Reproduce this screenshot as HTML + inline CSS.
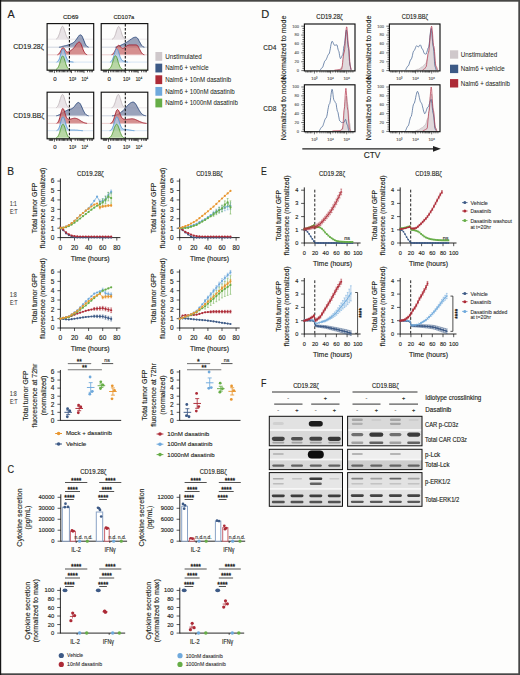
<!DOCTYPE html>
<html><head><meta charset="utf-8"><style>
html,body{margin:0;padding:0;background:#fdfdfc;}
svg{display:block;}
text{font-family:"Liberation Sans", sans-serif;}
</style></head><body>
<svg width="520" height="675" viewBox="0 0 520 675">
<rect width="520" height="675" fill="#fdfdfc"/>
<rect x="0.00" y="0.00" width="520.00" height="1.70" fill="#474745" />
<rect x="0.00" y="673.30" width="520.00" height="1.70" fill="#474747" />
<rect x="0.00" y="0.00" width="1.20" height="675.00" fill="#161616" />
<rect x="518.30" y="0.00" width="1.70" height="675.00" fill="#474747" />
<text x="7.60" y="17.80" font-size="11.2" text-anchor="start" fill="#231f20" stroke="#231f20" stroke-width="0.14" textLength="7.2" lengthAdjust="spacingAndGlyphs" >A</text>
<text x="70.70" y="19.10" font-size="6.0" text-anchor="middle" fill="#231f20" stroke="#231f20" stroke-width="0.14" textLength="15.6" lengthAdjust="spacingAndGlyphs" >CD69</text>
<text x="123.85" y="19.10" font-size="6.0" text-anchor="middle" fill="#231f20" stroke="#231f20" stroke-width="0.14" textLength="20.9" lengthAdjust="spacingAndGlyphs" >CD107a</text>
<text x="13.30" y="48.80" font-size="7.0" text-anchor="start" fill="#231f20" stroke="#231f20" stroke-width="0.14" textLength="30.5" lengthAdjust="spacingAndGlyphs" >CD19.28ζ</text>
<text x="13.30" y="117.60" font-size="7.0" text-anchor="start" fill="#231f20" stroke="#231f20" stroke-width="0.14" textLength="31" lengthAdjust="spacingAndGlyphs" >CD19.BBζ</text>
<rect x="155.40" y="52.00" width="6.80" height="8.80" fill="#cfc8cb" />
<text x="165.20" y="58.70" font-size="6.5" text-anchor="start" fill="#231f20" stroke="#231f20" stroke-width="0.04" textLength="36.5" lengthAdjust="spacingAndGlyphs" >Unstimulated</text>
<rect x="155.40" y="63.65" width="6.80" height="8.80" fill="#3d5a86" />
<text x="165.20" y="70.35" font-size="6.5" text-anchor="start" fill="#231f20" stroke="#231f20" stroke-width="0.04" textLength="43.5" lengthAdjust="spacingAndGlyphs" >Nalm6 + vehicle</text>
<rect x="155.40" y="75.30" width="6.80" height="8.80" fill="#ad2b37" />
<text x="165.20" y="82.00" font-size="6.5" text-anchor="start" fill="#231f20" stroke="#231f20" stroke-width="0.04" textLength="66" lengthAdjust="spacingAndGlyphs" >Nalm6 + 10nM dasatinib</text>
<rect x="155.40" y="86.95" width="6.80" height="8.80" fill="#6fa9dc" />
<text x="165.20" y="93.65" font-size="6.5" text-anchor="start" fill="#231f20" stroke="#231f20" stroke-width="0.04" textLength="69.5" lengthAdjust="spacingAndGlyphs" >Nalm6 + 100nM dasatinib</text>
<rect x="155.40" y="98.60" width="6.80" height="8.80" fill="#66ad47" />
<text x="165.20" y="105.30" font-size="6.5" text-anchor="start" fill="#231f20" stroke="#231f20" stroke-width="0.04" textLength="72.6" lengthAdjust="spacingAndGlyphs" >Nalm6 + 1000nM dasatinib</text>
<path d="M47.6,39.5 L47.6,39.5 L48.0,39.5 L48.4,39.5 L48.7,39.5 L49.1,39.5 L49.5,39.5 L49.9,39.5 L50.3,39.5 L50.6,39.5 L51.0,39.5 L51.4,39.5 L51.8,39.5 L52.2,39.5 L52.5,39.5 L52.9,39.5 L53.3,39.5 L53.7,39.5 L54.1,39.5 L54.4,39.5 L54.8,39.4 L55.2,39.4 L55.6,39.3 L56.0,39.2 L56.3,39.0 L56.7,38.8 L57.1,38.4 L57.5,38.0 L57.9,37.5 L58.2,36.8 L58.6,35.9 L59.0,34.9 L59.4,33.8 L59.8,32.6 L60.1,31.4 L60.5,30.1 L60.9,28.9 L61.3,27.9 L61.7,27.1 L62.0,26.5 L62.4,26.3 L62.8,26.4 L63.2,26.8 L63.6,27.5 L63.9,28.5 L64.3,29.6 L64.7,30.8 L65.1,32.1 L65.5,33.3 L65.8,34.5 L66.2,35.5 L66.6,36.4 L67.0,37.2 L67.4,37.8 L67.7,38.3 L68.1,38.6 L68.5,38.9 L68.9,39.1 L69.3,39.3 L69.6,39.3 L70.0,39.4 L70.4,39.4 L70.8,39.5 L71.2,39.5 L71.5,39.5 L71.9,39.5 L72.3,39.5 L72.7,39.5 L73.1,39.5 L73.4,39.5 L73.8,39.5 L74.2,39.5 L74.6,39.5 L75.0,39.5 L75.3,39.5 L75.7,39.5 L76.1,39.5 L76.5,39.5 L76.9,39.5 L77.2,39.5 L77.6,39.5 L78.0,39.5 L78.4,39.5 L78.8,39.5 L79.1,39.5 L79.5,39.5 L79.9,39.5 L80.3,39.5 L80.7,39.5 L81.0,39.5 L81.4,39.5 L81.8,39.5 L82.2,39.5 L82.6,39.5 L82.9,39.5 L83.3,39.5 L83.7,39.5 L84.1,39.5 L84.5,39.5 L84.8,39.5 L85.2,39.5 L85.6,39.5 L86.0,39.5 L86.4,39.5 L86.7,39.5 L87.1,39.5 L87.5,39.5 L87.9,39.5 L88.3,39.5 L88.6,39.5 L89.0,39.5 L89.4,39.5 L89.8,39.5 L90.2,39.5 L90.5,39.5 L90.9,39.5 L91.3,39.5 L91.7,39.5 L92.1,39.5 L92.4,39.5 L92.8,39.5 L93.2,39.5 L93.2,39.5Z" fill="#e3dde0" fill-opacity="0.78"/>
<line x1="47.60" y1="39.20" x2="93.20" y2="39.20" stroke="#ebe7e9" stroke-width="0.9" />
<path d="M56.0,39.2 L56.3,39.0 L56.7,38.8 L57.1,38.4 L57.5,38.0 L57.9,37.5 L58.2,36.8 L58.6,35.9 L59.0,34.9 L59.4,33.8 L59.8,32.6 L60.1,31.4 L60.5,30.1 L60.9,28.9 L61.3,27.9 L61.7,27.1 L62.0,26.5 L62.4,26.3 L62.8,26.4 L63.2,26.8 L63.6,27.5 L63.9,28.5 L64.3,29.6 L64.7,30.8 L65.1,32.1 L65.5,33.3 L65.8,34.5 L66.2,35.5 L66.6,36.4 L67.0,37.2 L67.4,37.8 L67.7,38.3 L68.1,38.6 L68.5,38.9 L68.9,39.1" fill="none" stroke="#c4bbbf" stroke-width="0.95" stroke-linejoin="round"/>
<path d="M47.6,47.5 L47.6,47.5 L48.0,47.5 L48.4,47.5 L48.7,47.5 L49.1,47.5 L49.5,47.5 L49.9,47.5 L50.3,47.5 L50.6,47.5 L51.0,47.5 L51.4,47.5 L51.8,47.5 L52.2,47.5 L52.5,47.5 L52.9,47.5 L53.3,47.5 L53.7,47.5 L54.1,47.5 L54.4,47.5 L54.8,47.5 L55.2,47.5 L55.6,47.5 L56.0,47.5 L56.3,47.5 L56.7,47.4 L57.1,47.4 L57.5,47.4 L57.9,47.4 L58.2,47.3 L58.6,47.3 L59.0,47.2 L59.4,47.2 L59.8,47.1 L60.1,47.0 L60.5,47.0 L60.9,46.9 L61.3,46.8 L61.7,46.7 L62.0,46.6 L62.4,46.4 L62.8,46.3 L63.2,46.2 L63.6,46.1 L63.9,46.0 L64.3,45.9 L64.7,45.8 L65.1,45.7 L65.5,45.7 L65.8,45.6 L66.2,45.5 L66.6,45.4 L67.0,45.3 L67.4,45.2 L67.7,45.1 L68.1,45.0 L68.5,44.8 L68.9,44.7 L69.3,44.6 L69.6,44.4 L70.0,44.3 L70.4,44.1 L70.8,44.0 L71.2,43.8 L71.5,43.6 L71.9,43.5 L72.3,43.3 L72.7,43.1 L73.1,42.8 L73.4,42.6 L73.8,42.3 L74.2,41.9 L74.6,41.6 L75.0,41.2 L75.3,40.8 L75.7,40.3 L76.1,39.8 L76.5,39.2 L76.9,38.7 L77.2,38.1 L77.6,37.5 L78.0,37.0 L78.4,36.4 L78.8,36.0 L79.1,35.6 L79.5,35.2 L79.9,35.0 L80.3,34.9 L80.7,34.9 L81.0,35.0 L81.4,35.3 L81.8,35.8 L82.2,36.4 L82.6,37.3 L82.9,38.2 L83.3,39.1 L83.7,40.1 L84.1,41.1 L84.5,42.1 L84.8,43.0 L85.2,43.8 L85.6,44.5 L86.0,45.2 L86.4,45.7 L86.7,46.1 L87.1,46.5 L87.5,46.7 L87.9,46.9 L88.3,47.1 L88.6,47.2 L89.0,47.3 L89.4,47.4 L89.8,47.4 L90.2,47.4 L90.5,47.5 L90.9,47.5 L91.3,47.5 L91.7,47.5 L92.1,47.5 L92.4,47.5 L92.8,47.5 L93.2,47.5 L93.2,47.5Z" fill="#7d89a8" fill-opacity="0.78"/>
<line x1="47.60" y1="47.20" x2="93.20" y2="47.20" stroke="#c9d0dc" stroke-width="0.9" />
<path d="M59.0,47.2 L59.4,47.2 L59.8,47.1 L60.1,47.0 L60.5,47.0 L60.9,46.9 L61.3,46.8 L61.7,46.7 L62.0,46.6 L62.4,46.4 L62.8,46.3 L63.2,46.2 L63.6,46.1 L63.9,46.0 L64.3,45.9 L64.7,45.8 L65.1,45.7 L65.5,45.7 L65.8,45.6 L66.2,45.5 L66.6,45.4 L67.0,45.3 L67.4,45.2 L67.7,45.1 L68.1,45.0 L68.5,44.8 L68.9,44.7 L69.3,44.6 L69.6,44.4 L70.0,44.3 L70.4,44.1 L70.8,44.0 L71.2,43.8 L71.5,43.6 L71.9,43.5 L72.3,43.3 L72.7,43.1 L73.1,42.8 L73.4,42.6 L73.8,42.3 L74.2,41.9 L74.6,41.6 L75.0,41.2 L75.3,40.8 L75.7,40.3 L76.1,39.8 L76.5,39.2 L76.9,38.7 L77.2,38.1 L77.6,37.5 L78.0,37.0 L78.4,36.4 L78.8,36.0 L79.1,35.6 L79.5,35.2 L79.9,35.0 L80.3,34.9 L80.7,34.9 L81.0,35.0 L81.4,35.3 L81.8,35.8 L82.2,36.4 L82.6,37.3 L82.9,38.2 L83.3,39.1 L83.7,40.1 L84.1,41.1 L84.5,42.1 L84.8,43.0 L85.2,43.8 L85.6,44.5 L86.0,45.2 L86.4,45.7 L86.7,46.1 L87.1,46.5 L87.5,46.7 L87.9,46.9 L88.3,47.1 L88.6,47.2" fill="none" stroke="#2d4a7c" stroke-width="0.95" stroke-linejoin="round"/>
<path d="M47.6,55.1 L47.6,55.1 L48.0,55.1 L48.4,55.1 L48.7,55.1 L49.1,55.1 L49.5,55.1 L49.9,55.1 L50.3,55.1 L50.6,55.1 L51.0,55.1 L51.4,55.1 L51.8,55.1 L52.2,55.1 L52.5,55.1 L52.9,55.1 L53.3,55.1 L53.7,55.1 L54.1,55.1 L54.4,55.1 L54.8,55.1 L55.2,55.1 L55.6,55.1 L56.0,55.1 L56.3,55.0 L56.7,55.0 L57.1,54.9 L57.5,54.8 L57.9,54.6 L58.2,54.4 L58.6,54.1 L59.0,53.7 L59.4,53.2 L59.8,52.7 L60.1,52.0 L60.5,51.3 L60.9,50.5 L61.3,49.8 L61.7,49.1 L62.0,48.5 L62.4,48.0 L62.8,47.8 L63.2,47.7 L63.6,47.9 L63.9,48.2 L64.3,48.6 L64.7,49.2 L65.1,49.8 L65.5,50.4 L65.8,50.9 L66.2,51.3 L66.6,51.7 L67.0,51.9 L67.4,52.0 L67.7,52.1 L68.1,52.0 L68.5,51.9 L68.9,51.7 L69.3,51.5 L69.6,51.3 L70.0,51.1 L70.4,50.8 L70.8,50.6 L71.2,50.3 L71.5,50.0 L71.9,49.8 L72.3,49.4 L72.7,49.1 L73.1,48.7 L73.4,48.3 L73.8,47.9 L74.2,47.4 L74.6,46.9 L75.0,46.4 L75.3,45.9 L75.7,45.3 L76.1,44.8 L76.5,44.2 L76.9,43.7 L77.2,43.3 L77.6,42.9 L78.0,42.6 L78.4,42.3 L78.8,42.2 L79.1,42.1 L79.5,42.1 L79.9,42.4 L80.3,42.8 L80.7,43.4 L81.0,44.2 L81.4,45.1 L81.8,46.1 L82.2,47.2 L82.6,48.2 L82.9,49.2 L83.3,50.1 L83.7,51.0 L84.1,51.8 L84.5,52.4 L84.8,53.0 L85.2,53.5 L85.6,53.9 L86.0,54.2 L86.4,54.4 L86.7,54.6 L87.1,54.8 L87.5,54.9 L87.9,54.9 L88.3,55.0 L88.6,55.0 L89.0,55.1 L89.4,55.1 L89.8,55.1 L90.2,55.1 L90.5,55.1 L90.9,55.1 L91.3,55.1 L91.7,55.1 L92.1,55.1 L92.4,55.1 L92.8,55.1 L93.2,55.1 L93.2,55.1Z" fill="#c9706f" fill-opacity="0.78"/>
<line x1="47.60" y1="54.80" x2="93.20" y2="54.80" stroke="#ebc9c9" stroke-width="0.9" />
<path d="M57.5,54.8 L57.9,54.6 L58.2,54.4 L58.6,54.1 L59.0,53.7 L59.4,53.2 L59.8,52.7 L60.1,52.0 L60.5,51.3 L60.9,50.5 L61.3,49.8 L61.7,49.1 L62.0,48.5 L62.4,48.0 L62.8,47.8 L63.2,47.7 L63.6,47.9 L63.9,48.2 L64.3,48.6 L64.7,49.2 L65.1,49.8 L65.5,50.4 L65.8,50.9 L66.2,51.3 L66.6,51.7 L67.0,51.9 L67.4,52.0 L67.7,52.1 L68.1,52.0 L68.5,51.9 L68.9,51.7 L69.3,51.5 L69.6,51.3 L70.0,51.1 L70.4,50.8 L70.8,50.6 L71.2,50.3 L71.5,50.0 L71.9,49.8 L72.3,49.4 L72.7,49.1 L73.1,48.7 L73.4,48.3 L73.8,47.9 L74.2,47.4 L74.6,46.9 L75.0,46.4 L75.3,45.9 L75.7,45.3 L76.1,44.8 L76.5,44.2 L76.9,43.7 L77.2,43.3 L77.6,42.9 L78.0,42.6 L78.4,42.3 L78.8,42.2 L79.1,42.1 L79.5,42.1 L79.9,42.4 L80.3,42.8 L80.7,43.4 L81.0,44.2 L81.4,45.1 L81.8,46.1 L82.2,47.2 L82.6,48.2 L82.9,49.2 L83.3,50.1 L83.7,51.0 L84.1,51.8 L84.5,52.4 L84.8,53.0 L85.2,53.5 L85.6,53.9 L86.0,54.2 L86.4,54.4 L86.7,54.6 L87.1,54.8" fill="none" stroke="#a3202f" stroke-width="0.95" stroke-linejoin="round"/>
<path d="M47.6,62.4 L47.6,62.4 L48.0,62.4 L48.4,62.4 L48.7,62.4 L49.1,62.4 L49.5,62.4 L49.9,62.4 L50.3,62.4 L50.6,62.4 L51.0,62.4 L51.4,62.4 L51.8,62.4 L52.2,62.4 L52.5,62.4 L52.9,62.4 L53.3,62.4 L53.7,62.4 L54.1,62.4 L54.4,62.4 L54.8,62.4 L55.2,62.4 L55.6,62.3 L56.0,62.3 L56.3,62.2 L56.7,62.1 L57.1,61.9 L57.5,61.7 L57.9,61.3 L58.2,60.8 L58.6,60.2 L59.0,59.5 L59.4,58.6 L59.8,57.5 L60.1,56.3 L60.5,55.0 L60.9,53.7 L61.3,52.4 L61.7,51.2 L62.0,50.3 L62.4,49.5 L62.8,49.2 L63.2,49.1 L63.6,49.4 L63.9,50.1 L64.3,51.0 L64.7,52.1 L65.1,53.3 L65.5,54.6 L65.8,55.8 L66.2,56.9 L66.6,58.0 L67.0,58.8 L67.4,59.5 L67.7,60.1 L68.1,60.5 L68.5,60.9 L68.9,61.1 L69.3,61.3 L69.6,61.4 L70.0,61.5 L70.4,61.6 L70.8,61.7 L71.2,61.7 L71.5,61.8 L71.9,61.9 L72.3,61.9 L72.7,62.0 L73.1,62.1 L73.4,62.1 L73.8,62.2 L74.2,62.2 L74.6,62.2 L75.0,62.3 L75.3,62.3 L75.7,62.3 L76.1,62.3 L76.5,62.4 L76.9,62.4 L77.2,62.4 L77.6,62.4 L78.0,62.4 L78.4,62.4 L78.8,62.4 L79.1,62.4 L79.5,62.4 L79.9,62.4 L80.3,62.4 L80.7,62.4 L81.0,62.4 L81.4,62.4 L81.8,62.4 L82.2,62.4 L82.6,62.4 L82.9,62.4 L83.3,62.4 L83.7,62.4 L84.1,62.4 L84.5,62.4 L84.8,62.4 L85.2,62.4 L85.6,62.4 L86.0,62.4 L86.4,62.4 L86.7,62.4 L87.1,62.4 L87.5,62.4 L87.9,62.4 L88.3,62.4 L88.6,62.4 L89.0,62.4 L89.4,62.4 L89.8,62.4 L90.2,62.4 L90.5,62.4 L90.9,62.4 L91.3,62.4 L91.7,62.4 L92.1,62.4 L92.4,62.4 L92.8,62.4 L93.2,62.4 L93.2,62.4Z" fill="#a9c8e8" fill-opacity="0.78"/>
<line x1="47.60" y1="62.10" x2="93.20" y2="62.10" stroke="#d3e3f3" stroke-width="0.9" />
<path d="M56.7,62.1 L57.1,61.9 L57.5,61.7 L57.9,61.3 L58.2,60.8 L58.6,60.2 L59.0,59.5 L59.4,58.6 L59.8,57.5 L60.1,56.3 L60.5,55.0 L60.9,53.7 L61.3,52.4 L61.7,51.2 L62.0,50.3 L62.4,49.5 L62.8,49.2 L63.2,49.1 L63.6,49.4 L63.9,50.1 L64.3,51.0 L64.7,52.1 L65.1,53.3 L65.5,54.6 L65.8,55.8 L66.2,56.9 L66.6,58.0 L67.0,58.8 L67.4,59.5 L67.7,60.1 L68.1,60.5 L68.5,60.9 L68.9,61.1 L69.3,61.3 L69.6,61.4 L70.0,61.5 L70.4,61.6 L70.8,61.7 L71.2,61.7 L71.5,61.8 L71.9,61.9 L72.3,61.9 L72.7,62.0 L73.1,62.1 L73.4,62.1" fill="none" stroke="#5b9bd5" stroke-width="0.95" stroke-linejoin="round"/>
<path d="M47.6,69.6 L47.6,69.6 L48.0,69.6 L48.4,69.6 L48.7,69.6 L49.1,69.6 L49.5,69.6 L49.9,69.6 L50.3,69.6 L50.6,69.6 L51.0,69.6 L51.4,69.6 L51.8,69.6 L52.2,69.6 L52.5,69.6 L52.9,69.6 L53.3,69.6 L53.7,69.6 L54.1,69.6 L54.4,69.6 L54.8,69.5 L55.2,69.5 L55.6,69.4 L56.0,69.3 L56.3,69.2 L56.7,69.0 L57.1,68.7 L57.5,68.3 L57.9,67.8 L58.2,67.2 L58.6,66.4 L59.0,65.5 L59.4,64.4 L59.8,63.2 L60.1,61.9 L60.5,60.6 L60.9,59.3 L61.3,58.2 L61.7,57.2 L62.0,56.5 L62.4,56.1 L62.8,56.0 L63.2,56.3 L63.6,56.8 L63.9,57.7 L64.3,58.8 L64.7,60.0 L65.1,61.3 L65.5,62.6 L65.8,63.8 L66.2,65.0 L66.6,66.0 L67.0,66.8 L67.4,67.5 L67.7,68.1 L68.1,68.5 L68.5,68.9 L68.9,69.1 L69.3,69.3 L69.6,69.4 L70.0,69.5 L70.4,69.5 L70.8,69.6 L71.2,69.6 L71.5,69.6 L71.9,69.6 L72.3,69.6 L72.7,69.6 L73.1,69.6 L73.4,69.6 L73.8,69.6 L74.2,69.6 L74.6,69.6 L75.0,69.6 L75.3,69.6 L75.7,69.6 L76.1,69.6 L76.5,69.6 L76.9,69.6 L77.2,69.6 L77.6,69.6 L78.0,69.6 L78.4,69.6 L78.8,69.6 L79.1,69.6 L79.5,69.6 L79.9,69.6 L80.3,69.6 L80.7,69.6 L81.0,69.6 L81.4,69.6 L81.8,69.6 L82.2,69.6 L82.6,69.6 L82.9,69.6 L83.3,69.6 L83.7,69.6 L84.1,69.6 L84.5,69.6 L84.8,69.6 L85.2,69.6 L85.6,69.6 L86.0,69.6 L86.4,69.6 L86.7,69.6 L87.1,69.6 L87.5,69.6 L87.9,69.6 L88.3,69.6 L88.6,69.6 L89.0,69.6 L89.4,69.6 L89.8,69.6 L90.2,69.6 L90.5,69.6 L90.9,69.6 L91.3,69.6 L91.7,69.6 L92.1,69.6 L92.4,69.6 L92.8,69.6 L93.2,69.6 L93.2,69.6Z" fill="#a4cc8c" fill-opacity="0.78"/>
<line x1="47.60" y1="69.30" x2="93.20" y2="69.30" stroke="#d3e8c6" stroke-width="0.9" />
<path d="M56.0,69.3 L56.3,69.2 L56.7,69.0 L57.1,68.7 L57.5,68.3 L57.9,67.8 L58.2,67.2 L58.6,66.4 L59.0,65.5 L59.4,64.4 L59.8,63.2 L60.1,61.9 L60.5,60.6 L60.9,59.3 L61.3,58.2 L61.7,57.2 L62.0,56.5 L62.4,56.1 L62.8,56.0 L63.2,56.3 L63.6,56.8 L63.9,57.7 L64.3,58.8 L64.7,60.0 L65.1,61.3 L65.5,62.6 L65.8,63.8 L66.2,65.0 L66.6,66.0 L67.0,66.8 L67.4,67.5 L67.7,68.1 L68.1,68.5 L68.5,68.9 L68.9,69.1 L69.3,69.3" fill="none" stroke="#5a9e3a" stroke-width="0.95" stroke-linejoin="round"/>
<line x1="69.40" y1="24.10" x2="69.40" y2="70.20" stroke="#111" stroke-width="1.05" stroke-dasharray="2.5,1.5"/>
<rect x="47.10" y="23.60" width="46.60" height="46.60" fill="none" stroke="#111" stroke-width="1.15" />
<line x1="49.30" y1="70.20" x2="49.30" y2="72.30" stroke="#111" stroke-width="0.7" />
<line x1="50.50" y1="70.20" x2="50.50" y2="72.30" stroke="#111" stroke-width="0.7" />
<line x1="51.50" y1="70.20" x2="51.50" y2="72.30" stroke="#111" stroke-width="0.7" />
<line x1="52.50" y1="70.20" x2="52.50" y2="72.30" stroke="#111" stroke-width="0.7" />
<line x1="54.40" y1="70.20" x2="54.40" y2="73.10" stroke="#111" stroke-width="0.7" />
<line x1="56.50" y1="70.20" x2="56.50" y2="72.30" stroke="#111" stroke-width="0.7" />
<line x1="58.00" y1="70.20" x2="58.00" y2="72.30" stroke="#111" stroke-width="0.7" />
<line x1="59.50" y1="70.20" x2="59.50" y2="72.30" stroke="#111" stroke-width="0.7" />
<line x1="61.00" y1="70.20" x2="61.00" y2="72.30" stroke="#111" stroke-width="0.7" />
<line x1="62.30" y1="70.20" x2="62.30" y2="72.30" stroke="#111" stroke-width="0.7" />
<line x1="63.50" y1="70.20" x2="63.50" y2="72.30" stroke="#111" stroke-width="0.7" />
<line x1="64.60" y1="70.20" x2="64.60" y2="72.30" stroke="#111" stroke-width="0.7" />
<line x1="66.00" y1="70.20" x2="66.00" y2="72.30" stroke="#111" stroke-width="0.7" />
<line x1="67.50" y1="70.20" x2="67.50" y2="72.30" stroke="#111" stroke-width="0.7" />
<line x1="69.00" y1="70.20" x2="69.00" y2="72.30" stroke="#111" stroke-width="0.7" />
<line x1="70.50" y1="70.20" x2="70.50" y2="72.30" stroke="#111" stroke-width="0.7" />
<line x1="71.50" y1="70.20" x2="71.50" y2="73.10" stroke="#111" stroke-width="0.7" />
<line x1="75.20" y1="70.20" x2="75.20" y2="72.30" stroke="#111" stroke-width="0.7" />
<line x1="77.40" y1="70.20" x2="77.40" y2="72.30" stroke="#111" stroke-width="0.7" />
<line x1="79.00" y1="70.20" x2="79.00" y2="72.30" stroke="#111" stroke-width="0.7" />
<line x1="80.20" y1="70.20" x2="80.20" y2="72.30" stroke="#111" stroke-width="0.7" />
<line x1="81.20" y1="70.20" x2="81.20" y2="72.30" stroke="#111" stroke-width="0.7" />
<line x1="82.10" y1="70.20" x2="82.10" y2="72.30" stroke="#111" stroke-width="0.7" />
<line x1="83.00" y1="70.20" x2="83.00" y2="72.30" stroke="#111" stroke-width="0.7" />
<line x1="84.00" y1="70.20" x2="84.00" y2="73.10" stroke="#111" stroke-width="0.7" />
<line x1="87.50" y1="70.20" x2="87.50" y2="72.30" stroke="#111" stroke-width="0.7" />
<line x1="89.70" y1="70.20" x2="89.70" y2="72.30" stroke="#111" stroke-width="0.7" />
<line x1="91.20" y1="70.20" x2="91.20" y2="72.30" stroke="#111" stroke-width="0.7" />
<line x1="92.40" y1="70.20" x2="92.40" y2="72.30" stroke="#111" stroke-width="0.7" />
<text x="55.00" y="80.60" font-size="6.1" text-anchor="middle" fill="#231f20" stroke="#231f20" stroke-width="0.14" >0</text>
<text x="72.50" y="80.60" font-size="6.1" text-anchor="middle" fill="#231f20" stroke="#231f20" stroke-width="0.14" textLength="7.0" lengthAdjust="spacingAndGlyphs" >10³</text>
<text x="84.90" y="80.60" font-size="6.1" text-anchor="middle" fill="#231f20" stroke="#231f20" stroke-width="0.14" textLength="6.6" lengthAdjust="spacingAndGlyphs" >10⁴</text>
<path d="M101.7,39.5 L101.7,39.5 L102.1,39.5 L102.5,39.5 L102.8,39.5 L103.2,39.5 L103.6,39.5 L104.0,39.5 L104.4,39.5 L104.7,39.5 L105.1,39.5 L105.5,39.5 L105.9,39.5 L106.3,39.5 L106.6,39.5 L107.0,39.5 L107.4,39.5 L107.8,39.5 L108.2,39.5 L108.5,39.5 L108.9,39.5 L109.3,39.5 L109.7,39.5 L110.1,39.5 L110.4,39.5 L110.8,39.4 L111.2,39.4 L111.6,39.3 L112.0,39.2 L112.3,39.1 L112.7,38.9 L113.1,38.6 L113.5,38.3 L113.9,37.8 L114.2,37.2 L114.6,36.4 L115.0,35.5 L115.4,34.5 L115.8,33.4 L116.1,32.1 L116.5,30.9 L116.9,29.7 L117.3,28.6 L117.7,27.7 L118.0,27.0 L118.4,26.6 L118.8,26.5 L119.2,26.8 L119.6,27.3 L119.9,28.1 L120.3,29.1 L120.7,30.3 L121.1,31.5 L121.5,32.8 L121.8,34.0 L122.2,35.1 L122.6,36.0 L123.0,36.8 L123.4,37.5 L123.7,38.1 L124.1,38.5 L124.5,38.8 L124.9,39.0 L125.3,39.2 L125.6,39.3 L126.0,39.4 L126.4,39.4 L126.8,39.5 L127.2,39.5 L127.5,39.5 L127.9,39.5 L128.3,39.5 L128.7,39.5 L129.1,39.5 L129.4,39.5 L129.8,39.5 L130.2,39.5 L130.6,39.5 L131.0,39.5 L131.3,39.5 L131.7,39.5 L132.1,39.5 L132.5,39.5 L132.9,39.5 L133.2,39.5 L133.6,39.5 L134.0,39.5 L134.4,39.5 L134.8,39.5 L135.1,39.5 L135.5,39.5 L135.9,39.5 L136.3,39.5 L136.7,39.5 L137.0,39.5 L137.4,39.5 L137.8,39.5 L138.2,39.5 L138.6,39.5 L138.9,39.5 L139.3,39.5 L139.7,39.5 L140.1,39.5 L140.5,39.5 L140.8,39.5 L141.2,39.5 L141.6,39.5 L142.0,39.5 L142.4,39.5 L142.7,39.5 L143.1,39.5 L143.5,39.5 L143.9,39.5 L144.3,39.5 L144.6,39.5 L145.0,39.5 L145.4,39.5 L145.8,39.5 L146.2,39.5 L146.5,39.5 L146.9,39.5 L147.3,39.5 L147.3,39.5Z" fill="#e3dde0" fill-opacity="0.78"/>
<line x1="101.70" y1="39.20" x2="147.30" y2="39.20" stroke="#ebe7e9" stroke-width="0.9" />
<path d="M112.0,39.2 L112.3,39.1 L112.7,38.9 L113.1,38.6 L113.5,38.3 L113.9,37.8 L114.2,37.2 L114.6,36.4 L115.0,35.5 L115.4,34.5 L115.8,33.4 L116.1,32.1 L116.5,30.9 L116.9,29.7 L117.3,28.6 L117.7,27.7 L118.0,27.0 L118.4,26.6 L118.8,26.5 L119.2,26.8 L119.6,27.3 L119.9,28.1 L120.3,29.1 L120.7,30.3 L121.1,31.5 L121.5,32.8 L121.8,34.0 L122.2,35.1 L122.6,36.0 L123.0,36.8 L123.4,37.5 L123.7,38.1 L124.1,38.5 L124.5,38.8 L124.9,39.0 L125.3,39.2" fill="none" stroke="#c4bbbf" stroke-width="0.95" stroke-linejoin="round"/>
<path d="M101.7,47.5 L101.7,47.5 L102.1,47.5 L102.5,47.5 L102.8,47.5 L103.2,47.5 L103.6,47.5 L104.0,47.5 L104.4,47.5 L104.7,47.5 L105.1,47.5 L105.5,47.5 L105.9,47.5 L106.3,47.5 L106.6,47.5 L107.0,47.5 L107.4,47.5 L107.8,47.5 L108.2,47.5 L108.5,47.5 L108.9,47.5 L109.3,47.5 L109.7,47.5 L110.1,47.5 L110.4,47.5 L110.8,47.5 L111.2,47.5 L111.6,47.5 L112.0,47.5 L112.3,47.5 L112.7,47.5 L113.1,47.4 L113.5,47.4 L113.9,47.4 L114.2,47.4 L114.6,47.3 L115.0,47.3 L115.4,47.2 L115.8,47.2 L116.1,47.1 L116.5,47.0 L116.9,46.9 L117.3,46.8 L117.7,46.6 L118.0,46.5 L118.4,46.4 L118.8,46.2 L119.2,46.0 L119.6,45.8 L119.9,45.7 L120.3,45.5 L120.7,45.3 L121.1,45.1 L121.5,44.9 L121.8,44.8 L122.2,44.6 L122.6,44.4 L123.0,44.2 L123.4,44.0 L123.7,43.9 L124.1,43.7 L124.5,43.5 L124.9,43.3 L125.3,43.1 L125.6,42.9 L126.0,42.6 L126.4,42.4 L126.8,42.2 L127.2,41.9 L127.5,41.7 L127.9,41.4 L128.3,41.2 L128.7,40.9 L129.1,40.6 L129.4,40.4 L129.8,40.1 L130.2,39.8 L130.6,39.5 L131.0,39.3 L131.3,39.0 L131.7,38.7 L132.1,38.5 L132.5,38.2 L132.9,38.0 L133.2,37.8 L133.6,37.6 L134.0,37.5 L134.4,37.4 L134.8,37.3 L135.1,37.3 L135.5,37.2 L135.9,37.3 L136.3,37.4 L136.7,37.5 L137.0,37.8 L137.4,38.1 L137.8,38.6 L138.2,39.2 L138.6,39.9 L138.9,40.6 L139.3,41.4 L139.7,42.1 L140.1,42.8 L140.5,43.5 L140.8,44.2 L141.2,44.7 L141.6,45.3 L142.0,45.7 L142.4,46.1 L142.7,46.4 L143.1,46.7 L143.5,46.9 L143.9,47.0 L144.3,47.2 L144.6,47.3 L145.0,47.3 L145.4,47.4 L145.8,47.4 L146.2,47.4 L146.5,47.5 L146.9,47.5 L147.3,47.5 L147.3,47.5Z" fill="#7d89a8" fill-opacity="0.78"/>
<line x1="101.70" y1="47.20" x2="147.30" y2="47.20" stroke="#c9d0dc" stroke-width="0.9" />
<path d="M115.4,47.2 L115.8,47.2 L116.1,47.1 L116.5,47.0 L116.9,46.9 L117.3,46.8 L117.7,46.6 L118.0,46.5 L118.4,46.4 L118.8,46.2 L119.2,46.0 L119.6,45.8 L119.9,45.7 L120.3,45.5 L120.7,45.3 L121.1,45.1 L121.5,44.9 L121.8,44.8 L122.2,44.6 L122.6,44.4 L123.0,44.2 L123.4,44.0 L123.7,43.9 L124.1,43.7 L124.5,43.5 L124.9,43.3 L125.3,43.1 L125.6,42.9 L126.0,42.6 L126.4,42.4 L126.8,42.2 L127.2,41.9 L127.5,41.7 L127.9,41.4 L128.3,41.2 L128.7,40.9 L129.1,40.6 L129.4,40.4 L129.8,40.1 L130.2,39.8 L130.6,39.5 L131.0,39.3 L131.3,39.0 L131.7,38.7 L132.1,38.5 L132.5,38.2 L132.9,38.0 L133.2,37.8 L133.6,37.6 L134.0,37.5 L134.4,37.4 L134.8,37.3 L135.1,37.3 L135.5,37.2 L135.9,37.3 L136.3,37.4 L136.7,37.5 L137.0,37.8 L137.4,38.1 L137.8,38.6 L138.2,39.2 L138.6,39.9 L138.9,40.6 L139.3,41.4 L139.7,42.1 L140.1,42.8 L140.5,43.5 L140.8,44.2 L141.2,44.7 L141.6,45.3 L142.0,45.7 L142.4,46.1 L142.7,46.4 L143.1,46.7 L143.5,46.9 L143.9,47.0 L144.3,47.2" fill="none" stroke="#2d4a7c" stroke-width="0.95" stroke-linejoin="round"/>
<path d="M101.7,55.1 L101.7,55.1 L102.1,55.1 L102.5,55.1 L102.8,55.1 L103.2,55.1 L103.6,55.1 L104.0,55.1 L104.4,55.1 L104.7,55.1 L105.1,55.1 L105.5,55.1 L105.9,55.1 L106.3,55.1 L106.6,55.1 L107.0,55.1 L107.4,55.1 L107.8,55.1 L108.2,55.1 L108.5,55.1 L108.9,55.1 L109.3,55.1 L109.7,55.1 L110.1,55.0 L110.4,55.0 L110.8,54.9 L111.2,54.9 L111.6,54.7 L112.0,54.6 L112.3,54.4 L112.7,54.1 L113.1,53.8 L113.5,53.4 L113.9,52.8 L114.2,52.2 L114.6,51.6 L115.0,50.8 L115.4,50.0 L115.8,49.2 L116.1,48.4 L116.5,47.6 L116.9,46.9 L117.3,46.3 L117.7,45.8 L118.0,45.5 L118.4,45.4 L118.8,45.4 L119.2,45.6 L119.6,45.8 L119.9,46.2 L120.3,46.6 L120.7,47.0 L121.1,47.4 L121.5,47.8 L121.8,48.1 L122.2,48.2 L122.6,48.3 L123.0,48.3 L123.4,48.2 L123.7,48.1 L124.1,47.9 L124.5,47.6 L124.9,47.3 L125.3,47.0 L125.6,46.7 L126.0,46.4 L126.4,46.2 L126.8,45.9 L127.2,45.7 L127.5,45.5 L127.9,45.3 L128.3,45.2 L128.7,45.1 L129.1,45.0 L129.4,44.9 L129.8,44.9 L130.2,44.9 L130.6,44.9 L131.0,44.9 L131.3,44.9 L131.7,44.9 L132.1,44.9 L132.5,44.9 L132.9,44.9 L133.2,44.9 L133.6,44.9 L134.0,44.9 L134.4,44.9 L134.8,44.9 L135.1,44.9 L135.5,44.9 L135.9,44.9 L136.3,45.0 L136.7,45.1 L137.0,45.2 L137.4,45.5 L137.8,46.0 L138.2,46.5 L138.6,47.2 L138.9,47.9 L139.3,48.7 L139.7,49.4 L140.1,50.2 L140.5,50.9 L140.8,51.6 L141.2,52.2 L141.6,52.8 L142.0,53.3 L142.4,53.7 L142.7,54.0 L143.1,54.3 L143.5,54.5 L143.9,54.7 L144.3,54.8 L144.6,54.9 L145.0,54.9 L145.4,55.0 L145.8,55.0 L146.2,55.1 L146.5,55.1 L146.9,55.1 L147.3,55.1 L147.3,55.1Z" fill="#c9706f" fill-opacity="0.78"/>
<line x1="101.70" y1="54.80" x2="147.30" y2="54.80" stroke="#ebc9c9" stroke-width="0.9" />
<path d="M111.6,54.7 L112.0,54.6 L112.3,54.4 L112.7,54.1 L113.1,53.8 L113.5,53.4 L113.9,52.8 L114.2,52.2 L114.6,51.6 L115.0,50.8 L115.4,50.0 L115.8,49.2 L116.1,48.4 L116.5,47.6 L116.9,46.9 L117.3,46.3 L117.7,45.8 L118.0,45.5 L118.4,45.4 L118.8,45.4 L119.2,45.6 L119.6,45.8 L119.9,46.2 L120.3,46.6 L120.7,47.0 L121.1,47.4 L121.5,47.8 L121.8,48.1 L122.2,48.2 L122.6,48.3 L123.0,48.3 L123.4,48.2 L123.7,48.1 L124.1,47.9 L124.5,47.6 L124.9,47.3 L125.3,47.0 L125.6,46.7 L126.0,46.4 L126.4,46.2 L126.8,45.9 L127.2,45.7 L127.5,45.5 L127.9,45.3 L128.3,45.2 L128.7,45.1 L129.1,45.0 L129.4,44.9 L129.8,44.9 L130.2,44.9 L130.6,44.9 L131.0,44.9 L131.3,44.9 L131.7,44.9 L132.1,44.9 L132.5,44.9 L132.9,44.9 L133.2,44.9 L133.6,44.9 L134.0,44.9 L134.4,44.9 L134.8,44.9 L135.1,44.9 L135.5,44.9 L135.9,44.9 L136.3,45.0 L136.7,45.1 L137.0,45.2 L137.4,45.5 L137.8,46.0 L138.2,46.5 L138.6,47.2 L138.9,47.9 L139.3,48.7 L139.7,49.4 L140.1,50.2 L140.5,50.9 L140.8,51.6 L141.2,52.2 L141.6,52.8 L142.0,53.3 L142.4,53.7 L142.7,54.0 L143.1,54.3 L143.5,54.5 L143.9,54.7 L144.3,54.8" fill="none" stroke="#a3202f" stroke-width="0.95" stroke-linejoin="round"/>
<path d="M101.7,62.4 L101.7,62.4 L102.1,62.4 L102.5,62.4 L102.8,62.4 L103.2,62.4 L103.6,62.4 L104.0,62.4 L104.4,62.4 L104.7,62.4 L105.1,62.4 L105.5,62.4 L105.9,62.4 L106.3,62.4 L106.6,62.4 L107.0,62.4 L107.4,62.4 L107.8,62.4 L108.2,62.4 L108.5,62.4 L108.9,62.3 L109.3,62.3 L109.7,62.2 L110.1,62.1 L110.4,61.9 L110.8,61.7 L111.2,61.4 L111.6,61.0 L112.0,60.5 L112.3,59.8 L112.7,59.0 L113.1,58.0 L113.5,56.9 L113.9,55.6 L114.2,54.3 L114.6,53.0 L115.0,51.8 L115.4,50.7 L115.8,49.8 L116.1,49.1 L116.5,48.8 L116.9,48.7 L117.3,49.0 L117.7,49.7 L118.0,50.5 L118.4,51.6 L118.8,52.8 L119.2,54.0 L119.6,55.2 L119.9,56.4 L120.3,57.4 L120.7,58.3 L121.1,59.0 L121.5,59.7 L121.8,60.1 L122.2,60.5 L122.6,60.8 L123.0,61.0 L123.4,61.1 L123.7,61.2 L124.1,61.3 L124.5,61.4 L124.9,61.5 L125.3,61.6 L125.6,61.7 L126.0,61.7 L126.4,61.8 L126.8,61.9 L127.2,62.0 L127.5,62.0 L127.9,62.1 L128.3,62.2 L128.7,62.2 L129.1,62.3 L129.4,62.3 L129.8,62.3 L130.2,62.3 L130.6,62.4 L131.0,62.4 L131.3,62.4 L131.7,62.4 L132.1,62.4 L132.5,62.4 L132.9,62.4 L133.2,62.4 L133.6,62.4 L134.0,62.4 L134.4,62.4 L134.8,62.4 L135.1,62.4 L135.5,62.4 L135.9,62.4 L136.3,62.4 L136.7,62.4 L137.0,62.4 L137.4,62.4 L137.8,62.4 L138.2,62.4 L138.6,62.4 L138.9,62.4 L139.3,62.4 L139.7,62.4 L140.1,62.4 L140.5,62.4 L140.8,62.4 L141.2,62.4 L141.6,62.4 L142.0,62.4 L142.4,62.4 L142.7,62.4 L143.1,62.4 L143.5,62.4 L143.9,62.4 L144.3,62.4 L144.6,62.4 L145.0,62.4 L145.4,62.4 L145.8,62.4 L146.2,62.4 L146.5,62.4 L146.9,62.4 L147.3,62.4 L147.3,62.4Z" fill="#a9c8e8" fill-opacity="0.78"/>
<line x1="101.70" y1="62.10" x2="147.30" y2="62.10" stroke="#d3e3f3" stroke-width="0.9" />
<path d="M110.1,62.1 L110.4,61.9 L110.8,61.7 L111.2,61.4 L111.6,61.0 L112.0,60.5 L112.3,59.8 L112.7,59.0 L113.1,58.0 L113.5,56.9 L113.9,55.6 L114.2,54.3 L114.6,53.0 L115.0,51.8 L115.4,50.7 L115.8,49.8 L116.1,49.1 L116.5,48.8 L116.9,48.7 L117.3,49.0 L117.7,49.7 L118.0,50.5 L118.4,51.6 L118.8,52.8 L119.2,54.0 L119.6,55.2 L119.9,56.4 L120.3,57.4 L120.7,58.3 L121.1,59.0 L121.5,59.7 L121.8,60.1 L122.2,60.5 L122.6,60.8 L123.0,61.0 L123.4,61.1 L123.7,61.2 L124.1,61.3 L124.5,61.4 L124.9,61.5 L125.3,61.6 L125.6,61.7 L126.0,61.7 L126.4,61.8 L126.8,61.9 L127.2,62.0 L127.5,62.0 L127.9,62.1" fill="none" stroke="#5b9bd5" stroke-width="0.95" stroke-linejoin="round"/>
<path d="M101.7,69.6 L101.7,69.6 L102.1,69.6 L102.5,69.6 L102.8,69.6 L103.2,69.6 L103.6,69.6 L104.0,69.6 L104.4,69.6 L104.7,69.6 L105.1,69.6 L105.5,69.6 L105.9,69.6 L106.3,69.6 L106.6,69.6 L107.0,69.6 L107.4,69.5 L107.8,69.5 L108.2,69.4 L108.5,69.3 L108.9,69.2 L109.3,69.0 L109.7,68.7 L110.1,68.3 L110.4,67.8 L110.8,67.2 L111.2,66.5 L111.6,65.6 L112.0,64.5 L112.3,63.4 L112.7,62.2 L113.1,60.9 L113.5,59.6 L113.9,58.5 L114.2,57.4 L114.6,56.6 L115.0,56.1 L115.4,55.8 L115.8,55.9 L116.1,56.2 L116.5,56.9 L116.9,57.8 L117.3,58.9 L117.7,60.1 L118.0,61.4 L118.4,62.6 L118.8,63.8 L119.2,64.9 L119.6,65.9 L119.9,66.7 L120.3,67.4 L120.7,68.0 L121.1,68.5 L121.5,68.8 L121.8,69.0 L122.2,69.2 L122.6,69.4 L123.0,69.4 L123.4,69.5 L123.7,69.5 L124.1,69.6 L124.5,69.6 L124.9,69.6 L125.3,69.6 L125.6,69.6 L126.0,69.6 L126.4,69.6 L126.8,69.6 L127.2,69.6 L127.5,69.6 L127.9,69.6 L128.3,69.6 L128.7,69.6 L129.1,69.6 L129.4,69.6 L129.8,69.6 L130.2,69.6 L130.6,69.6 L131.0,69.6 L131.3,69.6 L131.7,69.6 L132.1,69.6 L132.5,69.6 L132.9,69.6 L133.2,69.6 L133.6,69.6 L134.0,69.6 L134.4,69.6 L134.8,69.6 L135.1,69.6 L135.5,69.6 L135.9,69.6 L136.3,69.6 L136.7,69.6 L137.0,69.6 L137.4,69.6 L137.8,69.6 L138.2,69.6 L138.6,69.6 L138.9,69.6 L139.3,69.6 L139.7,69.6 L140.1,69.6 L140.5,69.6 L140.8,69.6 L141.2,69.6 L141.6,69.6 L142.0,69.6 L142.4,69.6 L142.7,69.6 L143.1,69.6 L143.5,69.6 L143.9,69.6 L144.3,69.6 L144.6,69.6 L145.0,69.6 L145.4,69.6 L145.8,69.6 L146.2,69.6 L146.5,69.6 L146.9,69.6 L147.3,69.6 L147.3,69.6Z" fill="#a4cc8c" fill-opacity="0.78"/>
<line x1="101.70" y1="69.30" x2="147.30" y2="69.30" stroke="#d3e8c6" stroke-width="0.9" />
<path d="M108.5,69.3 L108.9,69.2 L109.3,69.0 L109.7,68.7 L110.1,68.3 L110.4,67.8 L110.8,67.2 L111.2,66.5 L111.6,65.6 L112.0,64.5 L112.3,63.4 L112.7,62.2 L113.1,60.9 L113.5,59.6 L113.9,58.5 L114.2,57.4 L114.6,56.6 L115.0,56.1 L115.4,55.8 L115.8,55.9 L116.1,56.2 L116.5,56.9 L116.9,57.8 L117.3,58.9 L117.7,60.1 L118.0,61.4 L118.4,62.6 L118.8,63.8 L119.2,64.9 L119.6,65.9 L119.9,66.7 L120.3,67.4 L120.7,68.0 L121.1,68.5 L121.5,68.8 L121.8,69.0 L122.2,69.2" fill="none" stroke="#5a9e3a" stroke-width="0.95" stroke-linejoin="round"/>
<line x1="125.30" y1="24.10" x2="125.30" y2="70.20" stroke="#111" stroke-width="1.05" stroke-dasharray="2.5,1.5"/>
<rect x="101.20" y="23.60" width="46.60" height="46.60" fill="none" stroke="#111" stroke-width="1.15" />
<line x1="103.40" y1="70.20" x2="103.40" y2="72.30" stroke="#111" stroke-width="0.7" />
<line x1="104.60" y1="70.20" x2="104.60" y2="72.30" stroke="#111" stroke-width="0.7" />
<line x1="105.60" y1="70.20" x2="105.60" y2="72.30" stroke="#111" stroke-width="0.7" />
<line x1="106.60" y1="70.20" x2="106.60" y2="72.30" stroke="#111" stroke-width="0.7" />
<line x1="108.50" y1="70.20" x2="108.50" y2="73.10" stroke="#111" stroke-width="0.7" />
<line x1="110.60" y1="70.20" x2="110.60" y2="72.30" stroke="#111" stroke-width="0.7" />
<line x1="112.10" y1="70.20" x2="112.10" y2="72.30" stroke="#111" stroke-width="0.7" />
<line x1="113.60" y1="70.20" x2="113.60" y2="72.30" stroke="#111" stroke-width="0.7" />
<line x1="115.10" y1="70.20" x2="115.10" y2="72.30" stroke="#111" stroke-width="0.7" />
<line x1="116.40" y1="70.20" x2="116.40" y2="72.30" stroke="#111" stroke-width="0.7" />
<line x1="117.60" y1="70.20" x2="117.60" y2="72.30" stroke="#111" stroke-width="0.7" />
<line x1="118.70" y1="70.20" x2="118.70" y2="72.30" stroke="#111" stroke-width="0.7" />
<line x1="120.10" y1="70.20" x2="120.10" y2="72.30" stroke="#111" stroke-width="0.7" />
<line x1="121.60" y1="70.20" x2="121.60" y2="72.30" stroke="#111" stroke-width="0.7" />
<line x1="123.10" y1="70.20" x2="123.10" y2="72.30" stroke="#111" stroke-width="0.7" />
<line x1="124.60" y1="70.20" x2="124.60" y2="72.30" stroke="#111" stroke-width="0.7" />
<line x1="125.60" y1="70.20" x2="125.60" y2="73.10" stroke="#111" stroke-width="0.7" />
<line x1="129.30" y1="70.20" x2="129.30" y2="72.30" stroke="#111" stroke-width="0.7" />
<line x1="131.50" y1="70.20" x2="131.50" y2="72.30" stroke="#111" stroke-width="0.7" />
<line x1="133.10" y1="70.20" x2="133.10" y2="72.30" stroke="#111" stroke-width="0.7" />
<line x1="134.30" y1="70.20" x2="134.30" y2="72.30" stroke="#111" stroke-width="0.7" />
<line x1="135.30" y1="70.20" x2="135.30" y2="72.30" stroke="#111" stroke-width="0.7" />
<line x1="136.20" y1="70.20" x2="136.20" y2="72.30" stroke="#111" stroke-width="0.7" />
<line x1="137.10" y1="70.20" x2="137.10" y2="72.30" stroke="#111" stroke-width="0.7" />
<line x1="138.10" y1="70.20" x2="138.10" y2="73.10" stroke="#111" stroke-width="0.7" />
<line x1="141.60" y1="70.20" x2="141.60" y2="72.30" stroke="#111" stroke-width="0.7" />
<line x1="143.80" y1="70.20" x2="143.80" y2="72.30" stroke="#111" stroke-width="0.7" />
<line x1="145.30" y1="70.20" x2="145.30" y2="72.30" stroke="#111" stroke-width="0.7" />
<line x1="146.50" y1="70.20" x2="146.50" y2="72.30" stroke="#111" stroke-width="0.7" />
<text x="109.10" y="80.60" font-size="6.1" text-anchor="middle" fill="#231f20" stroke="#231f20" stroke-width="0.14" >0</text>
<text x="126.60" y="80.60" font-size="6.1" text-anchor="middle" fill="#231f20" stroke="#231f20" stroke-width="0.14" textLength="7.0" lengthAdjust="spacingAndGlyphs" >10³</text>
<text x="139.00" y="80.60" font-size="6.1" text-anchor="middle" fill="#231f20" stroke="#231f20" stroke-width="0.14" textLength="6.6" lengthAdjust="spacingAndGlyphs" >10⁴</text>
<path d="M47.6,108.1 L47.6,108.1 L48.0,108.1 L48.4,108.1 L48.7,108.1 L49.1,108.1 L49.5,108.1 L49.9,108.1 L50.3,108.1 L50.6,108.1 L51.0,108.1 L51.4,108.1 L51.8,108.1 L52.2,108.1 L52.5,108.1 L52.9,108.1 L53.3,108.1 L53.7,108.1 L54.1,108.1 L54.4,108.1 L54.8,108.0 L55.2,108.0 L55.6,107.9 L56.0,107.8 L56.3,107.6 L56.7,107.4 L57.1,107.0 L57.5,106.6 L57.9,106.0 L58.2,105.3 L58.6,104.4 L59.0,103.4 L59.4,102.3 L59.8,101.0 L60.1,99.7 L60.5,98.4 L60.9,97.2 L61.3,96.1 L61.7,95.3 L62.0,94.7 L62.4,94.5 L62.8,94.6 L63.2,95.0 L63.6,95.8 L63.9,96.7 L64.3,97.9 L64.7,99.2 L65.1,100.5 L65.5,101.7 L65.8,102.9 L66.2,104.0 L66.6,104.9 L67.0,105.7 L67.4,106.3 L67.7,106.8 L68.1,107.2 L68.5,107.5 L68.9,107.7 L69.3,107.8 L69.6,107.9 L70.0,108.0 L70.4,108.0 L70.8,108.1 L71.2,108.1 L71.5,108.1 L71.9,108.1 L72.3,108.1 L72.7,108.1 L73.1,108.1 L73.4,108.1 L73.8,108.1 L74.2,108.1 L74.6,108.1 L75.0,108.1 L75.3,108.1 L75.7,108.1 L76.1,108.1 L76.5,108.1 L76.9,108.1 L77.2,108.1 L77.6,108.1 L78.0,108.1 L78.4,108.1 L78.8,108.1 L79.1,108.1 L79.5,108.1 L79.9,108.1 L80.3,108.1 L80.7,108.1 L81.0,108.1 L81.4,108.1 L81.8,108.1 L82.2,108.1 L82.6,108.1 L82.9,108.1 L83.3,108.1 L83.7,108.1 L84.1,108.1 L84.5,108.1 L84.8,108.1 L85.2,108.1 L85.6,108.1 L86.0,108.1 L86.4,108.1 L86.7,108.1 L87.1,108.1 L87.5,108.1 L87.9,108.1 L88.3,108.1 L88.6,108.1 L89.0,108.1 L89.4,108.1 L89.8,108.1 L90.2,108.1 L90.5,108.1 L90.9,108.1 L91.3,108.1 L91.7,108.1 L92.1,108.1 L92.4,108.1 L92.8,108.1 L93.2,108.1 L93.2,108.1Z" fill="#e3dde0" fill-opacity="0.78"/>
<line x1="47.60" y1="107.80" x2="93.20" y2="107.80" stroke="#ebe7e9" stroke-width="0.9" />
<path d="M56.0,107.8 L56.3,107.6 L56.7,107.4 L57.1,107.0 L57.5,106.6 L57.9,106.0 L58.2,105.3 L58.6,104.4 L59.0,103.4 L59.4,102.3 L59.8,101.0 L60.1,99.7 L60.5,98.4 L60.9,97.2 L61.3,96.1 L61.7,95.3 L62.0,94.7 L62.4,94.5 L62.8,94.6 L63.2,95.0 L63.6,95.8 L63.9,96.7 L64.3,97.9 L64.7,99.2 L65.1,100.5 L65.5,101.7 L65.8,102.9 L66.2,104.0 L66.6,104.9 L67.0,105.7 L67.4,106.3 L67.7,106.8 L68.1,107.2 L68.5,107.5 L68.9,107.7 L69.3,107.8" fill="none" stroke="#c4bbbf" stroke-width="0.95" stroke-linejoin="round"/>
<path d="M47.6,116.1 L47.6,116.1 L48.0,116.1 L48.4,116.1 L48.7,116.1 L49.1,116.1 L49.5,116.1 L49.9,116.1 L50.3,116.1 L50.6,116.1 L51.0,116.1 L51.4,116.1 L51.8,116.1 L52.2,116.1 L52.5,116.1 L52.9,116.1 L53.3,116.1 L53.7,116.1 L54.1,116.0 L54.4,116.0 L54.8,116.0 L55.2,116.0 L55.6,115.9 L56.0,115.9 L56.3,115.8 L56.7,115.7 L57.1,115.6 L57.5,115.5 L57.9,115.4 L58.2,115.2 L58.6,115.1 L59.0,114.9 L59.4,114.7 L59.8,114.5 L60.1,114.3 L60.5,114.1 L60.9,113.9 L61.3,113.6 L61.7,113.4 L62.0,113.1 L62.4,112.9 L62.8,112.7 L63.2,112.4 L63.6,112.2 L63.9,112.0 L64.3,111.8 L64.7,111.5 L65.1,111.3 L65.5,111.1 L65.8,110.9 L66.2,110.7 L66.6,110.5 L67.0,110.3 L67.4,110.1 L67.7,110.0 L68.1,109.8 L68.5,109.7 L68.9,109.6 L69.3,109.5 L69.6,109.4 L70.0,109.3 L70.4,109.2 L70.8,109.1 L71.2,109.0 L71.5,108.8 L71.9,108.6 L72.3,108.4 L72.7,108.2 L73.1,107.9 L73.4,107.5 L73.8,107.1 L74.2,106.7 L74.6,106.2 L75.0,105.7 L75.3,105.2 L75.7,104.7 L76.1,104.2 L76.5,103.7 L76.9,103.3 L77.2,103.0 L77.6,102.7 L78.0,102.5 L78.4,102.5 L78.8,102.5 L79.1,102.7 L79.5,103.0 L79.9,103.4 L80.3,103.9 L80.7,104.6 L81.0,105.3 L81.4,106.1 L81.8,107.0 L82.2,107.9 L82.6,108.7 L82.9,109.6 L83.3,110.4 L83.7,111.2 L84.1,111.9 L84.5,112.6 L84.8,113.2 L85.2,113.7 L85.6,114.1 L86.0,114.5 L86.4,114.8 L86.7,115.1 L87.1,115.3 L87.5,115.5 L87.9,115.6 L88.3,115.8 L88.6,115.8 L89.0,115.9 L89.4,116.0 L89.8,116.0 L90.2,116.0 L90.5,116.1 L90.9,116.1 L91.3,116.1 L91.7,116.1 L92.1,116.1 L92.4,116.1 L92.8,116.1 L93.2,116.1 L93.2,116.1Z" fill="#7d89a8" fill-opacity="0.78"/>
<line x1="47.60" y1="115.80" x2="93.20" y2="115.80" stroke="#c9d0dc" stroke-width="0.9" />
<path d="M56.3,115.8 L56.7,115.7 L57.1,115.6 L57.5,115.5 L57.9,115.4 L58.2,115.2 L58.6,115.1 L59.0,114.9 L59.4,114.7 L59.8,114.5 L60.1,114.3 L60.5,114.1 L60.9,113.9 L61.3,113.6 L61.7,113.4 L62.0,113.1 L62.4,112.9 L62.8,112.7 L63.2,112.4 L63.6,112.2 L63.9,112.0 L64.3,111.8 L64.7,111.5 L65.1,111.3 L65.5,111.1 L65.8,110.9 L66.2,110.7 L66.6,110.5 L67.0,110.3 L67.4,110.1 L67.7,110.0 L68.1,109.8 L68.5,109.7 L68.9,109.6 L69.3,109.5 L69.6,109.4 L70.0,109.3 L70.4,109.2 L70.8,109.1 L71.2,109.0 L71.5,108.8 L71.9,108.6 L72.3,108.4 L72.7,108.2 L73.1,107.9 L73.4,107.5 L73.8,107.1 L74.2,106.7 L74.6,106.2 L75.0,105.7 L75.3,105.2 L75.7,104.7 L76.1,104.2 L76.5,103.7 L76.9,103.3 L77.2,103.0 L77.6,102.7 L78.0,102.5 L78.4,102.5 L78.8,102.5 L79.1,102.7 L79.5,103.0 L79.9,103.4 L80.3,103.9 L80.7,104.6 L81.0,105.3 L81.4,106.1 L81.8,107.0 L82.2,107.9 L82.6,108.7 L82.9,109.6 L83.3,110.4 L83.7,111.2 L84.1,111.9 L84.5,112.6 L84.8,113.2 L85.2,113.7 L85.6,114.1 L86.0,114.5 L86.4,114.8 L86.7,115.1 L87.1,115.3 L87.5,115.5 L87.9,115.6 L88.3,115.8 L88.6,115.8" fill="none" stroke="#2d4a7c" stroke-width="0.95" stroke-linejoin="round"/>
<path d="M47.6,123.7 L47.6,123.7 L48.0,123.7 L48.4,123.7 L48.7,123.7 L49.1,123.7 L49.5,123.7 L49.9,123.7 L50.3,123.7 L50.6,123.7 L51.0,123.7 L51.4,123.7 L51.8,123.7 L52.2,123.7 L52.5,123.7 L52.9,123.7 L53.3,123.7 L53.7,123.7 L54.1,123.7 L54.4,123.7 L54.8,123.7 L55.2,123.7 L55.6,123.6 L56.0,123.6 L56.3,123.5 L56.7,123.3 L57.1,123.1 L57.5,122.8 L57.9,122.4 L58.2,121.8 L58.6,121.1 L59.0,120.2 L59.4,119.0 L59.8,117.7 L60.1,116.3 L60.5,114.8 L60.9,113.2 L61.3,111.7 L61.7,110.5 L62.0,109.5 L62.4,108.8 L62.8,108.5 L63.2,108.7 L63.6,109.2 L63.9,110.0 L64.3,111.0 L64.7,112.2 L65.1,113.5 L65.5,114.7 L65.8,115.8 L66.2,116.7 L66.6,117.5 L67.0,118.1 L67.4,118.6 L67.7,118.9 L68.1,119.1 L68.5,119.2 L68.9,119.3 L69.3,119.3 L69.6,119.2 L70.0,119.2 L70.4,119.1 L70.8,119.0 L71.2,118.9 L71.5,118.8 L71.9,118.7 L72.3,118.6 L72.7,118.5 L73.1,118.5 L73.4,118.4 L73.8,118.3 L74.2,118.3 L74.6,118.2 L75.0,118.2 L75.3,118.3 L75.7,118.3 L76.1,118.4 L76.5,118.5 L76.9,118.6 L77.2,118.8 L77.6,118.9 L78.0,119.1 L78.4,119.3 L78.8,119.6 L79.1,119.8 L79.5,120.0 L79.9,120.3 L80.3,120.5 L80.7,120.8 L81.0,121.0 L81.4,121.3 L81.8,121.5 L82.2,121.7 L82.6,121.9 L82.9,122.1 L83.3,122.3 L83.7,122.5 L84.1,122.6 L84.5,122.8 L84.8,122.9 L85.2,123.0 L85.6,123.1 L86.0,123.2 L86.4,123.3 L86.7,123.3 L87.1,123.4 L87.5,123.5 L87.9,123.5 L88.3,123.5 L88.6,123.6 L89.0,123.6 L89.4,123.6 L89.8,123.6 L90.2,123.6 L90.5,123.7 L90.9,123.7 L91.3,123.7 L91.7,123.7 L92.1,123.7 L92.4,123.7 L92.8,123.7 L93.2,123.7 L93.2,123.7Z" fill="#c9706f" fill-opacity="0.78"/>
<line x1="47.60" y1="123.40" x2="93.20" y2="123.40" stroke="#ebc9c9" stroke-width="0.9" />
<path d="M56.7,123.3 L57.1,123.1 L57.5,122.8 L57.9,122.4 L58.2,121.8 L58.6,121.1 L59.0,120.2 L59.4,119.0 L59.8,117.7 L60.1,116.3 L60.5,114.8 L60.9,113.2 L61.3,111.7 L61.7,110.5 L62.0,109.5 L62.4,108.8 L62.8,108.5 L63.2,108.7 L63.6,109.2 L63.9,110.0 L64.3,111.0 L64.7,112.2 L65.1,113.5 L65.5,114.7 L65.8,115.8 L66.2,116.7 L66.6,117.5 L67.0,118.1 L67.4,118.6 L67.7,118.9 L68.1,119.1 L68.5,119.2 L68.9,119.3 L69.3,119.3 L69.6,119.2 L70.0,119.2 L70.4,119.1 L70.8,119.0 L71.2,118.9 L71.5,118.8 L71.9,118.7 L72.3,118.6 L72.7,118.5 L73.1,118.5 L73.4,118.4 L73.8,118.3 L74.2,118.3 L74.6,118.2 L75.0,118.2 L75.3,118.3 L75.7,118.3 L76.1,118.4 L76.5,118.5 L76.9,118.6 L77.2,118.8 L77.6,118.9 L78.0,119.1 L78.4,119.3 L78.8,119.6 L79.1,119.8 L79.5,120.0 L79.9,120.3 L80.3,120.5 L80.7,120.8 L81.0,121.0 L81.4,121.3 L81.8,121.5 L82.2,121.7 L82.6,121.9 L82.9,122.1 L83.3,122.3 L83.7,122.5 L84.1,122.6 L84.5,122.8 L84.8,122.9 L85.2,123.0 L85.6,123.1 L86.0,123.2 L86.4,123.3 L86.7,123.3 L87.1,123.4" fill="none" stroke="#a3202f" stroke-width="0.95" stroke-linejoin="round"/>
<path d="M47.6,131.0 L47.6,131.0 L48.0,131.0 L48.4,131.0 L48.7,131.0 L49.1,131.0 L49.5,131.0 L49.9,131.0 L50.3,131.0 L50.6,131.0 L51.0,131.0 L51.4,131.0 L51.8,131.0 L52.2,131.0 L52.5,131.0 L52.9,131.0 L53.3,131.0 L53.7,131.0 L54.1,131.0 L54.4,131.0 L54.8,131.0 L55.2,130.9 L55.6,130.9 L56.0,130.9 L56.3,130.8 L56.7,130.6 L57.1,130.4 L57.5,130.2 L57.9,129.8 L58.2,129.3 L58.6,128.7 L59.0,127.9 L59.4,126.9 L59.8,125.7 L60.1,124.4 L60.5,123.1 L60.9,121.6 L61.3,120.3 L61.7,119.0 L62.0,118.0 L62.4,117.2 L62.8,116.8 L63.2,116.8 L63.6,117.1 L63.9,117.8 L64.3,118.8 L64.7,120.0 L65.1,121.3 L65.5,122.7 L65.8,124.0 L66.2,125.2 L66.6,126.3 L67.0,127.3 L67.4,128.0 L67.7,128.7 L68.1,129.1 L68.5,129.5 L68.9,129.7 L69.3,129.8 L69.6,129.9 L70.0,130.0 L70.4,130.0 L70.8,130.0 L71.2,130.0 L71.5,130.0 L71.9,130.0 L72.3,130.0 L72.7,130.0 L73.1,130.0 L73.4,130.0 L73.8,130.0 L74.2,130.0 L74.6,130.0 L75.0,130.0 L75.3,130.1 L75.7,130.1 L76.1,130.1 L76.5,130.1 L76.9,130.2 L77.2,130.2 L77.6,130.2 L78.0,130.3 L78.4,130.3 L78.8,130.4 L79.1,130.4 L79.5,130.4 L79.9,130.5 L80.3,130.5 L80.7,130.5 L81.0,130.6 L81.4,130.6 L81.8,130.7 L82.2,130.7 L82.6,130.7 L82.9,130.7 L83.3,130.8 L83.7,130.8 L84.1,130.8 L84.5,130.8 L84.8,130.9 L85.2,130.9 L85.6,130.9 L86.0,130.9 L86.4,130.9 L86.7,130.9 L87.1,130.9 L87.5,130.9 L87.9,131.0 L88.3,131.0 L88.6,131.0 L89.0,131.0 L89.4,131.0 L89.8,131.0 L90.2,131.0 L90.5,131.0 L90.9,131.0 L91.3,131.0 L91.7,131.0 L92.1,131.0 L92.4,131.0 L92.8,131.0 L93.2,131.0 L93.2,131.0Z" fill="#a9c8e8" fill-opacity="0.78"/>
<line x1="47.60" y1="130.70" x2="93.20" y2="130.70" stroke="#d3e3f3" stroke-width="0.9" />
<path d="M56.7,130.6 L57.1,130.4 L57.5,130.2 L57.9,129.8 L58.2,129.3 L58.6,128.7 L59.0,127.9 L59.4,126.9 L59.8,125.7 L60.1,124.4 L60.5,123.1 L60.9,121.6 L61.3,120.3 L61.7,119.0 L62.0,118.0 L62.4,117.2 L62.8,116.8 L63.2,116.8 L63.6,117.1 L63.9,117.8 L64.3,118.8 L64.7,120.0 L65.1,121.3 L65.5,122.7 L65.8,124.0 L66.2,125.2 L66.6,126.3 L67.0,127.3 L67.4,128.0 L67.7,128.7 L68.1,129.1 L68.5,129.5 L68.9,129.7 L69.3,129.8 L69.6,129.9 L70.0,130.0 L70.4,130.0 L70.8,130.0 L71.2,130.0 L71.5,130.0 L71.9,130.0 L72.3,130.0 L72.7,130.0 L73.1,130.0 L73.4,130.0 L73.8,130.0 L74.2,130.0 L74.6,130.0 L75.0,130.0 L75.3,130.1 L75.7,130.1 L76.1,130.1 L76.5,130.1 L76.9,130.2 L77.2,130.2 L77.6,130.2 L78.0,130.3 L78.4,130.3 L78.8,130.4 L79.1,130.4 L79.5,130.4 L79.9,130.5 L80.3,130.5 L80.7,130.5 L81.0,130.6 L81.4,130.6 L81.8,130.7 L82.2,130.7 L82.6,130.7 L82.9,130.7" fill="none" stroke="#5b9bd5" stroke-width="0.95" stroke-linejoin="round"/>
<path d="M47.6,138.2 L47.6,138.2 L48.0,138.2 L48.4,138.2 L48.7,138.2 L49.1,138.2 L49.5,138.2 L49.9,138.2 L50.3,138.2 L50.6,138.2 L51.0,138.2 L51.4,138.2 L51.8,138.2 L52.2,138.2 L52.5,138.2 L52.9,138.2 L53.3,138.2 L53.7,138.2 L54.1,138.2 L54.4,138.2 L54.8,138.1 L55.2,138.1 L55.6,138.0 L56.0,137.9 L56.3,137.8 L56.7,137.6 L57.1,137.3 L57.5,137.0 L57.9,136.5 L58.2,135.9 L58.6,135.2 L59.0,134.3 L59.4,133.3 L59.8,132.2 L60.1,130.9 L60.5,129.6 L60.9,128.4 L61.3,127.2 L61.7,126.1 L62.0,125.2 L62.4,124.6 L62.8,124.2 L63.2,124.2 L63.6,124.5 L63.9,125.2 L64.3,126.0 L64.7,127.1 L65.1,128.3 L65.5,129.6 L65.8,130.9 L66.2,132.1 L66.6,133.2 L67.0,134.3 L67.4,135.1 L67.7,135.9 L68.1,136.5 L68.5,137.0 L68.9,137.3 L69.3,137.6 L69.6,137.8 L70.0,137.9 L70.4,138.0 L70.8,138.1 L71.2,138.1 L71.5,138.2 L71.9,138.2 L72.3,138.2 L72.7,138.2 L73.1,138.2 L73.4,138.2 L73.8,138.2 L74.2,138.2 L74.6,138.2 L75.0,138.2 L75.3,138.2 L75.7,138.2 L76.1,138.2 L76.5,138.2 L76.9,138.2 L77.2,138.2 L77.6,138.2 L78.0,138.2 L78.4,138.2 L78.8,138.2 L79.1,138.2 L79.5,138.2 L79.9,138.2 L80.3,138.2 L80.7,138.2 L81.0,138.2 L81.4,138.2 L81.8,138.2 L82.2,138.2 L82.6,138.2 L82.9,138.2 L83.3,138.2 L83.7,138.2 L84.1,138.2 L84.5,138.2 L84.8,138.2 L85.2,138.2 L85.6,138.2 L86.0,138.2 L86.4,138.2 L86.7,138.2 L87.1,138.2 L87.5,138.2 L87.9,138.2 L88.3,138.2 L88.6,138.2 L89.0,138.2 L89.4,138.2 L89.8,138.2 L90.2,138.2 L90.5,138.2 L90.9,138.2 L91.3,138.2 L91.7,138.2 L92.1,138.2 L92.4,138.2 L92.8,138.2 L93.2,138.2 L93.2,138.2Z" fill="#a4cc8c" fill-opacity="0.78"/>
<line x1="47.60" y1="137.90" x2="93.20" y2="137.90" stroke="#d3e8c6" stroke-width="0.9" />
<path d="M56.0,137.9 L56.3,137.8 L56.7,137.6 L57.1,137.3 L57.5,137.0 L57.9,136.5 L58.2,135.9 L58.6,135.2 L59.0,134.3 L59.4,133.3 L59.8,132.2 L60.1,130.9 L60.5,129.6 L60.9,128.4 L61.3,127.2 L61.7,126.1 L62.0,125.2 L62.4,124.6 L62.8,124.2 L63.2,124.2 L63.6,124.5 L63.9,125.2 L64.3,126.0 L64.7,127.1 L65.1,128.3 L65.5,129.6 L65.8,130.9 L66.2,132.1 L66.6,133.2 L67.0,134.3 L67.4,135.1 L67.7,135.9 L68.1,136.5 L68.5,137.0 L68.9,137.3 L69.3,137.6 L69.6,137.8 L70.0,137.9" fill="none" stroke="#5a9e3a" stroke-width="0.95" stroke-linejoin="round"/>
<line x1="69.40" y1="92.70" x2="69.40" y2="138.80" stroke="#111" stroke-width="1.05" stroke-dasharray="2.5,1.5"/>
<rect x="47.10" y="92.20" width="46.60" height="46.60" fill="none" stroke="#111" stroke-width="1.15" />
<line x1="49.30" y1="138.80" x2="49.30" y2="140.90" stroke="#111" stroke-width="0.7" />
<line x1="50.50" y1="138.80" x2="50.50" y2="140.90" stroke="#111" stroke-width="0.7" />
<line x1="51.50" y1="138.80" x2="51.50" y2="140.90" stroke="#111" stroke-width="0.7" />
<line x1="52.50" y1="138.80" x2="52.50" y2="140.90" stroke="#111" stroke-width="0.7" />
<line x1="54.40" y1="138.80" x2="54.40" y2="141.70" stroke="#111" stroke-width="0.7" />
<line x1="56.50" y1="138.80" x2="56.50" y2="140.90" stroke="#111" stroke-width="0.7" />
<line x1="58.00" y1="138.80" x2="58.00" y2="140.90" stroke="#111" stroke-width="0.7" />
<line x1="59.50" y1="138.80" x2="59.50" y2="140.90" stroke="#111" stroke-width="0.7" />
<line x1="61.00" y1="138.80" x2="61.00" y2="140.90" stroke="#111" stroke-width="0.7" />
<line x1="62.30" y1="138.80" x2="62.30" y2="140.90" stroke="#111" stroke-width="0.7" />
<line x1="63.50" y1="138.80" x2="63.50" y2="140.90" stroke="#111" stroke-width="0.7" />
<line x1="64.60" y1="138.80" x2="64.60" y2="140.90" stroke="#111" stroke-width="0.7" />
<line x1="66.00" y1="138.80" x2="66.00" y2="140.90" stroke="#111" stroke-width="0.7" />
<line x1="67.50" y1="138.80" x2="67.50" y2="140.90" stroke="#111" stroke-width="0.7" />
<line x1="69.00" y1="138.80" x2="69.00" y2="140.90" stroke="#111" stroke-width="0.7" />
<line x1="70.50" y1="138.80" x2="70.50" y2="140.90" stroke="#111" stroke-width="0.7" />
<line x1="71.50" y1="138.80" x2="71.50" y2="141.70" stroke="#111" stroke-width="0.7" />
<line x1="75.20" y1="138.80" x2="75.20" y2="140.90" stroke="#111" stroke-width="0.7" />
<line x1="77.40" y1="138.80" x2="77.40" y2="140.90" stroke="#111" stroke-width="0.7" />
<line x1="79.00" y1="138.80" x2="79.00" y2="140.90" stroke="#111" stroke-width="0.7" />
<line x1="80.20" y1="138.80" x2="80.20" y2="140.90" stroke="#111" stroke-width="0.7" />
<line x1="81.20" y1="138.80" x2="81.20" y2="140.90" stroke="#111" stroke-width="0.7" />
<line x1="82.10" y1="138.80" x2="82.10" y2="140.90" stroke="#111" stroke-width="0.7" />
<line x1="83.00" y1="138.80" x2="83.00" y2="140.90" stroke="#111" stroke-width="0.7" />
<line x1="84.00" y1="138.80" x2="84.00" y2="141.70" stroke="#111" stroke-width="0.7" />
<line x1="87.50" y1="138.80" x2="87.50" y2="140.90" stroke="#111" stroke-width="0.7" />
<line x1="89.70" y1="138.80" x2="89.70" y2="140.90" stroke="#111" stroke-width="0.7" />
<line x1="91.20" y1="138.80" x2="91.20" y2="140.90" stroke="#111" stroke-width="0.7" />
<line x1="92.40" y1="138.80" x2="92.40" y2="140.90" stroke="#111" stroke-width="0.7" />
<text x="55.00" y="149.20" font-size="6.1" text-anchor="middle" fill="#231f20" stroke="#231f20" stroke-width="0.14" >0</text>
<text x="72.50" y="149.20" font-size="6.1" text-anchor="middle" fill="#231f20" stroke="#231f20" stroke-width="0.14" textLength="7.0" lengthAdjust="spacingAndGlyphs" >10³</text>
<text x="84.90" y="149.20" font-size="6.1" text-anchor="middle" fill="#231f20" stroke="#231f20" stroke-width="0.14" textLength="6.6" lengthAdjust="spacingAndGlyphs" >10⁴</text>
<path d="M101.7,108.1 L101.7,108.1 L102.1,108.1 L102.5,108.1 L102.8,108.1 L103.2,108.1 L103.6,108.1 L104.0,108.1 L104.4,108.1 L104.7,108.1 L105.1,108.1 L105.5,108.1 L105.9,108.1 L106.3,108.1 L106.6,108.1 L107.0,108.1 L107.4,108.1 L107.8,108.1 L108.2,108.1 L108.5,108.1 L108.9,108.1 L109.3,108.1 L109.7,108.1 L110.1,108.1 L110.4,108.0 L110.8,108.0 L111.2,107.9 L111.6,107.8 L112.0,107.7 L112.3,107.5 L112.7,107.2 L113.1,106.8 L113.5,106.3 L113.9,105.6 L114.2,104.8 L114.6,103.9 L115.0,102.8 L115.4,101.6 L115.8,100.3 L116.1,99.0 L116.5,97.8 L116.9,96.6 L117.3,95.7 L117.7,95.0 L118.0,94.6 L118.4,94.5 L118.8,94.8 L119.2,95.4 L119.6,96.3 L119.9,97.3 L120.3,98.6 L120.7,99.9 L121.1,101.1 L121.5,102.4 L121.8,103.5 L122.2,104.5 L122.6,105.4 L123.0,106.1 L123.4,106.6 L123.7,107.1 L124.1,107.4 L124.5,107.6 L124.9,107.8 L125.3,107.9 L125.6,108.0 L126.0,108.0 L126.4,108.1 L126.8,108.1 L127.2,108.1 L127.5,108.1 L127.9,108.1 L128.3,108.1 L128.7,108.1 L129.1,108.1 L129.4,108.1 L129.8,108.1 L130.2,108.1 L130.6,108.1 L131.0,108.1 L131.3,108.1 L131.7,108.1 L132.1,108.1 L132.5,108.1 L132.9,108.1 L133.2,108.1 L133.6,108.1 L134.0,108.1 L134.4,108.1 L134.8,108.1 L135.1,108.1 L135.5,108.1 L135.9,108.1 L136.3,108.1 L136.7,108.1 L137.0,108.1 L137.4,108.1 L137.8,108.1 L138.2,108.1 L138.6,108.1 L138.9,108.1 L139.3,108.1 L139.7,108.1 L140.1,108.1 L140.5,108.1 L140.8,108.1 L141.2,108.1 L141.6,108.1 L142.0,108.1 L142.4,108.1 L142.7,108.1 L143.1,108.1 L143.5,108.1 L143.9,108.1 L144.3,108.1 L144.6,108.1 L145.0,108.1 L145.4,108.1 L145.8,108.1 L146.2,108.1 L146.5,108.1 L146.9,108.1 L147.3,108.1 L147.3,108.1Z" fill="#e3dde0" fill-opacity="0.78"/>
<line x1="101.70" y1="107.80" x2="147.30" y2="107.80" stroke="#ebe7e9" stroke-width="0.9" />
<path d="M111.6,107.8 L112.0,107.7 L112.3,107.5 L112.7,107.2 L113.1,106.8 L113.5,106.3 L113.9,105.6 L114.2,104.8 L114.6,103.9 L115.0,102.8 L115.4,101.6 L115.8,100.3 L116.1,99.0 L116.5,97.8 L116.9,96.6 L117.3,95.7 L117.7,95.0 L118.0,94.6 L118.4,94.5 L118.8,94.8 L119.2,95.4 L119.6,96.3 L119.9,97.3 L120.3,98.6 L120.7,99.9 L121.1,101.1 L121.5,102.4 L121.8,103.5 L122.2,104.5 L122.6,105.4 L123.0,106.1 L123.4,106.6 L123.7,107.1 L124.1,107.4 L124.5,107.6 L124.9,107.8" fill="none" stroke="#c4bbbf" stroke-width="0.95" stroke-linejoin="round"/>
<path d="M101.7,116.1 L101.7,116.1 L102.1,116.1 L102.5,116.1 L102.8,116.1 L103.2,116.1 L103.6,116.1 L104.0,116.1 L104.4,116.1 L104.7,116.1 L105.1,116.1 L105.5,116.1 L105.9,116.1 L106.3,116.1 L106.6,116.1 L107.0,116.1 L107.4,116.1 L107.8,116.1 L108.2,116.0 L108.5,116.0 L108.9,116.0 L109.3,116.0 L109.7,116.0 L110.1,116.0 L110.4,116.0 L110.8,115.9 L111.2,115.9 L111.6,115.9 L112.0,115.8 L112.3,115.8 L112.7,115.8 L113.1,115.7 L113.5,115.7 L113.9,115.6 L114.2,115.5 L114.6,115.4 L115.0,115.4 L115.4,115.3 L115.8,115.2 L116.1,115.0 L116.5,114.9 L116.9,114.8 L117.3,114.6 L117.7,114.5 L118.0,114.3 L118.4,114.1 L118.8,113.9 L119.2,113.7 L119.6,113.4 L119.9,113.2 L120.3,112.9 L120.7,112.6 L121.1,112.3 L121.5,112.0 L121.8,111.7 L122.2,111.3 L122.6,110.9 L123.0,110.6 L123.4,110.2 L123.7,109.8 L124.1,109.4 L124.5,109.0 L124.9,108.5 L125.3,108.1 L125.6,107.7 L126.0,107.2 L126.4,106.8 L126.8,106.4 L127.2,106.0 L127.5,105.6 L127.9,105.2 L128.3,104.8 L128.7,104.4 L129.1,104.1 L129.4,103.8 L129.8,103.5 L130.2,103.2 L130.6,102.9 L131.0,102.7 L131.3,102.5 L131.7,102.4 L132.1,102.2 L132.5,102.2 L132.9,102.1 L133.2,102.1 L133.6,102.2 L134.0,102.3 L134.4,102.6 L134.8,102.9 L135.1,103.3 L135.5,103.8 L135.9,104.4 L136.3,105.0 L136.7,105.7 L137.0,106.4 L137.4,107.1 L137.8,107.8 L138.2,108.5 L138.6,109.2 L138.9,109.9 L139.3,110.5 L139.7,111.2 L140.1,111.7 L140.5,112.3 L140.8,112.8 L141.2,113.2 L141.6,113.6 L142.0,114.0 L142.4,114.3 L142.7,114.6 L143.1,114.9 L143.5,115.1 L143.9,115.3 L144.3,115.4 L144.6,115.5 L145.0,115.7 L145.4,115.7 L145.8,115.8 L146.2,115.9 L146.5,115.9 L146.9,116.0 L147.3,116.0 L147.3,116.1Z" fill="#7d89a8" fill-opacity="0.78"/>
<line x1="101.70" y1="115.80" x2="147.30" y2="115.80" stroke="#c9d0dc" stroke-width="0.9" />
<path d="M112.0,115.8 L112.3,115.8 L112.7,115.8 L113.1,115.7 L113.5,115.7 L113.9,115.6 L114.2,115.5 L114.6,115.4 L115.0,115.4 L115.4,115.3 L115.8,115.2 L116.1,115.0 L116.5,114.9 L116.9,114.8 L117.3,114.6 L117.7,114.5 L118.0,114.3 L118.4,114.1 L118.8,113.9 L119.2,113.7 L119.6,113.4 L119.9,113.2 L120.3,112.9 L120.7,112.6 L121.1,112.3 L121.5,112.0 L121.8,111.7 L122.2,111.3 L122.6,110.9 L123.0,110.6 L123.4,110.2 L123.7,109.8 L124.1,109.4 L124.5,109.0 L124.9,108.5 L125.3,108.1 L125.6,107.7 L126.0,107.2 L126.4,106.8 L126.8,106.4 L127.2,106.0 L127.5,105.6 L127.9,105.2 L128.3,104.8 L128.7,104.4 L129.1,104.1 L129.4,103.8 L129.8,103.5 L130.2,103.2 L130.6,102.9 L131.0,102.7 L131.3,102.5 L131.7,102.4 L132.1,102.2 L132.5,102.2 L132.9,102.1 L133.2,102.1 L133.6,102.2 L134.0,102.3 L134.4,102.6 L134.8,102.9 L135.1,103.3 L135.5,103.8 L135.9,104.4 L136.3,105.0 L136.7,105.7 L137.0,106.4 L137.4,107.1 L137.8,107.8 L138.2,108.5 L138.6,109.2 L138.9,109.9 L139.3,110.5 L139.7,111.2 L140.1,111.7 L140.5,112.3 L140.8,112.8 L141.2,113.2 L141.6,113.6 L142.0,114.0 L142.4,114.3 L142.7,114.6 L143.1,114.9 L143.5,115.1 L143.9,115.3 L144.3,115.4 L144.6,115.5 L145.0,115.7 L145.4,115.7 L145.8,115.8" fill="none" stroke="#2d4a7c" stroke-width="0.95" stroke-linejoin="round"/>
<path d="M101.7,123.7 L101.7,123.7 L102.1,123.7 L102.5,123.7 L102.8,123.7 L103.2,123.7 L103.6,123.7 L104.0,123.7 L104.4,123.7 L104.7,123.7 L105.1,123.7 L105.5,123.7 L105.9,123.7 L106.3,123.7 L106.6,123.7 L107.0,123.7 L107.4,123.7 L107.8,123.7 L108.2,123.7 L108.5,123.7 L108.9,123.6 L109.3,123.6 L109.7,123.6 L110.1,123.5 L110.4,123.4 L110.8,123.3 L111.2,123.1 L111.6,122.8 L112.0,122.5 L112.3,122.0 L112.7,121.4 L113.1,120.7 L113.5,119.8 L113.9,118.8 L114.2,117.7 L114.6,116.4 L115.0,115.1 L115.4,113.9 L115.8,112.6 L116.1,111.5 L116.5,110.6 L116.9,110.0 L117.3,109.6 L117.7,109.6 L118.0,109.8 L118.4,110.2 L118.8,110.9 L119.2,111.8 L119.6,112.7 L119.9,113.7 L120.3,114.7 L120.7,115.6 L121.1,116.4 L121.5,117.1 L121.8,117.7 L122.2,118.1 L122.6,118.5 L123.0,118.8 L123.4,119.0 L123.7,119.1 L124.1,119.3 L124.5,119.3 L124.9,119.4 L125.3,119.4 L125.6,119.4 L126.0,119.4 L126.4,119.4 L126.8,119.4 L127.2,119.3 L127.5,119.3 L127.9,119.2 L128.3,119.2 L128.7,119.1 L129.1,119.1 L129.4,119.0 L129.8,119.0 L130.2,118.9 L130.6,118.9 L131.0,118.8 L131.3,118.8 L131.7,118.8 L132.1,118.8 L132.5,118.8 L132.9,118.9 L133.2,118.9 L133.6,119.0 L134.0,119.1 L134.4,119.2 L134.8,119.3 L135.1,119.4 L135.5,119.6 L135.9,119.7 L136.3,119.9 L136.7,120.1 L137.0,120.2 L137.4,120.4 L137.8,120.6 L138.2,120.8 L138.6,121.0 L138.9,121.1 L139.3,121.3 L139.7,121.5 L140.1,121.7 L140.5,121.8 L140.8,122.0 L141.2,122.1 L141.6,122.3 L142.0,122.4 L142.4,122.6 L142.7,122.7 L143.1,122.8 L143.5,122.9 L143.9,123.0 L144.3,123.1 L144.6,123.1 L145.0,123.2 L145.4,123.3 L145.8,123.3 L146.2,123.4 L146.5,123.4 L146.9,123.5 L147.3,123.5 L147.3,123.7Z" fill="#c9706f" fill-opacity="0.78"/>
<line x1="101.70" y1="123.40" x2="147.30" y2="123.40" stroke="#ebc9c9" stroke-width="0.9" />
<path d="M110.4,123.4 L110.8,123.3 L111.2,123.1 L111.6,122.8 L112.0,122.5 L112.3,122.0 L112.7,121.4 L113.1,120.7 L113.5,119.8 L113.9,118.8 L114.2,117.7 L114.6,116.4 L115.0,115.1 L115.4,113.9 L115.8,112.6 L116.1,111.5 L116.5,110.6 L116.9,110.0 L117.3,109.6 L117.7,109.6 L118.0,109.8 L118.4,110.2 L118.8,110.9 L119.2,111.8 L119.6,112.7 L119.9,113.7 L120.3,114.7 L120.7,115.6 L121.1,116.4 L121.5,117.1 L121.8,117.7 L122.2,118.1 L122.6,118.5 L123.0,118.8 L123.4,119.0 L123.7,119.1 L124.1,119.3 L124.5,119.3 L124.9,119.4 L125.3,119.4 L125.6,119.4 L126.0,119.4 L126.4,119.4 L126.8,119.4 L127.2,119.3 L127.5,119.3 L127.9,119.2 L128.3,119.2 L128.7,119.1 L129.1,119.1 L129.4,119.0 L129.8,119.0 L130.2,118.9 L130.6,118.9 L131.0,118.8 L131.3,118.8 L131.7,118.8 L132.1,118.8 L132.5,118.8 L132.9,118.9 L133.2,118.9 L133.6,119.0 L134.0,119.1 L134.4,119.2 L134.8,119.3 L135.1,119.4 L135.5,119.6 L135.9,119.7 L136.3,119.9 L136.7,120.1 L137.0,120.2 L137.4,120.4 L137.8,120.6 L138.2,120.8 L138.6,121.0 L138.9,121.1 L139.3,121.3 L139.7,121.5 L140.1,121.7 L140.5,121.8 L140.8,122.0 L141.2,122.1 L141.6,122.3 L142.0,122.4 L142.4,122.6 L142.7,122.7 L143.1,122.8 L143.5,122.9 L143.9,123.0 L144.3,123.1 L144.6,123.1 L145.0,123.2 L145.4,123.3 L145.8,123.3 L146.2,123.4 L146.5,123.4" fill="none" stroke="#a3202f" stroke-width="0.95" stroke-linejoin="round"/>
<path d="M101.7,131.0 L101.7,131.0 L102.1,131.0 L102.5,131.0 L102.8,131.0 L103.2,131.0 L103.6,131.0 L104.0,131.0 L104.4,131.0 L104.7,131.0 L105.1,131.0 L105.5,131.0 L105.9,131.0 L106.3,131.0 L106.6,131.0 L107.0,131.0 L107.4,131.0 L107.8,131.0 L108.2,131.0 L108.5,130.9 L108.9,130.9 L109.3,130.8 L109.7,130.7 L110.1,130.6 L110.4,130.4 L110.8,130.2 L111.2,129.8 L111.6,129.4 L112.0,128.8 L112.3,128.1 L112.7,127.3 L113.1,126.3 L113.5,125.2 L113.9,124.0 L114.2,122.7 L114.6,121.4 L115.0,120.2 L115.4,119.0 L115.8,118.1 L116.1,117.4 L116.5,117.0 L116.9,116.8 L117.3,117.0 L117.7,117.5 L118.0,118.3 L118.4,119.2 L118.8,120.3 L119.2,121.5 L119.6,122.7 L119.9,123.9 L120.3,124.9 L120.7,125.9 L121.1,126.7 L121.5,127.4 L121.8,128.0 L122.2,128.4 L122.6,128.8 L123.0,129.0 L123.4,129.2 L123.7,129.3 L124.1,129.3 L124.5,129.4 L124.9,129.4 L125.3,129.5 L125.6,129.5 L126.0,129.5 L126.4,129.5 L126.8,129.6 L127.2,129.6 L127.5,129.7 L127.9,129.7 L128.3,129.8 L128.7,129.8 L129.1,129.9 L129.4,130.0 L129.8,130.0 L130.2,130.1 L130.6,130.2 L131.0,130.2 L131.3,130.3 L131.7,130.4 L132.1,130.4 L132.5,130.5 L132.9,130.5 L133.2,130.6 L133.6,130.6 L134.0,130.7 L134.4,130.7 L134.8,130.8 L135.1,130.8 L135.5,130.8 L135.9,130.8 L136.3,130.9 L136.7,130.9 L137.0,130.9 L137.4,130.9 L137.8,130.9 L138.2,130.9 L138.6,131.0 L138.9,131.0 L139.3,131.0 L139.7,131.0 L140.1,131.0 L140.5,131.0 L140.8,131.0 L141.2,131.0 L141.6,131.0 L142.0,131.0 L142.4,131.0 L142.7,131.0 L143.1,131.0 L143.5,131.0 L143.9,131.0 L144.3,131.0 L144.6,131.0 L145.0,131.0 L145.4,131.0 L145.8,131.0 L146.2,131.0 L146.5,131.0 L146.9,131.0 L147.3,131.0 L147.3,131.0Z" fill="#a9c8e8" fill-opacity="0.78"/>
<line x1="101.70" y1="130.70" x2="147.30" y2="130.70" stroke="#d3e3f3" stroke-width="0.9" />
<path d="M109.7,130.7 L110.1,130.6 L110.4,130.4 L110.8,130.2 L111.2,129.8 L111.6,129.4 L112.0,128.8 L112.3,128.1 L112.7,127.3 L113.1,126.3 L113.5,125.2 L113.9,124.0 L114.2,122.7 L114.6,121.4 L115.0,120.2 L115.4,119.0 L115.8,118.1 L116.1,117.4 L116.5,117.0 L116.9,116.8 L117.3,117.0 L117.7,117.5 L118.0,118.3 L118.4,119.2 L118.8,120.3 L119.2,121.5 L119.6,122.7 L119.9,123.9 L120.3,124.9 L120.7,125.9 L121.1,126.7 L121.5,127.4 L121.8,128.0 L122.2,128.4 L122.6,128.8 L123.0,129.0 L123.4,129.2 L123.7,129.3 L124.1,129.3 L124.5,129.4 L124.9,129.4 L125.3,129.5 L125.6,129.5 L126.0,129.5 L126.4,129.5 L126.8,129.6 L127.2,129.6 L127.5,129.7 L127.9,129.7 L128.3,129.8 L128.7,129.8 L129.1,129.9 L129.4,130.0 L129.8,130.0 L130.2,130.1 L130.6,130.2 L131.0,130.2 L131.3,130.3 L131.7,130.4 L132.1,130.4 L132.5,130.5 L132.9,130.5 L133.2,130.6 L133.6,130.6 L134.0,130.7 L134.4,130.7" fill="none" stroke="#5b9bd5" stroke-width="0.95" stroke-linejoin="round"/>
<path d="M101.7,138.2 L101.7,138.2 L102.1,138.2 L102.5,138.2 L102.8,138.2 L103.2,138.2 L103.6,138.2 L104.0,138.2 L104.4,138.2 L104.7,138.2 L105.1,138.2 L105.5,138.2 L105.9,138.2 L106.3,138.2 L106.6,138.2 L107.0,138.2 L107.4,138.1 L107.8,138.1 L108.2,138.1 L108.5,138.0 L108.9,137.9 L109.3,137.7 L109.7,137.5 L110.1,137.3 L110.4,137.0 L110.8,136.5 L111.2,136.0 L111.6,135.4 L112.0,134.7 L112.3,133.8 L112.7,132.8 L113.1,131.8 L113.5,130.7 L113.9,129.5 L114.2,128.4 L114.6,127.3 L115.0,126.3 L115.4,125.5 L115.8,124.8 L116.1,124.4 L116.5,124.2 L116.9,124.3 L117.3,124.6 L117.7,125.2 L118.0,125.9 L118.4,126.9 L118.8,127.9 L119.2,129.0 L119.6,130.2 L119.9,131.3 L120.3,132.4 L120.7,133.4 L121.1,134.3 L121.5,135.1 L121.8,135.8 L122.2,136.3 L122.6,136.8 L123.0,137.2 L123.4,137.4 L123.7,137.7 L124.1,137.8 L124.5,137.9 L124.9,138.0 L125.3,138.1 L125.6,138.1 L126.0,138.2 L126.4,138.2 L126.8,138.2 L127.2,138.2 L127.5,138.2 L127.9,138.2 L128.3,138.2 L128.7,138.2 L129.1,138.2 L129.4,138.2 L129.8,138.2 L130.2,138.2 L130.6,138.2 L131.0,138.2 L131.3,138.2 L131.7,138.2 L132.1,138.2 L132.5,138.2 L132.9,138.2 L133.2,138.2 L133.6,138.2 L134.0,138.2 L134.4,138.2 L134.8,138.2 L135.1,138.2 L135.5,138.2 L135.9,138.2 L136.3,138.2 L136.7,138.2 L137.0,138.2 L137.4,138.2 L137.8,138.2 L138.2,138.2 L138.6,138.2 L138.9,138.2 L139.3,138.2 L139.7,138.2 L140.1,138.2 L140.5,138.2 L140.8,138.2 L141.2,138.2 L141.6,138.2 L142.0,138.2 L142.4,138.2 L142.7,138.2 L143.1,138.2 L143.5,138.2 L143.9,138.2 L144.3,138.2 L144.6,138.2 L145.0,138.2 L145.4,138.2 L145.8,138.2 L146.2,138.2 L146.5,138.2 L146.9,138.2 L147.3,138.2 L147.3,138.2Z" fill="#a4cc8c" fill-opacity="0.78"/>
<line x1="101.70" y1="137.90" x2="147.30" y2="137.90" stroke="#d3e8c6" stroke-width="0.9" />
<path d="M108.9,137.9 L109.3,137.7 L109.7,137.5 L110.1,137.3 L110.4,137.0 L110.8,136.5 L111.2,136.0 L111.6,135.4 L112.0,134.7 L112.3,133.8 L112.7,132.8 L113.1,131.8 L113.5,130.7 L113.9,129.5 L114.2,128.4 L114.6,127.3 L115.0,126.3 L115.4,125.5 L115.8,124.8 L116.1,124.4 L116.5,124.2 L116.9,124.3 L117.3,124.6 L117.7,125.2 L118.0,125.9 L118.4,126.9 L118.8,127.9 L119.2,129.0 L119.6,130.2 L119.9,131.3 L120.3,132.4 L120.7,133.4 L121.1,134.3 L121.5,135.1 L121.8,135.8 L122.2,136.3 L122.6,136.8 L123.0,137.2 L123.4,137.4 L123.7,137.7 L124.1,137.8 L124.5,137.9" fill="none" stroke="#5a9e3a" stroke-width="0.95" stroke-linejoin="round"/>
<line x1="125.30" y1="92.70" x2="125.30" y2="138.80" stroke="#111" stroke-width="1.05" stroke-dasharray="2.5,1.5"/>
<rect x="101.20" y="92.20" width="46.60" height="46.60" fill="none" stroke="#111" stroke-width="1.15" />
<line x1="103.40" y1="138.80" x2="103.40" y2="140.90" stroke="#111" stroke-width="0.7" />
<line x1="104.60" y1="138.80" x2="104.60" y2="140.90" stroke="#111" stroke-width="0.7" />
<line x1="105.60" y1="138.80" x2="105.60" y2="140.90" stroke="#111" stroke-width="0.7" />
<line x1="106.60" y1="138.80" x2="106.60" y2="140.90" stroke="#111" stroke-width="0.7" />
<line x1="108.50" y1="138.80" x2="108.50" y2="141.70" stroke="#111" stroke-width="0.7" />
<line x1="110.60" y1="138.80" x2="110.60" y2="140.90" stroke="#111" stroke-width="0.7" />
<line x1="112.10" y1="138.80" x2="112.10" y2="140.90" stroke="#111" stroke-width="0.7" />
<line x1="113.60" y1="138.80" x2="113.60" y2="140.90" stroke="#111" stroke-width="0.7" />
<line x1="115.10" y1="138.80" x2="115.10" y2="140.90" stroke="#111" stroke-width="0.7" />
<line x1="116.40" y1="138.80" x2="116.40" y2="140.90" stroke="#111" stroke-width="0.7" />
<line x1="117.60" y1="138.80" x2="117.60" y2="140.90" stroke="#111" stroke-width="0.7" />
<line x1="118.70" y1="138.80" x2="118.70" y2="140.90" stroke="#111" stroke-width="0.7" />
<line x1="120.10" y1="138.80" x2="120.10" y2="140.90" stroke="#111" stroke-width="0.7" />
<line x1="121.60" y1="138.80" x2="121.60" y2="140.90" stroke="#111" stroke-width="0.7" />
<line x1="123.10" y1="138.80" x2="123.10" y2="140.90" stroke="#111" stroke-width="0.7" />
<line x1="124.60" y1="138.80" x2="124.60" y2="140.90" stroke="#111" stroke-width="0.7" />
<line x1="125.60" y1="138.80" x2="125.60" y2="141.70" stroke="#111" stroke-width="0.7" />
<line x1="129.30" y1="138.80" x2="129.30" y2="140.90" stroke="#111" stroke-width="0.7" />
<line x1="131.50" y1="138.80" x2="131.50" y2="140.90" stroke="#111" stroke-width="0.7" />
<line x1="133.10" y1="138.80" x2="133.10" y2="140.90" stroke="#111" stroke-width="0.7" />
<line x1="134.30" y1="138.80" x2="134.30" y2="140.90" stroke="#111" stroke-width="0.7" />
<line x1="135.30" y1="138.80" x2="135.30" y2="140.90" stroke="#111" stroke-width="0.7" />
<line x1="136.20" y1="138.80" x2="136.20" y2="140.90" stroke="#111" stroke-width="0.7" />
<line x1="137.10" y1="138.80" x2="137.10" y2="140.90" stroke="#111" stroke-width="0.7" />
<line x1="138.10" y1="138.80" x2="138.10" y2="141.70" stroke="#111" stroke-width="0.7" />
<line x1="141.60" y1="138.80" x2="141.60" y2="140.90" stroke="#111" stroke-width="0.7" />
<line x1="143.80" y1="138.80" x2="143.80" y2="140.90" stroke="#111" stroke-width="0.7" />
<line x1="145.30" y1="138.80" x2="145.30" y2="140.90" stroke="#111" stroke-width="0.7" />
<line x1="146.50" y1="138.80" x2="146.50" y2="140.90" stroke="#111" stroke-width="0.7" />
<text x="109.10" y="149.20" font-size="6.1" text-anchor="middle" fill="#231f20" stroke="#231f20" stroke-width="0.14" >0</text>
<text x="126.60" y="149.20" font-size="6.1" text-anchor="middle" fill="#231f20" stroke="#231f20" stroke-width="0.14" textLength="7.0" lengthAdjust="spacingAndGlyphs" >10³</text>
<text x="139.00" y="149.20" font-size="6.1" text-anchor="middle" fill="#231f20" stroke="#231f20" stroke-width="0.14" textLength="6.6" lengthAdjust="spacingAndGlyphs" >10⁴</text>
<text x="261.20" y="17.70" font-size="10.8" text-anchor="start" fill="#231f20" stroke="#231f20" stroke-width="0.14" textLength="8.0" lengthAdjust="spacingAndGlyphs" >D</text>
<text x="329.50" y="18.80" font-size="6.6" text-anchor="middle" fill="#231f20" stroke="#231f20" stroke-width="0.14" textLength="26.4" lengthAdjust="spacingAndGlyphs" >CD19.28ζ</text>
<text x="415.00" y="18.80" font-size="6.6" text-anchor="middle" fill="#231f20" stroke="#231f20" stroke-width="0.14" textLength="26.3" lengthAdjust="spacingAndGlyphs" >CD19.BBζ</text>
<text x="263.30" y="49.70" font-size="7.3" text-anchor="start" fill="#231f20" stroke="#231f20" stroke-width="0.14" textLength="13.0" lengthAdjust="spacingAndGlyphs" >CD4</text>
<text x="263.30" y="110.60" font-size="7.3" text-anchor="start" fill="#231f20" stroke="#231f20" stroke-width="0.14" textLength="13.0" lengthAdjust="spacingAndGlyphs" >CD8</text>
<rect x="450.00" y="50.30" width="8.20" height="8.40" fill="#cfc8cb" />
<text x="460.80" y="56.70" font-size="6.5" text-anchor="start" fill="#231f20" stroke="#231f20" stroke-width="0.04" textLength="36.5" lengthAdjust="spacingAndGlyphs" >Unstimulated</text>
<rect x="450.00" y="64.70" width="8.20" height="8.40" fill="#3d5a86" />
<text x="460.80" y="71.10" font-size="6.5" text-anchor="start" fill="#231f20" stroke="#231f20" stroke-width="0.04" textLength="44" lengthAdjust="spacingAndGlyphs" >Nalm6 + vehicle</text>
<rect x="450.00" y="79.10" width="8.20" height="8.40" fill="#ad2b37" />
<text x="460.80" y="85.50" font-size="6.5" text-anchor="start" fill="#231f20" stroke="#231f20" stroke-width="0.04" textLength="49.2" lengthAdjust="spacingAndGlyphs" >Nalm6 + dasatinib</text>
<text x="286.40" y="47.45" font-size="7.5" text-anchor="middle" fill="#231f20" stroke="#231f20" stroke-width="0.14" textLength="64" lengthAdjust="spacingAndGlyphs" transform="rotate(-90 286.40 47.45)" >Normalized to mode</text>
<text x="299.00" y="27.60" font-size="4.0" text-anchor="end" fill="#555" stroke="#555" stroke-width="0.1" >100</text>
<text x="299.00" y="36.48" font-size="4.0" text-anchor="end" fill="#555" stroke="#555" stroke-width="0.1" >80</text>
<text x="299.00" y="45.36" font-size="4.0" text-anchor="end" fill="#555" stroke="#555" stroke-width="0.1" >60</text>
<text x="299.00" y="54.24" font-size="4.0" text-anchor="end" fill="#555" stroke="#555" stroke-width="0.1" >40</text>
<text x="299.00" y="63.12" font-size="4.0" text-anchor="end" fill="#555" stroke="#555" stroke-width="0.1" >20</text>
<text x="299.00" y="72.00" font-size="4.0" text-anchor="end" fill="#555" stroke="#555" stroke-width="0.1" >0</text>
<line x1="301.30" y1="70.60" x2="304.40" y2="70.60" stroke="#111" stroke-width="0.6" />
<line x1="302.40" y1="68.38" x2="304.40" y2="68.38" stroke="#111" stroke-width="0.6" />
<line x1="302.40" y1="66.16" x2="304.40" y2="66.16" stroke="#111" stroke-width="0.6" />
<line x1="302.40" y1="63.94" x2="304.40" y2="63.94" stroke="#111" stroke-width="0.6" />
<line x1="301.30" y1="61.72" x2="304.40" y2="61.72" stroke="#111" stroke-width="0.6" />
<line x1="302.40" y1="59.50" x2="304.40" y2="59.50" stroke="#111" stroke-width="0.6" />
<line x1="302.40" y1="57.28" x2="304.40" y2="57.28" stroke="#111" stroke-width="0.6" />
<line x1="302.40" y1="55.06" x2="304.40" y2="55.06" stroke="#111" stroke-width="0.6" />
<line x1="301.30" y1="52.84" x2="304.40" y2="52.84" stroke="#111" stroke-width="0.6" />
<line x1="302.40" y1="50.62" x2="304.40" y2="50.62" stroke="#111" stroke-width="0.6" />
<line x1="302.40" y1="48.40" x2="304.40" y2="48.40" stroke="#111" stroke-width="0.6" />
<line x1="302.40" y1="46.18" x2="304.40" y2="46.18" stroke="#111" stroke-width="0.6" />
<line x1="301.30" y1="43.96" x2="304.40" y2="43.96" stroke="#111" stroke-width="0.6" />
<line x1="302.40" y1="41.74" x2="304.40" y2="41.74" stroke="#111" stroke-width="0.6" />
<line x1="302.40" y1="39.52" x2="304.40" y2="39.52" stroke="#111" stroke-width="0.6" />
<line x1="302.40" y1="37.30" x2="304.40" y2="37.30" stroke="#111" stroke-width="0.6" />
<line x1="301.30" y1="35.08" x2="304.40" y2="35.08" stroke="#111" stroke-width="0.6" />
<line x1="302.40" y1="32.86" x2="304.40" y2="32.86" stroke="#111" stroke-width="0.6" />
<line x1="302.40" y1="30.64" x2="304.40" y2="30.64" stroke="#111" stroke-width="0.6" />
<line x1="302.40" y1="28.42" x2="304.40" y2="28.42" stroke="#111" stroke-width="0.6" />
<line x1="301.30" y1="26.20" x2="304.40" y2="26.20" stroke="#111" stroke-width="0.6" />
<path d="M304.9,70.6 L304.9,70.6 L305.2,70.6 L305.6,70.6 L305.9,70.6 L306.2,70.6 L306.6,70.6 L306.9,70.6 L307.2,70.6 L307.5,70.6 L307.9,70.6 L308.2,70.6 L308.5,70.6 L308.9,70.6 L309.2,70.6 L309.5,70.6 L309.9,70.6 L310.2,70.6 L310.5,70.6 L310.9,70.6 L311.2,70.6 L311.5,70.6 L311.8,70.6 L312.2,70.6 L312.5,70.6 L312.8,70.6 L313.2,70.6 L313.5,70.6 L313.8,70.6 L314.2,70.6 L314.5,70.6 L314.8,70.6 L315.2,70.6 L315.5,70.6 L315.8,70.6 L316.1,70.6 L316.5,70.6 L316.8,70.6 L317.1,70.6 L317.5,70.6 L317.8,70.6 L318.1,70.6 L318.5,70.6 L318.8,70.6 L319.1,70.6 L319.4,70.6 L319.8,70.6 L320.1,70.6 L320.4,70.6 L320.8,70.6 L321.1,70.6 L321.4,70.6 L321.8,70.6 L322.1,70.6 L322.4,70.6 L322.8,70.6 L323.1,70.6 L323.4,70.6 L323.7,70.6 L324.1,70.6 L324.4,70.6 L324.7,70.6 L325.1,70.6 L325.4,70.6 L325.7,70.6 L326.1,70.6 L326.4,70.6 L326.7,70.6 L327.1,70.6 L327.4,70.6 L327.7,70.6 L328.0,70.6 L328.4,70.6 L328.7,70.6 L329.0,70.6 L329.4,70.6 L329.7,70.6 L330.0,70.6 L330.4,70.6 L330.7,70.6 L331.0,70.6 L331.4,70.6 L331.7,70.6 L332.0,70.6 L332.3,70.6 L332.7,70.6 L333.0,70.6 L333.3,70.6 L333.7,70.6 L334.0,70.6 L334.3,70.6 L334.7,70.6 L335.0,70.6 L335.3,70.6 L335.7,70.6 L336.0,70.6 L336.3,70.6 L336.6,70.5 L337.0,70.4 L337.3,70.2 L337.6,70.1 L338.0,70.0 L338.3,69.8 L338.6,69.7 L339.0,69.7 L339.3,69.6 L339.6,69.4 L340.0,69.1 L340.3,68.7 L340.6,68.2 L340.9,67.8 L341.3,67.4 L341.6,67.2 L341.9,67.1 L342.3,66.5 L342.6,64.7 L342.9,61.9 L343.3,58.8 L343.6,55.6 L343.9,52.9 L344.2,51.1 L344.6,50.5 L344.9,48.1 L345.2,43.6 L345.6,38.4 L345.9,33.9 L346.2,31.6 L346.6,32.3 L346.9,35.0 L347.2,38.6 L347.6,41.9 L347.9,43.8 L348.2,45.0 L348.5,49.3 L348.9,55.1 L349.2,60.0 L349.5,61.7 L349.9,62.9 L350.2,65.3 L350.5,67.9 L350.9,69.5 L351.2,69.8 L351.5,70.2 L351.9,70.5 L352.2,70.6 L352.5,70.6 L352.8,70.6 L353.2,70.6 L353.5,70.6 L353.8,70.6 L354.2,70.6 L354.5,70.6 L354.5,70.6Z" fill="#ddd5d8" fill-opacity="0.9"/>
<path d="M337.0,70.4 L337.3,70.2 L337.6,70.1 L338.0,70.0 L338.3,69.8 L338.6,69.7 L339.0,69.7 L339.3,69.6 L339.6,69.4 L340.0,69.1 L340.3,68.7 L340.6,68.2 L340.9,67.8 L341.3,67.4 L341.6,67.2 L341.9,67.1 L342.3,66.5 L342.6,64.7 L342.9,61.9 L343.3,58.8 L343.6,55.6 L343.9,52.9 L344.2,51.1 L344.6,50.5 L344.9,48.1 L345.2,43.6 L345.6,38.4 L345.9,33.9 L346.2,31.6 L346.6,32.3 L346.9,35.0 L347.2,38.6 L347.6,41.9 L347.9,43.8 L348.2,45.0 L348.5,49.3 L348.9,55.1 L349.2,60.0 L349.5,61.7 L349.9,62.9 L350.2,65.3 L350.5,67.9 L350.9,69.5 L351.2,69.8 L351.5,70.2" fill="none" stroke="#b9aeb3" stroke-width="0.6" stroke-linejoin="round"/>
<path d="M320.1,70.2 L320.4,69.8 L320.8,69.2 L321.1,68.7 L321.4,68.3 L321.8,68.0 L322.1,67.9 L322.4,67.6 L322.8,67.0 L323.1,66.1 L323.4,65.1 L323.7,64.0 L324.1,62.9 L324.4,61.9 L324.7,61.1 L325.1,60.6 L325.4,60.4 L325.7,60.2 L326.1,59.8 L326.4,59.1 L326.7,58.3 L327.1,57.4 L327.4,56.5 L327.7,55.7 L328.0,55.0 L328.4,54.4 L328.7,54.2 L329.0,54.0 L329.4,53.2 L329.7,51.8 L330.0,50.1 L330.4,48.3 L330.7,46.3 L331.0,44.5 L331.4,43.0 L331.7,41.9 L332.0,41.3 L332.3,41.4 L332.7,41.8 L333.0,42.5 L333.3,43.3 L333.7,44.0 L334.0,44.7 L334.3,45.2 L334.7,45.3 L335.0,45.3 L335.3,45.2 L335.7,45.1 L336.0,45.0 L336.3,44.9 L336.6,44.9 L337.0,44.9 L337.3,45.8 L337.6,47.4 L338.0,49.1 L338.3,50.4 L338.6,50.7 L339.0,51.8 L339.3,53.6 L339.6,55.7 L340.0,57.5 L340.3,58.5 L340.6,58.5 L340.9,58.1 L341.3,57.5 L341.6,56.7 L341.9,56.0 L342.3,55.4 L342.6,55.1 L342.9,54.3 L343.3,51.6 L343.6,48.3 L343.9,46.3 L344.2,45.7 L344.6,43.8 L344.9,40.9 L345.2,37.5 L345.6,34.3 L345.9,31.6 L346.2,30.0 L346.6,30.1 L346.9,32.4 L347.2,36.1 L347.6,40.5 L347.9,44.6 L348.2,47.5 L348.5,48.5 L348.9,51.1 L349.2,56.2 L349.5,61.5 L349.9,64.9 L350.2,65.7 L350.5,67.5 L350.9,69.6" fill="none" stroke="#3b5b8c" stroke-width="0.7" stroke-linejoin="round"/>
<path d="M334.3,70.3 L334.7,70.2 L335.0,70.1 L335.3,70.0 L335.7,70.0 L336.0,69.9 L336.3,69.9 L336.6,69.9 L337.0,69.9 L337.3,69.8 L337.6,69.8 L338.0,69.8 L338.3,69.7 L338.6,69.7 L339.0,69.7 L339.3,69.7 L339.6,69.6 L340.0,69.6 L340.3,69.5 L340.6,69.4 L340.9,69.3 L341.3,69.3 L341.6,69.2 L341.9,68.0 L342.3,65.6 L342.6,62.6 L342.9,59.3 L343.3,56.3 L343.6,54.0 L343.9,52.9 L344.2,52.2 L344.6,49.7 L344.9,45.9 L345.2,41.3 L345.6,36.5 L345.9,32.1 L346.2,28.7 L346.6,26.8 L346.9,27.2 L347.2,30.3 L347.6,35.0 L347.9,40.0 L348.2,44.1 L348.5,46.1 L348.9,47.6 L349.2,52.0 L349.5,57.8 L349.9,63.0 L350.2,66.0 L350.5,66.6 L350.9,68.2 L351.2,69.9" fill="none" stroke="#b3344a" stroke-width="0.7" stroke-linejoin="round"/>
<rect x="304.40" y="24.00" width="50.60" height="46.90" fill="none" stroke="#111" stroke-width="1.15" />
<line x1="305.90" y1="70.90" x2="305.90" y2="72.60" stroke="#111" stroke-width="0.6" />
<line x1="307.40" y1="70.90" x2="307.40" y2="72.60" stroke="#111" stroke-width="0.6" />
<line x1="308.90" y1="70.90" x2="308.90" y2="72.60" stroke="#111" stroke-width="0.6" />
<line x1="310.40" y1="70.90" x2="310.40" y2="72.60" stroke="#111" stroke-width="0.6" />
<line x1="311.90" y1="70.90" x2="311.90" y2="72.60" stroke="#111" stroke-width="0.6" />
<line x1="314.40" y1="70.90" x2="314.40" y2="73.50" stroke="#111" stroke-width="0.6" />
<line x1="316.90" y1="70.90" x2="316.90" y2="72.60" stroke="#111" stroke-width="0.6" />
<line x1="319.90" y1="70.90" x2="319.90" y2="72.60" stroke="#111" stroke-width="0.6" />
<line x1="321.90" y1="70.90" x2="321.90" y2="72.60" stroke="#111" stroke-width="0.6" />
<line x1="323.90" y1="70.90" x2="323.90" y2="72.60" stroke="#111" stroke-width="0.6" />
<line x1="325.90" y1="70.90" x2="325.90" y2="72.60" stroke="#111" stroke-width="0.6" />
<line x1="327.40" y1="70.90" x2="327.40" y2="72.60" stroke="#111" stroke-width="0.6" />
<line x1="328.70" y1="70.90" x2="328.70" y2="72.60" stroke="#111" stroke-width="0.6" />
<line x1="329.80" y1="70.90" x2="329.80" y2="72.60" stroke="#111" stroke-width="0.6" />
<line x1="330.60" y1="70.90" x2="330.60" y2="73.50" stroke="#111" stroke-width="0.6" />
<line x1="332.90" y1="70.90" x2="332.90" y2="72.60" stroke="#111" stroke-width="0.6" />
<line x1="335.40" y1="70.90" x2="335.40" y2="72.60" stroke="#111" stroke-width="0.6" />
<line x1="337.40" y1="70.90" x2="337.40" y2="72.60" stroke="#111" stroke-width="0.6" />
<line x1="339.00" y1="70.90" x2="339.00" y2="72.60" stroke="#111" stroke-width="0.6" />
<line x1="340.40" y1="70.90" x2="340.40" y2="72.60" stroke="#111" stroke-width="0.6" />
<line x1="341.80" y1="70.90" x2="341.80" y2="72.60" stroke="#111" stroke-width="0.6" />
<line x1="343.00" y1="70.90" x2="343.00" y2="72.60" stroke="#111" stroke-width="0.6" />
<line x1="344.00" y1="70.90" x2="344.00" y2="72.60" stroke="#111" stroke-width="0.6" />
<line x1="344.80" y1="70.90" x2="344.80" y2="72.60" stroke="#111" stroke-width="0.6" />
<line x1="346.70" y1="70.90" x2="346.70" y2="73.50" stroke="#111" stroke-width="0.6" />
<line x1="348.90" y1="70.90" x2="348.90" y2="72.60" stroke="#111" stroke-width="0.6" />
<line x1="350.90" y1="70.90" x2="350.90" y2="72.60" stroke="#111" stroke-width="0.6" />
<line x1="352.90" y1="70.90" x2="352.90" y2="72.60" stroke="#111" stroke-width="0.6" />
<text x="314.40" y="80.10" font-size="4.2" text-anchor="middle" fill="#555" stroke="#555" stroke-width="0.14" >10³</text>
<text x="330.60" y="80.10" font-size="4.2" text-anchor="middle" fill="#555" stroke="#555" stroke-width="0.14" >10⁴</text>
<text x="346.70" y="80.10" font-size="4.2" text-anchor="middle" fill="#555" stroke="#555" stroke-width="0.14" >10⁵</text>
<text x="371.40" y="47.45" font-size="7.5" text-anchor="middle" fill="#231f20" stroke="#231f20" stroke-width="0.14" textLength="64" lengthAdjust="spacingAndGlyphs" transform="rotate(-90 371.40 47.45)" >Normalized to mode</text>
<text x="384.00" y="27.60" font-size="4.0" text-anchor="end" fill="#555" stroke="#555" stroke-width="0.1" >100</text>
<text x="384.00" y="36.48" font-size="4.0" text-anchor="end" fill="#555" stroke="#555" stroke-width="0.1" >80</text>
<text x="384.00" y="45.36" font-size="4.0" text-anchor="end" fill="#555" stroke="#555" stroke-width="0.1" >60</text>
<text x="384.00" y="54.24" font-size="4.0" text-anchor="end" fill="#555" stroke="#555" stroke-width="0.1" >40</text>
<text x="384.00" y="63.12" font-size="4.0" text-anchor="end" fill="#555" stroke="#555" stroke-width="0.1" >20</text>
<text x="384.00" y="72.00" font-size="4.0" text-anchor="end" fill="#555" stroke="#555" stroke-width="0.1" >0</text>
<line x1="386.30" y1="70.60" x2="389.40" y2="70.60" stroke="#111" stroke-width="0.6" />
<line x1="387.40" y1="68.38" x2="389.40" y2="68.38" stroke="#111" stroke-width="0.6" />
<line x1="387.40" y1="66.16" x2="389.40" y2="66.16" stroke="#111" stroke-width="0.6" />
<line x1="387.40" y1="63.94" x2="389.40" y2="63.94" stroke="#111" stroke-width="0.6" />
<line x1="386.30" y1="61.72" x2="389.40" y2="61.72" stroke="#111" stroke-width="0.6" />
<line x1="387.40" y1="59.50" x2="389.40" y2="59.50" stroke="#111" stroke-width="0.6" />
<line x1="387.40" y1="57.28" x2="389.40" y2="57.28" stroke="#111" stroke-width="0.6" />
<line x1="387.40" y1="55.06" x2="389.40" y2="55.06" stroke="#111" stroke-width="0.6" />
<line x1="386.30" y1="52.84" x2="389.40" y2="52.84" stroke="#111" stroke-width="0.6" />
<line x1="387.40" y1="50.62" x2="389.40" y2="50.62" stroke="#111" stroke-width="0.6" />
<line x1="387.40" y1="48.40" x2="389.40" y2="48.40" stroke="#111" stroke-width="0.6" />
<line x1="387.40" y1="46.18" x2="389.40" y2="46.18" stroke="#111" stroke-width="0.6" />
<line x1="386.30" y1="43.96" x2="389.40" y2="43.96" stroke="#111" stroke-width="0.6" />
<line x1="387.40" y1="41.74" x2="389.40" y2="41.74" stroke="#111" stroke-width="0.6" />
<line x1="387.40" y1="39.52" x2="389.40" y2="39.52" stroke="#111" stroke-width="0.6" />
<line x1="387.40" y1="37.30" x2="389.40" y2="37.30" stroke="#111" stroke-width="0.6" />
<line x1="386.30" y1="35.08" x2="389.40" y2="35.08" stroke="#111" stroke-width="0.6" />
<line x1="387.40" y1="32.86" x2="389.40" y2="32.86" stroke="#111" stroke-width="0.6" />
<line x1="387.40" y1="30.64" x2="389.40" y2="30.64" stroke="#111" stroke-width="0.6" />
<line x1="387.40" y1="28.42" x2="389.40" y2="28.42" stroke="#111" stroke-width="0.6" />
<line x1="386.30" y1="26.20" x2="389.40" y2="26.20" stroke="#111" stroke-width="0.6" />
<path d="M389.9,70.6 L389.9,70.6 L390.2,70.6 L390.6,70.6 L390.9,70.6 L391.2,70.6 L391.6,70.6 L391.9,70.6 L392.2,70.6 L392.5,70.6 L392.9,70.6 L393.2,70.6 L393.5,70.6 L393.9,70.6 L394.2,70.6 L394.5,70.6 L394.9,70.6 L395.2,70.6 L395.5,70.6 L395.9,70.6 L396.2,70.6 L396.5,70.6 L396.8,70.6 L397.2,70.6 L397.5,70.6 L397.8,70.6 L398.2,70.6 L398.5,70.6 L398.8,70.6 L399.2,70.6 L399.5,70.6 L399.8,70.6 L400.2,70.6 L400.5,70.6 L400.8,70.6 L401.1,70.6 L401.5,70.6 L401.8,70.6 L402.1,70.6 L402.5,70.6 L402.8,70.6 L403.1,70.6 L403.5,70.6 L403.8,70.6 L404.1,70.6 L404.4,70.6 L404.8,70.6 L405.1,70.6 L405.4,70.6 L405.8,70.6 L406.1,70.6 L406.4,70.6 L406.8,70.6 L407.1,70.6 L407.4,70.6 L407.8,70.6 L408.1,70.6 L408.4,70.6 L408.7,70.6 L409.1,70.6 L409.4,70.6 L409.7,70.6 L410.1,70.6 L410.4,70.6 L410.7,70.6 L411.1,70.6 L411.4,70.6 L411.7,70.6 L412.1,70.6 L412.4,70.6 L412.7,70.6 L413.0,70.6 L413.4,70.6 L413.7,70.6 L414.0,70.6 L414.4,70.6 L414.7,70.5 L415.0,70.4 L415.4,70.2 L415.7,70.1 L416.0,69.9 L416.4,69.8 L416.7,69.6 L417.0,69.5 L417.3,69.4 L417.7,69.3 L418.0,69.3 L418.3,69.2 L418.7,69.1 L419.0,68.9 L419.3,68.7 L419.7,68.4 L420.0,68.2 L420.3,67.9 L420.7,67.6 L421.0,67.4 L421.3,67.2 L421.6,67.1 L422.0,67.0 L422.3,67.0 L422.6,66.8 L423.0,66.4 L423.3,66.0 L423.6,65.6 L424.0,65.1 L424.3,64.7 L424.6,64.4 L425.0,64.1 L425.3,64.0 L425.6,63.8 L425.9,63.2 L426.3,62.2 L426.6,61.0 L426.9,59.7 L427.3,58.6 L427.6,57.7 L427.9,57.3 L428.3,56.6 L428.6,54.2 L428.9,50.5 L429.2,46.2 L429.6,41.9 L429.9,38.2 L430.2,35.7 L430.6,35.0 L430.9,34.0 L431.2,32.4 L431.6,31.5 L431.9,32.6 L432.2,35.8 L432.6,40.0 L432.9,44.3 L433.2,47.4 L433.5,48.4 L433.9,50.1 L434.2,53.5 L434.5,57.8 L434.9,62.0 L435.2,65.1 L435.5,66.2 L435.9,66.5 L436.2,67.4 L436.5,68.5 L436.9,69.5 L437.2,70.3 L437.5,70.6 L437.8,70.6 L438.2,70.6 L438.5,70.6 L438.8,70.6 L439.2,70.6 L439.5,70.6 L439.5,70.6Z" fill="#ddd5d8" fill-opacity="0.9"/>
<path d="M415.0,70.4 L415.4,70.2 L415.7,70.1 L416.0,69.9 L416.4,69.8 L416.7,69.6 L417.0,69.5 L417.3,69.4 L417.7,69.3 L418.0,69.3 L418.3,69.2 L418.7,69.1 L419.0,68.9 L419.3,68.7 L419.7,68.4 L420.0,68.2 L420.3,67.9 L420.7,67.6 L421.0,67.4 L421.3,67.2 L421.6,67.1 L422.0,67.0 L422.3,67.0 L422.6,66.8 L423.0,66.4 L423.3,66.0 L423.6,65.6 L424.0,65.1 L424.3,64.7 L424.6,64.4 L425.0,64.1 L425.3,64.0 L425.6,63.8 L425.9,63.2 L426.3,62.2 L426.6,61.0 L426.9,59.7 L427.3,58.6 L427.6,57.7 L427.9,57.3 L428.3,56.6 L428.6,54.2 L428.9,50.5 L429.2,46.2 L429.6,41.9 L429.9,38.2 L430.2,35.7 L430.6,35.0 L430.9,34.0 L431.2,32.4 L431.6,31.5 L431.9,32.6 L432.2,35.8 L432.6,40.0 L432.9,44.3 L433.2,47.4 L433.5,48.4 L433.9,50.1 L434.2,53.5 L434.5,57.8 L434.9,62.0 L435.2,65.1 L435.5,66.2 L435.9,66.5 L436.2,67.4 L436.5,68.5 L436.9,69.5 L437.2,70.3" fill="none" stroke="#b9aeb3" stroke-width="0.6" stroke-linejoin="round"/>
<path d="M405.4,70.1 L405.8,69.6 L406.1,69.0 L406.4,68.3 L406.8,67.6 L407.1,67.0 L407.4,66.5 L407.8,66.2 L408.1,66.1 L408.4,65.8 L408.7,65.1 L409.1,64.2 L409.4,63.1 L409.7,62.0 L410.1,61.0 L410.4,60.2 L410.7,59.6 L411.1,59.5 L411.4,59.1 L411.7,58.2 L412.1,57.0 L412.4,55.6 L412.7,54.1 L413.0,52.7 L413.4,51.6 L413.7,50.9 L414.0,50.6 L414.4,50.4 L414.7,49.8 L415.0,49.0 L415.4,48.1 L415.7,47.3 L416.0,46.5 L416.4,46.0 L416.7,45.7 L417.0,45.9 L417.3,46.3 L417.7,46.7 L418.0,47.0 L418.3,47.0 L418.7,46.8 L419.0,46.3 L419.3,45.7 L419.7,45.2 L420.0,44.9 L420.3,44.9 L420.7,45.3 L421.0,46.0 L421.3,47.0 L421.6,47.9 L422.0,48.7 L422.3,49.2 L422.6,49.3 L423.0,49.9 L423.3,50.8 L423.6,51.9 L424.0,52.9 L424.3,53.6 L424.6,53.7 L425.0,53.8 L425.3,54.0 L425.6,54.1 L425.9,54.2 L426.3,54.0 L426.6,53.2 L426.9,52.1 L427.3,50.8 L427.6,49.5 L427.9,48.4 L428.3,47.7 L428.6,47.5 L428.9,46.3 L429.2,43.9 L429.6,40.8 L429.9,37.3 L430.2,33.9 L430.6,31.0 L430.9,29.1 L431.2,28.4 L431.6,30.0 L431.9,33.4 L432.2,37.6 L432.6,41.8 L432.9,45.0 L433.2,46.2 L433.5,47.9 L433.9,51.8 L434.2,56.8 L434.5,61.7 L434.9,65.5 L435.2,67.0 L435.5,67.7 L435.9,69.1 L436.2,70.3" fill="none" stroke="#3b5b8c" stroke-width="0.7" stroke-linejoin="round"/>
<path d="M422.6,70.3 L423.0,70.0 L423.3,69.7 L423.6,69.3 L424.0,69.0 L424.3,68.9 L424.6,68.8 L425.0,68.4 L425.3,67.9 L425.6,67.3 L425.9,67.1 L426.3,66.5 L426.6,64.6 L426.9,61.9 L427.3,58.9 L427.6,56.0 L427.9,53.8 L428.3,52.9 L428.6,52.3 L428.9,50.4 L429.2,47.5 L429.6,43.9 L429.9,40.0 L430.2,36.0 L430.6,32.3 L430.9,29.3 L431.2,27.1 L431.6,26.2 L431.9,27.2 L432.2,30.1 L432.6,34.2 L432.9,38.7 L433.2,42.7 L433.5,45.5 L433.9,46.3 L434.2,48.0 L434.5,51.4 L434.9,55.8 L435.2,60.2 L435.5,63.8 L435.9,65.9 L436.2,66.3 L436.5,66.9 L436.9,67.9 L437.2,69.0 L437.5,69.9" fill="none" stroke="#b3344a" stroke-width="0.7" stroke-linejoin="round"/>
<rect x="389.40" y="24.00" width="50.60" height="46.90" fill="none" stroke="#111" stroke-width="1.15" />
<line x1="390.90" y1="70.90" x2="390.90" y2="72.60" stroke="#111" stroke-width="0.6" />
<line x1="392.40" y1="70.90" x2="392.40" y2="72.60" stroke="#111" stroke-width="0.6" />
<line x1="393.90" y1="70.90" x2="393.90" y2="72.60" stroke="#111" stroke-width="0.6" />
<line x1="395.40" y1="70.90" x2="395.40" y2="72.60" stroke="#111" stroke-width="0.6" />
<line x1="396.90" y1="70.90" x2="396.90" y2="72.60" stroke="#111" stroke-width="0.6" />
<line x1="399.40" y1="70.90" x2="399.40" y2="73.50" stroke="#111" stroke-width="0.6" />
<line x1="401.90" y1="70.90" x2="401.90" y2="72.60" stroke="#111" stroke-width="0.6" />
<line x1="404.90" y1="70.90" x2="404.90" y2="72.60" stroke="#111" stroke-width="0.6" />
<line x1="406.90" y1="70.90" x2="406.90" y2="72.60" stroke="#111" stroke-width="0.6" />
<line x1="408.90" y1="70.90" x2="408.90" y2="72.60" stroke="#111" stroke-width="0.6" />
<line x1="410.90" y1="70.90" x2="410.90" y2="72.60" stroke="#111" stroke-width="0.6" />
<line x1="412.40" y1="70.90" x2="412.40" y2="72.60" stroke="#111" stroke-width="0.6" />
<line x1="413.70" y1="70.90" x2="413.70" y2="72.60" stroke="#111" stroke-width="0.6" />
<line x1="414.80" y1="70.90" x2="414.80" y2="72.60" stroke="#111" stroke-width="0.6" />
<line x1="415.60" y1="70.90" x2="415.60" y2="73.50" stroke="#111" stroke-width="0.6" />
<line x1="417.90" y1="70.90" x2="417.90" y2="72.60" stroke="#111" stroke-width="0.6" />
<line x1="420.40" y1="70.90" x2="420.40" y2="72.60" stroke="#111" stroke-width="0.6" />
<line x1="422.40" y1="70.90" x2="422.40" y2="72.60" stroke="#111" stroke-width="0.6" />
<line x1="424.00" y1="70.90" x2="424.00" y2="72.60" stroke="#111" stroke-width="0.6" />
<line x1="425.40" y1="70.90" x2="425.40" y2="72.60" stroke="#111" stroke-width="0.6" />
<line x1="426.80" y1="70.90" x2="426.80" y2="72.60" stroke="#111" stroke-width="0.6" />
<line x1="428.00" y1="70.90" x2="428.00" y2="72.60" stroke="#111" stroke-width="0.6" />
<line x1="429.00" y1="70.90" x2="429.00" y2="72.60" stroke="#111" stroke-width="0.6" />
<line x1="429.80" y1="70.90" x2="429.80" y2="72.60" stroke="#111" stroke-width="0.6" />
<line x1="431.70" y1="70.90" x2="431.70" y2="73.50" stroke="#111" stroke-width="0.6" />
<line x1="433.90" y1="70.90" x2="433.90" y2="72.60" stroke="#111" stroke-width="0.6" />
<line x1="435.90" y1="70.90" x2="435.90" y2="72.60" stroke="#111" stroke-width="0.6" />
<line x1="437.90" y1="70.90" x2="437.90" y2="72.60" stroke="#111" stroke-width="0.6" />
<text x="399.40" y="80.10" font-size="4.2" text-anchor="middle" fill="#555" stroke="#555" stroke-width="0.14" >10³</text>
<text x="415.60" y="80.10" font-size="4.2" text-anchor="middle" fill="#555" stroke="#555" stroke-width="0.14" >10⁴</text>
<text x="431.70" y="80.10" font-size="4.2" text-anchor="middle" fill="#555" stroke="#555" stroke-width="0.14" >10⁵</text>
<text x="286.40" y="108.25" font-size="7.5" text-anchor="middle" fill="#231f20" stroke="#231f20" stroke-width="0.14" textLength="64" lengthAdjust="spacingAndGlyphs" transform="rotate(-90 286.40 108.25)" >Normalized to mode</text>
<text x="299.00" y="88.40" font-size="4.0" text-anchor="end" fill="#555" stroke="#555" stroke-width="0.1" >100</text>
<text x="299.00" y="97.28" font-size="4.0" text-anchor="end" fill="#555" stroke="#555" stroke-width="0.1" >80</text>
<text x="299.00" y="106.16" font-size="4.0" text-anchor="end" fill="#555" stroke="#555" stroke-width="0.1" >60</text>
<text x="299.00" y="115.04" font-size="4.0" text-anchor="end" fill="#555" stroke="#555" stroke-width="0.1" >40</text>
<text x="299.00" y="123.92" font-size="4.0" text-anchor="end" fill="#555" stroke="#555" stroke-width="0.1" >20</text>
<text x="299.00" y="132.80" font-size="4.0" text-anchor="end" fill="#555" stroke="#555" stroke-width="0.1" >0</text>
<line x1="301.30" y1="131.40" x2="304.40" y2="131.40" stroke="#111" stroke-width="0.6" />
<line x1="302.40" y1="129.18" x2="304.40" y2="129.18" stroke="#111" stroke-width="0.6" />
<line x1="302.40" y1="126.96" x2="304.40" y2="126.96" stroke="#111" stroke-width="0.6" />
<line x1="302.40" y1="124.74" x2="304.40" y2="124.74" stroke="#111" stroke-width="0.6" />
<line x1="301.30" y1="122.52" x2="304.40" y2="122.52" stroke="#111" stroke-width="0.6" />
<line x1="302.40" y1="120.30" x2="304.40" y2="120.30" stroke="#111" stroke-width="0.6" />
<line x1="302.40" y1="118.08" x2="304.40" y2="118.08" stroke="#111" stroke-width="0.6" />
<line x1="302.40" y1="115.86" x2="304.40" y2="115.86" stroke="#111" stroke-width="0.6" />
<line x1="301.30" y1="113.64" x2="304.40" y2="113.64" stroke="#111" stroke-width="0.6" />
<line x1="302.40" y1="111.42" x2="304.40" y2="111.42" stroke="#111" stroke-width="0.6" />
<line x1="302.40" y1="109.20" x2="304.40" y2="109.20" stroke="#111" stroke-width="0.6" />
<line x1="302.40" y1="106.98" x2="304.40" y2="106.98" stroke="#111" stroke-width="0.6" />
<line x1="301.30" y1="104.76" x2="304.40" y2="104.76" stroke="#111" stroke-width="0.6" />
<line x1="302.40" y1="102.54" x2="304.40" y2="102.54" stroke="#111" stroke-width="0.6" />
<line x1="302.40" y1="100.32" x2="304.40" y2="100.32" stroke="#111" stroke-width="0.6" />
<line x1="302.40" y1="98.10" x2="304.40" y2="98.10" stroke="#111" stroke-width="0.6" />
<line x1="301.30" y1="95.88" x2="304.40" y2="95.88" stroke="#111" stroke-width="0.6" />
<line x1="302.40" y1="93.66" x2="304.40" y2="93.66" stroke="#111" stroke-width="0.6" />
<line x1="302.40" y1="91.44" x2="304.40" y2="91.44" stroke="#111" stroke-width="0.6" />
<line x1="302.40" y1="89.22" x2="304.40" y2="89.22" stroke="#111" stroke-width="0.6" />
<line x1="301.30" y1="87.00" x2="304.40" y2="87.00" stroke="#111" stroke-width="0.6" />
<path d="M304.9,131.4 L304.9,131.4 L305.2,131.4 L305.6,131.4 L305.9,131.4 L306.2,131.4 L306.6,131.4 L306.9,131.4 L307.2,131.4 L307.5,131.4 L307.9,131.4 L308.2,131.4 L308.5,131.4 L308.9,131.4 L309.2,131.4 L309.5,131.4 L309.9,131.4 L310.2,131.4 L310.5,131.4 L310.9,131.4 L311.2,131.4 L311.5,131.4 L311.8,131.4 L312.2,131.4 L312.5,131.4 L312.8,131.4 L313.2,131.4 L313.5,131.4 L313.8,131.4 L314.2,131.4 L314.5,131.4 L314.8,131.4 L315.2,131.4 L315.5,131.4 L315.8,131.4 L316.1,131.4 L316.5,131.4 L316.8,131.4 L317.1,131.4 L317.5,131.4 L317.8,131.4 L318.1,131.4 L318.5,131.4 L318.8,131.4 L319.1,131.4 L319.4,131.4 L319.8,131.4 L320.1,131.4 L320.4,131.4 L320.8,131.4 L321.1,131.4 L321.4,131.4 L321.8,131.4 L322.1,131.4 L322.4,131.4 L322.8,131.4 L323.1,131.4 L323.4,131.4 L323.7,131.4 L324.1,131.4 L324.4,131.4 L324.7,131.4 L325.1,131.4 L325.4,131.4 L325.7,131.4 L326.1,131.4 L326.4,131.4 L326.7,131.4 L327.1,131.4 L327.4,131.4 L327.7,131.4 L328.0,131.4 L328.4,131.4 L328.7,131.4 L329.0,131.4 L329.4,131.4 L329.7,131.4 L330.0,131.4 L330.4,131.4 L330.7,131.4 L331.0,131.4 L331.4,131.4 L331.7,131.4 L332.0,131.4 L332.3,131.4 L332.7,131.4 L333.0,131.4 L333.3,131.4 L333.7,131.4 L334.0,131.4 L334.3,131.4 L334.7,131.4 L335.0,131.4 L335.3,131.4 L335.7,131.4 L336.0,131.4 L336.3,131.4 L336.6,131.4 L337.0,131.4 L337.3,131.4 L337.6,131.4 L338.0,131.4 L338.3,131.4 L338.6,131.4 L339.0,131.4 L339.3,131.3 L339.6,131.1 L340.0,130.8 L340.3,130.5 L340.6,130.2 L340.9,130.1 L341.3,129.9 L341.6,129.5 L341.9,128.8 L342.3,128.0 L342.6,127.3 L342.9,126.6 L343.3,126.2 L343.6,125.9 L343.9,122.5 L344.2,116.4 L344.6,109.4 L344.9,103.4 L345.2,100.4 L345.6,99.6 L345.9,97.8 L346.2,96.2 L346.6,96.2 L346.9,98.4 L347.2,101.5 L347.6,104.0 L347.9,104.9 L348.2,107.4 L348.5,112.0 L348.9,117.1 L349.2,121.1 L349.5,122.5 L349.9,123.9 L350.2,126.5 L350.5,129.3 L350.9,131.2 L351.2,131.4 L351.5,131.4 L351.9,131.4 L352.2,131.4 L352.5,131.4 L352.8,131.4 L353.2,131.4 L353.5,131.4 L353.8,131.4 L354.2,131.4 L354.5,131.4 L354.5,131.4Z" fill="#ddd5d8" fill-opacity="0.9"/>
<path d="M339.6,131.1 L340.0,130.8 L340.3,130.5 L340.6,130.2 L340.9,130.1 L341.3,129.9 L341.6,129.5 L341.9,128.8 L342.3,128.0 L342.6,127.3 L342.9,126.6 L343.3,126.2 L343.6,125.9 L343.9,122.5 L344.2,116.4 L344.6,109.4 L344.9,103.4 L345.2,100.4 L345.6,99.6 L345.9,97.8 L346.2,96.2 L346.6,96.2 L346.9,98.4 L347.2,101.5 L347.6,104.0 L347.9,104.9 L348.2,107.4 L348.5,112.0 L348.9,117.1 L349.2,121.1 L349.5,122.5 L349.9,123.9 L350.2,126.5 L350.5,129.3 L350.9,131.2" fill="none" stroke="#b9aeb3" stroke-width="0.6" stroke-linejoin="round"/>
<path d="M319.1,131.0 L319.4,130.6 L319.8,130.1 L320.1,129.4 L320.4,128.8 L320.8,128.2 L321.1,127.7 L321.4,127.3 L321.8,127.0 L322.1,126.9 L322.4,126.7 L322.8,126.1 L323.1,125.3 L323.4,124.4 L323.7,123.4 L324.1,122.3 L324.4,121.2 L324.7,120.2 L325.1,119.3 L325.4,118.6 L325.7,118.2 L326.1,118.1 L326.4,117.6 L326.7,116.5 L327.1,115.0 L327.4,113.2 L327.7,111.2 L328.0,109.2 L328.4,107.3 L328.7,105.7 L329.0,104.5 L329.4,103.9 L329.7,103.6 L330.0,102.3 L330.4,100.1 L330.7,97.5 L331.0,94.7 L331.4,92.2 L331.7,90.2 L332.0,89.3 L332.3,89.7 L332.7,91.7 L333.0,94.4 L333.3,97.2 L333.7,99.4 L334.0,100.3 L334.3,100.6 L334.7,101.1 L335.0,101.9 L335.3,102.5 L335.7,102.9 L336.0,103.3 L336.3,104.8 L336.6,107.2 L337.0,109.5 L337.3,111.1 L337.6,111.5 L338.0,112.4 L338.3,114.0 L338.6,115.9 L339.0,117.9 L339.3,119.6 L339.6,120.6 L340.0,120.8 L340.3,121.1 L340.6,121.6 L340.9,122.1 L341.3,122.4 L341.6,122.5 L341.9,122.5 L342.3,122.5 L342.6,122.5 L342.9,122.5 L343.3,122.5 L343.6,122.5 L343.9,122.5 L344.2,122.0 L344.6,121.3 L344.9,120.4 L345.2,119.7 L345.6,119.4 L345.9,119.9 L346.2,121.3 L346.6,122.9 L346.9,124.2 L347.2,124.7 L347.6,125.3 L347.9,126.6 L348.2,128.2 L348.5,129.7 L348.9,130.9" fill="none" stroke="#3b5b8c" stroke-width="0.7" stroke-linejoin="round"/>
<path d="M332.3,131.1 L332.7,131.0 L333.0,130.9 L333.3,130.8 L333.7,130.8 L334.0,130.7 L334.3,130.7 L334.7,130.7 L335.0,130.7 L335.3,130.7 L335.7,130.7 L336.0,130.7 L336.3,130.7 L336.6,130.6 L337.0,130.6 L337.3,130.6 L337.6,130.6 L338.0,130.6 L338.3,130.6 L338.6,130.5 L339.0,130.5 L339.3,130.5 L339.6,130.5 L340.0,130.5 L340.3,130.5 L340.6,130.3 L340.9,130.1 L341.3,129.8 L341.6,129.6 L341.9,129.4 L342.3,129.2 L342.6,129.0 L342.9,126.0 L343.3,120.8 L343.6,115.1 L343.9,110.7 L344.2,109.1 L344.6,106.5 L344.9,101.3 L345.2,95.3 L345.6,90.4 L345.9,88.3 L346.2,90.4 L346.6,95.4 L346.9,101.4 L347.2,106.6 L347.6,109.2 L347.9,110.4 L348.2,114.0 L348.5,118.9 L348.9,123.8 L349.2,127.5 L349.5,128.7 L349.9,129.6 L350.2,130.8" fill="none" stroke="#b3344a" stroke-width="0.7" stroke-linejoin="round"/>
<rect x="304.40" y="84.80" width="50.60" height="46.90" fill="none" stroke="#111" stroke-width="1.15" />
<line x1="305.90" y1="131.70" x2="305.90" y2="133.40" stroke="#111" stroke-width="0.6" />
<line x1="307.40" y1="131.70" x2="307.40" y2="133.40" stroke="#111" stroke-width="0.6" />
<line x1="308.90" y1="131.70" x2="308.90" y2="133.40" stroke="#111" stroke-width="0.6" />
<line x1="310.40" y1="131.70" x2="310.40" y2="133.40" stroke="#111" stroke-width="0.6" />
<line x1="311.90" y1="131.70" x2="311.90" y2="133.40" stroke="#111" stroke-width="0.6" />
<line x1="314.40" y1="131.70" x2="314.40" y2="134.30" stroke="#111" stroke-width="0.6" />
<line x1="316.90" y1="131.70" x2="316.90" y2="133.40" stroke="#111" stroke-width="0.6" />
<line x1="319.90" y1="131.70" x2="319.90" y2="133.40" stroke="#111" stroke-width="0.6" />
<line x1="321.90" y1="131.70" x2="321.90" y2="133.40" stroke="#111" stroke-width="0.6" />
<line x1="323.90" y1="131.70" x2="323.90" y2="133.40" stroke="#111" stroke-width="0.6" />
<line x1="325.90" y1="131.70" x2="325.90" y2="133.40" stroke="#111" stroke-width="0.6" />
<line x1="327.40" y1="131.70" x2="327.40" y2="133.40" stroke="#111" stroke-width="0.6" />
<line x1="328.70" y1="131.70" x2="328.70" y2="133.40" stroke="#111" stroke-width="0.6" />
<line x1="329.80" y1="131.70" x2="329.80" y2="133.40" stroke="#111" stroke-width="0.6" />
<line x1="330.60" y1="131.70" x2="330.60" y2="134.30" stroke="#111" stroke-width="0.6" />
<line x1="332.90" y1="131.70" x2="332.90" y2="133.40" stroke="#111" stroke-width="0.6" />
<line x1="335.40" y1="131.70" x2="335.40" y2="133.40" stroke="#111" stroke-width="0.6" />
<line x1="337.40" y1="131.70" x2="337.40" y2="133.40" stroke="#111" stroke-width="0.6" />
<line x1="339.00" y1="131.70" x2="339.00" y2="133.40" stroke="#111" stroke-width="0.6" />
<line x1="340.40" y1="131.70" x2="340.40" y2="133.40" stroke="#111" stroke-width="0.6" />
<line x1="341.80" y1="131.70" x2="341.80" y2="133.40" stroke="#111" stroke-width="0.6" />
<line x1="343.00" y1="131.70" x2="343.00" y2="133.40" stroke="#111" stroke-width="0.6" />
<line x1="344.00" y1="131.70" x2="344.00" y2="133.40" stroke="#111" stroke-width="0.6" />
<line x1="344.80" y1="131.70" x2="344.80" y2="133.40" stroke="#111" stroke-width="0.6" />
<line x1="346.70" y1="131.70" x2="346.70" y2="134.30" stroke="#111" stroke-width="0.6" />
<line x1="348.90" y1="131.70" x2="348.90" y2="133.40" stroke="#111" stroke-width="0.6" />
<line x1="350.90" y1="131.70" x2="350.90" y2="133.40" stroke="#111" stroke-width="0.6" />
<line x1="352.90" y1="131.70" x2="352.90" y2="133.40" stroke="#111" stroke-width="0.6" />
<text x="314.40" y="140.90" font-size="4.2" text-anchor="middle" fill="#555" stroke="#555" stroke-width="0.14" >10³</text>
<text x="330.60" y="140.90" font-size="4.2" text-anchor="middle" fill="#555" stroke="#555" stroke-width="0.14" >10⁴</text>
<text x="346.70" y="140.90" font-size="4.2" text-anchor="middle" fill="#555" stroke="#555" stroke-width="0.14" >10⁵</text>
<text x="371.40" y="108.25" font-size="7.5" text-anchor="middle" fill="#231f20" stroke="#231f20" stroke-width="0.14" textLength="64" lengthAdjust="spacingAndGlyphs" transform="rotate(-90 371.40 108.25)" >Normalized to mode</text>
<text x="384.00" y="88.40" font-size="4.0" text-anchor="end" fill="#555" stroke="#555" stroke-width="0.1" >100</text>
<text x="384.00" y="97.28" font-size="4.0" text-anchor="end" fill="#555" stroke="#555" stroke-width="0.1" >80</text>
<text x="384.00" y="106.16" font-size="4.0" text-anchor="end" fill="#555" stroke="#555" stroke-width="0.1" >60</text>
<text x="384.00" y="115.04" font-size="4.0" text-anchor="end" fill="#555" stroke="#555" stroke-width="0.1" >40</text>
<text x="384.00" y="123.92" font-size="4.0" text-anchor="end" fill="#555" stroke="#555" stroke-width="0.1" >20</text>
<text x="384.00" y="132.80" font-size="4.0" text-anchor="end" fill="#555" stroke="#555" stroke-width="0.1" >0</text>
<line x1="386.30" y1="131.40" x2="389.40" y2="131.40" stroke="#111" stroke-width="0.6" />
<line x1="387.40" y1="129.18" x2="389.40" y2="129.18" stroke="#111" stroke-width="0.6" />
<line x1="387.40" y1="126.96" x2="389.40" y2="126.96" stroke="#111" stroke-width="0.6" />
<line x1="387.40" y1="124.74" x2="389.40" y2="124.74" stroke="#111" stroke-width="0.6" />
<line x1="386.30" y1="122.52" x2="389.40" y2="122.52" stroke="#111" stroke-width="0.6" />
<line x1="387.40" y1="120.30" x2="389.40" y2="120.30" stroke="#111" stroke-width="0.6" />
<line x1="387.40" y1="118.08" x2="389.40" y2="118.08" stroke="#111" stroke-width="0.6" />
<line x1="387.40" y1="115.86" x2="389.40" y2="115.86" stroke="#111" stroke-width="0.6" />
<line x1="386.30" y1="113.64" x2="389.40" y2="113.64" stroke="#111" stroke-width="0.6" />
<line x1="387.40" y1="111.42" x2="389.40" y2="111.42" stroke="#111" stroke-width="0.6" />
<line x1="387.40" y1="109.20" x2="389.40" y2="109.20" stroke="#111" stroke-width="0.6" />
<line x1="387.40" y1="106.98" x2="389.40" y2="106.98" stroke="#111" stroke-width="0.6" />
<line x1="386.30" y1="104.76" x2="389.40" y2="104.76" stroke="#111" stroke-width="0.6" />
<line x1="387.40" y1="102.54" x2="389.40" y2="102.54" stroke="#111" stroke-width="0.6" />
<line x1="387.40" y1="100.32" x2="389.40" y2="100.32" stroke="#111" stroke-width="0.6" />
<line x1="387.40" y1="98.10" x2="389.40" y2="98.10" stroke="#111" stroke-width="0.6" />
<line x1="386.30" y1="95.88" x2="389.40" y2="95.88" stroke="#111" stroke-width="0.6" />
<line x1="387.40" y1="93.66" x2="389.40" y2="93.66" stroke="#111" stroke-width="0.6" />
<line x1="387.40" y1="91.44" x2="389.40" y2="91.44" stroke="#111" stroke-width="0.6" />
<line x1="387.40" y1="89.22" x2="389.40" y2="89.22" stroke="#111" stroke-width="0.6" />
<line x1="386.30" y1="87.00" x2="389.40" y2="87.00" stroke="#111" stroke-width="0.6" />
<path d="M389.9,131.4 L389.9,131.4 L390.2,131.4 L390.6,131.4 L390.9,131.4 L391.2,131.4 L391.6,131.4 L391.9,131.4 L392.2,131.4 L392.5,131.4 L392.9,131.4 L393.2,131.4 L393.5,131.4 L393.9,131.4 L394.2,131.4 L394.5,131.4 L394.9,131.4 L395.2,131.4 L395.5,131.4 L395.9,131.4 L396.2,131.4 L396.5,131.4 L396.8,131.4 L397.2,131.4 L397.5,131.4 L397.8,131.4 L398.2,131.4 L398.5,131.4 L398.8,131.4 L399.2,131.4 L399.5,131.4 L399.8,131.4 L400.2,131.4 L400.5,131.4 L400.8,131.4 L401.1,131.4 L401.5,131.4 L401.8,131.4 L402.1,131.4 L402.5,131.4 L402.8,131.4 L403.1,131.4 L403.5,131.4 L403.8,131.4 L404.1,131.4 L404.4,131.4 L404.8,131.4 L405.1,131.4 L405.4,131.4 L405.8,131.4 L406.1,131.4 L406.4,131.4 L406.8,131.4 L407.1,131.4 L407.4,131.4 L407.8,131.4 L408.1,131.4 L408.4,131.4 L408.7,131.4 L409.1,131.4 L409.4,131.4 L409.7,131.4 L410.1,131.4 L410.4,131.4 L410.7,131.4 L411.1,131.4 L411.4,131.4 L411.7,131.4 L412.1,131.4 L412.4,131.4 L412.7,131.4 L413.0,131.4 L413.4,131.4 L413.7,131.4 L414.0,131.4 L414.4,131.4 L414.7,131.3 L415.0,131.2 L415.4,131.0 L415.7,130.9 L416.0,130.7 L416.4,130.6 L416.7,130.4 L417.0,130.3 L417.3,130.2 L417.7,130.1 L418.0,130.1 L418.3,130.0 L418.7,129.9 L419.0,129.7 L419.3,129.5 L419.7,129.2 L420.0,129.0 L420.3,128.7 L420.7,128.4 L421.0,128.2 L421.3,128.0 L421.6,127.9 L422.0,127.8 L422.3,127.8 L422.6,127.5 L423.0,127.2 L423.3,126.8 L423.6,126.3 L424.0,125.9 L424.3,125.6 L424.6,125.3 L425.0,125.2 L425.3,125.0 L425.6,124.4 L425.9,123.5 L426.3,122.4 L426.6,121.3 L426.9,120.1 L427.3,119.1 L427.6,118.4 L427.9,118.1 L428.3,117.4 L428.6,115.1 L428.9,111.6 L429.2,107.4 L429.6,103.3 L429.9,99.8 L430.2,97.4 L430.6,96.7 L430.9,95.5 L431.2,93.9 L431.6,94.1 L431.9,96.9 L432.2,101.4 L432.6,106.2 L432.9,110.0 L433.2,111.4 L433.5,112.6 L433.9,115.5 L434.2,119.2 L434.5,123.0 L434.9,126.1 L435.2,127.7 L435.5,128.0 L435.9,128.8 L436.2,129.8 L436.5,130.7 L436.9,131.3 L437.2,131.4 L437.5,131.4 L437.8,131.4 L438.2,131.4 L438.5,131.4 L438.8,131.4 L439.2,131.4 L439.5,131.4 L439.5,131.4Z" fill="#ddd5d8" fill-opacity="0.9"/>
<path d="M415.0,131.2 L415.4,131.0 L415.7,130.9 L416.0,130.7 L416.4,130.6 L416.7,130.4 L417.0,130.3 L417.3,130.2 L417.7,130.1 L418.0,130.1 L418.3,130.0 L418.7,129.9 L419.0,129.7 L419.3,129.5 L419.7,129.2 L420.0,129.0 L420.3,128.7 L420.7,128.4 L421.0,128.2 L421.3,128.0 L421.6,127.9 L422.0,127.8 L422.3,127.8 L422.6,127.5 L423.0,127.2 L423.3,126.8 L423.6,126.3 L424.0,125.9 L424.3,125.6 L424.6,125.3 L425.0,125.2 L425.3,125.0 L425.6,124.4 L425.9,123.5 L426.3,122.4 L426.6,121.3 L426.9,120.1 L427.3,119.1 L427.6,118.4 L427.9,118.1 L428.3,117.4 L428.6,115.1 L428.9,111.6 L429.2,107.4 L429.6,103.3 L429.9,99.8 L430.2,97.4 L430.6,96.7 L430.9,95.5 L431.2,93.9 L431.6,94.1 L431.9,96.9 L432.2,101.4 L432.6,106.2 L432.9,110.0 L433.2,111.4 L433.5,112.6 L433.9,115.5 L434.2,119.2 L434.5,123.0 L434.9,126.1 L435.2,127.7 L435.5,128.0 L435.9,128.8 L436.2,129.8 L436.5,130.7" fill="none" stroke="#b9aeb3" stroke-width="0.6" stroke-linejoin="round"/>
<path d="M405.4,130.8 L405.8,130.2 L406.1,129.5 L406.4,128.7 L406.8,127.8 L407.1,127.1 L407.4,126.5 L407.8,126.2 L408.1,126.0 L408.4,125.6 L408.7,124.6 L409.1,123.3 L409.4,121.8 L409.7,120.3 L410.1,118.9 L410.4,117.7 L410.7,117.0 L411.1,116.7 L411.4,116.1 L411.7,114.6 L412.1,112.6 L412.4,110.4 L412.7,108.2 L413.0,106.2 L413.4,104.7 L413.7,103.9 L414.0,103.7 L414.4,103.1 L414.7,102.0 L415.0,100.7 L415.4,99.1 L415.7,97.4 L416.0,95.8 L416.4,94.3 L416.7,93.0 L417.0,92.0 L417.3,91.5 L417.7,91.5 L418.0,92.1 L418.3,93.0 L418.7,94.3 L419.0,95.8 L419.3,97.4 L419.7,98.9 L420.0,100.3 L420.3,101.4 L420.7,102.2 L421.0,102.5 L421.3,102.8 L421.6,103.4 L422.0,104.4 L422.3,105.6 L422.6,106.9 L423.0,108.4 L423.3,109.8 L423.6,111.1 L424.0,112.2 L424.3,113.1 L424.6,113.6 L425.0,113.6 L425.3,113.2 L425.6,112.6 L425.9,111.7 L426.3,110.7 L426.6,109.7 L426.9,108.7 L427.3,107.9 L427.6,107.3 L427.9,107.0 L428.3,106.8 L428.6,106.3 L428.9,105.5 L429.2,104.4 L429.6,103.3 L429.9,102.1 L430.2,101.1 L430.6,100.2 L430.9,99.6 L431.2,99.4 L431.6,100.7 L431.9,103.4 L432.2,106.8 L432.6,110.2 L432.9,112.7 L433.2,113.6 L433.5,114.9 L433.9,117.8 L434.2,121.5 L434.5,125.2 L434.9,128.1 L435.2,129.2 L435.5,129.6 L435.9,130.5" fill="none" stroke="#3b5b8c" stroke-width="0.7" stroke-linejoin="round"/>
<path d="M422.6,131.2 L423.0,131.0 L423.3,130.7 L423.6,130.4 L424.0,130.2 L424.3,130.1 L424.6,130.1 L425.0,130.0 L425.3,129.8 L425.6,129.5 L425.9,129.2 L426.3,129.0 L426.6,128.8 L426.9,128.7 L427.3,127.9 L427.6,125.0 L427.9,121.0 L428.3,116.8 L428.6,113.3 L428.9,111.5 L429.2,110.6 L429.6,107.2 L429.9,102.3 L430.2,96.9 L430.6,91.8 L430.9,88.2 L431.2,87.0 L431.6,88.9 L431.9,93.2 L432.2,98.5 L432.6,103.8 L432.9,107.7 L433.2,109.2 L433.5,110.4 L433.9,113.1 L434.2,116.8 L434.5,120.8 L434.9,124.4 L435.2,127.0 L435.5,127.9 L435.9,128.2 L436.2,129.0 L436.5,130.0 L436.9,130.9" fill="none" stroke="#b3344a" stroke-width="0.7" stroke-linejoin="round"/>
<rect x="389.40" y="84.80" width="50.60" height="46.90" fill="none" stroke="#111" stroke-width="1.15" />
<line x1="390.90" y1="131.70" x2="390.90" y2="133.40" stroke="#111" stroke-width="0.6" />
<line x1="392.40" y1="131.70" x2="392.40" y2="133.40" stroke="#111" stroke-width="0.6" />
<line x1="393.90" y1="131.70" x2="393.90" y2="133.40" stroke="#111" stroke-width="0.6" />
<line x1="395.40" y1="131.70" x2="395.40" y2="133.40" stroke="#111" stroke-width="0.6" />
<line x1="396.90" y1="131.70" x2="396.90" y2="133.40" stroke="#111" stroke-width="0.6" />
<line x1="399.40" y1="131.70" x2="399.40" y2="134.30" stroke="#111" stroke-width="0.6" />
<line x1="401.90" y1="131.70" x2="401.90" y2="133.40" stroke="#111" stroke-width="0.6" />
<line x1="404.90" y1="131.70" x2="404.90" y2="133.40" stroke="#111" stroke-width="0.6" />
<line x1="406.90" y1="131.70" x2="406.90" y2="133.40" stroke="#111" stroke-width="0.6" />
<line x1="408.90" y1="131.70" x2="408.90" y2="133.40" stroke="#111" stroke-width="0.6" />
<line x1="410.90" y1="131.70" x2="410.90" y2="133.40" stroke="#111" stroke-width="0.6" />
<line x1="412.40" y1="131.70" x2="412.40" y2="133.40" stroke="#111" stroke-width="0.6" />
<line x1="413.70" y1="131.70" x2="413.70" y2="133.40" stroke="#111" stroke-width="0.6" />
<line x1="414.80" y1="131.70" x2="414.80" y2="133.40" stroke="#111" stroke-width="0.6" />
<line x1="415.60" y1="131.70" x2="415.60" y2="134.30" stroke="#111" stroke-width="0.6" />
<line x1="417.90" y1="131.70" x2="417.90" y2="133.40" stroke="#111" stroke-width="0.6" />
<line x1="420.40" y1="131.70" x2="420.40" y2="133.40" stroke="#111" stroke-width="0.6" />
<line x1="422.40" y1="131.70" x2="422.40" y2="133.40" stroke="#111" stroke-width="0.6" />
<line x1="424.00" y1="131.70" x2="424.00" y2="133.40" stroke="#111" stroke-width="0.6" />
<line x1="425.40" y1="131.70" x2="425.40" y2="133.40" stroke="#111" stroke-width="0.6" />
<line x1="426.80" y1="131.70" x2="426.80" y2="133.40" stroke="#111" stroke-width="0.6" />
<line x1="428.00" y1="131.70" x2="428.00" y2="133.40" stroke="#111" stroke-width="0.6" />
<line x1="429.00" y1="131.70" x2="429.00" y2="133.40" stroke="#111" stroke-width="0.6" />
<line x1="429.80" y1="131.70" x2="429.80" y2="133.40" stroke="#111" stroke-width="0.6" />
<line x1="431.70" y1="131.70" x2="431.70" y2="134.30" stroke="#111" stroke-width="0.6" />
<line x1="433.90" y1="131.70" x2="433.90" y2="133.40" stroke="#111" stroke-width="0.6" />
<line x1="435.90" y1="131.70" x2="435.90" y2="133.40" stroke="#111" stroke-width="0.6" />
<line x1="437.90" y1="131.70" x2="437.90" y2="133.40" stroke="#111" stroke-width="0.6" />
<text x="399.40" y="140.90" font-size="4.2" text-anchor="middle" fill="#555" stroke="#555" stroke-width="0.14" >10³</text>
<text x="415.60" y="140.90" font-size="4.2" text-anchor="middle" fill="#555" stroke="#555" stroke-width="0.14" >10⁴</text>
<text x="431.70" y="140.90" font-size="4.2" text-anchor="middle" fill="#555" stroke="#555" stroke-width="0.14" >10⁵</text>
<line x1="302.30" y1="148.80" x2="435.00" y2="148.80" stroke="#222" stroke-width="1.2" />
<path d="M433,145.9 L440.9,148.8 L433,151.7 Z" fill="#222" />
<text x="363.80" y="158.40" font-size="9.2" text-anchor="start" fill="#231f20" stroke="#231f20" stroke-width="0.14" textLength="16.6" lengthAdjust="spacingAndGlyphs" >CTV</text>
<text x="7.30" y="174.90" font-size="11" text-anchor="start" fill="#231f20" stroke="#231f20" stroke-width="0.14" textLength="6.8" lengthAdjust="spacingAndGlyphs" >B</text>
<text x="90.40" y="176.40" font-size="6.6" text-anchor="middle" fill="#231f20" stroke="#231f20" stroke-width="0.14" textLength="26.7" lengthAdjust="spacingAndGlyphs" >CD19.28ζ</text>
<text x="209.40" y="176.40" font-size="6.6" text-anchor="middle" fill="#231f20" stroke="#231f20" stroke-width="0.14" textLength="26.5" lengthAdjust="spacingAndGlyphs" >CD19.BBζ</text>
<text x="10.00" y="206.10" font-size="6.6" text-anchor="start" fill="#3a3a3a" stroke="#3a3a3a" stroke-width="0.14" textLength="6.6" lengthAdjust="spacingAndGlyphs" >1:1</text>
<text x="10.00" y="213.90" font-size="6.6" text-anchor="start" fill="#3a3a3a" stroke="#3a3a3a" stroke-width="0.14" textLength="7.4" lengthAdjust="spacingAndGlyphs" >E:T</text>
<text x="10.00" y="296.90" font-size="6.6" text-anchor="start" fill="#3a3a3a" stroke="#3a3a3a" stroke-width="0.14" textLength="6.6" lengthAdjust="spacingAndGlyphs" >1:8</text>
<text x="10.00" y="304.90" font-size="6.6" text-anchor="start" fill="#3a3a3a" stroke="#3a3a3a" stroke-width="0.14" textLength="7.4" lengthAdjust="spacingAndGlyphs" >E:T</text>
<text x="10.00" y="395.80" font-size="6.6" text-anchor="start" fill="#3a3a3a" stroke="#3a3a3a" stroke-width="0.14" textLength="6.6" lengthAdjust="spacingAndGlyphs" >1:8</text>
<text x="10.00" y="403.90" font-size="6.6" text-anchor="start" fill="#3a3a3a" stroke="#3a3a3a" stroke-width="0.14" textLength="7.4" lengthAdjust="spacingAndGlyphs" >E:T</text>
<line x1="60.40" y1="237.60" x2="120.40" y2="237.60" stroke="#111" stroke-width="0.9" />
<line x1="60.40" y1="238.05" x2="60.40" y2="178.58" stroke="#111" stroke-width="0.9" />
<line x1="57.40" y1="237.60" x2="60.40" y2="237.60" stroke="#111" stroke-width="0.7" />
<text x="54.40" y="239.94" font-size="6.5" text-anchor="end" fill="#231f20" stroke="#231f20" stroke-width="0.14" >0</text>
<line x1="57.40" y1="228.18" x2="60.40" y2="228.18" stroke="#111" stroke-width="0.7" />
<text x="54.40" y="230.52" font-size="6.5" text-anchor="end" fill="#231f20" stroke="#231f20" stroke-width="0.14" >1</text>
<line x1="57.40" y1="218.76" x2="60.40" y2="218.76" stroke="#111" stroke-width="0.7" />
<text x="54.40" y="221.10" font-size="6.5" text-anchor="end" fill="#231f20" stroke="#231f20" stroke-width="0.14" >2</text>
<line x1="57.40" y1="209.34" x2="60.40" y2="209.34" stroke="#111" stroke-width="0.7" />
<text x="54.40" y="211.68" font-size="6.5" text-anchor="end" fill="#231f20" stroke="#231f20" stroke-width="0.14" >3</text>
<line x1="57.40" y1="199.92" x2="60.40" y2="199.92" stroke="#111" stroke-width="0.7" />
<text x="54.40" y="202.26" font-size="6.5" text-anchor="end" fill="#231f20" stroke="#231f20" stroke-width="0.14" >4</text>
<line x1="57.40" y1="190.50" x2="60.40" y2="190.50" stroke="#111" stroke-width="0.7" />
<text x="54.40" y="192.84" font-size="6.5" text-anchor="end" fill="#231f20" stroke="#231f20" stroke-width="0.14" >5</text>
<line x1="57.40" y1="181.08" x2="60.40" y2="181.08" stroke="#111" stroke-width="0.7" />
<text x="54.40" y="183.42" font-size="6.5" text-anchor="end" fill="#231f20" stroke="#231f20" stroke-width="0.14" >6</text>
<line x1="60.40" y1="237.60" x2="60.40" y2="240.60" stroke="#111" stroke-width="0.7" />
<text x="60.40" y="249.80" font-size="6.5" text-anchor="middle" fill="#231f20" stroke="#231f20" stroke-width="0.14" >0</text>
<line x1="74.50" y1="237.60" x2="74.50" y2="240.60" stroke="#111" stroke-width="0.7" />
<text x="74.50" y="249.80" font-size="6.5" text-anchor="middle" fill="#231f20" stroke="#231f20" stroke-width="0.14" >20</text>
<line x1="88.60" y1="237.60" x2="88.60" y2="240.60" stroke="#111" stroke-width="0.7" />
<text x="88.60" y="249.80" font-size="6.5" text-anchor="middle" fill="#231f20" stroke="#231f20" stroke-width="0.14" >40</text>
<line x1="102.70" y1="237.60" x2="102.70" y2="240.60" stroke="#111" stroke-width="0.7" />
<text x="102.70" y="249.80" font-size="6.5" text-anchor="middle" fill="#231f20" stroke="#231f20" stroke-width="0.14" >60</text>
<line x1="116.80" y1="237.60" x2="116.80" y2="240.60" stroke="#111" stroke-width="0.7" />
<text x="116.80" y="249.80" font-size="6.5" text-anchor="middle" fill="#231f20" stroke="#231f20" stroke-width="0.14" >80</text>
<path d="M60.4,228.2 L63.2,230.3 L66.0,233.4 L68.9,235.2 L71.7,236.5 L74.5,237.1 L77.3,237.4 L80.1,237.4 L83.0,237.4 L85.8,237.5 L88.6,237.5 L91.4,237.5 L94.2,237.5 L97.1,237.5 L99.9,237.5 L102.7,237.6 L105.5,237.6 L108.3,237.6 L111.2,237.6" fill="none" stroke="#3d5a86" stroke-width="0.75" stroke-linejoin="round"/>
<circle cx="60.40" cy="228.18" r="1.1" fill="#3d5a86"/>
<circle cx="63.22" cy="230.25" r="1.1" fill="#3d5a86"/>
<circle cx="66.04" cy="233.36" r="1.1" fill="#3d5a86"/>
<circle cx="68.86" cy="235.25" r="1.1" fill="#3d5a86"/>
<circle cx="71.68" cy="236.47" r="1.1" fill="#3d5a86"/>
<circle cx="74.50" cy="237.13" r="1.1" fill="#3d5a86"/>
<circle cx="77.32" cy="237.41" r="1.1" fill="#3d5a86"/>
<circle cx="80.14" cy="237.43" r="1.1" fill="#3d5a86"/>
<circle cx="82.96" cy="237.44" r="1.1" fill="#3d5a86"/>
<circle cx="85.78" cy="237.46" r="1.1" fill="#3d5a86"/>
<circle cx="88.60" cy="237.47" r="1.1" fill="#3d5a86"/>
<circle cx="91.42" cy="237.49" r="1.1" fill="#3d5a86"/>
<circle cx="94.24" cy="237.51" r="1.1" fill="#3d5a86"/>
<circle cx="97.06" cy="237.52" r="1.1" fill="#3d5a86"/>
<circle cx="99.88" cy="237.54" r="1.1" fill="#3d5a86"/>
<circle cx="102.70" cy="237.55" r="1.1" fill="#3d5a86"/>
<circle cx="105.52" cy="237.57" r="1.1" fill="#3d5a86"/>
<circle cx="108.34" cy="237.58" r="1.1" fill="#3d5a86"/>
<circle cx="111.16" cy="237.60" r="1.1" fill="#3d5a86"/>
<path d="M60.4,227.2 L63.2,229.6 L66.0,232.4 L68.9,234.3 L71.7,235.5 L74.5,236.2 L77.3,236.5 L80.1,236.5 L83.0,236.5 L85.8,236.5 L88.6,236.5 L91.4,236.5 L94.2,236.6 L97.1,236.6 L99.9,236.6 L102.7,236.6 L105.5,236.6 L108.3,236.6 L111.2,236.7" fill="none" stroke="#ad2b37" stroke-width="0.75" stroke-linejoin="round"/>
<circle cx="60.40" cy="227.24" r="1.1" fill="#ad2b37"/>
<circle cx="63.22" cy="229.59" r="1.1" fill="#ad2b37"/>
<circle cx="66.04" cy="232.42" r="1.1" fill="#ad2b37"/>
<circle cx="68.86" cy="234.30" r="1.1" fill="#ad2b37"/>
<circle cx="71.68" cy="235.53" r="1.1" fill="#ad2b37"/>
<circle cx="74.50" cy="236.19" r="1.1" fill="#ad2b37"/>
<circle cx="77.32" cy="236.47" r="1.1" fill="#ad2b37"/>
<circle cx="80.14" cy="236.49" r="1.1" fill="#ad2b37"/>
<circle cx="82.96" cy="236.50" r="1.1" fill="#ad2b37"/>
<circle cx="85.78" cy="236.52" r="1.1" fill="#ad2b37"/>
<circle cx="88.60" cy="236.53" r="1.1" fill="#ad2b37"/>
<circle cx="91.42" cy="236.55" r="1.1" fill="#ad2b37"/>
<circle cx="94.24" cy="236.56" r="1.1" fill="#ad2b37"/>
<circle cx="97.06" cy="236.58" r="1.1" fill="#ad2b37"/>
<circle cx="99.88" cy="236.60" r="1.1" fill="#ad2b37"/>
<circle cx="102.70" cy="236.61" r="1.1" fill="#ad2b37"/>
<circle cx="105.52" cy="236.63" r="1.1" fill="#ad2b37"/>
<circle cx="108.34" cy="236.64" r="1.1" fill="#ad2b37"/>
<circle cx="111.16" cy="236.66" r="1.1" fill="#ad2b37"/>
<line x1="99.88" y1="199.92" x2="99.88" y2="203.69" stroke="#6fa9dc" stroke-width="0.55" />
<line x1="98.98" y1="199.92" x2="100.78" y2="199.92" stroke="#6fa9dc" stroke-width="0.5" />
<line x1="98.98" y1="203.69" x2="100.78" y2="203.69" stroke="#6fa9dc" stroke-width="0.5" />
<line x1="102.70" y1="198.51" x2="102.70" y2="203.22" stroke="#6fa9dc" stroke-width="0.55" />
<line x1="101.80" y1="198.51" x2="103.60" y2="198.51" stroke="#6fa9dc" stroke-width="0.5" />
<line x1="101.80" y1="203.22" x2="103.60" y2="203.22" stroke="#6fa9dc" stroke-width="0.5" />
<line x1="105.52" y1="196.15" x2="105.52" y2="201.80" stroke="#6fa9dc" stroke-width="0.55" />
<line x1="104.62" y1="196.15" x2="106.42" y2="196.15" stroke="#6fa9dc" stroke-width="0.5" />
<line x1="104.62" y1="201.80" x2="106.42" y2="201.80" stroke="#6fa9dc" stroke-width="0.5" />
<line x1="108.34" y1="192.38" x2="108.34" y2="198.04" stroke="#6fa9dc" stroke-width="0.55" />
<line x1="107.44" y1="192.38" x2="109.24" y2="192.38" stroke="#6fa9dc" stroke-width="0.5" />
<line x1="107.44" y1="198.04" x2="109.24" y2="198.04" stroke="#6fa9dc" stroke-width="0.5" />
<line x1="111.16" y1="190.03" x2="111.16" y2="193.80" stroke="#6fa9dc" stroke-width="0.55" />
<line x1="110.26" y1="190.03" x2="112.06" y2="190.03" stroke="#6fa9dc" stroke-width="0.5" />
<line x1="110.26" y1="193.80" x2="112.06" y2="193.80" stroke="#6fa9dc" stroke-width="0.5" />
<path d="M60.4,228.2 L63.2,227.8 L66.0,226.5 L68.9,225.1 L71.7,223.2 L74.5,220.8 L77.3,218.1 L80.1,215.5 L83.0,213.0 L85.8,210.7 L88.6,208.4 L91.4,204.6 L94.2,200.9 L97.1,196.6 L99.9,201.8 L102.7,200.9 L105.5,199.0 L108.3,195.2 L111.2,191.9" fill="none" stroke="#6fa9dc" stroke-width="0.75" stroke-linejoin="round"/>
<circle cx="60.40" cy="228.18" r="1.1" fill="#6fa9dc"/>
<circle cx="63.22" cy="227.80" r="1.1" fill="#6fa9dc"/>
<circle cx="66.04" cy="226.48" r="1.1" fill="#6fa9dc"/>
<circle cx="68.86" cy="225.07" r="1.1" fill="#6fa9dc"/>
<circle cx="71.68" cy="223.19" r="1.1" fill="#6fa9dc"/>
<circle cx="74.50" cy="220.83" r="1.1" fill="#6fa9dc"/>
<circle cx="77.32" cy="218.10" r="1.1" fill="#6fa9dc"/>
<circle cx="80.14" cy="215.46" r="1.1" fill="#6fa9dc"/>
<circle cx="82.96" cy="213.01" r="1.1" fill="#6fa9dc"/>
<circle cx="85.78" cy="210.66" r="1.1" fill="#6fa9dc"/>
<circle cx="88.60" cy="208.40" r="1.1" fill="#6fa9dc"/>
<circle cx="91.42" cy="204.63" r="1.1" fill="#6fa9dc"/>
<circle cx="94.24" cy="200.86" r="1.1" fill="#6fa9dc"/>
<circle cx="97.06" cy="196.62" r="1.1" fill="#6fa9dc"/>
<circle cx="99.88" cy="201.80" r="1.1" fill="#6fa9dc"/>
<circle cx="102.70" cy="200.86" r="1.1" fill="#6fa9dc"/>
<circle cx="105.52" cy="198.98" r="1.1" fill="#6fa9dc"/>
<circle cx="108.34" cy="195.21" r="1.1" fill="#6fa9dc"/>
<circle cx="111.16" cy="191.91" r="1.1" fill="#6fa9dc"/>
<line x1="99.88" y1="201.33" x2="99.88" y2="206.98" stroke="#66ad47" stroke-width="0.55" />
<line x1="98.98" y1="201.33" x2="100.78" y2="201.33" stroke="#66ad47" stroke-width="0.5" />
<line x1="98.98" y1="206.98" x2="100.78" y2="206.98" stroke="#66ad47" stroke-width="0.5" />
<line x1="102.70" y1="198.98" x2="102.70" y2="205.57" stroke="#66ad47" stroke-width="0.55" />
<line x1="101.80" y1="198.98" x2="103.60" y2="198.98" stroke="#66ad47" stroke-width="0.5" />
<line x1="101.80" y1="205.57" x2="103.60" y2="205.57" stroke="#66ad47" stroke-width="0.5" />
<line x1="105.52" y1="196.15" x2="105.52" y2="203.69" stroke="#66ad47" stroke-width="0.55" />
<line x1="104.62" y1="196.15" x2="106.42" y2="196.15" stroke="#66ad47" stroke-width="0.5" />
<line x1="104.62" y1="203.69" x2="106.42" y2="203.69" stroke="#66ad47" stroke-width="0.5" />
<line x1="108.34" y1="192.38" x2="108.34" y2="200.86" stroke="#66ad47" stroke-width="0.55" />
<line x1="107.44" y1="192.38" x2="109.24" y2="192.38" stroke="#66ad47" stroke-width="0.5" />
<line x1="107.44" y1="200.86" x2="109.24" y2="200.86" stroke="#66ad47" stroke-width="0.5" />
<line x1="111.16" y1="192.85" x2="111.16" y2="203.22" stroke="#66ad47" stroke-width="0.55" />
<line x1="110.26" y1="192.85" x2="112.06" y2="192.85" stroke="#66ad47" stroke-width="0.5" />
<line x1="110.26" y1="203.22" x2="112.06" y2="203.22" stroke="#66ad47" stroke-width="0.5" />
<path d="M60.4,228.2 L63.2,227.7 L66.0,227.2 L68.9,226.1 L71.7,224.6 L74.5,222.7 L77.3,220.6 L80.1,218.5 L83.0,216.2 L85.8,214.0 L88.6,211.9 L91.4,209.7 L94.2,207.6 L97.1,205.8 L99.9,204.2 L102.7,202.3 L105.5,199.9 L108.3,196.6 L111.2,198.0" fill="none" stroke="#66ad47" stroke-width="0.75" stroke-linejoin="round"/>
<circle cx="60.40" cy="228.18" r="1.1" fill="#66ad47"/>
<circle cx="63.22" cy="227.71" r="1.1" fill="#66ad47"/>
<circle cx="66.04" cy="227.24" r="1.1" fill="#66ad47"/>
<circle cx="68.86" cy="226.11" r="1.1" fill="#66ad47"/>
<circle cx="71.68" cy="224.60" r="1.1" fill="#66ad47"/>
<circle cx="74.50" cy="222.72" r="1.1" fill="#66ad47"/>
<circle cx="77.32" cy="220.64" r="1.1" fill="#66ad47"/>
<circle cx="80.14" cy="218.48" r="1.1" fill="#66ad47"/>
<circle cx="82.96" cy="216.22" r="1.1" fill="#66ad47"/>
<circle cx="85.78" cy="214.05" r="1.1" fill="#66ad47"/>
<circle cx="88.60" cy="211.88" r="1.1" fill="#66ad47"/>
<circle cx="91.42" cy="209.72" r="1.1" fill="#66ad47"/>
<circle cx="94.24" cy="207.64" r="1.1" fill="#66ad47"/>
<circle cx="97.06" cy="205.76" r="1.1" fill="#66ad47"/>
<circle cx="99.88" cy="204.16" r="1.1" fill="#66ad47"/>
<circle cx="102.70" cy="202.27" r="1.1" fill="#66ad47"/>
<circle cx="105.52" cy="199.92" r="1.1" fill="#66ad47"/>
<circle cx="108.34" cy="196.62" r="1.1" fill="#66ad47"/>
<circle cx="111.16" cy="198.04" r="1.1" fill="#66ad47"/>
<line x1="99.88" y1="206.04" x2="99.88" y2="208.87" stroke="#e8962f" stroke-width="0.55" />
<line x1="98.98" y1="206.04" x2="100.78" y2="206.04" stroke="#e8962f" stroke-width="0.5" />
<line x1="98.98" y1="208.87" x2="100.78" y2="208.87" stroke="#e8962f" stroke-width="0.5" />
<line x1="102.70" y1="205.57" x2="102.70" y2="207.46" stroke="#e8962f" stroke-width="0.55" />
<line x1="101.80" y1="205.57" x2="103.60" y2="205.57" stroke="#e8962f" stroke-width="0.5" />
<line x1="101.80" y1="207.46" x2="103.60" y2="207.46" stroke="#e8962f" stroke-width="0.5" />
<line x1="105.52" y1="205.10" x2="105.52" y2="206.99" stroke="#e8962f" stroke-width="0.55" />
<line x1="104.62" y1="205.10" x2="106.42" y2="205.10" stroke="#e8962f" stroke-width="0.5" />
<line x1="104.62" y1="206.99" x2="106.42" y2="206.99" stroke="#e8962f" stroke-width="0.5" />
<line x1="108.34" y1="204.63" x2="108.34" y2="206.51" stroke="#e8962f" stroke-width="0.55" />
<line x1="107.44" y1="204.63" x2="109.24" y2="204.63" stroke="#e8962f" stroke-width="0.5" />
<line x1="107.44" y1="206.51" x2="109.24" y2="206.51" stroke="#e8962f" stroke-width="0.5" />
<line x1="111.16" y1="204.44" x2="111.16" y2="206.33" stroke="#e8962f" stroke-width="0.55" />
<line x1="110.26" y1="204.44" x2="112.06" y2="204.44" stroke="#e8962f" stroke-width="0.5" />
<line x1="110.26" y1="206.33" x2="112.06" y2="206.33" stroke="#e8962f" stroke-width="0.5" />
<path d="M60.4,228.2 L63.2,227.8 L66.0,226.5 L68.9,225.1 L71.7,223.2 L74.5,220.8 L77.3,218.1 L80.1,215.5 L83.0,213.0 L85.8,210.7 L88.6,208.7 L91.4,206.5 L94.2,204.6 L97.1,203.5 L99.9,207.5 L102.7,206.5 L105.5,206.0 L108.3,205.6 L111.2,205.4" fill="none" stroke="#e8962f" stroke-width="0.75" stroke-linejoin="round"/>
<circle cx="60.40" cy="228.18" r="1.1" fill="#e8962f"/>
<circle cx="63.22" cy="227.80" r="1.1" fill="#e8962f"/>
<circle cx="66.04" cy="226.48" r="1.1" fill="#e8962f"/>
<circle cx="68.86" cy="225.07" r="1.1" fill="#e8962f"/>
<circle cx="71.68" cy="223.19" r="1.1" fill="#e8962f"/>
<circle cx="74.50" cy="220.83" r="1.1" fill="#e8962f"/>
<circle cx="77.32" cy="218.10" r="1.1" fill="#e8962f"/>
<circle cx="80.14" cy="215.46" r="1.1" fill="#e8962f"/>
<circle cx="82.96" cy="213.01" r="1.1" fill="#e8962f"/>
<circle cx="85.78" cy="210.66" r="1.1" fill="#e8962f"/>
<circle cx="88.60" cy="208.68" r="1.1" fill="#e8962f"/>
<circle cx="91.42" cy="206.51" r="1.1" fill="#e8962f"/>
<circle cx="94.24" cy="204.63" r="1.1" fill="#e8962f"/>
<circle cx="97.06" cy="203.50" r="1.1" fill="#e8962f"/>
<circle cx="99.88" cy="207.46" r="1.1" fill="#e8962f"/>
<circle cx="102.70" cy="206.51" r="1.1" fill="#e8962f"/>
<circle cx="105.52" cy="206.04" r="1.1" fill="#e8962f"/>
<circle cx="108.34" cy="205.57" r="1.1" fill="#e8962f"/>
<circle cx="111.16" cy="205.38" r="1.1" fill="#e8962f"/>
<text x="90.20" y="260.50" font-size="7.4" text-anchor="middle" fill="#231f20" stroke="#231f20" stroke-width="0.14" textLength="39" lengthAdjust="spacingAndGlyphs" >Time (hours)</text>
<text x="36.90" y="208.00" font-size="7.2" text-anchor="middle" fill="#231f20" stroke="#231f20" stroke-width="0.14" textLength="50.6" lengthAdjust="spacingAndGlyphs" transform="rotate(-90 36.90 208.00)" >Total tumor GFP</text>
<text x="45.30" y="208.00" font-size="7.2" text-anchor="middle" fill="#231f20" stroke="#231f20" stroke-width="0.14" textLength="80.5" lengthAdjust="spacingAndGlyphs" transform="rotate(-90 45.30 208.00)" >fluorescence (normalized)</text>
<line x1="179.70" y1="237.60" x2="239.70" y2="237.60" stroke="#111" stroke-width="0.9" />
<line x1="179.70" y1="238.05" x2="179.70" y2="178.58" stroke="#111" stroke-width="0.9" />
<line x1="176.70" y1="237.60" x2="179.70" y2="237.60" stroke="#111" stroke-width="0.7" />
<text x="173.70" y="239.94" font-size="6.5" text-anchor="end" fill="#231f20" stroke="#231f20" stroke-width="0.14" >0</text>
<line x1="176.70" y1="228.18" x2="179.70" y2="228.18" stroke="#111" stroke-width="0.7" />
<text x="173.70" y="230.52" font-size="6.5" text-anchor="end" fill="#231f20" stroke="#231f20" stroke-width="0.14" >1</text>
<line x1="176.70" y1="218.76" x2="179.70" y2="218.76" stroke="#111" stroke-width="0.7" />
<text x="173.70" y="221.10" font-size="6.5" text-anchor="end" fill="#231f20" stroke="#231f20" stroke-width="0.14" >2</text>
<line x1="176.70" y1="209.34" x2="179.70" y2="209.34" stroke="#111" stroke-width="0.7" />
<text x="173.70" y="211.68" font-size="6.5" text-anchor="end" fill="#231f20" stroke="#231f20" stroke-width="0.14" >3</text>
<line x1="176.70" y1="199.92" x2="179.70" y2="199.92" stroke="#111" stroke-width="0.7" />
<text x="173.70" y="202.26" font-size="6.5" text-anchor="end" fill="#231f20" stroke="#231f20" stroke-width="0.14" >4</text>
<line x1="176.70" y1="190.50" x2="179.70" y2="190.50" stroke="#111" stroke-width="0.7" />
<text x="173.70" y="192.84" font-size="6.5" text-anchor="end" fill="#231f20" stroke="#231f20" stroke-width="0.14" >5</text>
<line x1="176.70" y1="181.08" x2="179.70" y2="181.08" stroke="#111" stroke-width="0.7" />
<text x="173.70" y="183.42" font-size="6.5" text-anchor="end" fill="#231f20" stroke="#231f20" stroke-width="0.14" >6</text>
<line x1="179.70" y1="237.60" x2="179.70" y2="240.60" stroke="#111" stroke-width="0.7" />
<text x="179.70" y="249.80" font-size="6.5" text-anchor="middle" fill="#231f20" stroke="#231f20" stroke-width="0.14" >0</text>
<line x1="193.80" y1="237.60" x2="193.80" y2="240.60" stroke="#111" stroke-width="0.7" />
<text x="193.80" y="249.80" font-size="6.5" text-anchor="middle" fill="#231f20" stroke="#231f20" stroke-width="0.14" >20</text>
<line x1="207.90" y1="237.60" x2="207.90" y2="240.60" stroke="#111" stroke-width="0.7" />
<text x="207.90" y="249.80" font-size="6.5" text-anchor="middle" fill="#231f20" stroke="#231f20" stroke-width="0.14" >40</text>
<line x1="222.00" y1="237.60" x2="222.00" y2="240.60" stroke="#111" stroke-width="0.7" />
<text x="222.00" y="249.80" font-size="6.5" text-anchor="middle" fill="#231f20" stroke="#231f20" stroke-width="0.14" >60</text>
<line x1="236.10" y1="237.60" x2="236.10" y2="240.60" stroke="#111" stroke-width="0.7" />
<text x="236.10" y="249.80" font-size="6.5" text-anchor="middle" fill="#231f20" stroke="#231f20" stroke-width="0.14" >80</text>
<path d="M179.7,228.2 L182.5,230.1 L185.3,232.4 L188.2,234.5 L191.0,236.5 L193.8,237.3 L196.6,237.6 L199.4,237.6 L202.3,237.6 L205.1,237.6 L207.9,237.6 L210.7,237.6 L213.5,237.6 L216.4,237.6 L219.2,237.6 L222.0,237.6 L224.8,237.6 L227.6,237.6 L230.5,237.6" fill="none" stroke="#3d5a86" stroke-width="0.75" stroke-linejoin="round"/>
<circle cx="179.70" cy="228.18" r="1.1" fill="#3d5a86"/>
<circle cx="182.52" cy="230.06" r="1.1" fill="#3d5a86"/>
<circle cx="185.34" cy="232.42" r="1.1" fill="#3d5a86"/>
<circle cx="188.16" cy="234.49" r="1.1" fill="#3d5a86"/>
<circle cx="190.98" cy="236.47" r="1.1" fill="#3d5a86"/>
<circle cx="193.80" cy="237.32" r="1.1" fill="#3d5a86"/>
<circle cx="196.62" cy="237.60" r="1.1" fill="#3d5a86"/>
<circle cx="199.44" cy="237.60" r="1.1" fill="#3d5a86"/>
<circle cx="202.26" cy="237.60" r="1.1" fill="#3d5a86"/>
<circle cx="205.08" cy="237.60" r="1.1" fill="#3d5a86"/>
<circle cx="207.90" cy="237.60" r="1.1" fill="#3d5a86"/>
<circle cx="210.72" cy="237.60" r="1.1" fill="#3d5a86"/>
<circle cx="213.54" cy="237.60" r="1.1" fill="#3d5a86"/>
<circle cx="216.36" cy="237.60" r="1.1" fill="#3d5a86"/>
<circle cx="219.18" cy="237.60" r="1.1" fill="#3d5a86"/>
<circle cx="222.00" cy="237.60" r="1.1" fill="#3d5a86"/>
<circle cx="224.82" cy="237.60" r="1.1" fill="#3d5a86"/>
<circle cx="227.64" cy="237.60" r="1.1" fill="#3d5a86"/>
<circle cx="230.46" cy="237.60" r="1.1" fill="#3d5a86"/>
<path d="M179.7,228.2 L182.5,229.6 L185.3,231.9 L188.2,233.2 L191.0,234.5 L193.8,235.5 L196.6,236.2 L199.4,236.5 L202.3,236.5 L205.1,236.5 L207.9,236.5 L210.7,236.5 L213.5,236.6 L216.4,236.6 L219.2,236.6 L222.0,236.6 L224.8,236.6 L227.6,236.6 L230.5,236.7" fill="none" stroke="#ad2b37" stroke-width="0.75" stroke-linejoin="round"/>
<circle cx="179.70" cy="228.18" r="1.1" fill="#ad2b37"/>
<circle cx="182.52" cy="229.59" r="1.1" fill="#ad2b37"/>
<circle cx="185.34" cy="231.95" r="1.1" fill="#ad2b37"/>
<circle cx="188.16" cy="233.17" r="1.1" fill="#ad2b37"/>
<circle cx="190.98" cy="234.49" r="1.1" fill="#ad2b37"/>
<circle cx="193.80" cy="235.53" r="1.1" fill="#ad2b37"/>
<circle cx="196.62" cy="236.19" r="1.1" fill="#ad2b37"/>
<circle cx="199.44" cy="236.47" r="1.1" fill="#ad2b37"/>
<circle cx="202.26" cy="236.49" r="1.1" fill="#ad2b37"/>
<circle cx="205.08" cy="236.50" r="1.1" fill="#ad2b37"/>
<circle cx="207.90" cy="236.52" r="1.1" fill="#ad2b37"/>
<circle cx="210.72" cy="236.54" r="1.1" fill="#ad2b37"/>
<circle cx="213.54" cy="236.56" r="1.1" fill="#ad2b37"/>
<circle cx="216.36" cy="236.57" r="1.1" fill="#ad2b37"/>
<circle cx="219.18" cy="236.59" r="1.1" fill="#ad2b37"/>
<circle cx="222.00" cy="236.61" r="1.1" fill="#ad2b37"/>
<circle cx="224.82" cy="236.62" r="1.1" fill="#ad2b37"/>
<circle cx="227.64" cy="236.64" r="1.1" fill="#ad2b37"/>
<circle cx="230.46" cy="236.66" r="1.1" fill="#ad2b37"/>
<line x1="213.54" y1="211.22" x2="213.54" y2="214.99" stroke="#6fa9dc" stroke-width="0.55" />
<line x1="212.64" y1="211.22" x2="214.44" y2="211.22" stroke="#6fa9dc" stroke-width="0.5" />
<line x1="212.64" y1="214.99" x2="214.44" y2="214.99" stroke="#6fa9dc" stroke-width="0.5" />
<line x1="216.36" y1="209.10" x2="216.36" y2="213.81" stroke="#6fa9dc" stroke-width="0.55" />
<line x1="215.46" y1="209.10" x2="217.26" y2="209.10" stroke="#6fa9dc" stroke-width="0.5" />
<line x1="215.46" y1="213.81" x2="217.26" y2="213.81" stroke="#6fa9dc" stroke-width="0.5" />
<line x1="219.18" y1="206.98" x2="219.18" y2="212.64" stroke="#6fa9dc" stroke-width="0.55" />
<line x1="218.28" y1="206.98" x2="220.08" y2="206.98" stroke="#6fa9dc" stroke-width="0.5" />
<line x1="218.28" y1="212.64" x2="220.08" y2="212.64" stroke="#6fa9dc" stroke-width="0.5" />
<line x1="222.00" y1="205.71" x2="222.00" y2="211.84" stroke="#6fa9dc" stroke-width="0.55" />
<line x1="221.10" y1="205.71" x2="222.90" y2="205.71" stroke="#6fa9dc" stroke-width="0.5" />
<line x1="221.10" y1="211.84" x2="222.90" y2="211.84" stroke="#6fa9dc" stroke-width="0.5" />
<line x1="224.82" y1="204.16" x2="224.82" y2="210.75" stroke="#6fa9dc" stroke-width="0.55" />
<line x1="223.92" y1="204.16" x2="225.72" y2="204.16" stroke="#6fa9dc" stroke-width="0.5" />
<line x1="223.92" y1="210.75" x2="225.72" y2="210.75" stroke="#6fa9dc" stroke-width="0.5" />
<line x1="227.64" y1="203.22" x2="227.64" y2="209.81" stroke="#6fa9dc" stroke-width="0.55" />
<line x1="226.74" y1="203.22" x2="228.54" y2="203.22" stroke="#6fa9dc" stroke-width="0.5" />
<line x1="226.74" y1="209.81" x2="228.54" y2="209.81" stroke="#6fa9dc" stroke-width="0.5" />
<line x1="230.46" y1="202.75" x2="230.46" y2="209.34" stroke="#6fa9dc" stroke-width="0.55" />
<line x1="229.56" y1="202.75" x2="231.36" y2="202.75" stroke="#6fa9dc" stroke-width="0.5" />
<line x1="229.56" y1="209.34" x2="231.36" y2="209.34" stroke="#6fa9dc" stroke-width="0.5" />
<path d="M179.7,228.2 L182.5,227.8 L185.3,227.5 L188.2,227.1 L191.0,226.0 L193.8,224.9 L196.6,223.8 L199.4,222.2 L202.3,220.6 L205.1,219.0 L207.9,217.1 L210.7,215.1 L213.5,213.1 L216.4,211.5 L219.2,209.8 L222.0,208.8 L224.8,207.5 L227.6,206.5 L230.5,206.0" fill="none" stroke="#6fa9dc" stroke-width="0.75" stroke-linejoin="round"/>
<circle cx="179.70" cy="228.18" r="1.1" fill="#6fa9dc"/>
<circle cx="182.52" cy="227.83" r="1.1" fill="#6fa9dc"/>
<circle cx="185.34" cy="227.49" r="1.1" fill="#6fa9dc"/>
<circle cx="188.16" cy="227.14" r="1.1" fill="#6fa9dc"/>
<circle cx="190.98" cy="226.01" r="1.1" fill="#6fa9dc"/>
<circle cx="193.80" cy="224.88" r="1.1" fill="#6fa9dc"/>
<circle cx="196.62" cy="223.75" r="1.1" fill="#6fa9dc"/>
<circle cx="199.44" cy="222.18" r="1.1" fill="#6fa9dc"/>
<circle cx="202.26" cy="220.61" r="1.1" fill="#6fa9dc"/>
<circle cx="205.08" cy="219.04" r="1.1" fill="#6fa9dc"/>
<circle cx="207.90" cy="217.06" r="1.1" fill="#6fa9dc"/>
<circle cx="210.72" cy="215.09" r="1.1" fill="#6fa9dc"/>
<circle cx="213.54" cy="213.11" r="1.1" fill="#6fa9dc"/>
<circle cx="216.36" cy="211.46" r="1.1" fill="#6fa9dc"/>
<circle cx="219.18" cy="209.81" r="1.1" fill="#6fa9dc"/>
<circle cx="222.00" cy="208.77" r="1.1" fill="#6fa9dc"/>
<circle cx="224.82" cy="207.46" r="1.1" fill="#6fa9dc"/>
<circle cx="227.64" cy="206.51" r="1.1" fill="#6fa9dc"/>
<circle cx="230.46" cy="206.04" r="1.1" fill="#6fa9dc"/>
<line x1="213.54" y1="212.54" x2="213.54" y2="216.31" stroke="#66ad47" stroke-width="0.55" />
<line x1="212.64" y1="212.54" x2="214.44" y2="212.54" stroke="#66ad47" stroke-width="0.5" />
<line x1="212.64" y1="216.31" x2="214.44" y2="216.31" stroke="#66ad47" stroke-width="0.5" />
<line x1="216.36" y1="210.00" x2="216.36" y2="214.71" stroke="#66ad47" stroke-width="0.55" />
<line x1="215.46" y1="210.00" x2="217.26" y2="210.00" stroke="#66ad47" stroke-width="0.5" />
<line x1="215.46" y1="214.71" x2="217.26" y2="214.71" stroke="#66ad47" stroke-width="0.5" />
<line x1="219.18" y1="207.46" x2="219.18" y2="213.11" stroke="#66ad47" stroke-width="0.55" />
<line x1="218.28" y1="207.46" x2="220.08" y2="207.46" stroke="#66ad47" stroke-width="0.5" />
<line x1="218.28" y1="213.11" x2="220.08" y2="213.11" stroke="#66ad47" stroke-width="0.5" />
<line x1="222.00" y1="205.10" x2="222.00" y2="211.69" stroke="#66ad47" stroke-width="0.55" />
<line x1="221.10" y1="205.10" x2="222.90" y2="205.10" stroke="#66ad47" stroke-width="0.5" />
<line x1="221.10" y1="211.69" x2="222.90" y2="211.69" stroke="#66ad47" stroke-width="0.5" />
<line x1="224.82" y1="200.86" x2="224.82" y2="208.40" stroke="#66ad47" stroke-width="0.55" />
<line x1="223.92" y1="200.86" x2="225.72" y2="200.86" stroke="#66ad47" stroke-width="0.5" />
<line x1="223.92" y1="208.40" x2="225.72" y2="208.40" stroke="#66ad47" stroke-width="0.5" />
<line x1="227.64" y1="198.51" x2="227.64" y2="206.04" stroke="#66ad47" stroke-width="0.55" />
<line x1="226.74" y1="198.51" x2="228.54" y2="198.51" stroke="#66ad47" stroke-width="0.5" />
<line x1="226.74" y1="206.04" x2="228.54" y2="206.04" stroke="#66ad47" stroke-width="0.5" />
<line x1="230.46" y1="200.86" x2="230.46" y2="214.05" stroke="#66ad47" stroke-width="0.55" />
<line x1="229.56" y1="200.86" x2="231.36" y2="200.86" stroke="#66ad47" stroke-width="0.5" />
<line x1="229.56" y1="214.05" x2="231.36" y2="214.05" stroke="#66ad47" stroke-width="0.5" />
<path d="M179.7,228.2 L182.5,228.1 L185.3,227.9 L188.2,227.8 L191.0,226.8 L193.8,225.9 L196.6,224.9 L199.4,223.3 L202.3,221.6 L205.1,220.0 L207.9,218.1 L210.7,216.3 L213.5,214.4 L216.4,212.4 L219.2,210.3 L222.0,208.4 L224.8,204.6 L227.6,202.3 L230.5,207.5" fill="none" stroke="#66ad47" stroke-width="0.75" stroke-linejoin="round"/>
<circle cx="179.70" cy="228.18" r="1.1" fill="#66ad47"/>
<circle cx="182.52" cy="228.05" r="1.1" fill="#66ad47"/>
<circle cx="185.34" cy="227.93" r="1.1" fill="#66ad47"/>
<circle cx="188.16" cy="227.80" r="1.1" fill="#66ad47"/>
<circle cx="190.98" cy="226.83" r="1.1" fill="#66ad47"/>
<circle cx="193.80" cy="225.86" r="1.1" fill="#66ad47"/>
<circle cx="196.62" cy="224.88" r="1.1" fill="#66ad47"/>
<circle cx="199.44" cy="223.25" r="1.1" fill="#66ad47"/>
<circle cx="202.26" cy="221.62" r="1.1" fill="#66ad47"/>
<circle cx="205.08" cy="219.98" r="1.1" fill="#66ad47"/>
<circle cx="207.90" cy="218.13" r="1.1" fill="#66ad47"/>
<circle cx="210.72" cy="216.28" r="1.1" fill="#66ad47"/>
<circle cx="213.54" cy="214.43" r="1.1" fill="#66ad47"/>
<circle cx="216.36" cy="212.35" r="1.1" fill="#66ad47"/>
<circle cx="219.18" cy="210.28" r="1.1" fill="#66ad47"/>
<circle cx="222.00" cy="208.40" r="1.1" fill="#66ad47"/>
<circle cx="224.82" cy="204.63" r="1.1" fill="#66ad47"/>
<circle cx="227.64" cy="202.27" r="1.1" fill="#66ad47"/>
<circle cx="230.46" cy="207.46" r="1.1" fill="#66ad47"/>
<path d="M179.7,228.2 L182.5,227.2 L185.3,226.2 L188.2,225.2 L191.0,223.6 L193.8,222.0 L196.6,220.5 L199.4,218.2 L202.3,215.9 L205.1,213.7 L207.9,211.3 L210.7,209.0 L213.5,206.6 L216.4,203.9 L219.2,201.2 L222.0,198.5 L224.8,196.0 L227.6,193.4 L230.5,190.9" fill="none" stroke="#e8962f" stroke-width="0.75" stroke-linejoin="round"/>
<circle cx="179.70" cy="228.18" r="1.1" fill="#e8962f"/>
<circle cx="182.52" cy="227.18" r="1.1" fill="#e8962f"/>
<circle cx="185.34" cy="226.17" r="1.1" fill="#e8962f"/>
<circle cx="188.16" cy="225.17" r="1.1" fill="#e8962f"/>
<circle cx="190.98" cy="223.60" r="1.1" fill="#e8962f"/>
<circle cx="193.80" cy="222.03" r="1.1" fill="#e8962f"/>
<circle cx="196.62" cy="220.46" r="1.1" fill="#e8962f"/>
<circle cx="199.44" cy="218.19" r="1.1" fill="#e8962f"/>
<circle cx="202.26" cy="215.93" r="1.1" fill="#e8962f"/>
<circle cx="205.08" cy="213.67" r="1.1" fill="#e8962f"/>
<circle cx="207.90" cy="211.32" r="1.1" fill="#e8962f"/>
<circle cx="210.72" cy="208.96" r="1.1" fill="#e8962f"/>
<circle cx="213.54" cy="206.61" r="1.1" fill="#e8962f"/>
<circle cx="216.36" cy="203.91" r="1.1" fill="#e8962f"/>
<circle cx="219.18" cy="201.21" r="1.1" fill="#e8962f"/>
<circle cx="222.00" cy="198.51" r="1.1" fill="#e8962f"/>
<circle cx="224.82" cy="195.96" r="1.1" fill="#e8962f"/>
<circle cx="227.64" cy="193.42" r="1.1" fill="#e8962f"/>
<circle cx="230.46" cy="190.88" r="1.1" fill="#e8962f"/>
<text x="209.50" y="260.50" font-size="7.4" text-anchor="middle" fill="#231f20" stroke="#231f20" stroke-width="0.14" textLength="39" lengthAdjust="spacingAndGlyphs" >Time (hours)</text>
<text x="156.20" y="208.00" font-size="7.2" text-anchor="middle" fill="#231f20" stroke="#231f20" stroke-width="0.14" textLength="50.6" lengthAdjust="spacingAndGlyphs" transform="rotate(-90 156.20 208.00)" >Total tumor GFP</text>
<text x="164.60" y="208.00" font-size="7.2" text-anchor="middle" fill="#231f20" stroke="#231f20" stroke-width="0.14" textLength="80.5" lengthAdjust="spacingAndGlyphs" transform="rotate(-90 164.60 208.00)" >fluorescence (normalized)</text>
<line x1="60.40" y1="328.00" x2="120.40" y2="328.00" stroke="#111" stroke-width="0.9" />
<line x1="60.40" y1="328.45" x2="60.40" y2="269.52" stroke="#111" stroke-width="0.9" />
<line x1="57.40" y1="328.00" x2="60.40" y2="328.00" stroke="#111" stroke-width="0.7" />
<text x="54.40" y="330.34" font-size="6.5" text-anchor="end" fill="#231f20" stroke="#231f20" stroke-width="0.14" >0</text>
<line x1="57.40" y1="318.67" x2="60.40" y2="318.67" stroke="#111" stroke-width="0.7" />
<text x="54.40" y="321.01" font-size="6.5" text-anchor="end" fill="#231f20" stroke="#231f20" stroke-width="0.14" >1</text>
<line x1="57.40" y1="309.34" x2="60.40" y2="309.34" stroke="#111" stroke-width="0.7" />
<text x="54.40" y="311.68" font-size="6.5" text-anchor="end" fill="#231f20" stroke="#231f20" stroke-width="0.14" >2</text>
<line x1="57.40" y1="300.01" x2="60.40" y2="300.01" stroke="#111" stroke-width="0.7" />
<text x="54.40" y="302.35" font-size="6.5" text-anchor="end" fill="#231f20" stroke="#231f20" stroke-width="0.14" >3</text>
<line x1="57.40" y1="290.68" x2="60.40" y2="290.68" stroke="#111" stroke-width="0.7" />
<text x="54.40" y="293.02" font-size="6.5" text-anchor="end" fill="#231f20" stroke="#231f20" stroke-width="0.14" >4</text>
<line x1="57.40" y1="281.35" x2="60.40" y2="281.35" stroke="#111" stroke-width="0.7" />
<text x="54.40" y="283.69" font-size="6.5" text-anchor="end" fill="#231f20" stroke="#231f20" stroke-width="0.14" >5</text>
<line x1="57.40" y1="272.02" x2="60.40" y2="272.02" stroke="#111" stroke-width="0.7" />
<text x="54.40" y="274.36" font-size="6.5" text-anchor="end" fill="#231f20" stroke="#231f20" stroke-width="0.14" >6</text>
<line x1="60.40" y1="328.00" x2="60.40" y2="331.00" stroke="#111" stroke-width="0.7" />
<text x="60.40" y="340.20" font-size="6.5" text-anchor="middle" fill="#231f20" stroke="#231f20" stroke-width="0.14" >0</text>
<line x1="74.50" y1="328.00" x2="74.50" y2="331.00" stroke="#111" stroke-width="0.7" />
<text x="74.50" y="340.20" font-size="6.5" text-anchor="middle" fill="#231f20" stroke="#231f20" stroke-width="0.14" >20</text>
<line x1="88.60" y1="328.00" x2="88.60" y2="331.00" stroke="#111" stroke-width="0.7" />
<text x="88.60" y="340.20" font-size="6.5" text-anchor="middle" fill="#231f20" stroke="#231f20" stroke-width="0.14" >40</text>
<line x1="102.70" y1="328.00" x2="102.70" y2="331.00" stroke="#111" stroke-width="0.7" />
<text x="102.70" y="340.20" font-size="6.5" text-anchor="middle" fill="#231f20" stroke="#231f20" stroke-width="0.14" >60</text>
<line x1="116.80" y1="328.00" x2="116.80" y2="331.00" stroke="#111" stroke-width="0.7" />
<text x="116.80" y="340.20" font-size="6.5" text-anchor="middle" fill="#231f20" stroke="#231f20" stroke-width="0.14" >80</text>
<line x1="94.24" y1="315.12" x2="94.24" y2="317.36" stroke="#3d5a86" stroke-width="0.55" />
<line x1="93.34" y1="315.12" x2="95.14" y2="315.12" stroke="#3d5a86" stroke-width="0.5" />
<line x1="93.34" y1="317.36" x2="95.14" y2="317.36" stroke="#3d5a86" stroke-width="0.5" />
<line x1="97.06" y1="315.08" x2="97.06" y2="317.60" stroke="#3d5a86" stroke-width="0.55" />
<line x1="96.16" y1="315.08" x2="97.96" y2="315.08" stroke="#3d5a86" stroke-width="0.5" />
<line x1="96.16" y1="317.60" x2="97.96" y2="317.60" stroke="#3d5a86" stroke-width="0.5" />
<line x1="99.88" y1="315.03" x2="99.88" y2="317.83" stroke="#3d5a86" stroke-width="0.55" />
<line x1="98.98" y1="315.03" x2="100.78" y2="315.03" stroke="#3d5a86" stroke-width="0.5" />
<line x1="98.98" y1="317.83" x2="100.78" y2="317.83" stroke="#3d5a86" stroke-width="0.5" />
<line x1="102.70" y1="314.94" x2="102.70" y2="318.11" stroke="#3d5a86" stroke-width="0.55" />
<line x1="101.80" y1="314.94" x2="103.60" y2="314.94" stroke="#3d5a86" stroke-width="0.5" />
<line x1="101.80" y1="318.11" x2="103.60" y2="318.11" stroke="#3d5a86" stroke-width="0.5" />
<line x1="105.52" y1="315.47" x2="105.52" y2="319.20" stroke="#3d5a86" stroke-width="0.55" />
<line x1="104.62" y1="315.47" x2="106.42" y2="315.47" stroke="#3d5a86" stroke-width="0.5" />
<line x1="104.62" y1="319.20" x2="106.42" y2="319.20" stroke="#3d5a86" stroke-width="0.5" />
<line x1="108.34" y1="316.28" x2="108.34" y2="320.01" stroke="#3d5a86" stroke-width="0.55" />
<line x1="107.44" y1="316.28" x2="109.24" y2="316.28" stroke="#3d5a86" stroke-width="0.5" />
<line x1="107.44" y1="320.01" x2="109.24" y2="320.01" stroke="#3d5a86" stroke-width="0.5" />
<line x1="111.16" y1="316.90" x2="111.16" y2="321.00" stroke="#3d5a86" stroke-width="0.55" />
<line x1="110.26" y1="316.90" x2="112.06" y2="316.90" stroke="#3d5a86" stroke-width="0.5" />
<line x1="110.26" y1="321.00" x2="112.06" y2="321.00" stroke="#3d5a86" stroke-width="0.5" />
<path d="M60.4,318.7 L63.2,319.0 L66.0,319.3 L68.9,319.6 L71.7,319.2 L74.5,318.7 L77.3,318.3 L80.1,317.9 L83.0,317.4 L85.8,317.0 L88.6,316.7 L91.4,316.5 L94.2,316.2 L97.1,316.3 L99.9,316.4 L102.7,316.5 L105.5,317.3 L108.3,318.1 L111.2,318.9" fill="none" stroke="#3d5a86" stroke-width="0.75" stroke-linejoin="round"/>
<circle cx="60.40" cy="318.67" r="1.1" fill="#3d5a86"/>
<circle cx="63.22" cy="318.98" r="1.1" fill="#3d5a86"/>
<circle cx="66.04" cy="319.29" r="1.1" fill="#3d5a86"/>
<circle cx="68.86" cy="319.60" r="1.1" fill="#3d5a86"/>
<circle cx="71.68" cy="319.17" r="1.1" fill="#3d5a86"/>
<circle cx="74.50" cy="318.73" r="1.1" fill="#3d5a86"/>
<circle cx="77.32" cy="318.30" r="1.1" fill="#3d5a86"/>
<circle cx="80.14" cy="317.86" r="1.1" fill="#3d5a86"/>
<circle cx="82.96" cy="317.43" r="1.1" fill="#3d5a86"/>
<circle cx="85.78" cy="316.99" r="1.1" fill="#3d5a86"/>
<circle cx="88.60" cy="316.74" r="1.1" fill="#3d5a86"/>
<circle cx="91.42" cy="316.49" r="1.1" fill="#3d5a86"/>
<circle cx="94.24" cy="316.24" r="1.1" fill="#3d5a86"/>
<circle cx="97.06" cy="316.34" r="1.1" fill="#3d5a86"/>
<circle cx="99.88" cy="316.43" r="1.1" fill="#3d5a86"/>
<circle cx="102.70" cy="316.52" r="1.1" fill="#3d5a86"/>
<circle cx="105.52" cy="317.33" r="1.1" fill="#3d5a86"/>
<circle cx="108.34" cy="318.14" r="1.1" fill="#3d5a86"/>
<circle cx="111.16" cy="318.95" r="1.1" fill="#3d5a86"/>
<line x1="94.24" y1="307.47" x2="94.24" y2="310.27" stroke="#ad2b37" stroke-width="0.55" />
<line x1="93.34" y1="307.47" x2="95.14" y2="307.47" stroke="#ad2b37" stroke-width="0.5" />
<line x1="93.34" y1="310.27" x2="95.14" y2="310.27" stroke="#ad2b37" stroke-width="0.5" />
<line x1="97.06" y1="307.10" x2="97.06" y2="310.21" stroke="#ad2b37" stroke-width="0.55" />
<line x1="96.16" y1="307.10" x2="97.96" y2="307.10" stroke="#ad2b37" stroke-width="0.5" />
<line x1="96.16" y1="310.21" x2="97.96" y2="310.21" stroke="#ad2b37" stroke-width="0.5" />
<line x1="99.88" y1="306.73" x2="99.88" y2="310.15" stroke="#ad2b37" stroke-width="0.55" />
<line x1="98.98" y1="306.73" x2="100.78" y2="306.73" stroke="#ad2b37" stroke-width="0.5" />
<line x1="98.98" y1="310.15" x2="100.78" y2="310.15" stroke="#ad2b37" stroke-width="0.5" />
<line x1="102.70" y1="306.35" x2="102.70" y2="310.09" stroke="#ad2b37" stroke-width="0.55" />
<line x1="101.80" y1="306.35" x2="103.60" y2="306.35" stroke="#ad2b37" stroke-width="0.5" />
<line x1="101.80" y1="310.09" x2="103.60" y2="310.09" stroke="#ad2b37" stroke-width="0.5" />
<line x1="105.52" y1="307.04" x2="105.52" y2="310.77" stroke="#ad2b37" stroke-width="0.55" />
<line x1="104.62" y1="307.04" x2="106.42" y2="307.04" stroke="#ad2b37" stroke-width="0.5" />
<line x1="104.62" y1="310.77" x2="106.42" y2="310.77" stroke="#ad2b37" stroke-width="0.5" />
<line x1="108.34" y1="307.72" x2="108.34" y2="311.45" stroke="#ad2b37" stroke-width="0.55" />
<line x1="107.44" y1="307.72" x2="109.24" y2="307.72" stroke="#ad2b37" stroke-width="0.5" />
<line x1="107.44" y1="311.45" x2="109.24" y2="311.45" stroke="#ad2b37" stroke-width="0.5" />
<line x1="111.16" y1="307.94" x2="111.16" y2="312.61" stroke="#ad2b37" stroke-width="0.55" />
<line x1="110.26" y1="307.94" x2="112.06" y2="307.94" stroke="#ad2b37" stroke-width="0.5" />
<line x1="110.26" y1="312.61" x2="112.06" y2="312.61" stroke="#ad2b37" stroke-width="0.5" />
<path d="M60.4,318.7 L63.2,318.1 L66.0,317.6 L68.9,317.0 L71.7,315.8 L74.5,314.7 L77.3,313.5 L80.1,312.6 L83.0,311.7 L85.8,310.8 L88.6,310.2 L91.4,309.5 L94.2,308.9 L97.1,308.7 L99.9,308.4 L102.7,308.2 L105.5,308.9 L108.3,309.6 L111.2,310.3" fill="none" stroke="#ad2b37" stroke-width="0.75" stroke-linejoin="round"/>
<circle cx="60.40" cy="318.67" r="1.1" fill="#ad2b37"/>
<circle cx="63.22" cy="318.11" r="1.1" fill="#ad2b37"/>
<circle cx="66.04" cy="317.55" r="1.1" fill="#ad2b37"/>
<circle cx="68.86" cy="316.99" r="1.1" fill="#ad2b37"/>
<circle cx="71.68" cy="315.84" r="1.1" fill="#ad2b37"/>
<circle cx="74.50" cy="314.69" r="1.1" fill="#ad2b37"/>
<circle cx="77.32" cy="313.54" r="1.1" fill="#ad2b37"/>
<circle cx="80.14" cy="312.64" r="1.1" fill="#ad2b37"/>
<circle cx="82.96" cy="311.73" r="1.1" fill="#ad2b37"/>
<circle cx="85.78" cy="310.83" r="1.1" fill="#ad2b37"/>
<circle cx="88.60" cy="310.18" r="1.1" fill="#ad2b37"/>
<circle cx="91.42" cy="309.53" r="1.1" fill="#ad2b37"/>
<circle cx="94.24" cy="308.87" r="1.1" fill="#ad2b37"/>
<circle cx="97.06" cy="308.66" r="1.1" fill="#ad2b37"/>
<circle cx="99.88" cy="308.44" r="1.1" fill="#ad2b37"/>
<circle cx="102.70" cy="308.22" r="1.1" fill="#ad2b37"/>
<circle cx="105.52" cy="308.90" r="1.1" fill="#ad2b37"/>
<circle cx="108.34" cy="309.59" r="1.1" fill="#ad2b37"/>
<circle cx="111.16" cy="310.27" r="1.1" fill="#ad2b37"/>
<line x1="102.70" y1="288.16" x2="102.70" y2="291.89" stroke="#6fa9dc" stroke-width="0.55" />
<line x1="101.80" y1="288.16" x2="103.60" y2="288.16" stroke="#6fa9dc" stroke-width="0.5" />
<line x1="101.80" y1="291.89" x2="103.60" y2="291.89" stroke="#6fa9dc" stroke-width="0.5" />
<line x1="105.52" y1="291.05" x2="105.52" y2="295.72" stroke="#6fa9dc" stroke-width="0.55" />
<line x1="104.62" y1="291.05" x2="106.42" y2="291.05" stroke="#6fa9dc" stroke-width="0.5" />
<line x1="104.62" y1="295.72" x2="106.42" y2="295.72" stroke="#6fa9dc" stroke-width="0.5" />
<line x1="108.34" y1="292.17" x2="108.34" y2="295.90" stroke="#6fa9dc" stroke-width="0.55" />
<line x1="107.44" y1="292.17" x2="109.24" y2="292.17" stroke="#6fa9dc" stroke-width="0.5" />
<line x1="107.44" y1="295.90" x2="109.24" y2="295.90" stroke="#6fa9dc" stroke-width="0.5" />
<line x1="111.16" y1="292.83" x2="111.16" y2="296.56" stroke="#6fa9dc" stroke-width="0.55" />
<line x1="110.26" y1="292.83" x2="112.06" y2="292.83" stroke="#6fa9dc" stroke-width="0.5" />
<line x1="110.26" y1="296.56" x2="112.06" y2="296.56" stroke="#6fa9dc" stroke-width="0.5" />
<path d="M60.4,318.7 L63.2,317.9 L66.0,317.1 L68.9,316.3 L71.7,314.3 L74.5,312.3 L77.3,310.3 L80.1,307.3 L83.0,304.4 L85.8,301.4 L88.6,298.8 L91.4,296.2 L94.2,293.7 L97.1,292.5 L99.9,291.3 L102.7,290.0 L105.5,293.4 L108.3,294.0 L111.2,294.7" fill="none" stroke="#6fa9dc" stroke-width="0.75" stroke-linejoin="round"/>
<circle cx="60.40" cy="318.67" r="1.1" fill="#6fa9dc"/>
<circle cx="63.22" cy="317.89" r="1.1" fill="#6fa9dc"/>
<circle cx="66.04" cy="317.12" r="1.1" fill="#6fa9dc"/>
<circle cx="68.86" cy="316.34" r="1.1" fill="#6fa9dc"/>
<circle cx="71.68" cy="314.32" r="1.1" fill="#6fa9dc"/>
<circle cx="74.50" cy="312.29" r="1.1" fill="#6fa9dc"/>
<circle cx="77.32" cy="310.27" r="1.1" fill="#6fa9dc"/>
<circle cx="80.14" cy="307.32" r="1.1" fill="#6fa9dc"/>
<circle cx="82.96" cy="304.36" r="1.1" fill="#6fa9dc"/>
<circle cx="85.78" cy="301.41" r="1.1" fill="#6fa9dc"/>
<circle cx="88.60" cy="298.83" r="1.1" fill="#6fa9dc"/>
<circle cx="91.42" cy="296.25" r="1.1" fill="#6fa9dc"/>
<circle cx="94.24" cy="293.67" r="1.1" fill="#6fa9dc"/>
<circle cx="97.06" cy="292.50" r="1.1" fill="#6fa9dc"/>
<circle cx="99.88" cy="291.33" r="1.1" fill="#6fa9dc"/>
<circle cx="102.70" cy="290.03" r="1.1" fill="#6fa9dc"/>
<circle cx="105.52" cy="293.39" r="1.1" fill="#6fa9dc"/>
<circle cx="108.34" cy="294.04" r="1.1" fill="#6fa9dc"/>
<circle cx="111.16" cy="294.69" r="1.1" fill="#6fa9dc"/>
<path d="M60.4,318.7 L63.2,318.2 L66.0,317.7 L68.9,317.3 L71.7,315.5 L74.5,313.7 L77.3,312.0 L80.1,309.8 L83.0,307.7 L85.8,305.5 L88.6,303.0 L91.4,300.5 L94.2,298.1 L97.1,295.6 L99.9,293.1 L102.7,290.7 L105.5,289.6 L108.3,288.4 L111.2,287.3" fill="none" stroke="#66ad47" stroke-width="0.75" stroke-linejoin="round"/>
<circle cx="60.40" cy="318.67" r="1.1" fill="#66ad47"/>
<circle cx="63.22" cy="318.20" r="1.1" fill="#66ad47"/>
<circle cx="66.04" cy="317.74" r="1.1" fill="#66ad47"/>
<circle cx="68.86" cy="317.27" r="1.1" fill="#66ad47"/>
<circle cx="71.68" cy="315.50" r="1.1" fill="#66ad47"/>
<circle cx="74.50" cy="313.73" r="1.1" fill="#66ad47"/>
<circle cx="77.32" cy="311.95" r="1.1" fill="#66ad47"/>
<circle cx="80.14" cy="309.81" r="1.1" fill="#66ad47"/>
<circle cx="82.96" cy="307.66" r="1.1" fill="#66ad47"/>
<circle cx="85.78" cy="305.51" r="1.1" fill="#66ad47"/>
<circle cx="88.60" cy="303.03" r="1.1" fill="#66ad47"/>
<circle cx="91.42" cy="300.54" r="1.1" fill="#66ad47"/>
<circle cx="94.24" cy="298.05" r="1.1" fill="#66ad47"/>
<circle cx="97.06" cy="295.59" r="1.1" fill="#66ad47"/>
<circle cx="99.88" cy="293.14" r="1.1" fill="#66ad47"/>
<circle cx="102.70" cy="290.68" r="1.1" fill="#66ad47"/>
<circle cx="105.52" cy="289.56" r="1.1" fill="#66ad47"/>
<circle cx="108.34" cy="288.44" r="1.1" fill="#66ad47"/>
<circle cx="111.16" cy="287.32" r="1.1" fill="#66ad47"/>
<line x1="102.70" y1="296.00" x2="102.70" y2="298.80" stroke="#e8962f" stroke-width="0.55" />
<line x1="101.80" y1="296.00" x2="103.60" y2="296.00" stroke="#e8962f" stroke-width="0.5" />
<line x1="101.80" y1="298.80" x2="103.60" y2="298.80" stroke="#e8962f" stroke-width="0.5" />
<line x1="105.52" y1="295.35" x2="105.52" y2="298.14" stroke="#e8962f" stroke-width="0.55" />
<line x1="104.62" y1="295.35" x2="106.42" y2="295.35" stroke="#e8962f" stroke-width="0.5" />
<line x1="104.62" y1="298.14" x2="106.42" y2="298.14" stroke="#e8962f" stroke-width="0.5" />
<line x1="108.34" y1="295.21" x2="108.34" y2="298.00" stroke="#e8962f" stroke-width="0.55" />
<line x1="107.44" y1="295.21" x2="109.24" y2="295.21" stroke="#e8962f" stroke-width="0.5" />
<line x1="107.44" y1="298.00" x2="109.24" y2="298.00" stroke="#e8962f" stroke-width="0.5" />
<line x1="111.16" y1="295.07" x2="111.16" y2="297.86" stroke="#e8962f" stroke-width="0.55" />
<line x1="110.26" y1="295.07" x2="112.06" y2="295.07" stroke="#e8962f" stroke-width="0.5" />
<line x1="110.26" y1="297.86" x2="112.06" y2="297.86" stroke="#e8962f" stroke-width="0.5" />
<path d="M60.4,318.7 L63.2,318.0 L66.0,317.2 L68.9,316.5 L71.7,314.6 L74.5,312.7 L77.3,310.8 L80.1,308.4 L83.0,305.9 L85.8,303.5 L88.6,301.2 L91.4,299.0 L94.2,296.7 L97.1,295.3 L99.9,293.8 L102.7,297.4 L105.5,296.7 L108.3,296.6 L111.2,296.5" fill="none" stroke="#e8962f" stroke-width="0.75" stroke-linejoin="round"/>
<circle cx="60.40" cy="318.67" r="1.1" fill="#e8962f"/>
<circle cx="63.22" cy="317.95" r="1.1" fill="#e8962f"/>
<circle cx="66.04" cy="317.24" r="1.1" fill="#e8962f"/>
<circle cx="68.86" cy="316.52" r="1.1" fill="#e8962f"/>
<circle cx="71.68" cy="314.63" r="1.1" fill="#e8962f"/>
<circle cx="74.50" cy="312.73" r="1.1" fill="#e8962f"/>
<circle cx="77.32" cy="310.83" r="1.1" fill="#e8962f"/>
<circle cx="80.14" cy="308.38" r="1.1" fill="#e8962f"/>
<circle cx="82.96" cy="305.92" r="1.1" fill="#e8962f"/>
<circle cx="85.78" cy="303.46" r="1.1" fill="#e8962f"/>
<circle cx="88.60" cy="301.22" r="1.1" fill="#e8962f"/>
<circle cx="91.42" cy="298.98" r="1.1" fill="#e8962f"/>
<circle cx="94.24" cy="296.74" r="1.1" fill="#e8962f"/>
<circle cx="97.06" cy="295.35" r="1.1" fill="#e8962f"/>
<circle cx="99.88" cy="293.76" r="1.1" fill="#e8962f"/>
<circle cx="102.70" cy="297.40" r="1.1" fill="#e8962f"/>
<circle cx="105.52" cy="296.74" r="1.1" fill="#e8962f"/>
<circle cx="108.34" cy="296.60" r="1.1" fill="#e8962f"/>
<circle cx="111.16" cy="296.46" r="1.1" fill="#e8962f"/>
<text x="90.20" y="350.90" font-size="7.4" text-anchor="middle" fill="#231f20" stroke="#231f20" stroke-width="0.14" textLength="39" lengthAdjust="spacingAndGlyphs" >Time (hours)</text>
<text x="36.90" y="298.40" font-size="7.2" text-anchor="middle" fill="#231f20" stroke="#231f20" stroke-width="0.14" textLength="50.6" lengthAdjust="spacingAndGlyphs" transform="rotate(-90 36.90 298.40)" >Total tumor GFP</text>
<text x="45.30" y="298.40" font-size="7.2" text-anchor="middle" fill="#231f20" stroke="#231f20" stroke-width="0.14" textLength="80.5" lengthAdjust="spacingAndGlyphs" transform="rotate(-90 45.30 298.40)" >fluorescence (normalized)</text>
<line x1="179.70" y1="328.00" x2="239.70" y2="328.00" stroke="#111" stroke-width="0.9" />
<line x1="179.70" y1="328.45" x2="179.70" y2="269.52" stroke="#111" stroke-width="0.9" />
<line x1="176.70" y1="328.00" x2="179.70" y2="328.00" stroke="#111" stroke-width="0.7" />
<text x="173.70" y="330.34" font-size="6.5" text-anchor="end" fill="#231f20" stroke="#231f20" stroke-width="0.14" >0</text>
<line x1="176.70" y1="318.67" x2="179.70" y2="318.67" stroke="#111" stroke-width="0.7" />
<text x="173.70" y="321.01" font-size="6.5" text-anchor="end" fill="#231f20" stroke="#231f20" stroke-width="0.14" >1</text>
<line x1="176.70" y1="309.34" x2="179.70" y2="309.34" stroke="#111" stroke-width="0.7" />
<text x="173.70" y="311.68" font-size="6.5" text-anchor="end" fill="#231f20" stroke="#231f20" stroke-width="0.14" >2</text>
<line x1="176.70" y1="300.01" x2="179.70" y2="300.01" stroke="#111" stroke-width="0.7" />
<text x="173.70" y="302.35" font-size="6.5" text-anchor="end" fill="#231f20" stroke="#231f20" stroke-width="0.14" >3</text>
<line x1="176.70" y1="290.68" x2="179.70" y2="290.68" stroke="#111" stroke-width="0.7" />
<text x="173.70" y="293.02" font-size="6.5" text-anchor="end" fill="#231f20" stroke="#231f20" stroke-width="0.14" >4</text>
<line x1="176.70" y1="281.35" x2="179.70" y2="281.35" stroke="#111" stroke-width="0.7" />
<text x="173.70" y="283.69" font-size="6.5" text-anchor="end" fill="#231f20" stroke="#231f20" stroke-width="0.14" >5</text>
<line x1="176.70" y1="272.02" x2="179.70" y2="272.02" stroke="#111" stroke-width="0.7" />
<text x="173.70" y="274.36" font-size="6.5" text-anchor="end" fill="#231f20" stroke="#231f20" stroke-width="0.14" >6</text>
<line x1="179.70" y1="328.00" x2="179.70" y2="331.00" stroke="#111" stroke-width="0.7" />
<text x="179.70" y="340.20" font-size="6.5" text-anchor="middle" fill="#231f20" stroke="#231f20" stroke-width="0.14" >0</text>
<line x1="193.80" y1="328.00" x2="193.80" y2="331.00" stroke="#111" stroke-width="0.7" />
<text x="193.80" y="340.20" font-size="6.5" text-anchor="middle" fill="#231f20" stroke="#231f20" stroke-width="0.14" >20</text>
<line x1="207.90" y1="328.00" x2="207.90" y2="331.00" stroke="#111" stroke-width="0.7" />
<text x="207.90" y="340.20" font-size="6.5" text-anchor="middle" fill="#231f20" stroke="#231f20" stroke-width="0.14" >40</text>
<line x1="222.00" y1="328.00" x2="222.00" y2="331.00" stroke="#111" stroke-width="0.7" />
<text x="222.00" y="340.20" font-size="6.5" text-anchor="middle" fill="#231f20" stroke="#231f20" stroke-width="0.14" >60</text>
<line x1="236.10" y1="328.00" x2="236.10" y2="331.00" stroke="#111" stroke-width="0.7" />
<text x="236.10" y="340.20" font-size="6.5" text-anchor="middle" fill="#231f20" stroke="#231f20" stroke-width="0.14" >80</text>
<path d="M179.7,318.3 L182.5,318.4 L185.3,318.5 L188.2,318.7 L191.0,319.0 L193.8,319.3 L196.6,319.6 L199.4,319.8 L202.3,320.0 L205.1,320.3 L207.9,320.6 L210.7,321.0 L213.5,321.4 L216.4,321.8 L219.2,322.3 L222.0,322.8 L224.8,323.2 L227.6,323.6 L230.5,324.0" fill="none" stroke="#3d5a86" stroke-width="0.75" stroke-linejoin="round"/>
<circle cx="179.70" cy="318.30" r="1.1" fill="#3d5a86"/>
<circle cx="182.52" cy="318.42" r="1.1" fill="#3d5a86"/>
<circle cx="185.34" cy="318.55" r="1.1" fill="#3d5a86"/>
<circle cx="188.16" cy="318.67" r="1.1" fill="#3d5a86"/>
<circle cx="190.98" cy="318.98" r="1.1" fill="#3d5a86"/>
<circle cx="193.80" cy="319.29" r="1.1" fill="#3d5a86"/>
<circle cx="196.62" cy="319.60" r="1.1" fill="#3d5a86"/>
<circle cx="199.44" cy="319.82" r="1.1" fill="#3d5a86"/>
<circle cx="202.26" cy="320.04" r="1.1" fill="#3d5a86"/>
<circle cx="205.08" cy="320.26" r="1.1" fill="#3d5a86"/>
<circle cx="207.90" cy="320.63" r="1.1" fill="#3d5a86"/>
<circle cx="210.72" cy="321.00" r="1.1" fill="#3d5a86"/>
<circle cx="213.54" cy="321.38" r="1.1" fill="#3d5a86"/>
<circle cx="216.36" cy="321.84" r="1.1" fill="#3d5a86"/>
<circle cx="219.18" cy="322.31" r="1.1" fill="#3d5a86"/>
<circle cx="222.00" cy="322.78" r="1.1" fill="#3d5a86"/>
<circle cx="224.82" cy="323.18" r="1.1" fill="#3d5a86"/>
<circle cx="227.64" cy="323.58" r="1.1" fill="#3d5a86"/>
<circle cx="230.46" cy="323.99" r="1.1" fill="#3d5a86"/>
<line x1="210.72" y1="310.77" x2="210.72" y2="313.01" stroke="#ad2b37" stroke-width="0.55" />
<line x1="209.82" y1="310.77" x2="211.62" y2="310.77" stroke="#ad2b37" stroke-width="0.5" />
<line x1="209.82" y1="313.01" x2="211.62" y2="313.01" stroke="#ad2b37" stroke-width="0.5" />
<line x1="213.54" y1="310.51" x2="213.54" y2="312.83" stroke="#ad2b37" stroke-width="0.55" />
<line x1="212.64" y1="310.51" x2="214.44" y2="310.51" stroke="#ad2b37" stroke-width="0.5" />
<line x1="212.64" y1="312.83" x2="214.44" y2="312.83" stroke="#ad2b37" stroke-width="0.5" />
<line x1="216.36" y1="310.47" x2="216.36" y2="312.87" stroke="#ad2b37" stroke-width="0.55" />
<line x1="215.46" y1="310.47" x2="217.26" y2="310.47" stroke="#ad2b37" stroke-width="0.5" />
<line x1="215.46" y1="312.87" x2="217.26" y2="312.87" stroke="#ad2b37" stroke-width="0.5" />
<line x1="219.18" y1="310.43" x2="219.18" y2="312.91" stroke="#ad2b37" stroke-width="0.55" />
<line x1="218.28" y1="310.43" x2="220.08" y2="310.43" stroke="#ad2b37" stroke-width="0.5" />
<line x1="218.28" y1="312.91" x2="220.08" y2="312.91" stroke="#ad2b37" stroke-width="0.5" />
<line x1="222.00" y1="310.39" x2="222.00" y2="312.95" stroke="#ad2b37" stroke-width="0.55" />
<line x1="221.10" y1="310.39" x2="222.90" y2="310.39" stroke="#ad2b37" stroke-width="0.5" />
<line x1="221.10" y1="312.95" x2="222.90" y2="312.95" stroke="#ad2b37" stroke-width="0.5" />
<line x1="224.82" y1="310.35" x2="224.82" y2="312.99" stroke="#ad2b37" stroke-width="0.55" />
<line x1="223.92" y1="310.35" x2="225.72" y2="310.35" stroke="#ad2b37" stroke-width="0.5" />
<line x1="223.92" y1="312.99" x2="225.72" y2="312.99" stroke="#ad2b37" stroke-width="0.5" />
<line x1="227.64" y1="310.31" x2="227.64" y2="313.03" stroke="#ad2b37" stroke-width="0.55" />
<line x1="226.74" y1="310.31" x2="228.54" y2="310.31" stroke="#ad2b37" stroke-width="0.5" />
<line x1="226.74" y1="313.03" x2="228.54" y2="313.03" stroke="#ad2b37" stroke-width="0.5" />
<line x1="230.46" y1="310.27" x2="230.46" y2="313.07" stroke="#ad2b37" stroke-width="0.55" />
<line x1="229.56" y1="310.27" x2="231.36" y2="310.27" stroke="#ad2b37" stroke-width="0.5" />
<line x1="229.56" y1="313.07" x2="231.36" y2="313.07" stroke="#ad2b37" stroke-width="0.5" />
<path d="M179.7,318.3 L182.5,315.6 L185.3,315.2 L188.2,315.4 L191.0,315.2 L193.8,314.9 L196.6,314.7 L199.4,313.9 L202.3,313.1 L205.1,312.3 L207.9,312.1 L210.7,311.9 L213.5,311.7 L216.4,311.7 L219.2,311.7 L222.0,311.7 L224.8,311.7 L227.6,311.7 L230.5,311.7" fill="none" stroke="#ad2b37" stroke-width="0.75" stroke-linejoin="round"/>
<circle cx="179.70" cy="318.30" r="1.1" fill="#ad2b37"/>
<circle cx="182.52" cy="315.59" r="1.1" fill="#ad2b37"/>
<circle cx="185.34" cy="315.22" r="1.1" fill="#ad2b37"/>
<circle cx="188.16" cy="315.40" r="1.1" fill="#ad2b37"/>
<circle cx="190.98" cy="315.16" r="1.1" fill="#ad2b37"/>
<circle cx="193.80" cy="314.91" r="1.1" fill="#ad2b37"/>
<circle cx="196.62" cy="314.66" r="1.1" fill="#ad2b37"/>
<circle cx="199.44" cy="313.88" r="1.1" fill="#ad2b37"/>
<circle cx="202.26" cy="313.10" r="1.1" fill="#ad2b37"/>
<circle cx="205.08" cy="312.33" r="1.1" fill="#ad2b37"/>
<circle cx="207.90" cy="312.11" r="1.1" fill="#ad2b37"/>
<circle cx="210.72" cy="311.89" r="1.1" fill="#ad2b37"/>
<circle cx="213.54" cy="311.67" r="1.1" fill="#ad2b37"/>
<circle cx="216.36" cy="311.67" r="1.1" fill="#ad2b37"/>
<circle cx="219.18" cy="311.67" r="1.1" fill="#ad2b37"/>
<circle cx="222.00" cy="311.67" r="1.1" fill="#ad2b37"/>
<circle cx="224.82" cy="311.67" r="1.1" fill="#ad2b37"/>
<circle cx="227.64" cy="311.67" r="1.1" fill="#ad2b37"/>
<circle cx="230.46" cy="311.67" r="1.1" fill="#ad2b37"/>
<line x1="205.08" y1="303.46" x2="205.08" y2="309.06" stroke="#66ad47" stroke-width="0.55" />
<line x1="204.18" y1="303.46" x2="205.98" y2="303.46" stroke="#66ad47" stroke-width="0.5" />
<line x1="204.18" y1="309.06" x2="205.98" y2="309.06" stroke="#66ad47" stroke-width="0.5" />
<line x1="207.90" y1="300.01" x2="207.90" y2="307.47" stroke="#66ad47" stroke-width="0.55" />
<line x1="207.00" y1="300.01" x2="208.80" y2="300.01" stroke="#66ad47" stroke-width="0.5" />
<line x1="207.00" y1="307.47" x2="208.80" y2="307.47" stroke="#66ad47" stroke-width="0.5" />
<line x1="210.72" y1="297.02" x2="210.72" y2="305.42" stroke="#66ad47" stroke-width="0.55" />
<line x1="209.82" y1="297.02" x2="211.62" y2="297.02" stroke="#66ad47" stroke-width="0.5" />
<line x1="209.82" y1="305.42" x2="211.62" y2="305.42" stroke="#66ad47" stroke-width="0.5" />
<line x1="213.54" y1="294.04" x2="213.54" y2="303.37" stroke="#66ad47" stroke-width="0.55" />
<line x1="212.64" y1="294.04" x2="214.44" y2="294.04" stroke="#66ad47" stroke-width="0.5" />
<line x1="212.64" y1="303.37" x2="214.44" y2="303.37" stroke="#66ad47" stroke-width="0.5" />
<line x1="216.36" y1="290.52" x2="216.36" y2="301.72" stroke="#66ad47" stroke-width="0.55" />
<line x1="215.46" y1="290.52" x2="217.26" y2="290.52" stroke="#66ad47" stroke-width="0.5" />
<line x1="215.46" y1="301.72" x2="217.26" y2="301.72" stroke="#66ad47" stroke-width="0.5" />
<line x1="219.18" y1="287.01" x2="219.18" y2="300.07" stroke="#66ad47" stroke-width="0.55" />
<line x1="218.28" y1="287.01" x2="220.08" y2="287.01" stroke="#66ad47" stroke-width="0.5" />
<line x1="218.28" y1="300.07" x2="220.08" y2="300.07" stroke="#66ad47" stroke-width="0.5" />
<line x1="222.00" y1="283.96" x2="222.00" y2="297.96" stroke="#66ad47" stroke-width="0.55" />
<line x1="221.10" y1="283.96" x2="222.90" y2="283.96" stroke="#66ad47" stroke-width="0.5" />
<line x1="221.10" y1="297.96" x2="222.90" y2="297.96" stroke="#66ad47" stroke-width="0.5" />
<line x1="224.82" y1="281.51" x2="224.82" y2="296.43" stroke="#66ad47" stroke-width="0.55" />
<line x1="223.92" y1="281.51" x2="225.72" y2="281.51" stroke="#66ad47" stroke-width="0.5" />
<line x1="223.92" y1="296.43" x2="225.72" y2="296.43" stroke="#66ad47" stroke-width="0.5" />
<line x1="227.64" y1="278.58" x2="227.64" y2="295.38" stroke="#66ad47" stroke-width="0.55" />
<line x1="226.74" y1="278.58" x2="228.54" y2="278.58" stroke="#66ad47" stroke-width="0.5" />
<line x1="226.74" y1="295.38" x2="228.54" y2="295.38" stroke="#66ad47" stroke-width="0.5" />
<line x1="230.46" y1="275.66" x2="230.46" y2="294.32" stroke="#66ad47" stroke-width="0.55" />
<line x1="229.56" y1="275.66" x2="231.36" y2="275.66" stroke="#66ad47" stroke-width="0.5" />
<line x1="229.56" y1="294.32" x2="231.36" y2="294.32" stroke="#66ad47" stroke-width="0.5" />
<path d="M179.7,318.7 L182.5,317.9 L185.3,317.1 L188.2,316.3 L191.0,315.0 L193.8,313.6 L196.6,312.2 L199.4,310.2 L202.3,308.3 L205.1,306.3 L207.9,303.7 L210.7,301.2 L213.5,298.7 L216.4,296.1 L219.2,293.5 L222.0,291.0 L224.8,289.0 L227.6,287.0 L230.5,285.0" fill="none" stroke="#66ad47" stroke-width="0.75" stroke-linejoin="round"/>
<circle cx="179.70" cy="318.67" r="1.1" fill="#66ad47"/>
<circle cx="182.52" cy="317.89" r="1.1" fill="#66ad47"/>
<circle cx="185.34" cy="317.12" r="1.1" fill="#66ad47"/>
<circle cx="188.16" cy="316.34" r="1.1" fill="#66ad47"/>
<circle cx="190.98" cy="314.97" r="1.1" fill="#66ad47"/>
<circle cx="193.80" cy="313.60" r="1.1" fill="#66ad47"/>
<circle cx="196.62" cy="312.23" r="1.1" fill="#66ad47"/>
<circle cx="199.44" cy="310.24" r="1.1" fill="#66ad47"/>
<circle cx="202.26" cy="308.25" r="1.1" fill="#66ad47"/>
<circle cx="205.08" cy="306.26" r="1.1" fill="#66ad47"/>
<circle cx="207.90" cy="303.74" r="1.1" fill="#66ad47"/>
<circle cx="210.72" cy="301.22" r="1.1" fill="#66ad47"/>
<circle cx="213.54" cy="298.70" r="1.1" fill="#66ad47"/>
<circle cx="216.36" cy="296.12" r="1.1" fill="#66ad47"/>
<circle cx="219.18" cy="293.54" r="1.1" fill="#66ad47"/>
<circle cx="222.00" cy="290.96" r="1.1" fill="#66ad47"/>
<circle cx="224.82" cy="288.97" r="1.1" fill="#66ad47"/>
<circle cx="227.64" cy="286.98" r="1.1" fill="#66ad47"/>
<circle cx="230.46" cy="284.99" r="1.1" fill="#66ad47"/>
<line x1="205.08" y1="299.54" x2="205.08" y2="302.34" stroke="#6fa9dc" stroke-width="0.55" />
<line x1="204.18" y1="299.54" x2="205.98" y2="299.54" stroke="#6fa9dc" stroke-width="0.5" />
<line x1="204.18" y1="302.34" x2="205.98" y2="302.34" stroke="#6fa9dc" stroke-width="0.5" />
<line x1="207.90" y1="296.06" x2="207.90" y2="299.17" stroke="#6fa9dc" stroke-width="0.55" />
<line x1="207.00" y1="296.06" x2="208.80" y2="296.06" stroke="#6fa9dc" stroke-width="0.5" />
<line x1="207.00" y1="299.17" x2="208.80" y2="299.17" stroke="#6fa9dc" stroke-width="0.5" />
<line x1="210.72" y1="292.58" x2="210.72" y2="296.00" stroke="#6fa9dc" stroke-width="0.55" />
<line x1="209.82" y1="292.58" x2="211.62" y2="292.58" stroke="#6fa9dc" stroke-width="0.5" />
<line x1="209.82" y1="296.00" x2="211.62" y2="296.00" stroke="#6fa9dc" stroke-width="0.5" />
<line x1="213.54" y1="289.09" x2="213.54" y2="292.83" stroke="#6fa9dc" stroke-width="0.55" />
<line x1="212.64" y1="289.09" x2="214.44" y2="289.09" stroke="#6fa9dc" stroke-width="0.5" />
<line x1="212.64" y1="292.83" x2="214.44" y2="292.83" stroke="#6fa9dc" stroke-width="0.5" />
<line x1="216.36" y1="285.61" x2="216.36" y2="289.65" stroke="#6fa9dc" stroke-width="0.55" />
<line x1="215.46" y1="285.61" x2="217.26" y2="285.61" stroke="#6fa9dc" stroke-width="0.5" />
<line x1="215.46" y1="289.65" x2="217.26" y2="289.65" stroke="#6fa9dc" stroke-width="0.5" />
<line x1="219.18" y1="282.13" x2="219.18" y2="286.48" stroke="#6fa9dc" stroke-width="0.55" />
<line x1="218.28" y1="282.13" x2="220.08" y2="282.13" stroke="#6fa9dc" stroke-width="0.5" />
<line x1="218.28" y1="286.48" x2="220.08" y2="286.48" stroke="#6fa9dc" stroke-width="0.5" />
<line x1="222.00" y1="278.64" x2="222.00" y2="283.31" stroke="#6fa9dc" stroke-width="0.55" />
<line x1="221.10" y1="278.64" x2="222.90" y2="278.64" stroke="#6fa9dc" stroke-width="0.5" />
<line x1="221.10" y1="283.31" x2="222.90" y2="283.31" stroke="#6fa9dc" stroke-width="0.5" />
<line x1="224.82" y1="275.91" x2="224.82" y2="280.26" stroke="#6fa9dc" stroke-width="0.55" />
<line x1="223.92" y1="275.91" x2="225.72" y2="275.91" stroke="#6fa9dc" stroke-width="0.5" />
<line x1="223.92" y1="280.26" x2="225.72" y2="280.26" stroke="#6fa9dc" stroke-width="0.5" />
<line x1="227.64" y1="273.17" x2="227.64" y2="277.21" stroke="#6fa9dc" stroke-width="0.55" />
<line x1="226.74" y1="273.17" x2="228.54" y2="273.17" stroke="#6fa9dc" stroke-width="0.5" />
<line x1="226.74" y1="277.21" x2="228.54" y2="277.21" stroke="#6fa9dc" stroke-width="0.5" />
<line x1="230.46" y1="270.43" x2="230.46" y2="274.17" stroke="#6fa9dc" stroke-width="0.55" />
<line x1="229.56" y1="270.43" x2="231.36" y2="270.43" stroke="#6fa9dc" stroke-width="0.5" />
<line x1="229.56" y1="274.17" x2="231.36" y2="274.17" stroke="#6fa9dc" stroke-width="0.5" />
<path d="M179.7,318.7 L182.5,317.7 L185.3,316.8 L188.2,315.9 L191.0,314.2 L193.8,312.6 L196.6,310.9 L199.4,307.6 L202.3,304.3 L205.1,300.9 L207.9,297.6 L210.7,294.3 L213.5,291.0 L216.4,287.6 L219.2,284.3 L222.0,281.0 L224.8,278.1 L227.6,275.2 L230.5,272.3" fill="none" stroke="#6fa9dc" stroke-width="0.75" stroke-linejoin="round"/>
<circle cx="179.70" cy="318.67" r="1.1" fill="#6fa9dc"/>
<circle cx="182.52" cy="317.74" r="1.1" fill="#6fa9dc"/>
<circle cx="185.34" cy="316.80" r="1.1" fill="#6fa9dc"/>
<circle cx="188.16" cy="315.87" r="1.1" fill="#6fa9dc"/>
<circle cx="190.98" cy="314.22" r="1.1" fill="#6fa9dc"/>
<circle cx="193.80" cy="312.57" r="1.1" fill="#6fa9dc"/>
<circle cx="196.62" cy="310.93" r="1.1" fill="#6fa9dc"/>
<circle cx="199.44" cy="307.60" r="1.1" fill="#6fa9dc"/>
<circle cx="202.26" cy="304.27" r="1.1" fill="#6fa9dc"/>
<circle cx="205.08" cy="300.94" r="1.1" fill="#6fa9dc"/>
<circle cx="207.90" cy="297.62" r="1.1" fill="#6fa9dc"/>
<circle cx="210.72" cy="294.29" r="1.1" fill="#6fa9dc"/>
<circle cx="213.54" cy="290.96" r="1.1" fill="#6fa9dc"/>
<circle cx="216.36" cy="287.63" r="1.1" fill="#6fa9dc"/>
<circle cx="219.18" cy="284.30" r="1.1" fill="#6fa9dc"/>
<circle cx="222.00" cy="280.98" r="1.1" fill="#6fa9dc"/>
<circle cx="224.82" cy="278.08" r="1.1" fill="#6fa9dc"/>
<circle cx="227.64" cy="275.19" r="1.1" fill="#6fa9dc"/>
<circle cx="230.46" cy="272.30" r="1.1" fill="#6fa9dc"/>
<line x1="222.00" y1="286.76" x2="222.00" y2="289.56" stroke="#e8962f" stroke-width="0.55" />
<line x1="221.10" y1="286.76" x2="222.90" y2="286.76" stroke="#e8962f" stroke-width="0.5" />
<line x1="221.10" y1="289.56" x2="222.90" y2="289.56" stroke="#e8962f" stroke-width="0.5" />
<line x1="224.82" y1="284.34" x2="224.82" y2="287.45" stroke="#e8962f" stroke-width="0.55" />
<line x1="223.92" y1="284.34" x2="225.72" y2="284.34" stroke="#e8962f" stroke-width="0.5" />
<line x1="223.92" y1="287.45" x2="225.72" y2="287.45" stroke="#e8962f" stroke-width="0.5" />
<line x1="227.64" y1="281.91" x2="227.64" y2="285.33" stroke="#e8962f" stroke-width="0.55" />
<line x1="226.74" y1="281.91" x2="228.54" y2="281.91" stroke="#e8962f" stroke-width="0.5" />
<line x1="226.74" y1="285.33" x2="228.54" y2="285.33" stroke="#e8962f" stroke-width="0.5" />
<line x1="230.46" y1="279.48" x2="230.46" y2="283.22" stroke="#e8962f" stroke-width="0.55" />
<line x1="229.56" y1="279.48" x2="231.36" y2="279.48" stroke="#e8962f" stroke-width="0.5" />
<line x1="229.56" y1="283.22" x2="231.36" y2="283.22" stroke="#e8962f" stroke-width="0.5" />
<path d="M179.7,318.9 L182.5,317.8 L185.3,316.7 L188.2,315.6 L191.0,314.3 L193.8,312.9 L196.6,311.6 L199.4,309.1 L202.3,306.7 L205.1,304.2 L207.9,301.6 L210.7,299.0 L213.5,296.5 L216.4,293.7 L219.2,290.9 L222.0,288.2 L224.8,285.9 L227.6,283.6 L230.5,281.4" fill="none" stroke="#e8962f" stroke-width="0.75" stroke-linejoin="round"/>
<circle cx="179.70" cy="318.95" r="1.1" fill="#e8962f"/>
<circle cx="182.52" cy="317.83" r="1.1" fill="#e8962f"/>
<circle cx="185.34" cy="316.71" r="1.1" fill="#e8962f"/>
<circle cx="188.16" cy="315.59" r="1.1" fill="#e8962f"/>
<circle cx="190.98" cy="314.25" r="1.1" fill="#e8962f"/>
<circle cx="193.80" cy="312.92" r="1.1" fill="#e8962f"/>
<circle cx="196.62" cy="311.58" r="1.1" fill="#e8962f"/>
<circle cx="199.44" cy="309.12" r="1.1" fill="#e8962f"/>
<circle cx="202.26" cy="306.67" r="1.1" fill="#e8962f"/>
<circle cx="205.08" cy="304.21" r="1.1" fill="#e8962f"/>
<circle cx="207.90" cy="301.63" r="1.1" fill="#e8962f"/>
<circle cx="210.72" cy="299.05" r="1.1" fill="#e8962f"/>
<circle cx="213.54" cy="296.46" r="1.1" fill="#e8962f"/>
<circle cx="216.36" cy="293.70" r="1.1" fill="#e8962f"/>
<circle cx="219.18" cy="290.93" r="1.1" fill="#e8962f"/>
<circle cx="222.00" cy="288.16" r="1.1" fill="#e8962f"/>
<circle cx="224.82" cy="285.89" r="1.1" fill="#e8962f"/>
<circle cx="227.64" cy="283.62" r="1.1" fill="#e8962f"/>
<circle cx="230.46" cy="281.35" r="1.1" fill="#e8962f"/>
<text x="209.50" y="350.90" font-size="7.4" text-anchor="middle" fill="#231f20" stroke="#231f20" stroke-width="0.14" textLength="39" lengthAdjust="spacingAndGlyphs" >Time (hours)</text>
<text x="156.20" y="298.40" font-size="7.2" text-anchor="middle" fill="#231f20" stroke="#231f20" stroke-width="0.14" textLength="50.6" lengthAdjust="spacingAndGlyphs" transform="rotate(-90 156.20 298.40)" >Total tumor GFP</text>
<text x="164.60" y="298.40" font-size="7.2" text-anchor="middle" fill="#231f20" stroke="#231f20" stroke-width="0.14" textLength="80.5" lengthAdjust="spacingAndGlyphs" transform="rotate(-90 164.60 298.40)" >fluorescence (normalized)</text>
<line x1="60.40" y1="420.40" x2="121.20" y2="420.40" stroke="#111" stroke-width="0.9" />
<line x1="60.40" y1="420.85" x2="60.40" y2="369.98" stroke="#111" stroke-width="0.9" />
<line x1="57.40" y1="420.40" x2="60.40" y2="420.40" stroke="#111" stroke-width="0.7" />
<text x="54.40" y="422.74" font-size="6.5" text-anchor="end" fill="#231f20" stroke="#231f20" stroke-width="0.14" >0</text>
<line x1="57.40" y1="412.33" x2="60.40" y2="412.33" stroke="#111" stroke-width="0.7" />
<text x="54.40" y="414.67" font-size="6.5" text-anchor="end" fill="#231f20" stroke="#231f20" stroke-width="0.14" >1</text>
<line x1="57.40" y1="404.26" x2="60.40" y2="404.26" stroke="#111" stroke-width="0.7" />
<text x="54.40" y="406.60" font-size="6.5" text-anchor="end" fill="#231f20" stroke="#231f20" stroke-width="0.14" >2</text>
<line x1="57.40" y1="396.19" x2="60.40" y2="396.19" stroke="#111" stroke-width="0.7" />
<text x="54.40" y="398.53" font-size="6.5" text-anchor="end" fill="#231f20" stroke="#231f20" stroke-width="0.14" >3</text>
<line x1="57.40" y1="388.12" x2="60.40" y2="388.12" stroke="#111" stroke-width="0.7" />
<text x="54.40" y="390.46" font-size="6.5" text-anchor="end" fill="#231f20" stroke="#231f20" stroke-width="0.14" >4</text>
<line x1="57.40" y1="380.05" x2="60.40" y2="380.05" stroke="#111" stroke-width="0.7" />
<text x="54.40" y="382.39" font-size="6.5" text-anchor="end" fill="#231f20" stroke="#231f20" stroke-width="0.14" >5</text>
<line x1="57.40" y1="371.98" x2="60.40" y2="371.98" stroke="#111" stroke-width="0.7" />
<text x="54.40" y="374.32" font-size="6.5" text-anchor="end" fill="#231f20" stroke="#231f20" stroke-width="0.14" >6</text>
<circle cx="67.60" cy="408.70" r="1.4" fill="#3d5a86"/>
<circle cx="69.80" cy="410.96" r="1.4" fill="#3d5a86"/>
<circle cx="67.30" cy="416.77" r="1.4" fill="#3d5a86"/>
<line x1="64.40" y1="412.33" x2="72.00" y2="412.33" stroke="#3d5a86" stroke-width="0.95" />
<line x1="68.20" y1="414.59" x2="68.20" y2="410.07" stroke="#3d5a86" stroke-width="0.85" />
<line x1="66.20" y1="410.07" x2="70.20" y2="410.07" stroke="#3d5a86" stroke-width="0.85" />
<line x1="66.20" y1="414.59" x2="70.20" y2="414.59" stroke="#3d5a86" stroke-width="0.85" />
<circle cx="78.60" cy="405.07" r="1.4" fill="#ad2b37"/>
<circle cx="80.80" cy="406.92" r="1.4" fill="#ad2b37"/>
<circle cx="78.30" cy="412.73" r="1.4" fill="#ad2b37"/>
<line x1="75.40" y1="408.46" x2="83.00" y2="408.46" stroke="#ad2b37" stroke-width="0.95" />
<line x1="79.20" y1="410.72" x2="79.20" y2="406.20" stroke="#ad2b37" stroke-width="0.85" />
<line x1="77.20" y1="406.20" x2="81.20" y2="406.20" stroke="#ad2b37" stroke-width="0.85" />
<line x1="77.20" y1="410.72" x2="81.20" y2="410.72" stroke="#ad2b37" stroke-width="0.85" />
<circle cx="90.10" cy="376.98" r="1.4" fill="#6fa9dc"/>
<circle cx="92.30" cy="391.35" r="1.4" fill="#6fa9dc"/>
<circle cx="89.80" cy="394.17" r="1.4" fill="#6fa9dc"/>
<line x1="86.90" y1="387.47" x2="94.50" y2="387.47" stroke="#6fa9dc" stroke-width="0.95" />
<line x1="90.70" y1="392.32" x2="90.70" y2="382.63" stroke="#6fa9dc" stroke-width="0.85" />
<line x1="88.70" y1="382.63" x2="92.70" y2="382.63" stroke="#6fa9dc" stroke-width="0.85" />
<line x1="88.70" y1="392.32" x2="92.70" y2="392.32" stroke="#6fa9dc" stroke-width="0.85" />
<circle cx="100.80" cy="381.83" r="1.4" fill="#66ad47"/>
<circle cx="103.00" cy="385.05" r="1.4" fill="#66ad47"/>
<circle cx="100.50" cy="388.52" r="1.4" fill="#66ad47"/>
<line x1="97.60" y1="385.70" x2="105.20" y2="385.70" stroke="#66ad47" stroke-width="0.95" />
<line x1="101.40" y1="387.47" x2="101.40" y2="383.92" stroke="#66ad47" stroke-width="0.85" />
<line x1="99.40" y1="383.92" x2="103.40" y2="383.92" stroke="#66ad47" stroke-width="0.85" />
<line x1="99.40" y1="387.47" x2="103.40" y2="387.47" stroke="#66ad47" stroke-width="0.85" />
<circle cx="112.30" cy="385.86" r="1.4" fill="#e8962f"/>
<circle cx="114.50" cy="390.38" r="1.4" fill="#e8962f"/>
<circle cx="112.00" cy="398.85" r="1.4" fill="#e8962f"/>
<line x1="109.10" y1="391.51" x2="116.70" y2="391.51" stroke="#e8962f" stroke-width="0.95" />
<line x1="112.90" y1="395.14" x2="112.90" y2="387.88" stroke="#e8962f" stroke-width="0.85" />
<line x1="110.90" y1="387.88" x2="114.90" y2="387.88" stroke="#e8962f" stroke-width="0.85" />
<line x1="110.90" y1="395.14" x2="114.90" y2="395.14" stroke="#e8962f" stroke-width="0.85" />
<line x1="67.80" y1="363.60" x2="91.20" y2="363.60" stroke="#777" stroke-width="1.1" />
<line x1="67.80" y1="369.80" x2="101.90" y2="369.80" stroke="#777" stroke-width="1.1" />
<line x1="101.80" y1="363.60" x2="113.20" y2="363.60" stroke="#333" stroke-width="0.85" />
<text x="79.25" y="364.00" font-size="7.0" text-anchor="middle" fill="#231f20" stroke="#231f20" stroke-width="0.3" textLength="5.0" lengthAdjust="spacingAndGlyphs" >**</text>
<text x="84.60" y="370.30" font-size="7.0" text-anchor="middle" fill="#231f20" stroke="#231f20" stroke-width="0.3" textLength="5.0" lengthAdjust="spacingAndGlyphs" >**</text>
<text x="107.15" y="361.90" font-size="6.0" text-anchor="middle" fill="#231f20" stroke="#231f20" stroke-width="0.14" textLength="5.6" lengthAdjust="spacingAndGlyphs" >ns</text>
<line x1="179.70" y1="420.40" x2="240.50" y2="420.40" stroke="#111" stroke-width="0.9" />
<line x1="179.70" y1="420.85" x2="179.70" y2="369.98" stroke="#111" stroke-width="0.9" />
<line x1="176.70" y1="420.40" x2="179.70" y2="420.40" stroke="#111" stroke-width="0.7" />
<text x="173.70" y="422.74" font-size="6.5" text-anchor="end" fill="#231f20" stroke="#231f20" stroke-width="0.14" >0</text>
<line x1="176.70" y1="412.33" x2="179.70" y2="412.33" stroke="#111" stroke-width="0.7" />
<text x="173.70" y="414.67" font-size="6.5" text-anchor="end" fill="#231f20" stroke="#231f20" stroke-width="0.14" >1</text>
<line x1="176.70" y1="404.26" x2="179.70" y2="404.26" stroke="#111" stroke-width="0.7" />
<text x="173.70" y="406.60" font-size="6.5" text-anchor="end" fill="#231f20" stroke="#231f20" stroke-width="0.14" >2</text>
<line x1="176.70" y1="396.19" x2="179.70" y2="396.19" stroke="#111" stroke-width="0.7" />
<text x="173.70" y="398.53" font-size="6.5" text-anchor="end" fill="#231f20" stroke="#231f20" stroke-width="0.14" >3</text>
<line x1="176.70" y1="388.12" x2="179.70" y2="388.12" stroke="#111" stroke-width="0.7" />
<text x="173.70" y="390.46" font-size="6.5" text-anchor="end" fill="#231f20" stroke="#231f20" stroke-width="0.14" >4</text>
<line x1="176.70" y1="380.05" x2="179.70" y2="380.05" stroke="#111" stroke-width="0.7" />
<text x="173.70" y="382.39" font-size="6.5" text-anchor="end" fill="#231f20" stroke="#231f20" stroke-width="0.14" >5</text>
<line x1="176.70" y1="371.98" x2="179.70" y2="371.98" stroke="#111" stroke-width="0.7" />
<text x="173.70" y="374.32" font-size="6.5" text-anchor="end" fill="#231f20" stroke="#231f20" stroke-width="0.14" >6</text>
<circle cx="186.80" cy="404.50" r="1.4" fill="#3d5a86"/>
<circle cx="189.00" cy="416.77" r="1.4" fill="#3d5a86"/>
<circle cx="186.50" cy="415.64" r="1.4" fill="#3d5a86"/>
<line x1="183.60" y1="412.33" x2="191.20" y2="412.33" stroke="#3d5a86" stroke-width="0.95" />
<line x1="187.40" y1="415.96" x2="187.40" y2="408.70" stroke="#3d5a86" stroke-width="0.85" />
<line x1="185.40" y1="408.70" x2="189.40" y2="408.70" stroke="#3d5a86" stroke-width="0.85" />
<line x1="185.40" y1="415.96" x2="189.40" y2="415.96" stroke="#3d5a86" stroke-width="0.85" />
<circle cx="196.60" cy="393.45" r="1.4" fill="#ad2b37"/>
<circle cx="198.80" cy="406.60" r="1.4" fill="#ad2b37"/>
<circle cx="196.30" cy="411.04" r="1.4" fill="#ad2b37"/>
<line x1="193.40" y1="403.45" x2="201.00" y2="403.45" stroke="#ad2b37" stroke-width="0.95" />
<line x1="197.20" y1="408.29" x2="197.20" y2="398.61" stroke="#ad2b37" stroke-width="0.85" />
<line x1="195.20" y1="398.61" x2="199.20" y2="398.61" stroke="#ad2b37" stroke-width="0.85" />
<line x1="195.20" y1="408.29" x2="199.20" y2="408.29" stroke="#ad2b37" stroke-width="0.85" />
<circle cx="209.10" cy="371.98" r="1.4" fill="#6fa9dc"/>
<circle cx="211.30" cy="387.56" r="1.4" fill="#6fa9dc"/>
<circle cx="208.80" cy="388.28" r="1.4" fill="#6fa9dc"/>
<line x1="205.90" y1="382.79" x2="213.50" y2="382.79" stroke="#6fa9dc" stroke-width="0.95" />
<line x1="209.70" y1="387.64" x2="209.70" y2="377.95" stroke="#6fa9dc" stroke-width="0.85" />
<line x1="207.70" y1="377.95" x2="211.70" y2="377.95" stroke="#6fa9dc" stroke-width="0.85" />
<line x1="207.70" y1="387.64" x2="211.70" y2="387.64" stroke="#6fa9dc" stroke-width="0.85" />
<circle cx="220.20" cy="383.20" r="1.4" fill="#66ad47"/>
<circle cx="222.40" cy="388.68" r="1.4" fill="#66ad47"/>
<circle cx="219.90" cy="392.15" r="1.4" fill="#66ad47"/>
<line x1="217.00" y1="388.68" x2="224.60" y2="388.68" stroke="#66ad47" stroke-width="0.95" />
<line x1="220.80" y1="391.11" x2="220.80" y2="386.26" stroke="#66ad47" stroke-width="0.85" />
<line x1="218.80" y1="386.26" x2="222.80" y2="386.26" stroke="#66ad47" stroke-width="0.85" />
<line x1="218.80" y1="391.11" x2="222.80" y2="391.11" stroke="#66ad47" stroke-width="0.85" />
<circle cx="231.60" cy="385.94" r="1.4" fill="#e8962f"/>
<circle cx="233.80" cy="390.54" r="1.4" fill="#e8962f"/>
<circle cx="231.30" cy="399.42" r="1.4" fill="#e8962f"/>
<line x1="228.40" y1="391.35" x2="236.00" y2="391.35" stroke="#e8962f" stroke-width="0.95" />
<line x1="232.20" y1="394.98" x2="232.20" y2="387.72" stroke="#e8962f" stroke-width="0.85" />
<line x1="230.20" y1="387.72" x2="234.20" y2="387.72" stroke="#e8962f" stroke-width="0.85" />
<line x1="230.20" y1="394.98" x2="234.20" y2="394.98" stroke="#e8962f" stroke-width="0.85" />
<line x1="187.00" y1="363.60" x2="210.20" y2="363.60" stroke="#777" stroke-width="1.1" />
<line x1="187.00" y1="369.80" x2="221.30" y2="369.80" stroke="#777" stroke-width="1.1" />
<line x1="221.20" y1="363.60" x2="232.50" y2="363.60" stroke="#333" stroke-width="0.85" />
<text x="198.35" y="364.00" font-size="7.0" text-anchor="middle" fill="#231f20" stroke="#231f20" stroke-width="0.3" >*</text>
<text x="203.90" y="370.30" font-size="7.0" text-anchor="middle" fill="#231f20" stroke="#231f20" stroke-width="0.3" textLength="5.0" lengthAdjust="spacingAndGlyphs" >**</text>
<text x="226.50" y="361.90" font-size="6.0" text-anchor="middle" fill="#231f20" stroke="#231f20" stroke-width="0.14" textLength="5.6" lengthAdjust="spacingAndGlyphs" >ns</text>
<text x="28.40" y="395.50" font-size="7.2" text-anchor="middle" fill="#231f20" stroke="#231f20" stroke-width="0.14" textLength="50.3" lengthAdjust="spacingAndGlyphs" transform="rotate(-90 28.40 395.50)" >Total tumor GFP</text>
<text x="37.10" y="395.50" font-size="7.2" text-anchor="middle" fill="#231f20" stroke="#231f20" stroke-width="0.14" textLength="63.8" lengthAdjust="spacingAndGlyphs" transform="rotate(-90 37.10 395.50)" >fluorescence at 72hr</text>
<text x="45.80" y="395.50" font-size="7.2" text-anchor="middle" fill="#231f20" stroke="#231f20" stroke-width="0.14" textLength="40" lengthAdjust="spacingAndGlyphs" transform="rotate(-90 45.80 395.50)" >(normalized)</text>
<text x="147.30" y="395.00" font-size="7.2" text-anchor="middle" fill="#231f20" stroke="#231f20" stroke-width="0.14" textLength="50.8" lengthAdjust="spacingAndGlyphs" transform="rotate(-90 147.30 395.00)" >Total tumor GFP</text>
<text x="155.95" y="395.00" font-size="7.2" text-anchor="middle" fill="#231f20" stroke="#231f20" stroke-width="0.14" textLength="63.7" lengthAdjust="spacingAndGlyphs" transform="rotate(-90 155.95 395.00)" >fluorescence at 72hr</text>
<text x="164.60" y="395.00" font-size="7.2" text-anchor="middle" fill="#231f20" stroke="#231f20" stroke-width="0.14" textLength="39.4" lengthAdjust="spacingAndGlyphs" transform="rotate(-90 164.60 395.00)" >(normalized)</text>
<line x1="55.20" y1="433.50" x2="62.00" y2="433.50" stroke="#e8962f" stroke-width="1.0" />
<circle cx="58.60" cy="433.50" r="1.8" fill="#e8962f"/>
<text x="65.90" y="435.40" font-size="6.2" text-anchor="start" fill="#231f20" stroke="#231f20" stroke-width="0.12" textLength="46" lengthAdjust="spacingAndGlyphs" >Mock + dasatinib</text>
<line x1="55.20" y1="444.00" x2="62.00" y2="444.00" stroke="#3d5a86" stroke-width="1.0" />
<circle cx="58.60" cy="444.00" r="1.8" fill="#3d5a86"/>
<text x="65.90" y="445.90" font-size="6.2" text-anchor="start" fill="#231f20" stroke="#231f20" stroke-width="0.12" textLength="20.5" lengthAdjust="spacingAndGlyphs" >Vehicle</text>
<line x1="156.60" y1="434.00" x2="163.40" y2="434.00" stroke="#ad2b37" stroke-width="1.0" />
<circle cx="160.00" cy="434.00" r="1.8" fill="#ad2b37"/>
<text x="167.30" y="435.90" font-size="6.2" text-anchor="start" fill="#231f20" stroke="#231f20" stroke-width="0.12" textLength="42" lengthAdjust="spacingAndGlyphs" >10nM dasatinib</text>
<line x1="156.60" y1="444.20" x2="163.40" y2="444.20" stroke="#6fa9dc" stroke-width="1.0" />
<circle cx="160.00" cy="444.20" r="1.8" fill="#6fa9dc"/>
<text x="167.30" y="446.10" font-size="6.2" text-anchor="start" fill="#231f20" stroke="#231f20" stroke-width="0.12" textLength="45" lengthAdjust="spacingAndGlyphs" >100nM dasatinib</text>
<line x1="156.60" y1="454.60" x2="163.40" y2="454.60" stroke="#66ad47" stroke-width="1.0" />
<circle cx="160.00" cy="454.60" r="1.8" fill="#66ad47"/>
<text x="167.30" y="456.50" font-size="6.2" text-anchor="start" fill="#231f20" stroke="#231f20" stroke-width="0.12" textLength="47.4" lengthAdjust="spacingAndGlyphs" >1000nM dasatinib</text>
<text x="261.00" y="174.90" font-size="11" text-anchor="start" fill="#231f20" stroke="#231f20" stroke-width="0.14" textLength="5.8" lengthAdjust="spacingAndGlyphs" >E</text>
<text x="332.00" y="176.40" font-size="6.6" text-anchor="middle" fill="#231f20" stroke="#231f20" stroke-width="0.14" textLength="26.0" lengthAdjust="spacingAndGlyphs" >CD19.28ζ</text>
<text x="428.60" y="176.40" font-size="6.6" text-anchor="middle" fill="#231f20" stroke="#231f20" stroke-width="0.14" textLength="26.5" lengthAdjust="spacingAndGlyphs" >CD19.BBζ</text>
<line x1="304.30" y1="243.00" x2="360.60" y2="243.00" stroke="#111" stroke-width="0.9" />
<line x1="304.30" y1="243.45" x2="304.30" y2="187.40" stroke="#111" stroke-width="0.9" />
<line x1="301.10" y1="243.00" x2="304.30" y2="243.00" stroke="#111" stroke-width="0.7" />
<text x="298.30" y="245.02" font-size="5.6" text-anchor="end" fill="#231f20" stroke="#231f20" stroke-width="0.14" >0</text>
<line x1="301.10" y1="229.80" x2="304.30" y2="229.80" stroke="#111" stroke-width="0.7" />
<text x="298.30" y="231.82" font-size="5.6" text-anchor="end" fill="#231f20" stroke="#231f20" stroke-width="0.14" >1</text>
<line x1="301.10" y1="216.60" x2="304.30" y2="216.60" stroke="#111" stroke-width="0.7" />
<text x="298.30" y="218.62" font-size="5.6" text-anchor="end" fill="#231f20" stroke="#231f20" stroke-width="0.14" >2</text>
<line x1="301.10" y1="203.40" x2="304.30" y2="203.40" stroke="#111" stroke-width="0.7" />
<text x="298.30" y="205.42" font-size="5.6" text-anchor="end" fill="#231f20" stroke="#231f20" stroke-width="0.14" >3</text>
<line x1="301.10" y1="190.20" x2="304.30" y2="190.20" stroke="#111" stroke-width="0.7" />
<text x="298.30" y="192.22" font-size="5.6" text-anchor="end" fill="#231f20" stroke="#231f20" stroke-width="0.14" >4</text>
<line x1="304.30" y1="243.00" x2="304.30" y2="246.20" stroke="#111" stroke-width="0.7" />
<text x="304.30" y="255.20" font-size="5.6" text-anchor="middle" fill="#231f20" stroke="#231f20" stroke-width="0.14" >0</text>
<line x1="315.00" y1="243.00" x2="315.00" y2="246.20" stroke="#111" stroke-width="0.7" />
<text x="315.00" y="255.20" font-size="5.6" text-anchor="middle" fill="#231f20" stroke="#231f20" stroke-width="0.14" >20</text>
<line x1="325.70" y1="243.00" x2="325.70" y2="246.20" stroke="#111" stroke-width="0.7" />
<text x="325.70" y="255.20" font-size="5.6" text-anchor="middle" fill="#231f20" stroke="#231f20" stroke-width="0.14" >40</text>
<line x1="336.40" y1="243.00" x2="336.40" y2="246.20" stroke="#111" stroke-width="0.7" />
<text x="336.40" y="255.20" font-size="5.6" text-anchor="middle" fill="#231f20" stroke="#231f20" stroke-width="0.14" >60</text>
<line x1="347.10" y1="243.00" x2="347.10" y2="246.20" stroke="#111" stroke-width="0.7" />
<text x="347.10" y="255.20" font-size="5.6" text-anchor="middle" fill="#231f20" stroke="#231f20" stroke-width="0.14" >80</text>
<line x1="357.80" y1="243.00" x2="357.80" y2="246.20" stroke="#111" stroke-width="0.7" />
<text x="357.80" y="255.20" font-size="5.6" text-anchor="middle" fill="#231f20" stroke="#231f20" stroke-width="0.14" >100</text>
<line x1="314.79" y1="189.70" x2="314.79" y2="243.00" stroke="#222" stroke-width="1.0" stroke-dasharray="2.8,1.8"/>
<text x="332.60" y="266.30" font-size="7.2" text-anchor="middle" fill="#231f20" stroke="#231f20" stroke-width="0.14" textLength="39" lengthAdjust="spacingAndGlyphs" >Time (hours)</text>
<text x="347.10" y="239.60" font-size="6.2" text-anchor="middle" fill="#231f20" stroke="#231f20" stroke-width="0.14" textLength="5.8" lengthAdjust="spacingAndGlyphs" >ns</text>
<path d="M304.3,229.8 L305.9,230.3 L307.5,231.8 L309.1,233.9 L310.7,236.4 L312.3,238.9 L313.9,241.2 L315.5,242.8 L317.1,243.0 L318.7,243.0 L320.4,243.0 L322.0,243.0 L323.6,243.0 L325.2,243.0 L326.8,243.0 L328.4,243.0 L330.0,243.0 L331.6,243.0 L333.2,243.0 L334.8,243.0 L336.4,243.0 L338.0,243.0 L339.6,243.0 L341.2,243.0 L342.8,243.0 L344.4,243.0 L346.0,243.0 L347.6,243.0 L349.2,243.0 L350.8,243.0 L352.5,243.0" fill="none" stroke="#3d5a86" stroke-width="0.75" stroke-linejoin="round"/>
<circle cx="304.30" cy="229.80" r="0.9" fill="#3d5a86"/>
<circle cx="305.91" cy="230.30" r="0.9" fill="#3d5a86"/>
<circle cx="307.51" cy="231.78" r="0.9" fill="#3d5a86"/>
<circle cx="309.12" cy="233.93" r="0.9" fill="#3d5a86"/>
<circle cx="310.72" cy="236.40" r="0.9" fill="#3d5a86"/>
<circle cx="312.32" cy="238.88" r="0.9" fill="#3d5a86"/>
<circle cx="313.93" cy="241.22" r="0.9" fill="#3d5a86"/>
<circle cx="315.54" cy="242.80" r="0.9" fill="#3d5a86"/>
<circle cx="317.14" cy="243.00" r="0.9" fill="#3d5a86"/>
<circle cx="318.75" cy="243.00" r="0.9" fill="#3d5a86"/>
<circle cx="320.35" cy="243.00" r="0.9" fill="#3d5a86"/>
<circle cx="321.96" cy="243.00" r="0.9" fill="#3d5a86"/>
<circle cx="323.56" cy="243.00" r="0.9" fill="#3d5a86"/>
<circle cx="325.17" cy="243.00" r="0.9" fill="#3d5a86"/>
<circle cx="326.77" cy="243.00" r="0.9" fill="#3d5a86"/>
<circle cx="328.38" cy="243.00" r="0.9" fill="#3d5a86"/>
<circle cx="329.98" cy="243.00" r="0.9" fill="#3d5a86"/>
<circle cx="331.59" cy="243.00" r="0.9" fill="#3d5a86"/>
<circle cx="333.19" cy="243.00" r="0.9" fill="#3d5a86"/>
<circle cx="334.80" cy="243.00" r="0.9" fill="#3d5a86"/>
<circle cx="336.40" cy="243.00" r="0.9" fill="#3d5a86"/>
<circle cx="338.00" cy="243.00" r="0.9" fill="#3d5a86"/>
<circle cx="339.61" cy="243.00" r="0.9" fill="#3d5a86"/>
<circle cx="341.22" cy="243.00" r="0.9" fill="#3d5a86"/>
<circle cx="342.82" cy="243.00" r="0.9" fill="#3d5a86"/>
<circle cx="344.43" cy="243.00" r="0.9" fill="#3d5a86"/>
<circle cx="346.03" cy="243.00" r="0.9" fill="#3d5a86"/>
<circle cx="347.63" cy="243.00" r="0.9" fill="#3d5a86"/>
<circle cx="349.24" cy="243.00" r="0.9" fill="#3d5a86"/>
<circle cx="350.85" cy="243.00" r="0.9" fill="#3d5a86"/>
<circle cx="352.45" cy="243.00" r="0.9" fill="#3d5a86"/>
<path d="M304.3,229.1 L305.9,228.6 L307.5,228.2 L309.1,227.6 L310.7,226.8 L312.3,226.1 L313.9,225.1 L315.5,227.2 L317.1,227.2 L318.7,227.2 L320.4,227.7 L322.0,228.8 L323.6,230.5 L325.2,232.4 L326.8,234.1 L328.4,235.6 L330.0,237.1 L331.6,238.2 L333.2,239.3 L334.8,240.2 L336.4,240.9 L338.0,241.3 L339.6,241.5 L341.2,241.6 L342.8,241.7 L344.4,241.8 L346.0,241.9 L347.6,241.9 L349.2,241.9 L350.8,241.9 L352.5,241.9" fill="none" stroke="#66ad47" stroke-width="0.9" stroke-linejoin="round"/>
<rect x="303.40" y="228.24" width="1.80" height="1.80" fill="#66ad47" />
<rect x="305.01" y="227.75" width="1.80" height="1.80" fill="#66ad47" />
<rect x="306.61" y="227.25" width="1.80" height="1.80" fill="#66ad47" />
<rect x="308.22" y="226.67" width="1.80" height="1.80" fill="#66ad47" />
<rect x="309.82" y="225.93" width="1.80" height="1.80" fill="#66ad47" />
<rect x="311.43" y="225.19" width="1.80" height="1.80" fill="#66ad47" />
<rect x="313.03" y="224.24" width="1.80" height="1.80" fill="#66ad47" />
<rect x="314.64" y="226.26" width="1.80" height="1.80" fill="#66ad47" />
<rect x="316.24" y="226.26" width="1.80" height="1.80" fill="#66ad47" />
<rect x="317.85" y="226.26" width="1.80" height="1.80" fill="#66ad47" />
<rect x="319.45" y="226.79" width="1.80" height="1.80" fill="#66ad47" />
<rect x="321.06" y="227.88" width="1.80" height="1.80" fill="#66ad47" />
<rect x="322.66" y="229.56" width="1.80" height="1.80" fill="#66ad47" />
<rect x="324.27" y="231.54" width="1.80" height="1.80" fill="#66ad47" />
<rect x="325.87" y="233.19" width="1.80" height="1.80" fill="#66ad47" />
<rect x="327.48" y="234.67" width="1.80" height="1.80" fill="#66ad47" />
<rect x="329.08" y="236.16" width="1.80" height="1.80" fill="#66ad47" />
<rect x="330.69" y="237.35" width="1.80" height="1.80" fill="#66ad47" />
<rect x="332.29" y="238.40" width="1.80" height="1.80" fill="#66ad47" />
<rect x="333.90" y="239.29" width="1.80" height="1.80" fill="#66ad47" />
<rect x="335.50" y="239.99" width="1.80" height="1.80" fill="#66ad47" />
<rect x="337.11" y="240.38" width="1.80" height="1.80" fill="#66ad47" />
<rect x="338.71" y="240.60" width="1.80" height="1.80" fill="#66ad47" />
<rect x="340.32" y="240.74" width="1.80" height="1.80" fill="#66ad47" />
<rect x="341.92" y="240.83" width="1.80" height="1.80" fill="#66ad47" />
<rect x="343.53" y="240.91" width="1.80" height="1.80" fill="#66ad47" />
<rect x="345.13" y="240.99" width="1.80" height="1.80" fill="#66ad47" />
<rect x="346.74" y="241.04" width="1.80" height="1.80" fill="#66ad47" />
<rect x="348.34" y="241.04" width="1.80" height="1.80" fill="#66ad47" />
<rect x="349.95" y="241.04" width="1.80" height="1.80" fill="#66ad47" />
<rect x="351.55" y="241.04" width="1.80" height="1.80" fill="#66ad47" />
<line x1="304.30" y1="228.08" x2="304.30" y2="230.20" stroke="#ad2b37" stroke-width="0.55" />
<line x1="303.40" y1="228.08" x2="305.20" y2="228.08" stroke="#ad2b37" stroke-width="0.5" />
<line x1="303.40" y1="230.20" x2="305.20" y2="230.20" stroke="#ad2b37" stroke-width="0.5" />
<line x1="305.91" y1="227.76" x2="305.91" y2="230.03" stroke="#ad2b37" stroke-width="0.55" />
<line x1="305.01" y1="227.76" x2="306.81" y2="227.76" stroke="#ad2b37" stroke-width="0.5" />
<line x1="305.01" y1="230.03" x2="306.81" y2="230.03" stroke="#ad2b37" stroke-width="0.5" />
<line x1="307.51" y1="227.43" x2="307.51" y2="229.86" stroke="#ad2b37" stroke-width="0.55" />
<line x1="306.61" y1="227.43" x2="308.41" y2="227.43" stroke="#ad2b37" stroke-width="0.5" />
<line x1="306.61" y1="229.86" x2="308.41" y2="229.86" stroke="#ad2b37" stroke-width="0.5" />
<line x1="309.12" y1="227.02" x2="309.12" y2="229.61" stroke="#ad2b37" stroke-width="0.55" />
<line x1="308.22" y1="227.02" x2="310.01" y2="227.02" stroke="#ad2b37" stroke-width="0.5" />
<line x1="308.22" y1="229.61" x2="310.01" y2="229.61" stroke="#ad2b37" stroke-width="0.5" />
<line x1="310.72" y1="226.45" x2="310.72" y2="229.19" stroke="#ad2b37" stroke-width="0.55" />
<line x1="309.82" y1="226.45" x2="311.62" y2="226.45" stroke="#ad2b37" stroke-width="0.5" />
<line x1="309.82" y1="229.19" x2="311.62" y2="229.19" stroke="#ad2b37" stroke-width="0.5" />
<line x1="312.32" y1="225.87" x2="312.32" y2="228.78" stroke="#ad2b37" stroke-width="0.55" />
<line x1="311.43" y1="225.87" x2="313.22" y2="225.87" stroke="#ad2b37" stroke-width="0.5" />
<line x1="311.43" y1="228.78" x2="313.22" y2="228.78" stroke="#ad2b37" stroke-width="0.5" />
<line x1="313.93" y1="225.63" x2="313.93" y2="228.69" stroke="#ad2b37" stroke-width="0.55" />
<line x1="313.03" y1="225.63" x2="314.83" y2="225.63" stroke="#ad2b37" stroke-width="0.5" />
<line x1="313.03" y1="228.69" x2="314.83" y2="228.69" stroke="#ad2b37" stroke-width="0.5" />
<line x1="315.54" y1="225.21" x2="315.54" y2="228.43" stroke="#ad2b37" stroke-width="0.55" />
<line x1="314.64" y1="225.21" x2="316.44" y2="225.21" stroke="#ad2b37" stroke-width="0.5" />
<line x1="314.64" y1="228.43" x2="316.44" y2="228.43" stroke="#ad2b37" stroke-width="0.5" />
<line x1="317.14" y1="224.10" x2="317.14" y2="227.48" stroke="#ad2b37" stroke-width="0.55" />
<line x1="316.24" y1="224.10" x2="318.04" y2="224.10" stroke="#ad2b37" stroke-width="0.5" />
<line x1="316.24" y1="227.48" x2="318.04" y2="227.48" stroke="#ad2b37" stroke-width="0.5" />
<line x1="318.75" y1="222.99" x2="318.75" y2="226.53" stroke="#ad2b37" stroke-width="0.55" />
<line x1="317.85" y1="222.99" x2="319.64" y2="222.99" stroke="#ad2b37" stroke-width="0.5" />
<line x1="317.85" y1="226.53" x2="319.64" y2="226.53" stroke="#ad2b37" stroke-width="0.5" />
<line x1="320.35" y1="221.88" x2="320.35" y2="225.58" stroke="#ad2b37" stroke-width="0.55" />
<line x1="319.45" y1="221.88" x2="321.25" y2="221.88" stroke="#ad2b37" stroke-width="0.5" />
<line x1="319.45" y1="225.58" x2="321.25" y2="225.58" stroke="#ad2b37" stroke-width="0.5" />
<line x1="321.96" y1="220.02" x2="321.96" y2="223.87" stroke="#ad2b37" stroke-width="0.55" />
<line x1="321.06" y1="220.02" x2="322.86" y2="220.02" stroke="#ad2b37" stroke-width="0.5" />
<line x1="321.06" y1="223.87" x2="322.86" y2="223.87" stroke="#ad2b37" stroke-width="0.5" />
<line x1="323.56" y1="218.16" x2="323.56" y2="222.17" stroke="#ad2b37" stroke-width="0.55" />
<line x1="322.66" y1="218.16" x2="324.46" y2="218.16" stroke="#ad2b37" stroke-width="0.5" />
<line x1="322.66" y1="222.17" x2="324.46" y2="222.17" stroke="#ad2b37" stroke-width="0.5" />
<line x1="325.17" y1="216.30" x2="325.17" y2="220.47" stroke="#ad2b37" stroke-width="0.55" />
<line x1="324.27" y1="216.30" x2="326.06" y2="216.30" stroke="#ad2b37" stroke-width="0.5" />
<line x1="324.27" y1="220.47" x2="326.06" y2="220.47" stroke="#ad2b37" stroke-width="0.5" />
<line x1="326.77" y1="214.28" x2="326.77" y2="218.61" stroke="#ad2b37" stroke-width="0.55" />
<line x1="325.87" y1="214.28" x2="327.67" y2="214.28" stroke="#ad2b37" stroke-width="0.5" />
<line x1="325.87" y1="218.61" x2="327.67" y2="218.61" stroke="#ad2b37" stroke-width="0.5" />
<line x1="328.38" y1="212.18" x2="328.38" y2="216.67" stroke="#ad2b37" stroke-width="0.55" />
<line x1="327.48" y1="212.18" x2="329.27" y2="212.18" stroke="#ad2b37" stroke-width="0.5" />
<line x1="327.48" y1="216.67" x2="329.27" y2="216.67" stroke="#ad2b37" stroke-width="0.5" />
<line x1="329.98" y1="210.08" x2="329.98" y2="214.73" stroke="#ad2b37" stroke-width="0.55" />
<line x1="329.08" y1="210.08" x2="330.88" y2="210.08" stroke="#ad2b37" stroke-width="0.5" />
<line x1="329.08" y1="214.73" x2="330.88" y2="214.73" stroke="#ad2b37" stroke-width="0.5" />
<line x1="331.59" y1="207.72" x2="331.59" y2="212.52" stroke="#ad2b37" stroke-width="0.55" />
<line x1="330.69" y1="207.72" x2="332.49" y2="207.72" stroke="#ad2b37" stroke-width="0.5" />
<line x1="330.69" y1="212.52" x2="332.49" y2="212.52" stroke="#ad2b37" stroke-width="0.5" />
<line x1="333.19" y1="204.83" x2="333.19" y2="209.79" stroke="#ad2b37" stroke-width="0.55" />
<line x1="332.29" y1="204.83" x2="334.09" y2="204.83" stroke="#ad2b37" stroke-width="0.5" />
<line x1="332.29" y1="209.79" x2="334.09" y2="209.79" stroke="#ad2b37" stroke-width="0.5" />
<line x1="334.80" y1="201.93" x2="334.80" y2="207.06" stroke="#ad2b37" stroke-width="0.55" />
<line x1="333.90" y1="201.93" x2="335.69" y2="201.93" stroke="#ad2b37" stroke-width="0.5" />
<line x1="333.90" y1="207.06" x2="335.69" y2="207.06" stroke="#ad2b37" stroke-width="0.5" />
<line x1="336.40" y1="199.04" x2="336.40" y2="204.32" stroke="#ad2b37" stroke-width="0.55" />
<line x1="335.50" y1="199.04" x2="337.30" y2="199.04" stroke="#ad2b37" stroke-width="0.5" />
<line x1="335.50" y1="204.32" x2="337.30" y2="204.32" stroke="#ad2b37" stroke-width="0.5" />
<line x1="338.00" y1="195.72" x2="338.00" y2="201.16" stroke="#ad2b37" stroke-width="0.55" />
<line x1="337.11" y1="195.72" x2="338.90" y2="195.72" stroke="#ad2b37" stroke-width="0.5" />
<line x1="337.11" y1="201.16" x2="338.90" y2="201.16" stroke="#ad2b37" stroke-width="0.5" />
<line x1="339.61" y1="192.39" x2="339.61" y2="197.99" stroke="#ad2b37" stroke-width="0.55" />
<line x1="338.71" y1="192.39" x2="340.51" y2="192.39" stroke="#ad2b37" stroke-width="0.5" />
<line x1="338.71" y1="197.99" x2="340.51" y2="197.99" stroke="#ad2b37" stroke-width="0.5" />
<line x1="341.22" y1="189.06" x2="341.22" y2="194.82" stroke="#ad2b37" stroke-width="0.55" />
<line x1="340.32" y1="189.06" x2="342.12" y2="189.06" stroke="#ad2b37" stroke-width="0.5" />
<line x1="340.32" y1="194.82" x2="342.12" y2="194.82" stroke="#ad2b37" stroke-width="0.5" />
<path d="M304.3,229.1 L305.9,228.9 L307.5,228.6 L309.1,228.3 L310.7,227.8 L312.3,227.3 L313.9,227.2 L315.5,226.8 L317.1,225.8 L318.7,224.8 L320.4,223.7 L322.0,221.9 L323.6,220.2 L325.2,218.4 L326.8,216.4 L328.4,214.4 L330.0,212.4 L331.6,210.1 L333.2,207.3 L334.8,204.5 L336.4,201.7 L338.0,198.4 L339.6,195.2 L341.2,191.9" fill="none" stroke="#ad2b37" stroke-width="0.8" stroke-linejoin="round"/>
<line x1="303.40" y1="228.24" x2="305.20" y2="230.04" stroke="#ad2b37" stroke-width="0.6" />
<line x1="303.40" y1="230.04" x2="305.20" y2="228.24" stroke="#ad2b37" stroke-width="0.6" />
<line x1="305.01" y1="227.99" x2="306.81" y2="229.79" stroke="#ad2b37" stroke-width="0.6" />
<line x1="305.01" y1="229.79" x2="306.81" y2="227.99" stroke="#ad2b37" stroke-width="0.6" />
<line x1="306.61" y1="227.75" x2="308.41" y2="229.55" stroke="#ad2b37" stroke-width="0.6" />
<line x1="306.61" y1="229.55" x2="308.41" y2="227.75" stroke="#ad2b37" stroke-width="0.6" />
<line x1="308.22" y1="227.41" x2="310.01" y2="229.22" stroke="#ad2b37" stroke-width="0.6" />
<line x1="308.22" y1="229.22" x2="310.01" y2="227.41" stroke="#ad2b37" stroke-width="0.6" />
<line x1="309.82" y1="226.92" x2="311.62" y2="228.72" stroke="#ad2b37" stroke-width="0.6" />
<line x1="309.82" y1="228.72" x2="311.62" y2="226.92" stroke="#ad2b37" stroke-width="0.6" />
<line x1="311.43" y1="226.42" x2="313.22" y2="228.22" stroke="#ad2b37" stroke-width="0.6" />
<line x1="311.43" y1="228.22" x2="313.22" y2="226.42" stroke="#ad2b37" stroke-width="0.6" />
<line x1="313.03" y1="226.26" x2="314.83" y2="228.06" stroke="#ad2b37" stroke-width="0.6" />
<line x1="313.03" y1="228.06" x2="314.83" y2="226.26" stroke="#ad2b37" stroke-width="0.6" />
<line x1="314.64" y1="225.92" x2="316.44" y2="227.72" stroke="#ad2b37" stroke-width="0.6" />
<line x1="314.64" y1="227.72" x2="316.44" y2="225.92" stroke="#ad2b37" stroke-width="0.6" />
<line x1="316.24" y1="224.89" x2="318.04" y2="226.69" stroke="#ad2b37" stroke-width="0.6" />
<line x1="316.24" y1="226.69" x2="318.04" y2="224.89" stroke="#ad2b37" stroke-width="0.6" />
<line x1="317.85" y1="223.86" x2="319.64" y2="225.66" stroke="#ad2b37" stroke-width="0.6" />
<line x1="317.85" y1="225.66" x2="319.64" y2="223.86" stroke="#ad2b37" stroke-width="0.6" />
<line x1="319.45" y1="222.83" x2="321.25" y2="224.63" stroke="#ad2b37" stroke-width="0.6" />
<line x1="319.45" y1="224.63" x2="321.25" y2="222.83" stroke="#ad2b37" stroke-width="0.6" />
<line x1="321.06" y1="221.05" x2="322.86" y2="222.85" stroke="#ad2b37" stroke-width="0.6" />
<line x1="321.06" y1="222.85" x2="322.86" y2="221.05" stroke="#ad2b37" stroke-width="0.6" />
<line x1="322.66" y1="219.26" x2="324.46" y2="221.06" stroke="#ad2b37" stroke-width="0.6" />
<line x1="322.66" y1="221.06" x2="324.46" y2="219.26" stroke="#ad2b37" stroke-width="0.6" />
<line x1="324.27" y1="217.48" x2="326.06" y2="219.28" stroke="#ad2b37" stroke-width="0.6" />
<line x1="324.27" y1="219.28" x2="326.06" y2="217.48" stroke="#ad2b37" stroke-width="0.6" />
<line x1="325.87" y1="215.54" x2="327.67" y2="217.34" stroke="#ad2b37" stroke-width="0.6" />
<line x1="325.87" y1="217.34" x2="327.67" y2="215.54" stroke="#ad2b37" stroke-width="0.6" />
<line x1="327.48" y1="213.52" x2="329.27" y2="215.32" stroke="#ad2b37" stroke-width="0.6" />
<line x1="327.48" y1="215.32" x2="329.27" y2="213.52" stroke="#ad2b37" stroke-width="0.6" />
<line x1="329.08" y1="211.50" x2="330.88" y2="213.30" stroke="#ad2b37" stroke-width="0.6" />
<line x1="329.08" y1="213.30" x2="330.88" y2="211.50" stroke="#ad2b37" stroke-width="0.6" />
<line x1="330.69" y1="209.22" x2="332.49" y2="211.02" stroke="#ad2b37" stroke-width="0.6" />
<line x1="330.69" y1="211.02" x2="332.49" y2="209.22" stroke="#ad2b37" stroke-width="0.6" />
<line x1="332.29" y1="206.41" x2="334.09" y2="208.21" stroke="#ad2b37" stroke-width="0.6" />
<line x1="332.29" y1="208.21" x2="334.09" y2="206.41" stroke="#ad2b37" stroke-width="0.6" />
<line x1="333.90" y1="203.60" x2="335.69" y2="205.40" stroke="#ad2b37" stroke-width="0.6" />
<line x1="333.90" y1="205.40" x2="335.69" y2="203.60" stroke="#ad2b37" stroke-width="0.6" />
<line x1="335.50" y1="200.78" x2="337.30" y2="202.58" stroke="#ad2b37" stroke-width="0.6" />
<line x1="335.50" y1="202.58" x2="337.30" y2="200.78" stroke="#ad2b37" stroke-width="0.6" />
<line x1="337.11" y1="197.54" x2="338.90" y2="199.34" stroke="#ad2b37" stroke-width="0.6" />
<line x1="337.11" y1="199.34" x2="338.90" y2="197.54" stroke="#ad2b37" stroke-width="0.6" />
<line x1="338.71" y1="194.29" x2="340.51" y2="196.09" stroke="#ad2b37" stroke-width="0.6" />
<line x1="338.71" y1="196.09" x2="340.51" y2="194.29" stroke="#ad2b37" stroke-width="0.6" />
<line x1="340.32" y1="191.04" x2="342.12" y2="192.84" stroke="#ad2b37" stroke-width="0.6" />
<line x1="340.32" y1="192.84" x2="342.12" y2="191.04" stroke="#ad2b37" stroke-width="0.6" />
<text x="280.90" y="215.30" font-size="7.2" text-anchor="middle" fill="#231f20" stroke="#231f20" stroke-width="0.14" textLength="50.7" lengthAdjust="spacingAndGlyphs" transform="rotate(-90 280.90 215.30)" >Total tumor GFP</text>
<text x="289.30" y="215.30" font-size="7.2" text-anchor="middle" fill="#231f20" stroke="#231f20" stroke-width="0.14" textLength="80" lengthAdjust="spacingAndGlyphs" transform="rotate(-90 289.30 215.30)" >fluorescence (normalized)</text>
<line x1="400.20" y1="243.00" x2="456.50" y2="243.00" stroke="#111" stroke-width="0.9" />
<line x1="400.20" y1="243.45" x2="400.20" y2="187.40" stroke="#111" stroke-width="0.9" />
<line x1="397.00" y1="243.00" x2="400.20" y2="243.00" stroke="#111" stroke-width="0.7" />
<text x="394.20" y="245.02" font-size="5.6" text-anchor="end" fill="#231f20" stroke="#231f20" stroke-width="0.14" >0</text>
<line x1="397.00" y1="229.80" x2="400.20" y2="229.80" stroke="#111" stroke-width="0.7" />
<text x="394.20" y="231.82" font-size="5.6" text-anchor="end" fill="#231f20" stroke="#231f20" stroke-width="0.14" >1</text>
<line x1="397.00" y1="216.60" x2="400.20" y2="216.60" stroke="#111" stroke-width="0.7" />
<text x="394.20" y="218.62" font-size="5.6" text-anchor="end" fill="#231f20" stroke="#231f20" stroke-width="0.14" >2</text>
<line x1="397.00" y1="203.40" x2="400.20" y2="203.40" stroke="#111" stroke-width="0.7" />
<text x="394.20" y="205.42" font-size="5.6" text-anchor="end" fill="#231f20" stroke="#231f20" stroke-width="0.14" >3</text>
<line x1="397.00" y1="190.20" x2="400.20" y2="190.20" stroke="#111" stroke-width="0.7" />
<text x="394.20" y="192.22" font-size="5.6" text-anchor="end" fill="#231f20" stroke="#231f20" stroke-width="0.14" >4</text>
<line x1="400.20" y1="243.00" x2="400.20" y2="246.20" stroke="#111" stroke-width="0.7" />
<text x="400.20" y="255.20" font-size="5.6" text-anchor="middle" fill="#231f20" stroke="#231f20" stroke-width="0.14" >0</text>
<line x1="410.90" y1="243.00" x2="410.90" y2="246.20" stroke="#111" stroke-width="0.7" />
<text x="410.90" y="255.20" font-size="5.6" text-anchor="middle" fill="#231f20" stroke="#231f20" stroke-width="0.14" >20</text>
<line x1="421.60" y1="243.00" x2="421.60" y2="246.20" stroke="#111" stroke-width="0.7" />
<text x="421.60" y="255.20" font-size="5.6" text-anchor="middle" fill="#231f20" stroke="#231f20" stroke-width="0.14" >40</text>
<line x1="432.30" y1="243.00" x2="432.30" y2="246.20" stroke="#111" stroke-width="0.7" />
<text x="432.30" y="255.20" font-size="5.6" text-anchor="middle" fill="#231f20" stroke="#231f20" stroke-width="0.14" >60</text>
<line x1="443.00" y1="243.00" x2="443.00" y2="246.20" stroke="#111" stroke-width="0.7" />
<text x="443.00" y="255.20" font-size="5.6" text-anchor="middle" fill="#231f20" stroke="#231f20" stroke-width="0.14" >80</text>
<line x1="453.70" y1="243.00" x2="453.70" y2="246.20" stroke="#111" stroke-width="0.7" />
<text x="453.70" y="255.20" font-size="5.6" text-anchor="middle" fill="#231f20" stroke="#231f20" stroke-width="0.14" >100</text>
<line x1="410.69" y1="189.70" x2="410.69" y2="243.00" stroke="#222" stroke-width="1.0" stroke-dasharray="2.8,1.8"/>
<text x="428.50" y="266.30" font-size="7.2" text-anchor="middle" fill="#231f20" stroke="#231f20" stroke-width="0.14" textLength="39" lengthAdjust="spacingAndGlyphs" >Time (hours)</text>
<text x="445.68" y="239.60" font-size="6.2" text-anchor="middle" fill="#231f20" stroke="#231f20" stroke-width="0.14" textLength="5.8" lengthAdjust="spacingAndGlyphs" >ns</text>
<path d="M400.2,229.8 L401.8,230.0 L403.4,231.6 L405.0,234.1 L406.6,237.1 L408.2,239.5 L409.8,241.5 L411.4,242.8 L413.0,243.0 L414.6,243.0 L416.2,243.0 L417.9,243.0 L419.5,243.0 L421.1,243.0 L422.7,243.0 L424.3,243.0 L425.9,243.0 L427.5,243.0 L429.1,243.0 L430.7,243.0 L432.3,243.0 L433.9,243.0 L435.5,243.0 L437.1,243.0 L438.7,243.0 L440.3,243.0 L441.9,243.0 L443.5,243.0 L445.1,243.0 L446.7,243.0 L448.4,243.0" fill="none" stroke="#3d5a86" stroke-width="0.75" stroke-linejoin="round"/>
<circle cx="400.20" cy="229.80" r="0.9" fill="#3d5a86"/>
<circle cx="401.81" cy="230.00" r="0.9" fill="#3d5a86"/>
<circle cx="403.41" cy="231.58" r="0.9" fill="#3d5a86"/>
<circle cx="405.01" cy="234.09" r="0.9" fill="#3d5a86"/>
<circle cx="406.62" cy="237.06" r="0.9" fill="#3d5a86"/>
<circle cx="408.22" cy="239.53" r="0.9" fill="#3d5a86"/>
<circle cx="409.83" cy="241.55" r="0.9" fill="#3d5a86"/>
<circle cx="411.44" cy="242.80" r="0.9" fill="#3d5a86"/>
<circle cx="413.04" cy="243.00" r="0.9" fill="#3d5a86"/>
<circle cx="414.64" cy="243.00" r="0.9" fill="#3d5a86"/>
<circle cx="416.25" cy="243.00" r="0.9" fill="#3d5a86"/>
<circle cx="417.86" cy="243.00" r="0.9" fill="#3d5a86"/>
<circle cx="419.46" cy="243.00" r="0.9" fill="#3d5a86"/>
<circle cx="421.06" cy="243.00" r="0.9" fill="#3d5a86"/>
<circle cx="422.67" cy="243.00" r="0.9" fill="#3d5a86"/>
<circle cx="424.27" cy="243.00" r="0.9" fill="#3d5a86"/>
<circle cx="425.88" cy="243.00" r="0.9" fill="#3d5a86"/>
<circle cx="427.49" cy="243.00" r="0.9" fill="#3d5a86"/>
<circle cx="429.09" cy="243.00" r="0.9" fill="#3d5a86"/>
<circle cx="430.69" cy="243.00" r="0.9" fill="#3d5a86"/>
<circle cx="432.30" cy="243.00" r="0.9" fill="#3d5a86"/>
<circle cx="433.90" cy="243.00" r="0.9" fill="#3d5a86"/>
<circle cx="435.51" cy="243.00" r="0.9" fill="#3d5a86"/>
<circle cx="437.12" cy="243.00" r="0.9" fill="#3d5a86"/>
<circle cx="438.72" cy="243.00" r="0.9" fill="#3d5a86"/>
<circle cx="440.32" cy="243.00" r="0.9" fill="#3d5a86"/>
<circle cx="441.93" cy="243.00" r="0.9" fill="#3d5a86"/>
<circle cx="443.53" cy="243.00" r="0.9" fill="#3d5a86"/>
<circle cx="445.14" cy="243.00" r="0.9" fill="#3d5a86"/>
<circle cx="446.75" cy="243.00" r="0.9" fill="#3d5a86"/>
<circle cx="448.35" cy="243.00" r="0.9" fill="#3d5a86"/>
<path d="M400.2,228.5 L401.8,228.2 L403.4,228.0 L405.0,227.7 L406.6,227.2 L408.2,226.7 L409.8,226.2 L411.4,229.9 L413.0,230.1 L414.6,230.4 L416.2,230.8 L417.9,231.4 L419.5,232.4 L421.1,233.9 L422.7,235.3 L424.3,236.5 L425.9,237.5 L427.5,238.1 L429.1,238.7 L430.7,239.1 L432.3,239.4 L433.9,239.6 L435.5,239.8 L437.1,240.0 L438.7,240.1 L440.3,240.2 L441.9,240.3 L443.5,240.4 L445.1,240.4 L446.7,240.4 L448.4,240.4" fill="none" stroke="#66ad47" stroke-width="0.9" stroke-linejoin="round"/>
<rect x="399.30" y="227.58" width="1.80" height="1.80" fill="#66ad47" />
<rect x="400.91" y="227.33" width="1.80" height="1.80" fill="#66ad47" />
<rect x="402.51" y="227.09" width="1.80" height="1.80" fill="#66ad47" />
<rect x="404.12" y="226.75" width="1.80" height="1.80" fill="#66ad47" />
<rect x="405.72" y="226.26" width="1.80" height="1.80" fill="#66ad47" />
<rect x="407.32" y="225.76" width="1.80" height="1.80" fill="#66ad47" />
<rect x="408.93" y="225.34" width="1.80" height="1.80" fill="#66ad47" />
<rect x="410.54" y="228.97" width="1.80" height="1.80" fill="#66ad47" />
<rect x="412.14" y="229.16" width="1.80" height="1.80" fill="#66ad47" />
<rect x="413.75" y="229.46" width="1.80" height="1.80" fill="#66ad47" />
<rect x="415.35" y="229.89" width="1.80" height="1.80" fill="#66ad47" />
<rect x="416.96" y="230.55" width="1.80" height="1.80" fill="#66ad47" />
<rect x="418.56" y="231.54" width="1.80" height="1.80" fill="#66ad47" />
<rect x="420.17" y="233.03" width="1.80" height="1.80" fill="#66ad47" />
<rect x="421.77" y="234.38" width="1.80" height="1.80" fill="#66ad47" />
<rect x="423.38" y="235.57" width="1.80" height="1.80" fill="#66ad47" />
<rect x="424.98" y="236.56" width="1.80" height="1.80" fill="#66ad47" />
<rect x="426.59" y="237.25" width="1.80" height="1.80" fill="#66ad47" />
<rect x="428.19" y="237.81" width="1.80" height="1.80" fill="#66ad47" />
<rect x="429.80" y="238.24" width="1.80" height="1.80" fill="#66ad47" />
<rect x="431.40" y="238.54" width="1.80" height="1.80" fill="#66ad47" />
<rect x="433.00" y="238.73" width="1.80" height="1.80" fill="#66ad47" />
<rect x="434.61" y="238.93" width="1.80" height="1.80" fill="#66ad47" />
<rect x="436.22" y="239.13" width="1.80" height="1.80" fill="#66ad47" />
<rect x="437.82" y="239.25" width="1.80" height="1.80" fill="#66ad47" />
<rect x="439.43" y="239.33" width="1.80" height="1.80" fill="#66ad47" />
<rect x="441.03" y="239.41" width="1.80" height="1.80" fill="#66ad47" />
<rect x="442.63" y="239.46" width="1.80" height="1.80" fill="#66ad47" />
<rect x="444.24" y="239.46" width="1.80" height="1.80" fill="#66ad47" />
<rect x="445.85" y="239.46" width="1.80" height="1.80" fill="#66ad47" />
<rect x="447.45" y="239.46" width="1.80" height="1.80" fill="#66ad47" />
<line x1="413.04" y1="227.84" x2="413.04" y2="229.12" stroke="#ad2b37" stroke-width="0.55" />
<line x1="412.14" y1="227.84" x2="413.94" y2="227.84" stroke="#ad2b37" stroke-width="0.5" />
<line x1="412.14" y1="229.12" x2="413.94" y2="229.12" stroke="#ad2b37" stroke-width="0.5" />
<line x1="414.64" y1="227.79" x2="414.64" y2="229.17" stroke="#ad2b37" stroke-width="0.55" />
<line x1="413.75" y1="227.79" x2="415.54" y2="227.79" stroke="#ad2b37" stroke-width="0.5" />
<line x1="413.75" y1="229.17" x2="415.54" y2="229.17" stroke="#ad2b37" stroke-width="0.5" />
<line x1="416.25" y1="227.08" x2="416.25" y2="228.56" stroke="#ad2b37" stroke-width="0.55" />
<line x1="415.35" y1="227.08" x2="417.15" y2="227.08" stroke="#ad2b37" stroke-width="0.5" />
<line x1="415.35" y1="228.56" x2="417.15" y2="228.56" stroke="#ad2b37" stroke-width="0.5" />
<line x1="417.86" y1="225.88" x2="417.86" y2="227.45" stroke="#ad2b37" stroke-width="0.55" />
<line x1="416.96" y1="225.88" x2="418.75" y2="225.88" stroke="#ad2b37" stroke-width="0.5" />
<line x1="416.96" y1="227.45" x2="418.75" y2="227.45" stroke="#ad2b37" stroke-width="0.5" />
<line x1="419.46" y1="224.35" x2="419.46" y2="226.01" stroke="#ad2b37" stroke-width="0.55" />
<line x1="418.56" y1="224.35" x2="420.36" y2="224.35" stroke="#ad2b37" stroke-width="0.5" />
<line x1="418.56" y1="226.01" x2="420.36" y2="226.01" stroke="#ad2b37" stroke-width="0.5" />
<line x1="421.06" y1="222.81" x2="421.06" y2="224.58" stroke="#ad2b37" stroke-width="0.55" />
<line x1="420.17" y1="222.81" x2="421.96" y2="222.81" stroke="#ad2b37" stroke-width="0.5" />
<line x1="420.17" y1="224.58" x2="421.96" y2="224.58" stroke="#ad2b37" stroke-width="0.5" />
<line x1="422.67" y1="221.08" x2="422.67" y2="222.94" stroke="#ad2b37" stroke-width="0.55" />
<line x1="421.77" y1="221.08" x2="423.57" y2="221.08" stroke="#ad2b37" stroke-width="0.5" />
<line x1="421.77" y1="222.94" x2="423.57" y2="222.94" stroke="#ad2b37" stroke-width="0.5" />
<line x1="424.27" y1="219.29" x2="424.27" y2="221.24" stroke="#ad2b37" stroke-width="0.55" />
<line x1="423.38" y1="219.29" x2="425.17" y2="219.29" stroke="#ad2b37" stroke-width="0.5" />
<line x1="423.38" y1="221.24" x2="425.17" y2="221.24" stroke="#ad2b37" stroke-width="0.5" />
<line x1="425.88" y1="217.56" x2="425.88" y2="219.60" stroke="#ad2b37" stroke-width="0.55" />
<line x1="424.98" y1="217.56" x2="426.78" y2="217.56" stroke="#ad2b37" stroke-width="0.5" />
<line x1="424.98" y1="219.60" x2="426.78" y2="219.60" stroke="#ad2b37" stroke-width="0.5" />
<line x1="427.49" y1="215.53" x2="427.49" y2="217.67" stroke="#ad2b37" stroke-width="0.55" />
<line x1="426.59" y1="215.53" x2="428.38" y2="215.53" stroke="#ad2b37" stroke-width="0.5" />
<line x1="426.59" y1="217.67" x2="428.38" y2="217.67" stroke="#ad2b37" stroke-width="0.5" />
<line x1="429.09" y1="213.17" x2="429.09" y2="215.41" stroke="#ad2b37" stroke-width="0.55" />
<line x1="428.19" y1="213.17" x2="429.99" y2="213.17" stroke="#ad2b37" stroke-width="0.5" />
<line x1="428.19" y1="215.41" x2="429.99" y2="215.41" stroke="#ad2b37" stroke-width="0.5" />
<line x1="430.69" y1="210.65" x2="430.69" y2="212.98" stroke="#ad2b37" stroke-width="0.55" />
<line x1="429.80" y1="210.65" x2="431.59" y2="210.65" stroke="#ad2b37" stroke-width="0.5" />
<line x1="429.80" y1="212.98" x2="431.59" y2="212.98" stroke="#ad2b37" stroke-width="0.5" />
<line x1="432.30" y1="208.13" x2="432.30" y2="210.55" stroke="#ad2b37" stroke-width="0.55" />
<line x1="431.40" y1="208.13" x2="433.20" y2="208.13" stroke="#ad2b37" stroke-width="0.5" />
<line x1="431.40" y1="210.55" x2="433.20" y2="210.55" stroke="#ad2b37" stroke-width="0.5" />
<line x1="433.90" y1="205.11" x2="433.90" y2="207.63" stroke="#ad2b37" stroke-width="0.55" />
<line x1="433.00" y1="205.11" x2="434.80" y2="205.11" stroke="#ad2b37" stroke-width="0.5" />
<line x1="433.00" y1="207.63" x2="434.80" y2="207.63" stroke="#ad2b37" stroke-width="0.5" />
<line x1="435.51" y1="202.09" x2="435.51" y2="204.71" stroke="#ad2b37" stroke-width="0.55" />
<line x1="434.61" y1="202.09" x2="436.41" y2="202.09" stroke="#ad2b37" stroke-width="0.5" />
<line x1="434.61" y1="204.71" x2="436.41" y2="204.71" stroke="#ad2b37" stroke-width="0.5" />
<line x1="437.12" y1="199.07" x2="437.12" y2="201.79" stroke="#ad2b37" stroke-width="0.55" />
<line x1="436.22" y1="199.07" x2="438.01" y2="199.07" stroke="#ad2b37" stroke-width="0.5" />
<line x1="436.22" y1="201.79" x2="438.01" y2="201.79" stroke="#ad2b37" stroke-width="0.5" />
<line x1="438.72" y1="196.06" x2="438.72" y2="198.86" stroke="#ad2b37" stroke-width="0.55" />
<line x1="437.82" y1="196.06" x2="439.62" y2="196.06" stroke="#ad2b37" stroke-width="0.5" />
<line x1="437.82" y1="198.86" x2="439.62" y2="198.86" stroke="#ad2b37" stroke-width="0.5" />
<line x1="440.32" y1="193.04" x2="440.32" y2="195.94" stroke="#ad2b37" stroke-width="0.55" />
<line x1="439.43" y1="193.04" x2="441.22" y2="193.04" stroke="#ad2b37" stroke-width="0.5" />
<line x1="439.43" y1="195.94" x2="441.22" y2="195.94" stroke="#ad2b37" stroke-width="0.5" />
<line x1="441.93" y1="190.55" x2="441.93" y2="193.55" stroke="#ad2b37" stroke-width="0.55" />
<line x1="441.03" y1="190.55" x2="442.83" y2="190.55" stroke="#ad2b37" stroke-width="0.5" />
<line x1="441.03" y1="193.55" x2="442.83" y2="193.55" stroke="#ad2b37" stroke-width="0.5" />
<path d="M400.2,229.1 L401.8,228.9 L403.4,228.6 L405.0,228.3 L406.6,227.8 L408.2,227.3 L409.8,227.0 L411.4,228.5 L413.0,228.5 L414.6,228.5 L416.2,227.8 L417.9,226.7 L419.5,225.2 L421.1,223.7 L422.7,222.0 L424.3,220.3 L425.9,218.6 L427.5,216.6 L429.1,214.3 L430.7,211.8 L432.3,209.3 L433.9,206.4 L435.5,203.4 L437.1,200.4 L438.7,197.5 L440.3,194.5 L441.9,192.0" fill="none" stroke="#ad2b37" stroke-width="0.8" stroke-linejoin="round"/>
<circle cx="400.20" cy="229.14" r="0.9" fill="#ad2b37"/>
<circle cx="401.81" cy="228.89" r="0.9" fill="#ad2b37"/>
<circle cx="403.41" cy="228.65" r="0.9" fill="#ad2b37"/>
<circle cx="405.01" cy="228.31" r="0.9" fill="#ad2b37"/>
<circle cx="406.62" cy="227.82" r="0.9" fill="#ad2b37"/>
<circle cx="408.22" cy="227.32" r="0.9" fill="#ad2b37"/>
<circle cx="409.83" cy="226.98" r="0.9" fill="#ad2b37"/>
<circle cx="411.44" cy="228.48" r="0.9" fill="#ad2b37"/>
<circle cx="413.04" cy="228.48" r="0.9" fill="#ad2b37"/>
<circle cx="414.64" cy="228.48" r="0.9" fill="#ad2b37"/>
<circle cx="416.25" cy="227.82" r="0.9" fill="#ad2b37"/>
<circle cx="417.86" cy="226.66" r="0.9" fill="#ad2b37"/>
<circle cx="419.46" cy="225.18" r="0.9" fill="#ad2b37"/>
<circle cx="421.06" cy="223.69" r="0.9" fill="#ad2b37"/>
<circle cx="422.67" cy="222.01" r="0.9" fill="#ad2b37"/>
<circle cx="424.27" cy="220.26" r="0.9" fill="#ad2b37"/>
<circle cx="425.88" cy="218.58" r="0.9" fill="#ad2b37"/>
<circle cx="427.49" cy="216.60" r="0.9" fill="#ad2b37"/>
<circle cx="429.09" cy="214.29" r="0.9" fill="#ad2b37"/>
<circle cx="430.69" cy="211.81" r="0.9" fill="#ad2b37"/>
<circle cx="432.30" cy="209.34" r="0.9" fill="#ad2b37"/>
<circle cx="433.90" cy="206.37" r="0.9" fill="#ad2b37"/>
<circle cx="435.51" cy="203.40" r="0.9" fill="#ad2b37"/>
<circle cx="437.12" cy="200.43" r="0.9" fill="#ad2b37"/>
<circle cx="438.72" cy="197.46" r="0.9" fill="#ad2b37"/>
<circle cx="440.32" cy="194.49" r="0.9" fill="#ad2b37"/>
<circle cx="441.93" cy="192.05" r="0.9" fill="#ad2b37"/>
<text x="376.80" y="215.30" font-size="7.2" text-anchor="middle" fill="#231f20" stroke="#231f20" stroke-width="0.14" textLength="50.7" lengthAdjust="spacingAndGlyphs" transform="rotate(-90 376.80 215.30)" >Total tumor GFP</text>
<text x="385.20" y="215.30" font-size="7.2" text-anchor="middle" fill="#231f20" stroke="#231f20" stroke-width="0.14" textLength="80" lengthAdjust="spacingAndGlyphs" transform="rotate(-90 385.20 215.30)" >fluorescence (normalized)</text>
<line x1="304.30" y1="334.00" x2="360.60" y2="334.00" stroke="#111" stroke-width="0.9" />
<line x1="304.30" y1="334.45" x2="304.30" y2="278.00" stroke="#111" stroke-width="0.9" />
<line x1="301.10" y1="334.00" x2="304.30" y2="334.00" stroke="#111" stroke-width="0.7" />
<text x="298.30" y="336.02" font-size="5.6" text-anchor="end" fill="#231f20" stroke="#231f20" stroke-width="0.14" >0</text>
<line x1="301.10" y1="320.70" x2="304.30" y2="320.70" stroke="#111" stroke-width="0.7" />
<text x="298.30" y="322.72" font-size="5.6" text-anchor="end" fill="#231f20" stroke="#231f20" stroke-width="0.14" >1</text>
<line x1="301.10" y1="307.40" x2="304.30" y2="307.40" stroke="#111" stroke-width="0.7" />
<text x="298.30" y="309.42" font-size="5.6" text-anchor="end" fill="#231f20" stroke="#231f20" stroke-width="0.14" >2</text>
<line x1="301.10" y1="294.10" x2="304.30" y2="294.10" stroke="#111" stroke-width="0.7" />
<text x="298.30" y="296.12" font-size="5.6" text-anchor="end" fill="#231f20" stroke="#231f20" stroke-width="0.14" >3</text>
<line x1="301.10" y1="280.80" x2="304.30" y2="280.80" stroke="#111" stroke-width="0.7" />
<text x="298.30" y="282.82" font-size="5.6" text-anchor="end" fill="#231f20" stroke="#231f20" stroke-width="0.14" >4</text>
<line x1="304.30" y1="334.00" x2="304.30" y2="337.20" stroke="#111" stroke-width="0.7" />
<text x="304.30" y="346.20" font-size="5.6" text-anchor="middle" fill="#231f20" stroke="#231f20" stroke-width="0.14" >0</text>
<line x1="315.00" y1="334.00" x2="315.00" y2="337.20" stroke="#111" stroke-width="0.7" />
<text x="315.00" y="346.20" font-size="5.6" text-anchor="middle" fill="#231f20" stroke="#231f20" stroke-width="0.14" >20</text>
<line x1="325.70" y1="334.00" x2="325.70" y2="337.20" stroke="#111" stroke-width="0.7" />
<text x="325.70" y="346.20" font-size="5.6" text-anchor="middle" fill="#231f20" stroke="#231f20" stroke-width="0.14" >40</text>
<line x1="336.40" y1="334.00" x2="336.40" y2="337.20" stroke="#111" stroke-width="0.7" />
<text x="336.40" y="346.20" font-size="5.6" text-anchor="middle" fill="#231f20" stroke="#231f20" stroke-width="0.14" >60</text>
<line x1="347.10" y1="334.00" x2="347.10" y2="337.20" stroke="#111" stroke-width="0.7" />
<text x="347.10" y="346.20" font-size="5.6" text-anchor="middle" fill="#231f20" stroke="#231f20" stroke-width="0.14" >80</text>
<line x1="357.80" y1="334.00" x2="357.80" y2="337.20" stroke="#111" stroke-width="0.7" />
<text x="357.80" y="346.20" font-size="5.6" text-anchor="middle" fill="#231f20" stroke="#231f20" stroke-width="0.14" >100</text>
<line x1="314.79" y1="280.30" x2="314.79" y2="334.00" stroke="#222" stroke-width="1.0" stroke-dasharray="2.8,1.8"/>
<text x="332.60" y="357.30" font-size="7.2" text-anchor="middle" fill="#231f20" stroke="#231f20" stroke-width="0.14" textLength="39" lengthAdjust="spacingAndGlyphs" >Time (hours)</text>
<line x1="315.54" y1="324.47" x2="315.54" y2="326.37" stroke="#3d5a86" stroke-width="0.55" />
<line x1="314.64" y1="324.47" x2="316.44" y2="324.47" stroke="#3d5a86" stroke-width="0.5" />
<line x1="314.64" y1="326.37" x2="316.44" y2="326.37" stroke="#3d5a86" stroke-width="0.5" />
<line x1="317.14" y1="325.01" x2="317.14" y2="327.03" stroke="#3d5a86" stroke-width="0.55" />
<line x1="316.24" y1="325.01" x2="318.04" y2="325.01" stroke="#3d5a86" stroke-width="0.5" />
<line x1="316.24" y1="327.03" x2="318.04" y2="327.03" stroke="#3d5a86" stroke-width="0.5" />
<line x1="318.75" y1="325.12" x2="318.75" y2="327.27" stroke="#3d5a86" stroke-width="0.55" />
<line x1="317.85" y1="325.12" x2="319.64" y2="325.12" stroke="#3d5a86" stroke-width="0.5" />
<line x1="317.85" y1="327.27" x2="319.64" y2="327.27" stroke="#3d5a86" stroke-width="0.5" />
<line x1="320.35" y1="325.24" x2="320.35" y2="327.50" stroke="#3d5a86" stroke-width="0.55" />
<line x1="319.45" y1="325.24" x2="321.25" y2="325.24" stroke="#3d5a86" stroke-width="0.5" />
<line x1="319.45" y1="327.50" x2="321.25" y2="327.50" stroke="#3d5a86" stroke-width="0.5" />
<line x1="321.96" y1="325.35" x2="321.96" y2="327.73" stroke="#3d5a86" stroke-width="0.55" />
<line x1="321.06" y1="325.35" x2="322.86" y2="325.35" stroke="#3d5a86" stroke-width="0.5" />
<line x1="321.06" y1="327.73" x2="322.86" y2="327.73" stroke="#3d5a86" stroke-width="0.5" />
<line x1="323.56" y1="325.47" x2="323.56" y2="327.97" stroke="#3d5a86" stroke-width="0.55" />
<line x1="322.66" y1="325.47" x2="324.46" y2="325.47" stroke="#3d5a86" stroke-width="0.5" />
<line x1="322.66" y1="327.97" x2="324.46" y2="327.97" stroke="#3d5a86" stroke-width="0.5" />
<line x1="325.17" y1="325.58" x2="325.17" y2="328.20" stroke="#3d5a86" stroke-width="0.55" />
<line x1="324.27" y1="325.58" x2="326.06" y2="325.58" stroke="#3d5a86" stroke-width="0.5" />
<line x1="324.27" y1="328.20" x2="326.06" y2="328.20" stroke="#3d5a86" stroke-width="0.5" />
<line x1="326.77" y1="325.82" x2="326.77" y2="328.56" stroke="#3d5a86" stroke-width="0.55" />
<line x1="325.87" y1="325.82" x2="327.67" y2="325.82" stroke="#3d5a86" stroke-width="0.5" />
<line x1="325.87" y1="328.56" x2="327.67" y2="328.56" stroke="#3d5a86" stroke-width="0.5" />
<line x1="328.38" y1="326.12" x2="328.38" y2="328.98" stroke="#3d5a86" stroke-width="0.55" />
<line x1="327.48" y1="326.12" x2="329.27" y2="326.12" stroke="#3d5a86" stroke-width="0.5" />
<line x1="327.48" y1="328.98" x2="329.27" y2="328.98" stroke="#3d5a86" stroke-width="0.5" />
<line x1="329.98" y1="326.42" x2="329.98" y2="329.40" stroke="#3d5a86" stroke-width="0.55" />
<line x1="329.08" y1="326.42" x2="330.88" y2="326.42" stroke="#3d5a86" stroke-width="0.5" />
<line x1="329.08" y1="329.40" x2="330.88" y2="329.40" stroke="#3d5a86" stroke-width="0.5" />
<line x1="331.59" y1="326.72" x2="331.59" y2="329.82" stroke="#3d5a86" stroke-width="0.55" />
<line x1="330.69" y1="326.72" x2="332.49" y2="326.72" stroke="#3d5a86" stroke-width="0.5" />
<line x1="330.69" y1="329.82" x2="332.49" y2="329.82" stroke="#3d5a86" stroke-width="0.5" />
<line x1="333.19" y1="327.02" x2="333.19" y2="330.24" stroke="#3d5a86" stroke-width="0.55" />
<line x1="332.29" y1="327.02" x2="334.09" y2="327.02" stroke="#3d5a86" stroke-width="0.5" />
<line x1="332.29" y1="330.24" x2="334.09" y2="330.24" stroke="#3d5a86" stroke-width="0.5" />
<line x1="334.80" y1="327.32" x2="334.80" y2="330.66" stroke="#3d5a86" stroke-width="0.55" />
<line x1="333.90" y1="327.32" x2="335.69" y2="327.32" stroke="#3d5a86" stroke-width="0.5" />
<line x1="333.90" y1="330.66" x2="335.69" y2="330.66" stroke="#3d5a86" stroke-width="0.5" />
<line x1="336.40" y1="327.62" x2="336.40" y2="331.07" stroke="#3d5a86" stroke-width="0.55" />
<line x1="335.50" y1="327.62" x2="337.30" y2="327.62" stroke="#3d5a86" stroke-width="0.5" />
<line x1="335.50" y1="331.07" x2="337.30" y2="331.07" stroke="#3d5a86" stroke-width="0.5" />
<line x1="338.00" y1="327.96" x2="338.00" y2="331.53" stroke="#3d5a86" stroke-width="0.55" />
<line x1="337.11" y1="327.96" x2="338.90" y2="327.96" stroke="#3d5a86" stroke-width="0.5" />
<line x1="337.11" y1="331.53" x2="338.90" y2="331.53" stroke="#3d5a86" stroke-width="0.5" />
<line x1="339.61" y1="328.29" x2="339.61" y2="331.99" stroke="#3d5a86" stroke-width="0.55" />
<line x1="338.71" y1="328.29" x2="340.51" y2="328.29" stroke="#3d5a86" stroke-width="0.5" />
<line x1="338.71" y1="331.99" x2="340.51" y2="331.99" stroke="#3d5a86" stroke-width="0.5" />
<line x1="341.22" y1="328.63" x2="341.22" y2="332.45" stroke="#3d5a86" stroke-width="0.55" />
<line x1="340.32" y1="328.63" x2="342.12" y2="328.63" stroke="#3d5a86" stroke-width="0.5" />
<line x1="340.32" y1="332.45" x2="342.12" y2="332.45" stroke="#3d5a86" stroke-width="0.5" />
<line x1="342.82" y1="328.97" x2="342.82" y2="332.91" stroke="#3d5a86" stroke-width="0.55" />
<line x1="341.92" y1="328.97" x2="343.72" y2="328.97" stroke="#3d5a86" stroke-width="0.5" />
<line x1="341.92" y1="332.91" x2="343.72" y2="332.91" stroke="#3d5a86" stroke-width="0.5" />
<line x1="344.43" y1="329.31" x2="344.43" y2="333.37" stroke="#3d5a86" stroke-width="0.55" />
<line x1="343.53" y1="329.31" x2="345.32" y2="329.31" stroke="#3d5a86" stroke-width="0.5" />
<line x1="343.53" y1="333.37" x2="345.32" y2="333.37" stroke="#3d5a86" stroke-width="0.5" />
<line x1="346.03" y1="329.65" x2="346.03" y2="333.83" stroke="#3d5a86" stroke-width="0.55" />
<line x1="345.13" y1="329.65" x2="346.93" y2="329.65" stroke="#3d5a86" stroke-width="0.5" />
<line x1="345.13" y1="333.83" x2="346.93" y2="333.83" stroke="#3d5a86" stroke-width="0.5" />
<line x1="347.63" y1="330.02" x2="347.63" y2="334.32" stroke="#3d5a86" stroke-width="0.55" />
<line x1="346.74" y1="330.02" x2="348.53" y2="330.02" stroke="#3d5a86" stroke-width="0.5" />
<line x1="346.74" y1="334.32" x2="348.53" y2="334.32" stroke="#3d5a86" stroke-width="0.5" />
<line x1="349.24" y1="330.46" x2="349.24" y2="334.88" stroke="#3d5a86" stroke-width="0.55" />
<line x1="348.34" y1="330.46" x2="350.14" y2="330.46" stroke="#3d5a86" stroke-width="0.5" />
<line x1="348.34" y1="334.88" x2="350.14" y2="334.88" stroke="#3d5a86" stroke-width="0.5" />
<line x1="350.85" y1="330.90" x2="350.85" y2="335.44" stroke="#3d5a86" stroke-width="0.55" />
<line x1="349.95" y1="330.90" x2="351.75" y2="330.90" stroke="#3d5a86" stroke-width="0.5" />
<line x1="349.95" y1="335.44" x2="351.75" y2="335.44" stroke="#3d5a86" stroke-width="0.5" />
<path d="M304.3,320.7 L305.9,320.7 L307.5,320.7 L309.1,320.7 L310.7,320.7 L312.3,320.7 L313.9,321.1 L315.5,325.4 L317.1,326.0 L318.7,326.2 L320.4,326.4 L322.0,326.5 L323.6,326.7 L325.2,326.9 L326.8,327.2 L328.4,327.5 L330.0,327.9 L331.6,328.3 L333.2,328.6 L334.8,329.0 L336.4,329.3 L338.0,329.7 L339.6,330.1 L341.2,330.5 L342.8,330.9 L344.4,331.3 L346.0,331.7 L347.6,332.2 L349.2,332.7 L350.8,333.2" fill="none" stroke="#3d5a86" stroke-width="0.9" stroke-linejoin="round"/>
<path d="M304.30,319.57 L305.43,320.70 L304.30,321.82 L303.18,320.70Z" fill="#3d5a86" />
<path d="M305.91,319.57 L307.03,320.70 L305.91,321.82 L304.78,320.70Z" fill="#3d5a86" />
<path d="M307.51,319.57 L308.63,320.70 L307.51,321.82 L306.38,320.70Z" fill="#3d5a86" />
<path d="M309.12,319.57 L310.24,320.70 L309.12,321.82 L307.99,320.70Z" fill="#3d5a86" />
<path d="M310.72,319.57 L311.85,320.70 L310.72,321.82 L309.60,320.70Z" fill="#3d5a86" />
<path d="M312.32,319.57 L313.45,320.70 L312.32,321.82 L311.20,320.70Z" fill="#3d5a86" />
<path d="M313.93,320.02 L315.06,321.14 L313.93,322.27 L312.81,321.14Z" fill="#3d5a86" />
<path d="M315.54,324.30 L316.66,325.42 L315.54,326.55 L314.41,325.42Z" fill="#3d5a86" />
<path d="M317.14,324.89 L318.26,326.02 L317.14,327.14 L316.01,326.02Z" fill="#3d5a86" />
<path d="M318.75,325.07 L319.87,326.19 L318.75,327.32 L317.62,326.19Z" fill="#3d5a86" />
<path d="M320.35,325.24 L321.48,326.37 L320.35,327.49 L319.23,326.37Z" fill="#3d5a86" />
<path d="M321.96,325.42 L323.08,326.54 L321.96,327.67 L320.83,326.54Z" fill="#3d5a86" />
<path d="M323.56,325.59 L324.69,326.72 L323.56,327.84 L322.44,326.72Z" fill="#3d5a86" />
<path d="M325.17,325.77 L326.29,326.89 L325.17,328.02 L324.04,326.89Z" fill="#3d5a86" />
<path d="M326.77,326.07 L327.90,327.19 L326.77,328.32 L325.65,327.19Z" fill="#3d5a86" />
<path d="M328.38,326.42 L329.50,327.55 L328.38,328.67 L327.25,327.55Z" fill="#3d5a86" />
<path d="M329.98,326.78 L331.11,327.91 L329.98,329.03 L328.86,327.91Z" fill="#3d5a86" />
<path d="M331.59,327.14 L332.71,328.27 L331.59,329.39 L330.46,328.27Z" fill="#3d5a86" />
<path d="M333.19,327.50 L334.31,328.63 L333.19,329.75 L332.06,328.63Z" fill="#3d5a86" />
<path d="M334.80,327.86 L335.92,328.99 L334.80,330.11 L333.67,328.99Z" fill="#3d5a86" />
<path d="M336.40,328.22 L337.53,329.35 L336.40,330.47 L335.28,329.35Z" fill="#3d5a86" />
<path d="M338.00,328.62 L339.13,329.74 L338.00,330.87 L336.88,329.74Z" fill="#3d5a86" />
<path d="M339.61,329.02 L340.74,330.14 L339.61,331.27 L338.49,330.14Z" fill="#3d5a86" />
<path d="M341.22,329.42 L342.34,330.54 L341.22,331.67 L340.09,330.54Z" fill="#3d5a86" />
<path d="M342.82,329.82 L343.94,330.94 L342.82,332.07 L341.69,330.94Z" fill="#3d5a86" />
<path d="M344.43,330.21 L345.55,331.34 L344.43,332.46 L343.30,331.34Z" fill="#3d5a86" />
<path d="M346.03,330.61 L347.16,331.74 L346.03,332.86 L344.91,331.74Z" fill="#3d5a86" />
<path d="M347.63,331.05 L348.76,332.17 L347.63,333.30 L346.51,332.17Z" fill="#3d5a86" />
<path d="M349.24,331.55 L350.37,332.67 L349.24,333.80 L348.12,332.67Z" fill="#3d5a86" />
<path d="M350.85,332.04 L351.97,333.17 L350.85,334.29 L349.72,333.17Z" fill="#3d5a86" />
<line x1="321.96" y1="321.17" x2="321.96" y2="322.47" stroke="#6fa9dc" stroke-width="0.55" />
<line x1="321.06" y1="321.17" x2="322.86" y2="321.17" stroke="#6fa9dc" stroke-width="0.5" />
<line x1="321.06" y1="322.47" x2="322.86" y2="322.47" stroke="#6fa9dc" stroke-width="0.5" />
<line x1="323.56" y1="320.61" x2="323.56" y2="322.07" stroke="#6fa9dc" stroke-width="0.55" />
<line x1="322.66" y1="320.61" x2="324.46" y2="320.61" stroke="#6fa9dc" stroke-width="0.5" />
<line x1="322.66" y1="322.07" x2="324.46" y2="322.07" stroke="#6fa9dc" stroke-width="0.5" />
<line x1="325.17" y1="320.03" x2="325.17" y2="321.69" stroke="#6fa9dc" stroke-width="0.55" />
<line x1="324.27" y1="320.03" x2="326.06" y2="320.03" stroke="#6fa9dc" stroke-width="0.5" />
<line x1="324.27" y1="321.69" x2="326.06" y2="321.69" stroke="#6fa9dc" stroke-width="0.5" />
<line x1="326.77" y1="319.07" x2="326.77" y2="321.00" stroke="#6fa9dc" stroke-width="0.55" />
<line x1="325.87" y1="319.07" x2="327.67" y2="319.07" stroke="#6fa9dc" stroke-width="0.5" />
<line x1="325.87" y1="321.00" x2="327.67" y2="321.00" stroke="#6fa9dc" stroke-width="0.5" />
<line x1="328.38" y1="317.91" x2="328.38" y2="320.17" stroke="#6fa9dc" stroke-width="0.55" />
<line x1="327.48" y1="317.91" x2="329.27" y2="317.91" stroke="#6fa9dc" stroke-width="0.5" />
<line x1="327.48" y1="320.17" x2="329.27" y2="320.17" stroke="#6fa9dc" stroke-width="0.5" />
<line x1="329.98" y1="316.71" x2="329.98" y2="319.37" stroke="#6fa9dc" stroke-width="0.55" />
<line x1="329.08" y1="316.71" x2="330.88" y2="316.71" stroke="#6fa9dc" stroke-width="0.5" />
<line x1="329.08" y1="319.37" x2="330.88" y2="319.37" stroke="#6fa9dc" stroke-width="0.5" />
<line x1="331.59" y1="315.35" x2="331.59" y2="318.47" stroke="#6fa9dc" stroke-width="0.55" />
<line x1="330.69" y1="315.35" x2="332.49" y2="315.35" stroke="#6fa9dc" stroke-width="0.5" />
<line x1="330.69" y1="318.47" x2="332.49" y2="318.47" stroke="#6fa9dc" stroke-width="0.5" />
<line x1="333.19" y1="313.69" x2="333.19" y2="317.34" stroke="#6fa9dc" stroke-width="0.55" />
<line x1="332.29" y1="313.69" x2="334.09" y2="313.69" stroke="#6fa9dc" stroke-width="0.5" />
<line x1="332.29" y1="317.34" x2="334.09" y2="317.34" stroke="#6fa9dc" stroke-width="0.5" />
<line x1="334.80" y1="311.99" x2="334.80" y2="316.25" stroke="#6fa9dc" stroke-width="0.55" />
<line x1="333.90" y1="311.99" x2="335.69" y2="311.99" stroke="#6fa9dc" stroke-width="0.5" />
<line x1="333.90" y1="316.25" x2="335.69" y2="316.25" stroke="#6fa9dc" stroke-width="0.5" />
<line x1="336.40" y1="310.25" x2="336.40" y2="315.19" stroke="#6fa9dc" stroke-width="0.55" />
<line x1="335.50" y1="310.25" x2="337.30" y2="310.25" stroke="#6fa9dc" stroke-width="0.5" />
<line x1="335.50" y1="315.19" x2="337.30" y2="315.19" stroke="#6fa9dc" stroke-width="0.5" />
<line x1="338.00" y1="307.87" x2="338.00" y2="313.58" stroke="#6fa9dc" stroke-width="0.55" />
<line x1="337.11" y1="307.87" x2="338.90" y2="307.87" stroke="#6fa9dc" stroke-width="0.5" />
<line x1="337.11" y1="313.58" x2="338.90" y2="313.58" stroke="#6fa9dc" stroke-width="0.5" />
<line x1="339.61" y1="305.44" x2="339.61" y2="312.02" stroke="#6fa9dc" stroke-width="0.55" />
<line x1="338.71" y1="305.44" x2="340.51" y2="305.44" stroke="#6fa9dc" stroke-width="0.5" />
<line x1="338.71" y1="312.02" x2="340.51" y2="312.02" stroke="#6fa9dc" stroke-width="0.5" />
<line x1="341.22" y1="302.98" x2="341.22" y2="310.49" stroke="#6fa9dc" stroke-width="0.55" />
<line x1="340.32" y1="302.98" x2="342.12" y2="302.98" stroke="#6fa9dc" stroke-width="0.5" />
<line x1="340.32" y1="310.49" x2="342.12" y2="310.49" stroke="#6fa9dc" stroke-width="0.5" />
<line x1="342.82" y1="300.47" x2="342.82" y2="309.01" stroke="#6fa9dc" stroke-width="0.55" />
<line x1="341.92" y1="300.47" x2="343.72" y2="300.47" stroke="#6fa9dc" stroke-width="0.5" />
<line x1="341.92" y1="309.01" x2="343.72" y2="309.01" stroke="#6fa9dc" stroke-width="0.5" />
<line x1="344.43" y1="297.91" x2="344.43" y2="307.58" stroke="#6fa9dc" stroke-width="0.55" />
<line x1="343.53" y1="297.91" x2="345.32" y2="297.91" stroke="#6fa9dc" stroke-width="0.5" />
<line x1="343.53" y1="307.58" x2="345.32" y2="307.58" stroke="#6fa9dc" stroke-width="0.5" />
<line x1="346.03" y1="295.30" x2="346.03" y2="306.20" stroke="#6fa9dc" stroke-width="0.55" />
<line x1="345.13" y1="295.30" x2="346.93" y2="295.30" stroke="#6fa9dc" stroke-width="0.5" />
<line x1="345.13" y1="306.20" x2="346.93" y2="306.20" stroke="#6fa9dc" stroke-width="0.5" />
<line x1="347.63" y1="292.45" x2="347.63" y2="304.66" stroke="#6fa9dc" stroke-width="0.55" />
<line x1="346.74" y1="292.45" x2="348.53" y2="292.45" stroke="#6fa9dc" stroke-width="0.5" />
<line x1="346.74" y1="304.66" x2="348.53" y2="304.66" stroke="#6fa9dc" stroke-width="0.5" />
<line x1="349.24" y1="289.14" x2="349.24" y2="302.78" stroke="#6fa9dc" stroke-width="0.55" />
<line x1="348.34" y1="289.14" x2="350.14" y2="289.14" stroke="#6fa9dc" stroke-width="0.5" />
<line x1="348.34" y1="302.78" x2="350.14" y2="302.78" stroke="#6fa9dc" stroke-width="0.5" />
<line x1="350.85" y1="285.79" x2="350.85" y2="300.95" stroke="#6fa9dc" stroke-width="0.55" />
<line x1="349.95" y1="285.79" x2="351.75" y2="285.79" stroke="#6fa9dc" stroke-width="0.5" />
<line x1="349.95" y1="300.95" x2="351.75" y2="300.95" stroke="#6fa9dc" stroke-width="0.5" />
<path d="M304.3,320.0 L305.9,319.8 L307.5,319.5 L309.1,319.5 L310.7,319.7 L312.3,320.0 L313.9,320.5 L315.5,323.4 L317.1,323.4 L318.7,322.8 L320.4,322.3 L322.0,321.8 L323.6,321.3 L325.2,320.9 L326.8,320.0 L328.4,319.0 L330.0,318.0 L331.6,316.9 L333.2,315.5 L334.8,314.1 L336.4,312.7 L338.0,310.7 L339.6,308.7 L341.2,306.7 L342.8,304.7 L344.4,302.7 L346.0,300.8 L347.6,298.6 L349.2,296.0 L350.8,293.4" fill="none" stroke="#6fa9dc" stroke-width="0.8" stroke-linejoin="round"/>
<line x1="303.40" y1="319.14" x2="305.20" y2="320.94" stroke="#6fa9dc" stroke-width="0.6" />
<line x1="303.40" y1="320.94" x2="305.20" y2="319.14" stroke="#6fa9dc" stroke-width="0.6" />
<line x1="305.01" y1="318.89" x2="306.81" y2="320.69" stroke="#6fa9dc" stroke-width="0.6" />
<line x1="305.01" y1="320.69" x2="306.81" y2="318.89" stroke="#6fa9dc" stroke-width="0.6" />
<line x1="306.61" y1="318.64" x2="308.41" y2="320.44" stroke="#6fa9dc" stroke-width="0.6" />
<line x1="306.61" y1="320.44" x2="308.41" y2="318.64" stroke="#6fa9dc" stroke-width="0.6" />
<line x1="308.22" y1="318.55" x2="310.01" y2="320.35" stroke="#6fa9dc" stroke-width="0.6" />
<line x1="308.22" y1="320.35" x2="310.01" y2="318.55" stroke="#6fa9dc" stroke-width="0.6" />
<line x1="309.82" y1="318.80" x2="311.62" y2="320.60" stroke="#6fa9dc" stroke-width="0.6" />
<line x1="309.82" y1="320.60" x2="311.62" y2="318.80" stroke="#6fa9dc" stroke-width="0.6" />
<line x1="311.43" y1="319.05" x2="313.22" y2="320.85" stroke="#6fa9dc" stroke-width="0.6" />
<line x1="311.43" y1="320.85" x2="313.22" y2="319.05" stroke="#6fa9dc" stroke-width="0.6" />
<line x1="313.03" y1="319.58" x2="314.83" y2="321.38" stroke="#6fa9dc" stroke-width="0.6" />
<line x1="313.03" y1="321.38" x2="314.83" y2="319.58" stroke="#6fa9dc" stroke-width="0.6" />
<line x1="314.64" y1="322.46" x2="316.44" y2="324.26" stroke="#6fa9dc" stroke-width="0.6" />
<line x1="314.64" y1="324.26" x2="316.44" y2="322.46" stroke="#6fa9dc" stroke-width="0.6" />
<line x1="316.24" y1="322.46" x2="318.04" y2="324.26" stroke="#6fa9dc" stroke-width="0.6" />
<line x1="316.24" y1="324.26" x2="318.04" y2="322.46" stroke="#6fa9dc" stroke-width="0.6" />
<line x1="317.85" y1="321.93" x2="319.64" y2="323.73" stroke="#6fa9dc" stroke-width="0.6" />
<line x1="317.85" y1="323.73" x2="319.64" y2="321.93" stroke="#6fa9dc" stroke-width="0.6" />
<line x1="319.45" y1="321.40" x2="321.25" y2="323.20" stroke="#6fa9dc" stroke-width="0.6" />
<line x1="319.45" y1="323.20" x2="321.25" y2="321.40" stroke="#6fa9dc" stroke-width="0.6" />
<line x1="321.06" y1="320.92" x2="322.86" y2="322.72" stroke="#6fa9dc" stroke-width="0.6" />
<line x1="321.06" y1="322.72" x2="322.86" y2="320.92" stroke="#6fa9dc" stroke-width="0.6" />
<line x1="322.66" y1="320.44" x2="324.46" y2="322.24" stroke="#6fa9dc" stroke-width="0.6" />
<line x1="322.66" y1="322.24" x2="324.46" y2="320.44" stroke="#6fa9dc" stroke-width="0.6" />
<line x1="324.27" y1="319.96" x2="326.06" y2="321.76" stroke="#6fa9dc" stroke-width="0.6" />
<line x1="324.27" y1="321.76" x2="326.06" y2="319.96" stroke="#6fa9dc" stroke-width="0.6" />
<line x1="325.87" y1="319.14" x2="327.67" y2="320.94" stroke="#6fa9dc" stroke-width="0.6" />
<line x1="325.87" y1="320.94" x2="327.67" y2="319.14" stroke="#6fa9dc" stroke-width="0.6" />
<line x1="327.48" y1="318.14" x2="329.27" y2="319.94" stroke="#6fa9dc" stroke-width="0.6" />
<line x1="327.48" y1="319.94" x2="329.27" y2="318.14" stroke="#6fa9dc" stroke-width="0.6" />
<line x1="329.08" y1="317.14" x2="330.88" y2="318.94" stroke="#6fa9dc" stroke-width="0.6" />
<line x1="329.08" y1="318.94" x2="330.88" y2="317.14" stroke="#6fa9dc" stroke-width="0.6" />
<line x1="330.69" y1="316.01" x2="332.49" y2="317.81" stroke="#6fa9dc" stroke-width="0.6" />
<line x1="330.69" y1="317.81" x2="332.49" y2="316.01" stroke="#6fa9dc" stroke-width="0.6" />
<line x1="332.29" y1="314.61" x2="334.09" y2="316.41" stroke="#6fa9dc" stroke-width="0.6" />
<line x1="332.29" y1="316.41" x2="334.09" y2="314.61" stroke="#6fa9dc" stroke-width="0.6" />
<line x1="333.90" y1="313.22" x2="335.69" y2="315.02" stroke="#6fa9dc" stroke-width="0.6" />
<line x1="333.90" y1="315.02" x2="335.69" y2="313.22" stroke="#6fa9dc" stroke-width="0.6" />
<line x1="335.50" y1="311.82" x2="337.30" y2="313.62" stroke="#6fa9dc" stroke-width="0.6" />
<line x1="335.50" y1="313.62" x2="337.30" y2="311.82" stroke="#6fa9dc" stroke-width="0.6" />
<line x1="337.11" y1="309.83" x2="338.90" y2="311.62" stroke="#6fa9dc" stroke-width="0.6" />
<line x1="337.11" y1="311.62" x2="338.90" y2="309.83" stroke="#6fa9dc" stroke-width="0.6" />
<line x1="338.71" y1="307.83" x2="340.51" y2="309.63" stroke="#6fa9dc" stroke-width="0.6" />
<line x1="338.71" y1="309.63" x2="340.51" y2="307.83" stroke="#6fa9dc" stroke-width="0.6" />
<line x1="340.32" y1="305.84" x2="342.12" y2="307.63" stroke="#6fa9dc" stroke-width="0.6" />
<line x1="340.32" y1="307.63" x2="342.12" y2="305.84" stroke="#6fa9dc" stroke-width="0.6" />
<line x1="341.92" y1="303.84" x2="343.72" y2="305.64" stroke="#6fa9dc" stroke-width="0.6" />
<line x1="341.92" y1="305.64" x2="343.72" y2="303.84" stroke="#6fa9dc" stroke-width="0.6" />
<line x1="343.53" y1="301.85" x2="345.32" y2="303.64" stroke="#6fa9dc" stroke-width="0.6" />
<line x1="343.53" y1="303.64" x2="345.32" y2="301.85" stroke="#6fa9dc" stroke-width="0.6" />
<line x1="345.13" y1="299.85" x2="346.93" y2="301.65" stroke="#6fa9dc" stroke-width="0.6" />
<line x1="345.13" y1="301.65" x2="346.93" y2="299.85" stroke="#6fa9dc" stroke-width="0.6" />
<line x1="346.74" y1="297.66" x2="348.53" y2="299.46" stroke="#6fa9dc" stroke-width="0.6" />
<line x1="346.74" y1="299.46" x2="348.53" y2="297.66" stroke="#6fa9dc" stroke-width="0.6" />
<line x1="348.34" y1="295.06" x2="350.14" y2="296.86" stroke="#6fa9dc" stroke-width="0.6" />
<line x1="348.34" y1="296.86" x2="350.14" y2="295.06" stroke="#6fa9dc" stroke-width="0.6" />
<line x1="349.95" y1="292.47" x2="351.75" y2="294.27" stroke="#6fa9dc" stroke-width="0.6" />
<line x1="349.95" y1="294.27" x2="351.75" y2="292.47" stroke="#6fa9dc" stroke-width="0.6" />
<line x1="304.30" y1="320.03" x2="304.30" y2="321.37" stroke="#ad2b37" stroke-width="0.55" />
<line x1="303.40" y1="320.03" x2="305.20" y2="320.03" stroke="#ad2b37" stroke-width="0.5" />
<line x1="303.40" y1="321.37" x2="305.20" y2="321.37" stroke="#ad2b37" stroke-width="0.5" />
<line x1="305.91" y1="319.46" x2="305.91" y2="320.95" stroke="#ad2b37" stroke-width="0.55" />
<line x1="305.01" y1="319.46" x2="306.81" y2="319.46" stroke="#ad2b37" stroke-width="0.5" />
<line x1="305.01" y1="320.95" x2="306.81" y2="320.95" stroke="#ad2b37" stroke-width="0.5" />
<line x1="307.51" y1="318.88" x2="307.51" y2="320.53" stroke="#ad2b37" stroke-width="0.55" />
<line x1="306.61" y1="318.88" x2="308.41" y2="318.88" stroke="#ad2b37" stroke-width="0.5" />
<line x1="306.61" y1="320.53" x2="308.41" y2="320.53" stroke="#ad2b37" stroke-width="0.5" />
<line x1="309.12" y1="318.13" x2="309.12" y2="319.94" stroke="#ad2b37" stroke-width="0.55" />
<line x1="308.22" y1="318.13" x2="310.01" y2="318.13" stroke="#ad2b37" stroke-width="0.5" />
<line x1="308.22" y1="319.94" x2="310.01" y2="319.94" stroke="#ad2b37" stroke-width="0.5" />
<line x1="310.72" y1="317.06" x2="310.72" y2="319.02" stroke="#ad2b37" stroke-width="0.55" />
<line x1="309.82" y1="317.06" x2="311.62" y2="317.06" stroke="#ad2b37" stroke-width="0.5" />
<line x1="309.82" y1="319.02" x2="311.62" y2="319.02" stroke="#ad2b37" stroke-width="0.5" />
<line x1="312.32" y1="315.98" x2="312.32" y2="318.11" stroke="#ad2b37" stroke-width="0.55" />
<line x1="311.43" y1="315.98" x2="313.22" y2="315.98" stroke="#ad2b37" stroke-width="0.5" />
<line x1="311.43" y1="318.11" x2="313.22" y2="318.11" stroke="#ad2b37" stroke-width="0.5" />
<line x1="313.93" y1="314.68" x2="313.93" y2="316.97" stroke="#ad2b37" stroke-width="0.55" />
<line x1="313.03" y1="314.68" x2="314.83" y2="314.68" stroke="#ad2b37" stroke-width="0.5" />
<line x1="313.03" y1="316.97" x2="314.83" y2="316.97" stroke="#ad2b37" stroke-width="0.5" />
<line x1="315.54" y1="319.14" x2="315.54" y2="321.59" stroke="#ad2b37" stroke-width="0.55" />
<line x1="314.64" y1="319.14" x2="316.44" y2="319.14" stroke="#ad2b37" stroke-width="0.5" />
<line x1="314.64" y1="321.59" x2="316.44" y2="321.59" stroke="#ad2b37" stroke-width="0.5" />
<line x1="317.14" y1="318.07" x2="317.14" y2="320.67" stroke="#ad2b37" stroke-width="0.55" />
<line x1="316.24" y1="318.07" x2="318.04" y2="318.07" stroke="#ad2b37" stroke-width="0.5" />
<line x1="316.24" y1="320.67" x2="318.04" y2="320.67" stroke="#ad2b37" stroke-width="0.5" />
<line x1="318.75" y1="316.66" x2="318.75" y2="319.42" stroke="#ad2b37" stroke-width="0.55" />
<line x1="317.85" y1="316.66" x2="319.64" y2="316.66" stroke="#ad2b37" stroke-width="0.5" />
<line x1="317.85" y1="319.42" x2="319.64" y2="319.42" stroke="#ad2b37" stroke-width="0.5" />
<line x1="320.35" y1="315.25" x2="320.35" y2="318.17" stroke="#ad2b37" stroke-width="0.55" />
<line x1="319.45" y1="315.25" x2="321.25" y2="315.25" stroke="#ad2b37" stroke-width="0.5" />
<line x1="319.45" y1="318.17" x2="321.25" y2="318.17" stroke="#ad2b37" stroke-width="0.5" />
<line x1="321.96" y1="312.57" x2="321.96" y2="315.66" stroke="#ad2b37" stroke-width="0.55" />
<line x1="321.06" y1="312.57" x2="322.86" y2="312.57" stroke="#ad2b37" stroke-width="0.5" />
<line x1="321.06" y1="315.66" x2="322.86" y2="315.66" stroke="#ad2b37" stroke-width="0.5" />
<line x1="323.56" y1="309.90" x2="323.56" y2="313.15" stroke="#ad2b37" stroke-width="0.55" />
<line x1="322.66" y1="309.90" x2="324.46" y2="309.90" stroke="#ad2b37" stroke-width="0.5" />
<line x1="322.66" y1="313.15" x2="324.46" y2="313.15" stroke="#ad2b37" stroke-width="0.5" />
<line x1="325.17" y1="307.23" x2="325.17" y2="310.63" stroke="#ad2b37" stroke-width="0.55" />
<line x1="324.27" y1="307.23" x2="326.06" y2="307.23" stroke="#ad2b37" stroke-width="0.5" />
<line x1="324.27" y1="310.63" x2="326.06" y2="310.63" stroke="#ad2b37" stroke-width="0.5" />
<line x1="326.77" y1="304.55" x2="326.77" y2="308.12" stroke="#ad2b37" stroke-width="0.55" />
<line x1="325.87" y1="304.55" x2="327.67" y2="304.55" stroke="#ad2b37" stroke-width="0.5" />
<line x1="325.87" y1="308.12" x2="327.67" y2="308.12" stroke="#ad2b37" stroke-width="0.5" />
<line x1="328.38" y1="301.88" x2="328.38" y2="305.60" stroke="#ad2b37" stroke-width="0.55" />
<line x1="327.48" y1="301.88" x2="329.27" y2="301.88" stroke="#ad2b37" stroke-width="0.5" />
<line x1="327.48" y1="305.60" x2="329.27" y2="305.60" stroke="#ad2b37" stroke-width="0.5" />
<line x1="329.98" y1="299.21" x2="329.98" y2="303.09" stroke="#ad2b37" stroke-width="0.55" />
<line x1="329.08" y1="299.21" x2="330.88" y2="299.21" stroke="#ad2b37" stroke-width="0.5" />
<line x1="329.08" y1="303.09" x2="330.88" y2="303.09" stroke="#ad2b37" stroke-width="0.5" />
<line x1="331.59" y1="296.40" x2="331.59" y2="300.44" stroke="#ad2b37" stroke-width="0.55" />
<line x1="330.69" y1="296.40" x2="332.49" y2="296.40" stroke="#ad2b37" stroke-width="0.5" />
<line x1="330.69" y1="300.44" x2="332.49" y2="300.44" stroke="#ad2b37" stroke-width="0.5" />
<line x1="333.19" y1="293.33" x2="333.19" y2="297.53" stroke="#ad2b37" stroke-width="0.55" />
<line x1="332.29" y1="293.33" x2="334.09" y2="293.33" stroke="#ad2b37" stroke-width="0.5" />
<line x1="332.29" y1="297.53" x2="334.09" y2="297.53" stroke="#ad2b37" stroke-width="0.5" />
<line x1="334.80" y1="290.26" x2="334.80" y2="294.62" stroke="#ad2b37" stroke-width="0.55" />
<line x1="333.90" y1="290.26" x2="335.69" y2="290.26" stroke="#ad2b37" stroke-width="0.5" />
<line x1="333.90" y1="294.62" x2="335.69" y2="294.62" stroke="#ad2b37" stroke-width="0.5" />
<line x1="336.40" y1="287.18" x2="336.40" y2="291.71" stroke="#ad2b37" stroke-width="0.55" />
<line x1="335.50" y1="287.18" x2="337.30" y2="287.18" stroke="#ad2b37" stroke-width="0.5" />
<line x1="335.50" y1="291.71" x2="337.30" y2="291.71" stroke="#ad2b37" stroke-width="0.5" />
<line x1="338.00" y1="284.51" x2="338.00" y2="289.19" stroke="#ad2b37" stroke-width="0.55" />
<line x1="337.11" y1="284.51" x2="338.90" y2="284.51" stroke="#ad2b37" stroke-width="0.5" />
<line x1="337.11" y1="289.19" x2="338.90" y2="289.19" stroke="#ad2b37" stroke-width="0.5" />
<line x1="339.61" y1="281.84" x2="339.61" y2="286.68" stroke="#ad2b37" stroke-width="0.55" />
<line x1="338.71" y1="281.84" x2="340.51" y2="281.84" stroke="#ad2b37" stroke-width="0.5" />
<line x1="338.71" y1="286.68" x2="340.51" y2="286.68" stroke="#ad2b37" stroke-width="0.5" />
<line x1="341.22" y1="279.16" x2="341.22" y2="284.16" stroke="#ad2b37" stroke-width="0.55" />
<line x1="340.32" y1="279.16" x2="342.12" y2="279.16" stroke="#ad2b37" stroke-width="0.5" />
<line x1="340.32" y1="284.16" x2="342.12" y2="284.16" stroke="#ad2b37" stroke-width="0.5" />
<path d="M304.3,320.7 L305.9,320.2 L307.5,319.7 L309.1,319.0 L310.7,318.0 L312.3,317.0 L313.9,315.8 L315.5,320.4 L317.1,319.4 L318.7,318.0 L320.4,316.7 L322.0,314.1 L323.6,311.5 L325.2,308.9 L326.8,306.3 L328.4,303.7 L330.0,301.1 L331.6,298.4 L333.2,295.4 L334.8,292.4 L336.4,289.4 L338.0,286.9 L339.6,284.3 L341.2,281.7" fill="none" stroke="#ad2b37" stroke-width="0.85" stroke-linejoin="round"/>
<rect x="303.40" y="319.80" width="1.80" height="1.80" fill="#ad2b37" />
<rect x="305.01" y="319.30" width="1.80" height="1.80" fill="#ad2b37" />
<rect x="306.61" y="318.80" width="1.80" height="1.80" fill="#ad2b37" />
<rect x="308.22" y="318.14" width="1.80" height="1.80" fill="#ad2b37" />
<rect x="309.82" y="317.14" width="1.80" height="1.80" fill="#ad2b37" />
<rect x="311.43" y="316.14" width="1.80" height="1.80" fill="#ad2b37" />
<rect x="313.03" y="314.92" width="1.80" height="1.80" fill="#ad2b37" />
<rect x="314.64" y="319.47" width="1.80" height="1.80" fill="#ad2b37" />
<rect x="316.24" y="318.47" width="1.80" height="1.80" fill="#ad2b37" />
<rect x="317.85" y="317.14" width="1.80" height="1.80" fill="#ad2b37" />
<rect x="319.45" y="315.81" width="1.80" height="1.80" fill="#ad2b37" />
<rect x="321.06" y="313.22" width="1.80" height="1.80" fill="#ad2b37" />
<rect x="322.66" y="310.62" width="1.80" height="1.80" fill="#ad2b37" />
<rect x="324.27" y="308.03" width="1.80" height="1.80" fill="#ad2b37" />
<rect x="325.87" y="305.44" width="1.80" height="1.80" fill="#ad2b37" />
<rect x="327.48" y="302.84" width="1.80" height="1.80" fill="#ad2b37" />
<rect x="329.08" y="300.25" width="1.80" height="1.80" fill="#ad2b37" />
<rect x="330.69" y="297.52" width="1.80" height="1.80" fill="#ad2b37" />
<rect x="332.29" y="294.53" width="1.80" height="1.80" fill="#ad2b37" />
<rect x="333.90" y="291.54" width="1.80" height="1.80" fill="#ad2b37" />
<rect x="335.50" y="288.55" width="1.80" height="1.80" fill="#ad2b37" />
<rect x="337.11" y="285.95" width="1.80" height="1.80" fill="#ad2b37" />
<rect x="338.71" y="283.36" width="1.80" height="1.80" fill="#ad2b37" />
<rect x="340.32" y="280.76" width="1.80" height="1.80" fill="#ad2b37" />
<path d="M355.19,292.50 L357.59,292.50 L357.59,333.33 L355.19,333.33" fill="none" stroke="#222" stroke-width="0.8" />
<text x="364.49" y="312.92" font-size="7.0" text-anchor="middle" fill="#231f20" stroke="#231f20" stroke-width="0.35" textLength="9.8" lengthAdjust="spacingAndGlyphs" transform="rotate(-90 364.49 312.92)" >****</text>
<text x="280.90" y="306.30" font-size="7.2" text-anchor="middle" fill="#231f20" stroke="#231f20" stroke-width="0.14" textLength="50.7" lengthAdjust="spacingAndGlyphs" transform="rotate(-90 280.90 306.30)" >Total tumor GFP</text>
<text x="289.30" y="306.30" font-size="7.2" text-anchor="middle" fill="#231f20" stroke="#231f20" stroke-width="0.14" textLength="80" lengthAdjust="spacingAndGlyphs" transform="rotate(-90 289.30 306.30)" >fluorescence (normalized)</text>
<line x1="400.20" y1="334.00" x2="456.50" y2="334.00" stroke="#111" stroke-width="0.9" />
<line x1="400.20" y1="334.45" x2="400.20" y2="278.00" stroke="#111" stroke-width="0.9" />
<line x1="397.00" y1="334.00" x2="400.20" y2="334.00" stroke="#111" stroke-width="0.7" />
<text x="394.20" y="336.02" font-size="5.6" text-anchor="end" fill="#231f20" stroke="#231f20" stroke-width="0.14" >0</text>
<line x1="397.00" y1="320.70" x2="400.20" y2="320.70" stroke="#111" stroke-width="0.7" />
<text x="394.20" y="322.72" font-size="5.6" text-anchor="end" fill="#231f20" stroke="#231f20" stroke-width="0.14" >1</text>
<line x1="397.00" y1="307.40" x2="400.20" y2="307.40" stroke="#111" stroke-width="0.7" />
<text x="394.20" y="309.42" font-size="5.6" text-anchor="end" fill="#231f20" stroke="#231f20" stroke-width="0.14" >2</text>
<line x1="397.00" y1="294.10" x2="400.20" y2="294.10" stroke="#111" stroke-width="0.7" />
<text x="394.20" y="296.12" font-size="5.6" text-anchor="end" fill="#231f20" stroke="#231f20" stroke-width="0.14" >3</text>
<line x1="397.00" y1="280.80" x2="400.20" y2="280.80" stroke="#111" stroke-width="0.7" />
<text x="394.20" y="282.82" font-size="5.6" text-anchor="end" fill="#231f20" stroke="#231f20" stroke-width="0.14" >4</text>
<line x1="400.20" y1="334.00" x2="400.20" y2="337.20" stroke="#111" stroke-width="0.7" />
<text x="400.20" y="346.20" font-size="5.6" text-anchor="middle" fill="#231f20" stroke="#231f20" stroke-width="0.14" >0</text>
<line x1="410.90" y1="334.00" x2="410.90" y2="337.20" stroke="#111" stroke-width="0.7" />
<text x="410.90" y="346.20" font-size="5.6" text-anchor="middle" fill="#231f20" stroke="#231f20" stroke-width="0.14" >20</text>
<line x1="421.60" y1="334.00" x2="421.60" y2="337.20" stroke="#111" stroke-width="0.7" />
<text x="421.60" y="346.20" font-size="5.6" text-anchor="middle" fill="#231f20" stroke="#231f20" stroke-width="0.14" >40</text>
<line x1="432.30" y1="334.00" x2="432.30" y2="337.20" stroke="#111" stroke-width="0.7" />
<text x="432.30" y="346.20" font-size="5.6" text-anchor="middle" fill="#231f20" stroke="#231f20" stroke-width="0.14" >60</text>
<line x1="443.00" y1="334.00" x2="443.00" y2="337.20" stroke="#111" stroke-width="0.7" />
<text x="443.00" y="346.20" font-size="5.6" text-anchor="middle" fill="#231f20" stroke="#231f20" stroke-width="0.14" >80</text>
<line x1="453.70" y1="334.00" x2="453.70" y2="337.20" stroke="#111" stroke-width="0.7" />
<text x="453.70" y="346.20" font-size="5.6" text-anchor="middle" fill="#231f20" stroke="#231f20" stroke-width="0.14" >100</text>
<line x1="410.69" y1="280.30" x2="410.69" y2="334.00" stroke="#222" stroke-width="1.0" stroke-dasharray="2.8,1.8"/>
<text x="428.50" y="357.30" font-size="7.2" text-anchor="middle" fill="#231f20" stroke="#231f20" stroke-width="0.14" textLength="39" lengthAdjust="spacingAndGlyphs" >Time (hours)</text>
<line x1="411.44" y1="324.50" x2="411.44" y2="326.41" stroke="#3d5a86" stroke-width="0.55" />
<line x1="410.54" y1="324.50" x2="412.33" y2="324.50" stroke="#3d5a86" stroke-width="0.5" />
<line x1="410.54" y1="326.41" x2="412.33" y2="326.41" stroke="#3d5a86" stroke-width="0.5" />
<line x1="413.04" y1="324.74" x2="413.04" y2="326.76" stroke="#3d5a86" stroke-width="0.55" />
<line x1="412.14" y1="324.74" x2="413.94" y2="324.74" stroke="#3d5a86" stroke-width="0.5" />
<line x1="412.14" y1="326.76" x2="413.94" y2="326.76" stroke="#3d5a86" stroke-width="0.5" />
<line x1="414.64" y1="324.73" x2="414.64" y2="326.87" stroke="#3d5a86" stroke-width="0.55" />
<line x1="413.75" y1="324.73" x2="415.54" y2="324.73" stroke="#3d5a86" stroke-width="0.5" />
<line x1="413.75" y1="326.87" x2="415.54" y2="326.87" stroke="#3d5a86" stroke-width="0.5" />
<line x1="416.25" y1="324.72" x2="416.25" y2="326.98" stroke="#3d5a86" stroke-width="0.55" />
<line x1="415.35" y1="324.72" x2="417.15" y2="324.72" stroke="#3d5a86" stroke-width="0.5" />
<line x1="415.35" y1="326.98" x2="417.15" y2="326.98" stroke="#3d5a86" stroke-width="0.5" />
<line x1="417.86" y1="324.71" x2="417.86" y2="327.09" stroke="#3d5a86" stroke-width="0.55" />
<line x1="416.96" y1="324.71" x2="418.75" y2="324.71" stroke="#3d5a86" stroke-width="0.5" />
<line x1="416.96" y1="327.09" x2="418.75" y2="327.09" stroke="#3d5a86" stroke-width="0.5" />
<line x1="419.46" y1="324.70" x2="419.46" y2="327.20" stroke="#3d5a86" stroke-width="0.55" />
<line x1="418.56" y1="324.70" x2="420.36" y2="324.70" stroke="#3d5a86" stroke-width="0.5" />
<line x1="418.56" y1="327.20" x2="420.36" y2="327.20" stroke="#3d5a86" stroke-width="0.5" />
<line x1="421.06" y1="324.69" x2="421.06" y2="327.31" stroke="#3d5a86" stroke-width="0.55" />
<line x1="420.17" y1="324.69" x2="421.96" y2="324.69" stroke="#3d5a86" stroke-width="0.5" />
<line x1="420.17" y1="327.31" x2="421.96" y2="327.31" stroke="#3d5a86" stroke-width="0.5" />
<line x1="422.67" y1="324.73" x2="422.67" y2="327.47" stroke="#3d5a86" stroke-width="0.55" />
<line x1="421.77" y1="324.73" x2="423.57" y2="324.73" stroke="#3d5a86" stroke-width="0.5" />
<line x1="421.77" y1="327.47" x2="423.57" y2="327.47" stroke="#3d5a86" stroke-width="0.5" />
<line x1="424.27" y1="324.80" x2="424.27" y2="327.66" stroke="#3d5a86" stroke-width="0.55" />
<line x1="423.38" y1="324.80" x2="425.17" y2="324.80" stroke="#3d5a86" stroke-width="0.5" />
<line x1="423.38" y1="327.66" x2="425.17" y2="327.66" stroke="#3d5a86" stroke-width="0.5" />
<line x1="425.88" y1="324.86" x2="425.88" y2="327.84" stroke="#3d5a86" stroke-width="0.55" />
<line x1="424.98" y1="324.86" x2="426.78" y2="324.86" stroke="#3d5a86" stroke-width="0.5" />
<line x1="424.98" y1="327.84" x2="426.78" y2="327.84" stroke="#3d5a86" stroke-width="0.5" />
<line x1="427.49" y1="324.93" x2="427.49" y2="328.03" stroke="#3d5a86" stroke-width="0.55" />
<line x1="426.59" y1="324.93" x2="428.38" y2="324.93" stroke="#3d5a86" stroke-width="0.5" />
<line x1="426.59" y1="328.03" x2="428.38" y2="328.03" stroke="#3d5a86" stroke-width="0.5" />
<line x1="429.09" y1="324.99" x2="429.09" y2="328.21" stroke="#3d5a86" stroke-width="0.55" />
<line x1="428.19" y1="324.99" x2="429.99" y2="324.99" stroke="#3d5a86" stroke-width="0.5" />
<line x1="428.19" y1="328.21" x2="429.99" y2="328.21" stroke="#3d5a86" stroke-width="0.5" />
<line x1="430.69" y1="325.10" x2="430.69" y2="328.44" stroke="#3d5a86" stroke-width="0.55" />
<line x1="429.80" y1="325.10" x2="431.59" y2="325.10" stroke="#3d5a86" stroke-width="0.5" />
<line x1="429.80" y1="328.44" x2="431.59" y2="328.44" stroke="#3d5a86" stroke-width="0.5" />
<line x1="432.30" y1="325.29" x2="432.30" y2="328.75" stroke="#3d5a86" stroke-width="0.55" />
<line x1="431.40" y1="325.29" x2="433.20" y2="325.29" stroke="#3d5a86" stroke-width="0.5" />
<line x1="431.40" y1="328.75" x2="433.20" y2="328.75" stroke="#3d5a86" stroke-width="0.5" />
<line x1="433.90" y1="325.48" x2="433.90" y2="329.06" stroke="#3d5a86" stroke-width="0.55" />
<line x1="433.00" y1="325.48" x2="434.80" y2="325.48" stroke="#3d5a86" stroke-width="0.5" />
<line x1="433.00" y1="329.06" x2="434.80" y2="329.06" stroke="#3d5a86" stroke-width="0.5" />
<line x1="435.51" y1="325.83" x2="435.51" y2="329.53" stroke="#3d5a86" stroke-width="0.55" />
<line x1="434.61" y1="325.83" x2="436.41" y2="325.83" stroke="#3d5a86" stroke-width="0.5" />
<line x1="434.61" y1="329.53" x2="436.41" y2="329.53" stroke="#3d5a86" stroke-width="0.5" />
<line x1="437.12" y1="326.27" x2="437.12" y2="330.09" stroke="#3d5a86" stroke-width="0.55" />
<line x1="436.22" y1="326.27" x2="438.01" y2="326.27" stroke="#3d5a86" stroke-width="0.5" />
<line x1="436.22" y1="330.09" x2="438.01" y2="330.09" stroke="#3d5a86" stroke-width="0.5" />
<line x1="438.72" y1="326.71" x2="438.72" y2="330.65" stroke="#3d5a86" stroke-width="0.55" />
<line x1="437.82" y1="326.71" x2="439.62" y2="326.71" stroke="#3d5a86" stroke-width="0.5" />
<line x1="437.82" y1="330.65" x2="439.62" y2="330.65" stroke="#3d5a86" stroke-width="0.5" />
<line x1="440.32" y1="327.15" x2="440.32" y2="331.21" stroke="#3d5a86" stroke-width="0.55" />
<line x1="439.43" y1="327.15" x2="441.22" y2="327.15" stroke="#3d5a86" stroke-width="0.5" />
<line x1="439.43" y1="331.21" x2="441.22" y2="331.21" stroke="#3d5a86" stroke-width="0.5" />
<line x1="441.93" y1="327.59" x2="441.93" y2="331.77" stroke="#3d5a86" stroke-width="0.55" />
<line x1="441.03" y1="327.59" x2="442.83" y2="327.59" stroke="#3d5a86" stroke-width="0.5" />
<line x1="441.03" y1="331.77" x2="442.83" y2="331.77" stroke="#3d5a86" stroke-width="0.5" />
<line x1="443.53" y1="328.03" x2="443.53" y2="332.32" stroke="#3d5a86" stroke-width="0.55" />
<line x1="442.63" y1="328.03" x2="444.43" y2="328.03" stroke="#3d5a86" stroke-width="0.5" />
<line x1="442.63" y1="332.32" x2="444.43" y2="332.32" stroke="#3d5a86" stroke-width="0.5" />
<line x1="445.14" y1="328.47" x2="445.14" y2="332.88" stroke="#3d5a86" stroke-width="0.55" />
<line x1="444.24" y1="328.47" x2="446.04" y2="328.47" stroke="#3d5a86" stroke-width="0.5" />
<line x1="444.24" y1="332.88" x2="446.04" y2="332.88" stroke="#3d5a86" stroke-width="0.5" />
<line x1="446.75" y1="328.91" x2="446.75" y2="333.44" stroke="#3d5a86" stroke-width="0.55" />
<line x1="445.85" y1="328.91" x2="447.64" y2="328.91" stroke="#3d5a86" stroke-width="0.5" />
<line x1="445.85" y1="333.44" x2="447.64" y2="333.44" stroke="#3d5a86" stroke-width="0.5" />
<path d="M400.2,320.7 L401.8,320.8 L403.4,320.8 L405.0,320.9 L406.6,321.0 L408.2,321.1 L409.8,321.7 L411.4,325.5 L413.0,325.8 L414.6,325.8 L416.2,325.9 L417.9,325.9 L419.5,326.0 L421.1,326.0 L422.7,326.1 L424.3,326.2 L425.9,326.4 L427.5,326.5 L429.1,326.6 L430.7,326.8 L432.3,327.0 L433.9,327.3 L435.5,327.7 L437.1,328.2 L438.7,328.7 L440.3,329.2 L441.9,329.7 L443.5,330.2 L445.1,330.7 L446.7,331.2" fill="none" stroke="#3d5a86" stroke-width="0.9" stroke-linejoin="round"/>
<path d="M400.20,319.57 L401.32,320.70 L400.20,321.82 L399.07,320.70Z" fill="#3d5a86" />
<path d="M401.81,319.65 L402.93,320.77 L401.81,321.90 L400.68,320.77Z" fill="#3d5a86" />
<path d="M403.41,319.72 L404.53,320.85 L403.41,321.97 L402.28,320.85Z" fill="#3d5a86" />
<path d="M405.01,319.80 L406.14,320.92 L405.01,322.05 L403.89,320.92Z" fill="#3d5a86" />
<path d="M406.62,319.87 L407.75,321.00 L406.62,322.12 L405.50,321.00Z" fill="#3d5a86" />
<path d="M408.22,319.95 L409.35,321.07 L408.22,322.20 L407.10,321.07Z" fill="#3d5a86" />
<path d="M409.83,320.59 L410.95,321.72 L409.83,322.84 L408.70,321.72Z" fill="#3d5a86" />
<path d="M411.44,324.33 L412.56,325.45 L411.44,326.58 L410.31,325.45Z" fill="#3d5a86" />
<path d="M413.04,324.63 L414.16,325.75 L413.04,326.88 L411.91,325.75Z" fill="#3d5a86" />
<path d="M414.64,324.68 L415.77,325.80 L414.64,326.93 L413.52,325.80Z" fill="#3d5a86" />
<path d="M416.25,324.73 L417.38,325.85 L416.25,326.98 L415.12,325.85Z" fill="#3d5a86" />
<path d="M417.86,324.78 L418.98,325.90 L417.86,327.03 L416.73,325.90Z" fill="#3d5a86" />
<path d="M419.46,324.83 L420.58,325.95 L419.46,327.08 L418.33,325.95Z" fill="#3d5a86" />
<path d="M421.06,324.88 L422.19,326.00 L421.06,327.13 L419.94,326.00Z" fill="#3d5a86" />
<path d="M422.67,324.98 L423.80,326.10 L422.67,327.23 L421.55,326.10Z" fill="#3d5a86" />
<path d="M424.27,325.10 L425.40,326.23 L424.27,327.35 L423.15,326.23Z" fill="#3d5a86" />
<path d="M425.88,325.23 L427.00,326.35 L425.88,327.48 L424.75,326.35Z" fill="#3d5a86" />
<path d="M427.49,325.35 L428.61,326.48 L427.49,327.60 L426.36,326.48Z" fill="#3d5a86" />
<path d="M429.09,325.48 L430.21,326.60 L429.09,327.73 L427.96,326.60Z" fill="#3d5a86" />
<path d="M430.69,325.64 L431.82,326.77 L430.69,327.89 L429.57,326.77Z" fill="#3d5a86" />
<path d="M432.30,325.89 L433.43,327.02 L432.30,328.14 L431.18,327.02Z" fill="#3d5a86" />
<path d="M433.90,326.14 L435.03,327.27 L433.90,328.39 L432.78,327.27Z" fill="#3d5a86" />
<path d="M435.51,326.56 L436.63,327.68 L435.51,328.81 L434.38,327.68Z" fill="#3d5a86" />
<path d="M437.12,327.06 L438.24,328.18 L437.12,329.31 L435.99,328.18Z" fill="#3d5a86" />
<path d="M438.72,327.56 L439.84,328.68 L438.72,329.81 L437.59,328.68Z" fill="#3d5a86" />
<path d="M440.32,328.05 L441.45,329.18 L440.32,330.30 L439.20,329.18Z" fill="#3d5a86" />
<path d="M441.93,328.55 L443.06,329.68 L441.93,330.80 L440.81,329.68Z" fill="#3d5a86" />
<path d="M443.53,329.05 L444.66,330.18 L443.53,331.30 L442.41,330.18Z" fill="#3d5a86" />
<path d="M445.14,329.55 L446.26,330.68 L445.14,331.80 L444.01,330.68Z" fill="#3d5a86" />
<path d="M446.75,330.05 L447.87,331.17 L446.75,332.30 L445.62,331.17Z" fill="#3d5a86" />
<line x1="421.06" y1="322.32" x2="421.06" y2="323.57" stroke="#6fa9dc" stroke-width="0.55" />
<line x1="420.17" y1="322.32" x2="421.96" y2="322.32" stroke="#6fa9dc" stroke-width="0.5" />
<line x1="420.17" y1="323.57" x2="421.96" y2="323.57" stroke="#6fa9dc" stroke-width="0.5" />
<line x1="422.67" y1="321.37" x2="422.67" y2="322.69" stroke="#6fa9dc" stroke-width="0.55" />
<line x1="421.77" y1="321.37" x2="423.57" y2="321.37" stroke="#6fa9dc" stroke-width="0.5" />
<line x1="421.77" y1="322.69" x2="423.57" y2="322.69" stroke="#6fa9dc" stroke-width="0.5" />
<line x1="424.27" y1="320.32" x2="424.27" y2="321.74" stroke="#6fa9dc" stroke-width="0.55" />
<line x1="423.38" y1="320.32" x2="425.17" y2="320.32" stroke="#6fa9dc" stroke-width="0.5" />
<line x1="423.38" y1="321.74" x2="425.17" y2="321.74" stroke="#6fa9dc" stroke-width="0.5" />
<line x1="425.88" y1="319.26" x2="425.88" y2="320.81" stroke="#6fa9dc" stroke-width="0.55" />
<line x1="424.98" y1="319.26" x2="426.78" y2="319.26" stroke="#6fa9dc" stroke-width="0.5" />
<line x1="424.98" y1="320.81" x2="426.78" y2="320.81" stroke="#6fa9dc" stroke-width="0.5" />
<line x1="427.49" y1="317.70" x2="427.49" y2="319.38" stroke="#6fa9dc" stroke-width="0.55" />
<line x1="426.59" y1="317.70" x2="428.38" y2="317.70" stroke="#6fa9dc" stroke-width="0.5" />
<line x1="426.59" y1="319.38" x2="428.38" y2="319.38" stroke="#6fa9dc" stroke-width="0.5" />
<line x1="429.09" y1="316.12" x2="429.09" y2="317.96" stroke="#6fa9dc" stroke-width="0.55" />
<line x1="428.19" y1="316.12" x2="429.99" y2="316.12" stroke="#6fa9dc" stroke-width="0.5" />
<line x1="428.19" y1="317.96" x2="429.99" y2="317.96" stroke="#6fa9dc" stroke-width="0.5" />
<line x1="430.69" y1="314.45" x2="430.69" y2="316.47" stroke="#6fa9dc" stroke-width="0.55" />
<line x1="429.80" y1="314.45" x2="431.59" y2="314.45" stroke="#6fa9dc" stroke-width="0.5" />
<line x1="429.80" y1="316.47" x2="431.59" y2="316.47" stroke="#6fa9dc" stroke-width="0.5" />
<line x1="432.30" y1="312.60" x2="432.30" y2="314.83" stroke="#6fa9dc" stroke-width="0.55" />
<line x1="431.40" y1="312.60" x2="433.20" y2="312.60" stroke="#6fa9dc" stroke-width="0.5" />
<line x1="431.40" y1="314.83" x2="433.20" y2="314.83" stroke="#6fa9dc" stroke-width="0.5" />
<line x1="433.90" y1="310.74" x2="433.90" y2="313.20" stroke="#6fa9dc" stroke-width="0.55" />
<line x1="433.00" y1="310.74" x2="434.80" y2="310.74" stroke="#6fa9dc" stroke-width="0.5" />
<line x1="433.00" y1="313.20" x2="434.80" y2="313.20" stroke="#6fa9dc" stroke-width="0.5" />
<line x1="435.51" y1="308.70" x2="435.51" y2="311.42" stroke="#6fa9dc" stroke-width="0.55" />
<line x1="434.61" y1="308.70" x2="436.41" y2="308.70" stroke="#6fa9dc" stroke-width="0.5" />
<line x1="434.61" y1="311.42" x2="436.41" y2="311.42" stroke="#6fa9dc" stroke-width="0.5" />
<line x1="437.12" y1="306.57" x2="437.12" y2="309.56" stroke="#6fa9dc" stroke-width="0.55" />
<line x1="436.22" y1="306.57" x2="438.01" y2="306.57" stroke="#6fa9dc" stroke-width="0.5" />
<line x1="436.22" y1="309.56" x2="438.01" y2="309.56" stroke="#6fa9dc" stroke-width="0.5" />
<line x1="438.72" y1="304.42" x2="438.72" y2="307.72" stroke="#6fa9dc" stroke-width="0.55" />
<line x1="437.82" y1="304.42" x2="439.62" y2="304.42" stroke="#6fa9dc" stroke-width="0.5" />
<line x1="437.82" y1="307.72" x2="439.62" y2="307.72" stroke="#6fa9dc" stroke-width="0.5" />
<line x1="440.32" y1="302.00" x2="440.32" y2="305.65" stroke="#6fa9dc" stroke-width="0.55" />
<line x1="439.43" y1="302.00" x2="441.22" y2="302.00" stroke="#6fa9dc" stroke-width="0.5" />
<line x1="439.43" y1="305.65" x2="441.22" y2="305.65" stroke="#6fa9dc" stroke-width="0.5" />
<line x1="441.93" y1="299.57" x2="441.93" y2="303.59" stroke="#6fa9dc" stroke-width="0.55" />
<line x1="441.03" y1="299.57" x2="442.83" y2="299.57" stroke="#6fa9dc" stroke-width="0.5" />
<line x1="441.03" y1="303.59" x2="442.83" y2="303.59" stroke="#6fa9dc" stroke-width="0.5" />
<line x1="443.53" y1="297.30" x2="443.53" y2="301.71" stroke="#6fa9dc" stroke-width="0.55" />
<line x1="442.63" y1="297.30" x2="444.43" y2="297.30" stroke="#6fa9dc" stroke-width="0.5" />
<line x1="442.63" y1="301.71" x2="444.43" y2="301.71" stroke="#6fa9dc" stroke-width="0.5" />
<line x1="445.14" y1="295.34" x2="445.14" y2="300.18" stroke="#6fa9dc" stroke-width="0.55" />
<line x1="444.24" y1="295.34" x2="446.04" y2="295.34" stroke="#6fa9dc" stroke-width="0.5" />
<line x1="444.24" y1="300.18" x2="446.04" y2="300.18" stroke="#6fa9dc" stroke-width="0.5" />
<line x1="446.75" y1="293.37" x2="446.75" y2="298.66" stroke="#6fa9dc" stroke-width="0.55" />
<line x1="445.85" y1="293.37" x2="447.64" y2="293.37" stroke="#6fa9dc" stroke-width="0.5" />
<line x1="445.85" y1="298.66" x2="447.64" y2="298.66" stroke="#6fa9dc" stroke-width="0.5" />
<path d="M400.2,320.7 L401.8,320.6 L403.4,320.5 L405.0,320.5 L406.6,320.6 L408.2,320.7 L409.8,321.1 L411.4,325.1 L413.0,325.4 L414.6,325.1 L416.2,324.9 L417.9,324.4 L419.5,323.7 L421.1,322.9 L422.7,322.0 L424.3,321.0 L425.9,320.0 L427.5,318.5 L429.1,317.0 L430.7,315.5 L432.3,313.7 L433.9,312.0 L435.5,310.1 L437.1,308.1 L438.7,306.1 L440.3,303.8 L441.9,301.6 L443.5,299.5 L445.1,297.8 L446.7,296.0" fill="none" stroke="#6fa9dc" stroke-width="0.8" stroke-linejoin="round"/>
<line x1="399.30" y1="319.80" x2="401.10" y2="321.60" stroke="#6fa9dc" stroke-width="0.6" />
<line x1="399.30" y1="321.60" x2="401.10" y2="319.80" stroke="#6fa9dc" stroke-width="0.6" />
<line x1="400.91" y1="319.70" x2="402.70" y2="321.50" stroke="#6fa9dc" stroke-width="0.6" />
<line x1="400.91" y1="321.50" x2="402.70" y2="319.70" stroke="#6fa9dc" stroke-width="0.6" />
<line x1="402.51" y1="319.60" x2="404.31" y2="321.40" stroke="#6fa9dc" stroke-width="0.6" />
<line x1="402.51" y1="321.40" x2="404.31" y2="319.60" stroke="#6fa9dc" stroke-width="0.6" />
<line x1="404.12" y1="319.57" x2="405.91" y2="321.37" stroke="#6fa9dc" stroke-width="0.6" />
<line x1="404.12" y1="321.37" x2="405.91" y2="319.57" stroke="#6fa9dc" stroke-width="0.6" />
<line x1="405.72" y1="319.67" x2="407.52" y2="321.47" stroke="#6fa9dc" stroke-width="0.6" />
<line x1="405.72" y1="321.47" x2="407.52" y2="319.67" stroke="#6fa9dc" stroke-width="0.6" />
<line x1="407.32" y1="319.77" x2="409.12" y2="321.57" stroke="#6fa9dc" stroke-width="0.6" />
<line x1="407.32" y1="321.57" x2="409.12" y2="319.77" stroke="#6fa9dc" stroke-width="0.6" />
<line x1="408.93" y1="320.24" x2="410.73" y2="322.04" stroke="#6fa9dc" stroke-width="0.6" />
<line x1="408.93" y1="322.04" x2="410.73" y2="320.24" stroke="#6fa9dc" stroke-width="0.6" />
<line x1="410.54" y1="324.16" x2="412.33" y2="325.96" stroke="#6fa9dc" stroke-width="0.6" />
<line x1="410.54" y1="325.96" x2="412.33" y2="324.16" stroke="#6fa9dc" stroke-width="0.6" />
<line x1="412.14" y1="324.46" x2="413.94" y2="326.25" stroke="#6fa9dc" stroke-width="0.6" />
<line x1="412.14" y1="326.25" x2="413.94" y2="324.46" stroke="#6fa9dc" stroke-width="0.6" />
<line x1="413.75" y1="324.21" x2="415.54" y2="326.01" stroke="#6fa9dc" stroke-width="0.6" />
<line x1="413.75" y1="326.01" x2="415.54" y2="324.21" stroke="#6fa9dc" stroke-width="0.6" />
<line x1="415.35" y1="323.96" x2="417.15" y2="325.76" stroke="#6fa9dc" stroke-width="0.6" />
<line x1="415.35" y1="325.76" x2="417.15" y2="323.96" stroke="#6fa9dc" stroke-width="0.6" />
<line x1="416.96" y1="323.54" x2="418.75" y2="325.34" stroke="#6fa9dc" stroke-width="0.6" />
<line x1="416.96" y1="325.34" x2="418.75" y2="323.54" stroke="#6fa9dc" stroke-width="0.6" />
<line x1="418.56" y1="322.79" x2="420.36" y2="324.59" stroke="#6fa9dc" stroke-width="0.6" />
<line x1="418.56" y1="324.59" x2="420.36" y2="322.79" stroke="#6fa9dc" stroke-width="0.6" />
<line x1="420.17" y1="322.04" x2="421.96" y2="323.84" stroke="#6fa9dc" stroke-width="0.6" />
<line x1="420.17" y1="323.84" x2="421.96" y2="322.04" stroke="#6fa9dc" stroke-width="0.6" />
<line x1="421.77" y1="321.13" x2="423.57" y2="322.93" stroke="#6fa9dc" stroke-width="0.6" />
<line x1="421.77" y1="322.93" x2="423.57" y2="321.13" stroke="#6fa9dc" stroke-width="0.6" />
<line x1="423.38" y1="320.13" x2="425.17" y2="321.93" stroke="#6fa9dc" stroke-width="0.6" />
<line x1="423.38" y1="321.93" x2="425.17" y2="320.13" stroke="#6fa9dc" stroke-width="0.6" />
<line x1="424.98" y1="319.14" x2="426.78" y2="320.94" stroke="#6fa9dc" stroke-width="0.6" />
<line x1="424.98" y1="320.94" x2="426.78" y2="319.14" stroke="#6fa9dc" stroke-width="0.6" />
<line x1="426.59" y1="317.64" x2="428.38" y2="319.44" stroke="#6fa9dc" stroke-width="0.6" />
<line x1="426.59" y1="319.44" x2="428.38" y2="317.64" stroke="#6fa9dc" stroke-width="0.6" />
<line x1="428.19" y1="316.14" x2="429.99" y2="317.94" stroke="#6fa9dc" stroke-width="0.6" />
<line x1="428.19" y1="317.94" x2="429.99" y2="316.14" stroke="#6fa9dc" stroke-width="0.6" />
<line x1="429.80" y1="314.56" x2="431.59" y2="316.36" stroke="#6fa9dc" stroke-width="0.6" />
<line x1="429.80" y1="316.36" x2="431.59" y2="314.56" stroke="#6fa9dc" stroke-width="0.6" />
<line x1="431.40" y1="312.82" x2="433.20" y2="314.62" stroke="#6fa9dc" stroke-width="0.6" />
<line x1="431.40" y1="314.62" x2="433.20" y2="312.82" stroke="#6fa9dc" stroke-width="0.6" />
<line x1="433.00" y1="311.07" x2="434.80" y2="312.87" stroke="#6fa9dc" stroke-width="0.6" />
<line x1="433.00" y1="312.87" x2="434.80" y2="311.07" stroke="#6fa9dc" stroke-width="0.6" />
<line x1="434.61" y1="309.16" x2="436.41" y2="310.96" stroke="#6fa9dc" stroke-width="0.6" />
<line x1="434.61" y1="310.96" x2="436.41" y2="309.16" stroke="#6fa9dc" stroke-width="0.6" />
<line x1="436.22" y1="307.17" x2="438.01" y2="308.96" stroke="#6fa9dc" stroke-width="0.6" />
<line x1="436.22" y1="308.96" x2="438.01" y2="307.17" stroke="#6fa9dc" stroke-width="0.6" />
<line x1="437.82" y1="305.17" x2="439.62" y2="306.97" stroke="#6fa9dc" stroke-width="0.6" />
<line x1="437.82" y1="306.97" x2="439.62" y2="305.17" stroke="#6fa9dc" stroke-width="0.6" />
<line x1="439.43" y1="302.93" x2="441.22" y2="304.73" stroke="#6fa9dc" stroke-width="0.6" />
<line x1="439.43" y1="304.73" x2="441.22" y2="302.93" stroke="#6fa9dc" stroke-width="0.6" />
<line x1="441.03" y1="300.68" x2="442.83" y2="302.48" stroke="#6fa9dc" stroke-width="0.6" />
<line x1="441.03" y1="302.48" x2="442.83" y2="300.68" stroke="#6fa9dc" stroke-width="0.6" />
<line x1="442.63" y1="298.60" x2="444.43" y2="300.40" stroke="#6fa9dc" stroke-width="0.6" />
<line x1="442.63" y1="300.40" x2="444.43" y2="298.60" stroke="#6fa9dc" stroke-width="0.6" />
<line x1="444.24" y1="296.86" x2="446.04" y2="298.66" stroke="#6fa9dc" stroke-width="0.6" />
<line x1="444.24" y1="298.66" x2="446.04" y2="296.86" stroke="#6fa9dc" stroke-width="0.6" />
<line x1="445.85" y1="295.11" x2="447.64" y2="296.91" stroke="#6fa9dc" stroke-width="0.6" />
<line x1="445.85" y1="296.91" x2="447.64" y2="295.11" stroke="#6fa9dc" stroke-width="0.6" />
<line x1="400.20" y1="320.03" x2="400.20" y2="321.37" stroke="#ad2b37" stroke-width="0.55" />
<line x1="399.30" y1="320.03" x2="401.10" y2="320.03" stroke="#ad2b37" stroke-width="0.5" />
<line x1="399.30" y1="321.37" x2="401.10" y2="321.37" stroke="#ad2b37" stroke-width="0.5" />
<line x1="401.81" y1="319.71" x2="401.81" y2="321.20" stroke="#ad2b37" stroke-width="0.55" />
<line x1="400.91" y1="319.71" x2="402.70" y2="319.71" stroke="#ad2b37" stroke-width="0.5" />
<line x1="400.91" y1="321.20" x2="402.70" y2="321.20" stroke="#ad2b37" stroke-width="0.5" />
<line x1="403.41" y1="319.38" x2="403.41" y2="321.03" stroke="#ad2b37" stroke-width="0.55" />
<line x1="402.51" y1="319.38" x2="404.31" y2="319.38" stroke="#ad2b37" stroke-width="0.5" />
<line x1="402.51" y1="321.03" x2="404.31" y2="321.03" stroke="#ad2b37" stroke-width="0.5" />
<line x1="405.01" y1="318.71" x2="405.01" y2="320.52" stroke="#ad2b37" stroke-width="0.55" />
<line x1="404.12" y1="318.71" x2="405.91" y2="318.71" stroke="#ad2b37" stroke-width="0.5" />
<line x1="404.12" y1="320.52" x2="405.91" y2="320.52" stroke="#ad2b37" stroke-width="0.5" />
<line x1="406.62" y1="317.39" x2="406.62" y2="319.36" stroke="#ad2b37" stroke-width="0.55" />
<line x1="405.72" y1="317.39" x2="407.52" y2="317.39" stroke="#ad2b37" stroke-width="0.5" />
<line x1="405.72" y1="319.36" x2="407.52" y2="319.36" stroke="#ad2b37" stroke-width="0.5" />
<line x1="408.22" y1="316.06" x2="408.22" y2="318.19" stroke="#ad2b37" stroke-width="0.55" />
<line x1="407.32" y1="316.06" x2="409.12" y2="316.06" stroke="#ad2b37" stroke-width="0.5" />
<line x1="407.32" y1="318.19" x2="409.12" y2="318.19" stroke="#ad2b37" stroke-width="0.5" />
<line x1="409.83" y1="314.24" x2="409.83" y2="316.52" stroke="#ad2b37" stroke-width="0.55" />
<line x1="408.93" y1="314.24" x2="410.73" y2="314.24" stroke="#ad2b37" stroke-width="0.5" />
<line x1="408.93" y1="316.52" x2="410.73" y2="316.52" stroke="#ad2b37" stroke-width="0.5" />
<line x1="411.44" y1="311.83" x2="411.44" y2="314.28" stroke="#ad2b37" stroke-width="0.55" />
<line x1="410.54" y1="311.83" x2="412.33" y2="311.83" stroke="#ad2b37" stroke-width="0.5" />
<line x1="410.54" y1="314.28" x2="412.33" y2="314.28" stroke="#ad2b37" stroke-width="0.5" />
<line x1="413.04" y1="308.76" x2="413.04" y2="311.36" stroke="#ad2b37" stroke-width="0.55" />
<line x1="412.14" y1="308.76" x2="413.94" y2="308.76" stroke="#ad2b37" stroke-width="0.5" />
<line x1="412.14" y1="311.36" x2="413.94" y2="311.36" stroke="#ad2b37" stroke-width="0.5" />
<line x1="414.64" y1="306.68" x2="414.64" y2="309.45" stroke="#ad2b37" stroke-width="0.55" />
<line x1="413.75" y1="306.68" x2="415.54" y2="306.68" stroke="#ad2b37" stroke-width="0.5" />
<line x1="413.75" y1="309.45" x2="415.54" y2="309.45" stroke="#ad2b37" stroke-width="0.5" />
<line x1="416.25" y1="303.94" x2="416.25" y2="306.87" stroke="#ad2b37" stroke-width="0.55" />
<line x1="415.35" y1="303.94" x2="417.15" y2="303.94" stroke="#ad2b37" stroke-width="0.5" />
<line x1="415.35" y1="306.87" x2="417.15" y2="306.87" stroke="#ad2b37" stroke-width="0.5" />
<line x1="417.86" y1="300.70" x2="417.86" y2="303.79" stroke="#ad2b37" stroke-width="0.55" />
<line x1="416.96" y1="300.70" x2="418.75" y2="300.70" stroke="#ad2b37" stroke-width="0.5" />
<line x1="416.96" y1="303.79" x2="418.75" y2="303.79" stroke="#ad2b37" stroke-width="0.5" />
<line x1="419.46" y1="297.13" x2="419.46" y2="300.38" stroke="#ad2b37" stroke-width="0.55" />
<line x1="418.56" y1="297.13" x2="420.36" y2="297.13" stroke="#ad2b37" stroke-width="0.5" />
<line x1="418.56" y1="300.38" x2="420.36" y2="300.38" stroke="#ad2b37" stroke-width="0.5" />
<line x1="421.06" y1="294.56" x2="421.06" y2="297.96" stroke="#ad2b37" stroke-width="0.55" />
<line x1="420.17" y1="294.56" x2="421.96" y2="294.56" stroke="#ad2b37" stroke-width="0.5" />
<line x1="420.17" y1="297.96" x2="421.96" y2="297.96" stroke="#ad2b37" stroke-width="0.5" />
<line x1="422.67" y1="291.65" x2="422.67" y2="295.22" stroke="#ad2b37" stroke-width="0.55" />
<line x1="421.77" y1="291.65" x2="423.57" y2="291.65" stroke="#ad2b37" stroke-width="0.5" />
<line x1="421.77" y1="295.22" x2="423.57" y2="295.22" stroke="#ad2b37" stroke-width="0.5" />
<line x1="424.27" y1="288.58" x2="424.27" y2="292.30" stroke="#ad2b37" stroke-width="0.55" />
<line x1="423.38" y1="288.58" x2="425.17" y2="288.58" stroke="#ad2b37" stroke-width="0.5" />
<line x1="423.38" y1="292.30" x2="425.17" y2="292.30" stroke="#ad2b37" stroke-width="0.5" />
<line x1="425.88" y1="285.51" x2="425.88" y2="289.39" stroke="#ad2b37" stroke-width="0.55" />
<line x1="424.98" y1="285.51" x2="426.78" y2="285.51" stroke="#ad2b37" stroke-width="0.5" />
<line x1="424.98" y1="289.39" x2="426.78" y2="289.39" stroke="#ad2b37" stroke-width="0.5" />
<line x1="427.49" y1="281.44" x2="427.49" y2="285.48" stroke="#ad2b37" stroke-width="0.55" />
<line x1="426.59" y1="281.44" x2="428.38" y2="281.44" stroke="#ad2b37" stroke-width="0.5" />
<line x1="426.59" y1="285.48" x2="428.38" y2="285.48" stroke="#ad2b37" stroke-width="0.5" />
<path d="M400.2,320.7 L401.8,320.5 L403.4,320.2 L405.0,319.6 L406.6,318.4 L408.2,317.1 L409.8,315.4 L411.4,313.1 L413.0,310.1 L414.6,308.1 L416.2,305.4 L417.9,302.2 L419.5,298.8 L421.1,296.3 L422.7,293.4 L424.3,290.4 L425.9,287.4 L427.5,283.5" fill="none" stroke="#ad2b37" stroke-width="0.85" stroke-linejoin="round"/>
<rect x="399.30" y="319.80" width="1.80" height="1.80" fill="#ad2b37" />
<rect x="400.91" y="319.55" width="1.80" height="1.80" fill="#ad2b37" />
<rect x="402.51" y="319.30" width="1.80" height="1.80" fill="#ad2b37" />
<rect x="404.12" y="318.72" width="1.80" height="1.80" fill="#ad2b37" />
<rect x="405.72" y="317.47" width="1.80" height="1.80" fill="#ad2b37" />
<rect x="407.32" y="316.23" width="1.80" height="1.80" fill="#ad2b37" />
<rect x="408.93" y="314.48" width="1.80" height="1.80" fill="#ad2b37" />
<rect x="410.54" y="312.15" width="1.80" height="1.80" fill="#ad2b37" />
<rect x="412.14" y="309.16" width="1.80" height="1.80" fill="#ad2b37" />
<rect x="413.75" y="307.17" width="1.80" height="1.80" fill="#ad2b37" />
<rect x="415.35" y="304.50" width="1.80" height="1.80" fill="#ad2b37" />
<rect x="416.96" y="301.35" width="1.80" height="1.80" fill="#ad2b37" />
<rect x="418.56" y="297.86" width="1.80" height="1.80" fill="#ad2b37" />
<rect x="420.17" y="295.36" width="1.80" height="1.80" fill="#ad2b37" />
<rect x="421.77" y="292.54" width="1.80" height="1.80" fill="#ad2b37" />
<rect x="423.38" y="289.54" width="1.80" height="1.80" fill="#ad2b37" />
<rect x="424.98" y="286.55" width="1.80" height="1.80" fill="#ad2b37" />
<rect x="426.59" y="282.56" width="1.80" height="1.80" fill="#ad2b37" />
<path d="M450.49,296.10 L452.89,296.10 L452.89,331.34 L450.49,331.34" fill="none" stroke="#222" stroke-width="0.8" />
<text x="459.79" y="313.72" font-size="7.0" text-anchor="middle" fill="#231f20" stroke="#231f20" stroke-width="0.35" textLength="9.8" lengthAdjust="spacingAndGlyphs" transform="rotate(-90 459.79 313.72)" >****</text>
<text x="376.80" y="306.30" font-size="7.2" text-anchor="middle" fill="#231f20" stroke="#231f20" stroke-width="0.14" textLength="50.7" lengthAdjust="spacingAndGlyphs" transform="rotate(-90 376.80 306.30)" >Total tumor GFP</text>
<text x="385.20" y="306.30" font-size="7.2" text-anchor="middle" fill="#231f20" stroke="#231f20" stroke-width="0.14" textLength="80" lengthAdjust="spacingAndGlyphs" transform="rotate(-90 385.20 306.30)" >fluorescence (normalized)</text>
<line x1="462.00" y1="202.60" x2="467.60" y2="202.60" stroke="#3d5a86" stroke-width="0.8" />
<circle cx="464.80" cy="202.60" r="1.5" fill="#3d5a86"/>
<text x="470.40" y="204.70" font-size="5.9" text-anchor="start" fill="#333" stroke="#333" stroke-width="0.1" textLength="17.5" lengthAdjust="spacingAndGlyphs" >Vehicle</text>
<line x1="462.00" y1="211.00" x2="467.60" y2="211.00" stroke="#ad2b37" stroke-width="0.8" />
<circle cx="464.80" cy="211.00" r="1.5" fill="#ad2b37"/>
<text x="470.40" y="213.10" font-size="5.9" text-anchor="start" fill="#333" stroke="#333" stroke-width="0.1" textLength="20.5" lengthAdjust="spacingAndGlyphs" >Dasatinib</text>
<line x1="462.00" y1="220.60" x2="467.60" y2="220.60" stroke="#66ad47" stroke-width="0.8" />
<circle cx="464.80" cy="220.60" r="1.5" fill="#66ad47"/>
<text x="470.40" y="222.70" font-size="5.9" text-anchor="start" fill="#333" stroke="#333" stroke-width="0.1" textLength="41.5" lengthAdjust="spacingAndGlyphs" >Dasatinib washout</text>
<text x="470.40" y="228.90" font-size="5.9" text-anchor="start" fill="#333" stroke="#333" stroke-width="0.1" textLength="20.5" lengthAdjust="spacingAndGlyphs" >at t=20hr</text>
<line x1="462.00" y1="293.60" x2="467.60" y2="293.60" stroke="#3d5a86" stroke-width="0.8" />
<circle cx="464.80" cy="293.60" r="1.5" fill="#3d5a86"/>
<text x="470.40" y="295.70" font-size="5.9" text-anchor="start" fill="#333" stroke="#333" stroke-width="0.1" textLength="17.5" lengthAdjust="spacingAndGlyphs" >Vehicle</text>
<line x1="462.00" y1="301.70" x2="467.60" y2="301.70" stroke="#ad2b37" stroke-width="0.8" />
<circle cx="464.80" cy="301.70" r="1.5" fill="#ad2b37"/>
<text x="470.40" y="303.80" font-size="5.9" text-anchor="start" fill="#333" stroke="#333" stroke-width="0.1" textLength="20.5" lengthAdjust="spacingAndGlyphs" >Dasatinib</text>
<line x1="462.00" y1="311.40" x2="467.60" y2="311.40" stroke="#6fa9dc" stroke-width="0.8" />
<circle cx="464.80" cy="311.40" r="1.5" fill="#6fa9dc"/>
<text x="470.40" y="313.50" font-size="5.9" text-anchor="start" fill="#333" stroke="#333" stroke-width="0.1" textLength="37" lengthAdjust="spacingAndGlyphs" >Dasatinib added</text>
<text x="470.40" y="319.10" font-size="5.9" text-anchor="start" fill="#333" stroke="#333" stroke-width="0.1" textLength="20.5" lengthAdjust="spacingAndGlyphs" >at t=20hr</text>
<text x="7.50" y="472.50" font-size="11.4" text-anchor="start" fill="#231f20" stroke="#231f20" stroke-width="0.14" textLength="6.6" lengthAdjust="spacingAndGlyphs" >C</text>
<text x="93.30" y="474.00" font-size="6.6" text-anchor="middle" fill="#231f20" stroke="#231f20" stroke-width="0.14" textLength="26.3" lengthAdjust="spacingAndGlyphs" >CD19.28ζ</text>
<text x="213.30" y="474.00" font-size="6.6" text-anchor="middle" fill="#231f20" stroke="#231f20" stroke-width="0.14" textLength="27" lengthAdjust="spacingAndGlyphs" >CD19.BBζ</text>
<line x1="60.80" y1="541.20" x2="127.10" y2="541.20" stroke="#111" stroke-width="0.9" />
<line x1="60.80" y1="541.65" x2="60.80" y2="494.30" stroke="#111" stroke-width="0.9" />
<line x1="57.60" y1="541.20" x2="60.80" y2="541.20" stroke="#111" stroke-width="0.7" />
<text x="54.60" y="543.29" font-size="5.8" text-anchor="end" fill="#231f20" stroke="#231f20" stroke-width="0.14" >0</text>
<line x1="57.60" y1="530.23" x2="60.80" y2="530.23" stroke="#111" stroke-width="0.7" />
<text x="54.60" y="532.31" font-size="5.8" text-anchor="end" fill="#231f20" stroke="#231f20" stroke-width="0.14" >10000</text>
<line x1="57.60" y1="519.25" x2="60.80" y2="519.25" stroke="#111" stroke-width="0.7" />
<text x="54.60" y="521.34" font-size="5.8" text-anchor="end" fill="#231f20" stroke="#231f20" stroke-width="0.14" >20000</text>
<line x1="57.60" y1="508.28" x2="60.80" y2="508.28" stroke="#111" stroke-width="0.7" />
<text x="54.60" y="510.36" font-size="5.8" text-anchor="end" fill="#231f20" stroke="#231f20" stroke-width="0.14" >30000</text>
<line x1="57.60" y1="497.30" x2="60.80" y2="497.30" stroke="#111" stroke-width="0.7" />
<text x="54.60" y="499.39" font-size="5.8" text-anchor="end" fill="#231f20" stroke="#231f20" stroke-width="0.14" >40000</text>
<rect x="62.30" y="507.18" width="7.10" height="34.02" fill="#fff" stroke="#8aa3c6" stroke-width="1.0" />
<circle cx="65.50" cy="503.67" r="1.35" fill="#3d5a86"/>
<circle cx="64.80" cy="507.18" r="1.35" fill="#3d5a86"/>
<circle cx="68.00" cy="506.96" r="1.35" fill="#3d5a86"/>
<rect x="70.40" y="531.32" width="5.00" height="9.88" fill="#fff" stroke="#c9646f" stroke-width="1.0" />
<circle cx="72.00" cy="530.44" r="1.35" fill="#ad2b37"/>
<circle cx="73.60" cy="530.99" r="1.35" fill="#ad2b37"/>
<circle cx="72.80" cy="531.32" r="1.35" fill="#ad2b37"/>
<rect x="96.30" y="512.01" width="6.40" height="29.19" fill="#fff" stroke="#8aa3c6" stroke-width="1.0" />
<circle cx="98.00" cy="507.73" r="1.35" fill="#3d5a86"/>
<circle cx="100.00" cy="509.92" r="1.35" fill="#3d5a86"/>
<circle cx="101.20" cy="516.51" r="1.35" fill="#3d5a86"/>
<circle cx="99.00" cy="508.28" r="1.35" fill="#3d5a86"/>
<rect x="104.60" y="528.25" width="4.60" height="12.95" fill="#fff" stroke="#c9646f" stroke-width="1.0" />
<circle cx="106.00" cy="527.48" r="1.35" fill="#ad2b37"/>
<circle cx="107.60" cy="528.14" r="1.35" fill="#ad2b37"/>
<circle cx="106.80" cy="528.58" r="1.35" fill="#ad2b37"/>
<text x="78.70" y="538.60" font-size="5.4" text-anchor="middle" fill="#333" stroke="#333" stroke-width="0.14" textLength="8.2" lengthAdjust="spacingAndGlyphs" >n.d.</text>
<text x="88.40" y="538.60" font-size="5.4" text-anchor="middle" fill="#333" stroke="#333" stroke-width="0.14" textLength="8.2" lengthAdjust="spacingAndGlyphs" >n.d.</text>
<text x="112.60" y="538.60" font-size="5.4" text-anchor="middle" fill="#333" stroke="#333" stroke-width="0.14" textLength="8.2" lengthAdjust="spacingAndGlyphs" >n.d.</text>
<text x="121.90" y="538.60" font-size="5.4" text-anchor="middle" fill="#333" stroke="#333" stroke-width="0.14" textLength="8.2" lengthAdjust="spacingAndGlyphs" >n.d.</text>
<circle cx="79.60" cy="541.20" r="1.6" fill="#6fa9dc"/>
<circle cx="87.30" cy="541.20" r="1.6" fill="#66ad47"/>
<circle cx="113.70" cy="541.20" r="1.6" fill="#6fa9dc"/>
<circle cx="121.30" cy="541.20" r="1.6" fill="#66ad47"/>
<line x1="76.20" y1="541.20" x2="76.20" y2="543.00" stroke="#111" stroke-width="0.7" />
<line x1="109.80" y1="541.20" x2="109.80" y2="543.00" stroke="#111" stroke-width="0.7" />
<line x1="65.00" y1="482.50" x2="87.30" y2="482.50" stroke="#333" stroke-width="0.85" />
<text x="76.25" y="482.65" font-size="6.6" text-anchor="middle" fill="#222" stroke="#222" stroke-width="0.35" textLength="10.3" lengthAdjust="spacingAndGlyphs" >****</text>
<line x1="65.00" y1="491.50" x2="80.00" y2="491.50" stroke="#333" stroke-width="0.85" />
<text x="72.60" y="491.65" font-size="6.6" text-anchor="middle" fill="#222" stroke="#222" stroke-width="0.35" textLength="10.3" lengthAdjust="spacingAndGlyphs" >****</text>
<line x1="65.00" y1="499.50" x2="73.80" y2="499.50" stroke="#333" stroke-width="0.85" />
<text x="69.50" y="499.65" font-size="6.6" text-anchor="middle" fill="#222" stroke="#222" stroke-width="0.35" textLength="10.3" lengthAdjust="spacingAndGlyphs" >****</text>
<line x1="99.20" y1="482.50" x2="121.30" y2="482.50" stroke="#333" stroke-width="0.85" />
<text x="110.35" y="482.65" font-size="6.6" text-anchor="middle" fill="#222" stroke="#222" stroke-width="0.35" textLength="10.3" lengthAdjust="spacingAndGlyphs" >****</text>
<line x1="99.20" y1="491.50" x2="114.20" y2="491.50" stroke="#333" stroke-width="0.85" />
<text x="106.80" y="491.65" font-size="6.6" text-anchor="middle" fill="#222" stroke="#222" stroke-width="0.35" textLength="10.3" lengthAdjust="spacingAndGlyphs" >****</text>
<line x1="99.20" y1="499.50" x2="106.90" y2="499.50" stroke="#333" stroke-width="0.85" />
<text x="103.15" y="499.65" font-size="6.6" text-anchor="middle" fill="#222" stroke="#222" stroke-width="0.35" textLength="10.3" lengthAdjust="spacingAndGlyphs" >****</text>
<text x="76.10" y="552.40" font-size="6.4" text-anchor="middle" fill="#231f20" stroke="#231f20" stroke-width="0.14" textLength="9.6" lengthAdjust="spacingAndGlyphs" >IL-2</text>
<text x="110.10" y="552.40" font-size="6.4" text-anchor="middle" fill="#231f20" stroke="#231f20" stroke-width="0.14" textLength="11.2" lengthAdjust="spacingAndGlyphs" >IFNγ</text>
<line x1="179.80" y1="541.20" x2="245.20" y2="541.20" stroke="#111" stroke-width="0.9" />
<line x1="179.80" y1="541.65" x2="179.80" y2="494.30" stroke="#111" stroke-width="0.9" />
<line x1="176.60" y1="541.20" x2="179.80" y2="541.20" stroke="#111" stroke-width="0.7" />
<text x="173.60" y="543.29" font-size="5.8" text-anchor="end" fill="#231f20" stroke="#231f20" stroke-width="0.14" >0</text>
<line x1="176.60" y1="530.23" x2="179.80" y2="530.23" stroke="#111" stroke-width="0.7" />
<text x="173.60" y="532.31" font-size="5.8" text-anchor="end" fill="#231f20" stroke="#231f20" stroke-width="0.14" >3000</text>
<line x1="176.60" y1="519.25" x2="179.80" y2="519.25" stroke="#111" stroke-width="0.7" />
<text x="173.60" y="521.34" font-size="5.8" text-anchor="end" fill="#231f20" stroke="#231f20" stroke-width="0.14" >6000</text>
<line x1="176.60" y1="508.28" x2="179.80" y2="508.28" stroke="#111" stroke-width="0.7" />
<text x="173.60" y="510.36" font-size="5.8" text-anchor="end" fill="#231f20" stroke="#231f20" stroke-width="0.14" >9000</text>
<line x1="176.60" y1="497.30" x2="179.80" y2="497.30" stroke="#111" stroke-width="0.7" />
<text x="173.60" y="499.39" font-size="5.8" text-anchor="end" fill="#231f20" stroke="#231f20" stroke-width="0.14" >12000</text>
<rect x="181.70" y="506.26" width="5.80" height="34.94" fill="#fff" stroke="#8aa3c6" stroke-width="1.0" />
<circle cx="183.00" cy="503.89" r="1.35" fill="#3d5a86"/>
<circle cx="185.00" cy="505.35" r="1.35" fill="#3d5a86"/>
<circle cx="184.20" cy="508.64" r="1.35" fill="#3d5a86"/>
<rect x="189.40" y="538.27" width="4.80" height="2.93" fill="#fff" stroke="#c9646f" stroke-width="1.0" />
<circle cx="190.80" cy="538.27" r="1.35" fill="#ad2b37"/>
<circle cx="192.60" cy="538.64" r="1.35" fill="#ad2b37"/>
<rect x="215.40" y="521.08" width="5.40" height="20.12" fill="#fff" stroke="#8aa3c6" stroke-width="1.0" />
<circle cx="217.00" cy="520.71" r="1.35" fill="#3d5a86"/>
<circle cx="219.00" cy="521.08" r="1.35" fill="#3d5a86"/>
<rect x="222.70" y="527.66" width="5.20" height="13.54" fill="#fff" stroke="#c9646f" stroke-width="1.0" />
<circle cx="224.30" cy="525.84" r="1.35" fill="#ad2b37"/>
<circle cx="226.20" cy="528.03" r="1.35" fill="#ad2b37"/>
<circle cx="225.00" cy="529.13" r="1.35" fill="#ad2b37"/>
<text x="199.40" y="538.60" font-size="5.4" text-anchor="middle" fill="#333" stroke="#333" stroke-width="0.14" textLength="8.2" lengthAdjust="spacingAndGlyphs" >n.d.</text>
<text x="207.60" y="538.60" font-size="5.4" text-anchor="middle" fill="#333" stroke="#333" stroke-width="0.14" textLength="8.2" lengthAdjust="spacingAndGlyphs" >n.d.</text>
<text x="232.80" y="538.60" font-size="5.4" text-anchor="middle" fill="#333" stroke="#333" stroke-width="0.14" textLength="8.2" lengthAdjust="spacingAndGlyphs" >n.d.</text>
<text x="241.00" y="538.60" font-size="5.4" text-anchor="middle" fill="#333" stroke="#333" stroke-width="0.14" textLength="8.2" lengthAdjust="spacingAndGlyphs" >n.d.</text>
<circle cx="199.00" cy="541.20" r="1.6" fill="#6fa9dc"/>
<circle cx="206.20" cy="541.20" r="1.6" fill="#66ad47"/>
<circle cx="232.70" cy="541.20" r="1.6" fill="#6fa9dc"/>
<circle cx="240.00" cy="541.20" r="1.6" fill="#66ad47"/>
<line x1="196.20" y1="541.20" x2="196.20" y2="543.00" stroke="#111" stroke-width="0.7" />
<line x1="229.20" y1="541.20" x2="229.20" y2="543.00" stroke="#111" stroke-width="0.7" />
<line x1="184.60" y1="482.50" x2="206.70" y2="482.50" stroke="#333" stroke-width="0.85" />
<text x="195.75" y="482.65" font-size="6.6" text-anchor="middle" fill="#222" stroke="#222" stroke-width="0.35" textLength="10.3" lengthAdjust="spacingAndGlyphs" >****</text>
<line x1="184.60" y1="491.50" x2="199.60" y2="491.50" stroke="#333" stroke-width="0.85" />
<text x="192.20" y="491.65" font-size="6.6" text-anchor="middle" fill="#222" stroke="#222" stroke-width="0.35" textLength="10.3" lengthAdjust="spacingAndGlyphs" >****</text>
<line x1="184.60" y1="499.50" x2="193.30" y2="499.50" stroke="#333" stroke-width="0.85" />
<text x="189.05" y="499.65" font-size="6.6" text-anchor="middle" fill="#222" stroke="#222" stroke-width="0.35" textLength="10.3" lengthAdjust="spacingAndGlyphs" >****</text>
<line x1="218.80" y1="482.50" x2="240.80" y2="482.50" stroke="#333" stroke-width="0.85" />
<text x="229.90" y="482.65" font-size="6.6" text-anchor="middle" fill="#222" stroke="#222" stroke-width="0.35" textLength="10.3" lengthAdjust="spacingAndGlyphs" >****</text>
<line x1="218.80" y1="491.50" x2="233.70" y2="491.50" stroke="#333" stroke-width="0.85" />
<text x="226.35" y="491.65" font-size="6.6" text-anchor="middle" fill="#222" stroke="#222" stroke-width="0.35" textLength="10.3" lengthAdjust="spacingAndGlyphs" >****</text>
<line x1="218.80" y1="499.50" x2="226.50" y2="499.50" stroke="#333" stroke-width="0.85" />
<text x="222.75" y="499.65" font-size="6.6" text-anchor="middle" fill="#222" stroke="#222" stroke-width="0.35" textLength="10.3" lengthAdjust="spacingAndGlyphs" >****</text>
<text x="195.60" y="552.40" font-size="6.4" text-anchor="middle" fill="#231f20" stroke="#231f20" stroke-width="0.14" textLength="9.6" lengthAdjust="spacingAndGlyphs" >IL-2</text>
<text x="228.80" y="552.40" font-size="6.4" text-anchor="middle" fill="#231f20" stroke="#231f20" stroke-width="0.14" textLength="11.2" lengthAdjust="spacingAndGlyphs" >IFNγ</text>
<text x="21.60" y="517.50" font-size="7.3" text-anchor="middle" fill="#231f20" stroke="#231f20" stroke-width="0.14" textLength="58.5" lengthAdjust="spacingAndGlyphs" transform="rotate(-90 21.60 517.50)" >Cytokine secretion</text>
<text x="30.30" y="517.50" font-size="7.3" text-anchor="middle" fill="#231f20" stroke="#231f20" stroke-width="0.14" textLength="23.8" lengthAdjust="spacingAndGlyphs" transform="rotate(-90 30.30 517.50)" >(pg/mL)</text>
<text x="143.50" y="517.50" font-size="7.3" text-anchor="middle" fill="#231f20" stroke="#231f20" stroke-width="0.14" textLength="58.0" lengthAdjust="spacingAndGlyphs" transform="rotate(-90 143.50 517.50)" >Cytokine secretion</text>
<text x="152.20" y="517.50" font-size="7.3" text-anchor="middle" fill="#231f20" stroke="#231f20" stroke-width="0.14" textLength="23.3" lengthAdjust="spacingAndGlyphs" transform="rotate(-90 152.20 517.50)" >(pg/mL)</text>
<line x1="60.40" y1="633.10" x2="125.20" y2="633.10" stroke="#111" stroke-width="0.9" />
<line x1="60.40" y1="633.55" x2="60.40" y2="587.60" stroke="#111" stroke-width="0.9" />
<line x1="57.20" y1="633.10" x2="60.40" y2="633.10" stroke="#111" stroke-width="0.7" />
<text x="54.20" y="635.19" font-size="5.8" text-anchor="end" fill="#231f20" stroke="#231f20" stroke-width="0.14" >0</text>
<line x1="57.20" y1="624.56" x2="60.40" y2="624.56" stroke="#111" stroke-width="0.7" />
<text x="54.20" y="626.65" font-size="5.8" text-anchor="end" fill="#231f20" stroke="#231f20" stroke-width="0.14" >20</text>
<line x1="57.20" y1="616.02" x2="60.40" y2="616.02" stroke="#111" stroke-width="0.7" />
<text x="54.20" y="618.11" font-size="5.8" text-anchor="end" fill="#231f20" stroke="#231f20" stroke-width="0.14" >40</text>
<line x1="57.20" y1="607.48" x2="60.40" y2="607.48" stroke="#111" stroke-width="0.7" />
<text x="54.20" y="609.57" font-size="5.8" text-anchor="end" fill="#231f20" stroke="#231f20" stroke-width="0.14" >60</text>
<line x1="57.20" y1="598.94" x2="60.40" y2="598.94" stroke="#111" stroke-width="0.7" />
<text x="54.20" y="601.03" font-size="5.8" text-anchor="end" fill="#231f20" stroke="#231f20" stroke-width="0.14" >80</text>
<line x1="57.20" y1="590.40" x2="60.40" y2="590.40" stroke="#111" stroke-width="0.7" />
<text x="54.20" y="592.49" font-size="5.8" text-anchor="end" fill="#231f20" stroke="#231f20" stroke-width="0.14" >100</text>
<ellipse cx="65.00" cy="590.40" rx="2.5" ry="1.8" fill="#3d5a86"/>
<circle cx="72.70" cy="613.03" r="1.6" fill="#ad2b37"/>
<circle cx="74.60" cy="615.59" r="1.6" fill="#ad2b37"/>
<circle cx="70.90" cy="620.72" r="1.6" fill="#ad2b37"/>
<line x1="69.90" y1="616.45" x2="75.10" y2="616.45" stroke="#ad2b37" stroke-width="0.8" />
<line x1="72.50" y1="618.58" x2="72.50" y2="614.31" stroke="#ad2b37" stroke-width="0.6" />
<circle cx="79.60" cy="633.10" r="1.75" fill="#6fa9dc"/>
<circle cx="86.70" cy="633.10" r="1.75" fill="#66ad47"/>
<ellipse cx="98.30" cy="590.40" rx="2.5" ry="1.8" fill="#3d5a86"/>
<circle cx="104.50" cy="611.11" r="1.6" fill="#ad2b37"/>
<circle cx="105.50" cy="612.18" r="1.6" fill="#ad2b37"/>
<circle cx="105.00" cy="611.54" r="1.6" fill="#ad2b37"/>
<line x1="102.40" y1="611.75" x2="107.60" y2="611.75" stroke="#ad2b37" stroke-width="0.8" />
<line x1="105.00" y1="613.88" x2="105.00" y2="609.62" stroke="#ad2b37" stroke-width="0.6" />
<circle cx="112.70" cy="633.10" r="1.75" fill="#6fa9dc"/>
<circle cx="119.40" cy="633.10" r="1.75" fill="#66ad47"/>
<line x1="77.10" y1="633.10" x2="77.10" y2="634.90" stroke="#111" stroke-width="0.7" />
<line x1="109.20" y1="633.10" x2="109.20" y2="634.90" stroke="#111" stroke-width="0.7" />
<line x1="65.00" y1="569.00" x2="87.30" y2="569.00" stroke="#333" stroke-width="0.85" />
<text x="76.25" y="569.15" font-size="6.6" text-anchor="middle" fill="#222" stroke="#222" stroke-width="0.35" textLength="10.3" lengthAdjust="spacingAndGlyphs" >****</text>
<line x1="65.00" y1="578.00" x2="80.00" y2="578.00" stroke="#333" stroke-width="0.85" />
<text x="72.60" y="578.15" font-size="6.6" text-anchor="middle" fill="#222" stroke="#222" stroke-width="0.35" textLength="10.3" lengthAdjust="spacingAndGlyphs" >****</text>
<line x1="65.00" y1="586.50" x2="73.80" y2="586.50" stroke="#333" stroke-width="0.85" />
<text x="69.50" y="586.65" font-size="6.6" text-anchor="middle" fill="#222" stroke="#222" stroke-width="0.35" textLength="10.3" lengthAdjust="spacingAndGlyphs" >****</text>
<line x1="99.20" y1="569.00" x2="121.30" y2="569.00" stroke="#333" stroke-width="0.85" />
<text x="110.35" y="569.15" font-size="6.6" text-anchor="middle" fill="#222" stroke="#222" stroke-width="0.35" textLength="10.3" lengthAdjust="spacingAndGlyphs" >****</text>
<line x1="99.20" y1="578.00" x2="114.20" y2="578.00" stroke="#333" stroke-width="0.85" />
<text x="106.80" y="578.15" font-size="6.6" text-anchor="middle" fill="#222" stroke="#222" stroke-width="0.35" textLength="10.3" lengthAdjust="spacingAndGlyphs" >****</text>
<line x1="99.20" y1="586.50" x2="106.90" y2="586.50" stroke="#333" stroke-width="0.85" />
<text x="103.15" y="586.65" font-size="6.6" text-anchor="middle" fill="#222" stroke="#222" stroke-width="0.35" textLength="10.3" lengthAdjust="spacingAndGlyphs" >****</text>
<text x="75.10" y="644.00" font-size="6.4" text-anchor="middle" fill="#231f20" stroke="#231f20" stroke-width="0.14" textLength="9.6" lengthAdjust="spacingAndGlyphs" >IL-2</text>
<text x="108.40" y="644.00" font-size="6.4" text-anchor="middle" fill="#231f20" stroke="#231f20" stroke-width="0.14" textLength="11.2" lengthAdjust="spacingAndGlyphs" >IFNγ</text>
<line x1="179.80" y1="633.10" x2="244.20" y2="633.10" stroke="#111" stroke-width="0.9" />
<line x1="179.80" y1="633.55" x2="179.80" y2="587.60" stroke="#111" stroke-width="0.9" />
<line x1="176.60" y1="633.10" x2="179.80" y2="633.10" stroke="#111" stroke-width="0.7" />
<text x="173.60" y="635.19" font-size="5.8" text-anchor="end" fill="#231f20" stroke="#231f20" stroke-width="0.14" >0</text>
<line x1="176.60" y1="624.56" x2="179.80" y2="624.56" stroke="#111" stroke-width="0.7" />
<text x="173.60" y="626.65" font-size="5.8" text-anchor="end" fill="#231f20" stroke="#231f20" stroke-width="0.14" >20</text>
<line x1="176.60" y1="616.02" x2="179.80" y2="616.02" stroke="#111" stroke-width="0.7" />
<text x="173.60" y="618.11" font-size="5.8" text-anchor="end" fill="#231f20" stroke="#231f20" stroke-width="0.14" >40</text>
<line x1="176.60" y1="607.48" x2="179.80" y2="607.48" stroke="#111" stroke-width="0.7" />
<text x="173.60" y="609.57" font-size="5.8" text-anchor="end" fill="#231f20" stroke="#231f20" stroke-width="0.14" >60</text>
<line x1="176.60" y1="598.94" x2="179.80" y2="598.94" stroke="#111" stroke-width="0.7" />
<text x="173.60" y="601.03" font-size="5.8" text-anchor="end" fill="#231f20" stroke="#231f20" stroke-width="0.14" >80</text>
<line x1="176.60" y1="590.40" x2="179.80" y2="590.40" stroke="#111" stroke-width="0.7" />
<text x="173.60" y="592.49" font-size="5.8" text-anchor="end" fill="#231f20" stroke="#231f20" stroke-width="0.14" >100</text>
<ellipse cx="184.20" cy="590.40" rx="2.5" ry="1.8" fill="#3d5a86"/>
<circle cx="192.20" cy="623.28" r="1.6" fill="#ad2b37"/>
<circle cx="194.10" cy="627.72" r="1.6" fill="#ad2b37"/>
<circle cx="190.40" cy="629.68" r="1.6" fill="#ad2b37"/>
<line x1="189.40" y1="627.12" x2="194.60" y2="627.12" stroke="#ad2b37" stroke-width="0.8" />
<line x1="192.00" y1="629.26" x2="192.00" y2="624.99" stroke="#ad2b37" stroke-width="0.6" />
<circle cx="198.50" cy="633.10" r="1.75" fill="#6fa9dc"/>
<circle cx="205.80" cy="633.10" r="1.75" fill="#66ad47"/>
<ellipse cx="217.70" cy="590.40" rx="2.5" ry="1.8" fill="#3d5a86"/>
<circle cx="225.50" cy="600.82" r="1.6" fill="#ad2b37"/>
<circle cx="227.40" cy="603.85" r="1.6" fill="#ad2b37"/>
<circle cx="223.70" cy="607.05" r="1.6" fill="#ad2b37"/>
<line x1="222.70" y1="604.06" x2="227.90" y2="604.06" stroke="#ad2b37" stroke-width="0.8" />
<line x1="225.30" y1="606.20" x2="225.30" y2="601.93" stroke="#ad2b37" stroke-width="0.6" />
<circle cx="232.30" cy="633.10" r="1.75" fill="#6fa9dc"/>
<circle cx="238.80" cy="633.10" r="1.75" fill="#66ad47"/>
<line x1="195.80" y1="633.10" x2="195.80" y2="634.90" stroke="#111" stroke-width="0.7" />
<line x1="229.20" y1="633.10" x2="229.20" y2="634.90" stroke="#111" stroke-width="0.7" />
<line x1="184.60" y1="569.00" x2="206.70" y2="569.00" stroke="#333" stroke-width="0.85" />
<text x="195.75" y="569.15" font-size="6.6" text-anchor="middle" fill="#222" stroke="#222" stroke-width="0.35" textLength="10.3" lengthAdjust="spacingAndGlyphs" >****</text>
<line x1="184.60" y1="578.00" x2="199.60" y2="578.00" stroke="#333" stroke-width="0.85" />
<text x="192.20" y="578.15" font-size="6.6" text-anchor="middle" fill="#222" stroke="#222" stroke-width="0.35" textLength="10.3" lengthAdjust="spacingAndGlyphs" >****</text>
<line x1="184.60" y1="586.50" x2="193.30" y2="586.50" stroke="#333" stroke-width="0.85" />
<text x="189.05" y="586.65" font-size="6.6" text-anchor="middle" fill="#222" stroke="#222" stroke-width="0.35" textLength="10.3" lengthAdjust="spacingAndGlyphs" >****</text>
<line x1="218.80" y1="569.00" x2="240.80" y2="569.00" stroke="#333" stroke-width="0.85" />
<text x="229.90" y="569.15" font-size="6.6" text-anchor="middle" fill="#222" stroke="#222" stroke-width="0.35" textLength="10.3" lengthAdjust="spacingAndGlyphs" >****</text>
<line x1="218.80" y1="578.00" x2="233.10" y2="578.00" stroke="#333" stroke-width="0.85" />
<text x="226.05" y="578.15" font-size="6.6" text-anchor="middle" fill="#222" stroke="#222" stroke-width="0.35" textLength="10.3" lengthAdjust="spacingAndGlyphs" >****</text>
<line x1="218.80" y1="586.50" x2="226.00" y2="586.50" stroke="#333" stroke-width="0.85" />
<text x="222.50" y="586.65" font-size="6.6" text-anchor="middle" fill="#222" stroke="#222" stroke-width="0.35" textLength="10.3" lengthAdjust="spacingAndGlyphs" >****</text>
<text x="194.80" y="644.00" font-size="6.4" text-anchor="middle" fill="#231f20" stroke="#231f20" stroke-width="0.14" textLength="9.6" lengthAdjust="spacingAndGlyphs" >IL-2</text>
<text x="227.60" y="644.00" font-size="6.4" text-anchor="middle" fill="#231f20" stroke="#231f20" stroke-width="0.14" textLength="11.2" lengthAdjust="spacingAndGlyphs" >IFNγ</text>
<text x="29.80" y="610.80" font-size="7.3" text-anchor="middle" fill="#231f20" stroke="#231f20" stroke-width="0.14" textLength="58" lengthAdjust="spacingAndGlyphs" transform="rotate(-90 29.80 610.80)" >Cytokine secretion</text>
<text x="38.30" y="610.80" font-size="7.3" text-anchor="middle" fill="#231f20" stroke="#231f20" stroke-width="0.14" textLength="63.3" lengthAdjust="spacingAndGlyphs" transform="rotate(-90 38.30 610.80)" >(normalized to max)</text>
<text x="150.90" y="610.80" font-size="7.3" text-anchor="middle" fill="#231f20" stroke="#231f20" stroke-width="0.14" textLength="58" lengthAdjust="spacingAndGlyphs" transform="rotate(-90 150.90 610.80)" >Cytokine secretion</text>
<text x="159.30" y="610.80" font-size="7.3" text-anchor="middle" fill="#231f20" stroke="#231f20" stroke-width="0.14" textLength="63.3" lengthAdjust="spacingAndGlyphs" transform="rotate(-90 159.30 610.80)" >(normalized to max)</text>
<circle cx="61.30" cy="655.50" r="2.6" fill="#3d5a86"/>
<text x="67.10" y="657.40" font-size="5.4" text-anchor="start" fill="#333" stroke="#333" stroke-width="0.1" textLength="16" lengthAdjust="spacingAndGlyphs" >Vehicle</text>
<circle cx="61.30" cy="664.40" r="2.6" fill="#ad2b37"/>
<text x="67.10" y="666.30" font-size="5.4" text-anchor="start" fill="#333" stroke="#333" stroke-width="0.1" textLength="35" lengthAdjust="spacingAndGlyphs" >10nM dasatinib</text>
<circle cx="180.00" cy="655.70" r="2.6" fill="#6fa9dc"/>
<text x="185.80" y="657.60" font-size="5.4" text-anchor="start" fill="#333" stroke="#333" stroke-width="0.1" textLength="37" lengthAdjust="spacingAndGlyphs" >100nM dasatinib</text>
<circle cx="180.00" cy="664.40" r="2.6" fill="#66ad47"/>
<text x="185.80" y="666.30" font-size="5.4" text-anchor="start" fill="#333" stroke="#333" stroke-width="0.1" textLength="40" lengthAdjust="spacingAndGlyphs" >1000nM dasatinib</text>
<defs><filter id="bl" x="-30%" y="-60%" width="160%" height="220%"><feGaussianBlur stdDeviation="0.55"/></filter><filter id="bl2" x="-10%" y="-50%" width="120%" height="200%"><feGaussianBlur stdDeviation="0.9"/></filter></defs>
<text x="261.00" y="386.60" font-size="11.2" text-anchor="start" fill="#231f20" stroke="#231f20" stroke-width="0.14" textLength="5.4" lengthAdjust="spacingAndGlyphs" >F</text>
<text x="306.00" y="387.80" font-size="6.6" text-anchor="middle" fill="#231f20" stroke="#231f20" stroke-width="0.14" textLength="25.7" lengthAdjust="spacingAndGlyphs" >CD19.28ζ</text>
<text x="385.40" y="387.80" font-size="6.6" text-anchor="middle" fill="#231f20" stroke="#231f20" stroke-width="0.14" textLength="26.7" lengthAdjust="spacingAndGlyphs" >CD19.BBζ</text>
<line x1="272.00" y1="392.00" x2="340.00" y2="392.00" stroke="#333" stroke-width="1.0" />
<line x1="352.50" y1="392.00" x2="417.50" y2="392.00" stroke="#333" stroke-width="1.0" />
<line x1="274.20" y1="404.10" x2="302.50" y2="404.10" stroke="#333" stroke-width="1.0" />
<line x1="311.20" y1="404.10" x2="339.50" y2="404.10" stroke="#333" stroke-width="1.0" />
<line x1="352.50" y1="404.10" x2="380.50" y2="404.10" stroke="#333" stroke-width="1.0" />
<line x1="389.20" y1="404.10" x2="418.00" y2="404.10" stroke="#333" stroke-width="1.0" />
<text x="288.20" y="399.60" font-size="5.6" text-anchor="middle" fill="#231f20" stroke="#231f20" stroke-width="0.14" >-</text>
<text x="325.50" y="399.60" font-size="5.6" text-anchor="middle" fill="#231f20" stroke="#231f20" stroke-width="0.14" >+</text>
<text x="366.50" y="399.60" font-size="5.6" text-anchor="middle" fill="#231f20" stroke="#231f20" stroke-width="0.14" >-</text>
<text x="403.60" y="399.60" font-size="5.6" text-anchor="middle" fill="#231f20" stroke="#231f20" stroke-width="0.14" >+</text>
<text x="278.30" y="412.20" font-size="5.6" text-anchor="middle" fill="#231f20" stroke="#231f20" stroke-width="0.14" >-</text>
<text x="297.00" y="412.20" font-size="5.6" text-anchor="middle" fill="#231f20" stroke="#231f20" stroke-width="0.14" >+</text>
<text x="315.80" y="412.20" font-size="5.6" text-anchor="middle" fill="#231f20" stroke="#231f20" stroke-width="0.14" >-</text>
<text x="334.30" y="412.20" font-size="5.6" text-anchor="middle" fill="#231f20" stroke="#231f20" stroke-width="0.14" >+</text>
<text x="357.30" y="412.20" font-size="5.6" text-anchor="middle" fill="#231f20" stroke="#231f20" stroke-width="0.14" >-</text>
<text x="376.30" y="412.20" font-size="5.6" text-anchor="middle" fill="#231f20" stroke="#231f20" stroke-width="0.14" >+</text>
<text x="395.40" y="412.20" font-size="5.6" text-anchor="middle" fill="#231f20" stroke="#231f20" stroke-width="0.14" >-</text>
<text x="413.70" y="412.20" font-size="5.6" text-anchor="middle" fill="#231f20" stroke="#231f20" stroke-width="0.14" >+</text>
<text x="425.30" y="400.10" font-size="6.5" text-anchor="start" fill="#231f20" stroke="#231f20" stroke-width="0.14" textLength="56" lengthAdjust="spacingAndGlyphs" >Idiotype crosslinking</text>
<text x="425.30" y="411.50" font-size="6.5" text-anchor="start" fill="#231f20" stroke="#231f20" stroke-width="0.14" textLength="26" lengthAdjust="spacingAndGlyphs" >Dasatinib</text>
<text x="425.00" y="426.70" font-size="6.5" text-anchor="start" fill="#231f20" stroke="#231f20" stroke-width="0.14" textLength="33.4" lengthAdjust="spacingAndGlyphs" >CAR p-CD3z</text>
<text x="425.00" y="441.70" font-size="6.5" text-anchor="start" fill="#231f20" stroke="#231f20" stroke-width="0.14" textLength="42" lengthAdjust="spacingAndGlyphs" >Total CAR CD3z</text>
<text x="425.00" y="456.70" font-size="6.5" text-anchor="start" fill="#231f20" stroke="#231f20" stroke-width="0.14" textLength="15.2" lengthAdjust="spacingAndGlyphs" >p-Lck</text>
<text x="425.00" y="467.40" font-size="6.5" text-anchor="start" fill="#231f20" stroke="#231f20" stroke-width="0.14" textLength="24.5" lengthAdjust="spacingAndGlyphs" >Total-Lck</text>
<text x="425.00" y="483.50" font-size="6.5" text-anchor="start" fill="#231f20" stroke="#231f20" stroke-width="0.14" textLength="25.2" lengthAdjust="spacingAndGlyphs" >p-ERK1/2</text>
<text x="425.00" y="501.70" font-size="6.5" text-anchor="start" fill="#231f20" stroke="#231f20" stroke-width="0.14" textLength="34.2" lengthAdjust="spacingAndGlyphs" >Total-ERK1/2</text>
<rect x="269.30" y="416.30" width="73.20" height="13.10" fill="#e2e2e2" />
<rect x="269.30" y="430.60" width="73.20" height="15.20" fill="#d9d9d9" />
<rect x="269.30" y="429.20" width="73.20" height="1.60" fill="#f6f6f6" />
<rect x="269.30" y="449.30" width="73.20" height="9.60" fill="#e4e4e4" />
<rect x="269.30" y="460.10" width="73.20" height="9.50" fill="#d8d8d8" />
<rect x="269.30" y="458.70" width="73.20" height="1.60" fill="#f6f6f6" />
<rect x="269.30" y="472.60" width="73.20" height="15.60" fill="#e6e6e6" />
<rect x="269.30" y="489.40" width="73.20" height="16.90" fill="#dcdcdc" />
<rect x="269.30" y="488.00" width="73.20" height="1.60" fill="#f6f6f6" />
<rect x="347.60" y="416.30" width="74.40" height="13.10" fill="#d9d9d9" />
<rect x="347.60" y="430.60" width="74.40" height="15.20" fill="#e3e3e3" />
<rect x="347.60" y="429.20" width="74.40" height="1.60" fill="#f6f6f6" />
<rect x="347.60" y="449.30" width="74.40" height="9.60" fill="#eeeeee" />
<rect x="347.60" y="460.10" width="74.40" height="9.50" fill="#cdcdcd" />
<rect x="347.60" y="458.70" width="74.40" height="1.60" fill="#f6f6f6" />
<rect x="347.60" y="472.60" width="74.40" height="15.60" fill="#e2e2e2" />
<rect x="347.60" y="489.40" width="74.40" height="16.90" fill="#e4e4e4" />
<rect x="347.60" y="488.00" width="74.40" height="1.60" fill="#f6f6f6" />
<rect x="308.80" y="421.10" width="14.00" height="5.40" rx="2.70" fill="#1a1a1a" fill-opacity="1.0" filter="url(#bl)"/>
<rect x="272.80" y="422.00" width="11.00" height="3.00" rx="1.50" fill="#c4c4c4" fill-opacity="0.6" filter="url(#bl)"/>
<rect x="271.80" y="436.70" width="13.00" height="4.20" rx="2.10" fill="#3a3a3a" fill-opacity="0.95" filter="url(#bl)"/>
<rect x="272.30" y="441.70" width="12.00" height="1.80" rx="0.90" fill="#8a8a8a" fill-opacity="0.7" filter="url(#bl)"/>
<rect x="291.00" y="437.10" width="12.00" height="3.40" rx="1.70" fill="#4a4a4a" fill-opacity="0.95" filter="url(#bl)"/>
<rect x="291.50" y="441.70" width="11.00" height="1.80" rx="0.90" fill="#8a8a8a" fill-opacity="0.7" filter="url(#bl)"/>
<rect x="309.30" y="436.80" width="13.00" height="4.00" rx="2.00" fill="#3a3a3a" fill-opacity="0.95" filter="url(#bl)"/>
<rect x="309.80" y="441.70" width="12.00" height="1.80" rx="0.90" fill="#8a8a8a" fill-opacity="0.7" filter="url(#bl)"/>
<rect x="327.80" y="436.70" width="13.00" height="4.20" rx="2.10" fill="#2e2e2e" fill-opacity="0.95" filter="url(#bl)"/>
<rect x="328.30" y="441.70" width="12.00" height="1.80" rx="0.90" fill="#8a8a8a" fill-opacity="0.7" filter="url(#bl)"/>
<rect x="307.80" y="450.40" width="16.00" height="8.00" rx="4.00" fill="#0a0a0a" fill-opacity="1.0" filter="url(#bl)"/>
<rect x="272.80" y="452.90" width="11.00" height="2.20" rx="1.10" fill="#aaaaaa" fill-opacity="0.7" filter="url(#bl)"/>
<rect x="272.30" y="464.40" width="12.00" height="2.40" rx="1.20" fill="#555555" fill-opacity="0.9" filter="url(#bl)"/>
<rect x="291.00" y="464.40" width="12.00" height="2.40" rx="1.20" fill="#555555" fill-opacity="0.9" filter="url(#bl)"/>
<rect x="309.80" y="464.40" width="12.00" height="2.40" rx="1.20" fill="#555555" fill-opacity="0.9" filter="url(#bl)"/>
<rect x="328.30" y="464.40" width="12.00" height="2.40" rx="1.20" fill="#555555" fill-opacity="0.9" filter="url(#bl)"/>
<rect x="309.30" y="477.50" width="13.00" height="2.60" rx="1.30" fill="#3a3a3a" fill-opacity="1.0" filter="url(#bl)"/>
<rect x="309.80" y="482.60" width="12.00" height="2.40" rx="1.20" fill="#555" fill-opacity="0.9" filter="url(#bl)"/>
<rect x="272.80" y="478.00" width="11.00" height="1.60" rx="0.80" fill="#999" fill-opacity="0.8" filter="url(#bl)"/>
<rect x="272.80" y="483.10" width="11.00" height="1.40" rx="0.70" fill="#aaa" fill-opacity="0.7" filter="url(#bl)"/>
<rect x="292.00" y="478.10" width="10.00" height="1.40" rx="0.70" fill="#b5b5b5" fill-opacity="0.7" filter="url(#bl)"/>
<rect x="329.30" y="478.10" width="10.00" height="1.40" rx="0.70" fill="#bbb" fill-opacity="0.6" filter="url(#bl)"/>
<rect x="271.80" y="494.40" width="13.00" height="2.80" rx="1.40" fill="#333333" fill-opacity="0.95" filter="url(#bl)"/>
<rect x="271.80" y="500.80" width="13.00" height="2.40" rx="1.20" fill="#444444" fill-opacity="0.9" filter="url(#bl)"/>
<rect x="290.50" y="494.40" width="13.00" height="2.80" rx="1.40" fill="#333333" fill-opacity="0.95" filter="url(#bl)"/>
<rect x="290.50" y="500.80" width="13.00" height="2.40" rx="1.20" fill="#444444" fill-opacity="0.9" filter="url(#bl)"/>
<rect x="309.30" y="494.40" width="13.00" height="2.80" rx="1.40" fill="#333333" fill-opacity="0.95" filter="url(#bl)"/>
<rect x="309.30" y="500.80" width="13.00" height="2.40" rx="1.20" fill="#444444" fill-opacity="0.9" filter="url(#bl)"/>
<rect x="327.80" y="494.40" width="13.00" height="2.80" rx="1.40" fill="#333333" fill-opacity="0.95" filter="url(#bl)"/>
<rect x="327.80" y="500.80" width="13.00" height="2.40" rx="1.20" fill="#444444" fill-opacity="0.9" filter="url(#bl)"/>
<rect x="351.80" y="418.60" width="11.00" height="2.40" rx="1.20" fill="#9a9a9a" fill-opacity="0.8" filter="url(#bl)"/>
<rect x="351.80" y="422.70" width="11.00" height="2.20" rx="1.10" fill="#a5a5a5" fill-opacity="0.8" filter="url(#bl)"/>
<rect x="389.90" y="418.60" width="11.00" height="2.40" rx="1.20" fill="#999" fill-opacity="0.8" filter="url(#bl)"/>
<rect x="389.90" y="422.70" width="11.00" height="2.20" rx="1.10" fill="#999" fill-opacity="0.8" filter="url(#bl)"/>
<rect x="371.30" y="419.20" width="10.00" height="1.60" rx="0.80" fill="#c0c0c0" fill-opacity="0.6" filter="url(#bl)"/>
<rect x="408.70" y="419.20" width="10.00" height="1.60" rx="0.80" fill="#c0c0c0" fill-opacity="0.6" filter="url(#bl)"/>
<rect x="351.30" y="432.90" width="12.00" height="3.40" rx="1.70" fill="#6a6a6a" fill-opacity="0.95" filter="url(#bl)"/>
<rect x="351.30" y="441.60" width="12.00" height="2.40" rx="1.20" fill="#9a9a9a" fill-opacity="0.9" filter="url(#bl)"/>
<rect x="369.30" y="432.40" width="14.00" height="4.40" rx="2.20" fill="#2e2e2e" fill-opacity="0.95" filter="url(#bl)"/>
<rect x="369.30" y="441.60" width="14.00" height="2.40" rx="1.20" fill="#555" fill-opacity="0.9" filter="url(#bl)"/>
<rect x="389.40" y="432.90" width="12.00" height="3.40" rx="1.70" fill="#6a6a6a" fill-opacity="0.95" filter="url(#bl)"/>
<rect x="389.40" y="441.60" width="12.00" height="2.40" rx="1.20" fill="#9a9a9a" fill-opacity="0.9" filter="url(#bl)"/>
<rect x="407.20" y="432.50" width="13.00" height="4.20" rx="2.10" fill="#333" fill-opacity="0.95" filter="url(#bl)"/>
<rect x="407.20" y="441.60" width="13.00" height="2.40" rx="1.20" fill="#555" fill-opacity="0.9" filter="url(#bl)"/>
<rect x="351.80" y="453.00" width="11.00" height="2.00" rx="1.00" fill="#a8a8a8" fill-opacity="0.8" filter="url(#bl)"/>
<rect x="389.90" y="453.00" width="11.00" height="2.00" rx="1.00" fill="#a8a8a8" fill-opacity="0.8" filter="url(#bl)"/>
<rect x="351.30" y="464.40" width="12.00" height="2.40" rx="1.20" fill="#5a5a5a" fill-opacity="0.9" filter="url(#bl)"/>
<rect x="370.30" y="464.40" width="12.00" height="2.40" rx="1.20" fill="#5a5a5a" fill-opacity="0.9" filter="url(#bl)"/>
<rect x="389.40" y="464.40" width="12.00" height="2.40" rx="1.20" fill="#5a5a5a" fill-opacity="0.9" filter="url(#bl)"/>
<rect x="407.70" y="464.40" width="12.00" height="2.40" rx="1.20" fill="#5a5a5a" fill-opacity="0.9" filter="url(#bl)"/>
<rect x="351.30" y="477.65" width="12.00" height="1.90" rx="0.95" fill="#777" fill-opacity="0.9" filter="url(#bl)"/>
<rect x="351.30" y="483.00" width="12.00" height="1.60" rx="0.80" fill="#b5b5b5" fill-opacity="0.7" filter="url(#bl)"/>
<rect x="370.30" y="477.65" width="12.00" height="1.90" rx="0.95" fill="#999" fill-opacity="0.9" filter="url(#bl)"/>
<rect x="370.30" y="483.00" width="12.00" height="1.60" rx="0.80" fill="#b5b5b5" fill-opacity="0.7" filter="url(#bl)"/>
<rect x="389.40" y="477.65" width="12.00" height="1.90" rx="0.95" fill="#555" fill-opacity="0.9" filter="url(#bl)"/>
<rect x="389.40" y="483.00" width="12.00" height="1.60" rx="0.80" fill="#b5b5b5" fill-opacity="0.7" filter="url(#bl)"/>
<rect x="407.70" y="477.65" width="12.00" height="1.90" rx="0.95" fill="#999" fill-opacity="0.9" filter="url(#bl)"/>
<rect x="407.70" y="483.00" width="12.00" height="1.60" rx="0.80" fill="#b5b5b5" fill-opacity="0.7" filter="url(#bl)"/>
<rect x="350.80" y="494.30" width="13.00" height="2.60" rx="1.30" fill="#3a3a3a" fill-opacity="0.95" filter="url(#bl)"/>
<rect x="350.80" y="500.70" width="13.00" height="2.20" rx="1.10" fill="#4a4a4a" fill-opacity="0.9" filter="url(#bl)"/>
<rect x="369.80" y="494.30" width="13.00" height="2.60" rx="1.30" fill="#3a3a3a" fill-opacity="0.95" filter="url(#bl)"/>
<rect x="369.80" y="500.70" width="13.00" height="2.20" rx="1.10" fill="#4a4a4a" fill-opacity="0.9" filter="url(#bl)"/>
<rect x="388.90" y="494.30" width="13.00" height="2.60" rx="1.30" fill="#3a3a3a" fill-opacity="0.95" filter="url(#bl)"/>
<rect x="388.90" y="500.70" width="13.00" height="2.20" rx="1.10" fill="#4a4a4a" fill-opacity="0.9" filter="url(#bl)"/>
<rect x="407.20" y="494.30" width="13.00" height="2.60" rx="1.30" fill="#3a3a3a" fill-opacity="0.95" filter="url(#bl)"/>
<rect x="407.20" y="500.70" width="13.00" height="2.20" rx="1.10" fill="#4a4a4a" fill-opacity="0.9" filter="url(#bl)"/>
<rect x="269.30" y="416.30" width="73.20" height="29.50" fill="none" stroke="#111" stroke-width="1.0" />
<rect x="269.30" y="449.30" width="73.20" height="20.30" fill="none" stroke="#111" stroke-width="1.0" />
<rect x="269.30" y="472.60" width="73.20" height="33.70" fill="none" stroke="#111" stroke-width="1.0" />
<rect x="347.60" y="416.30" width="74.40" height="29.50" fill="none" stroke="#111" stroke-width="1.0" />
<rect x="347.60" y="449.30" width="74.40" height="20.30" fill="none" stroke="#111" stroke-width="1.0" />
<rect x="347.60" y="472.60" width="74.40" height="33.70" fill="none" stroke="#111" stroke-width="1.0" />
</svg></body></html>
